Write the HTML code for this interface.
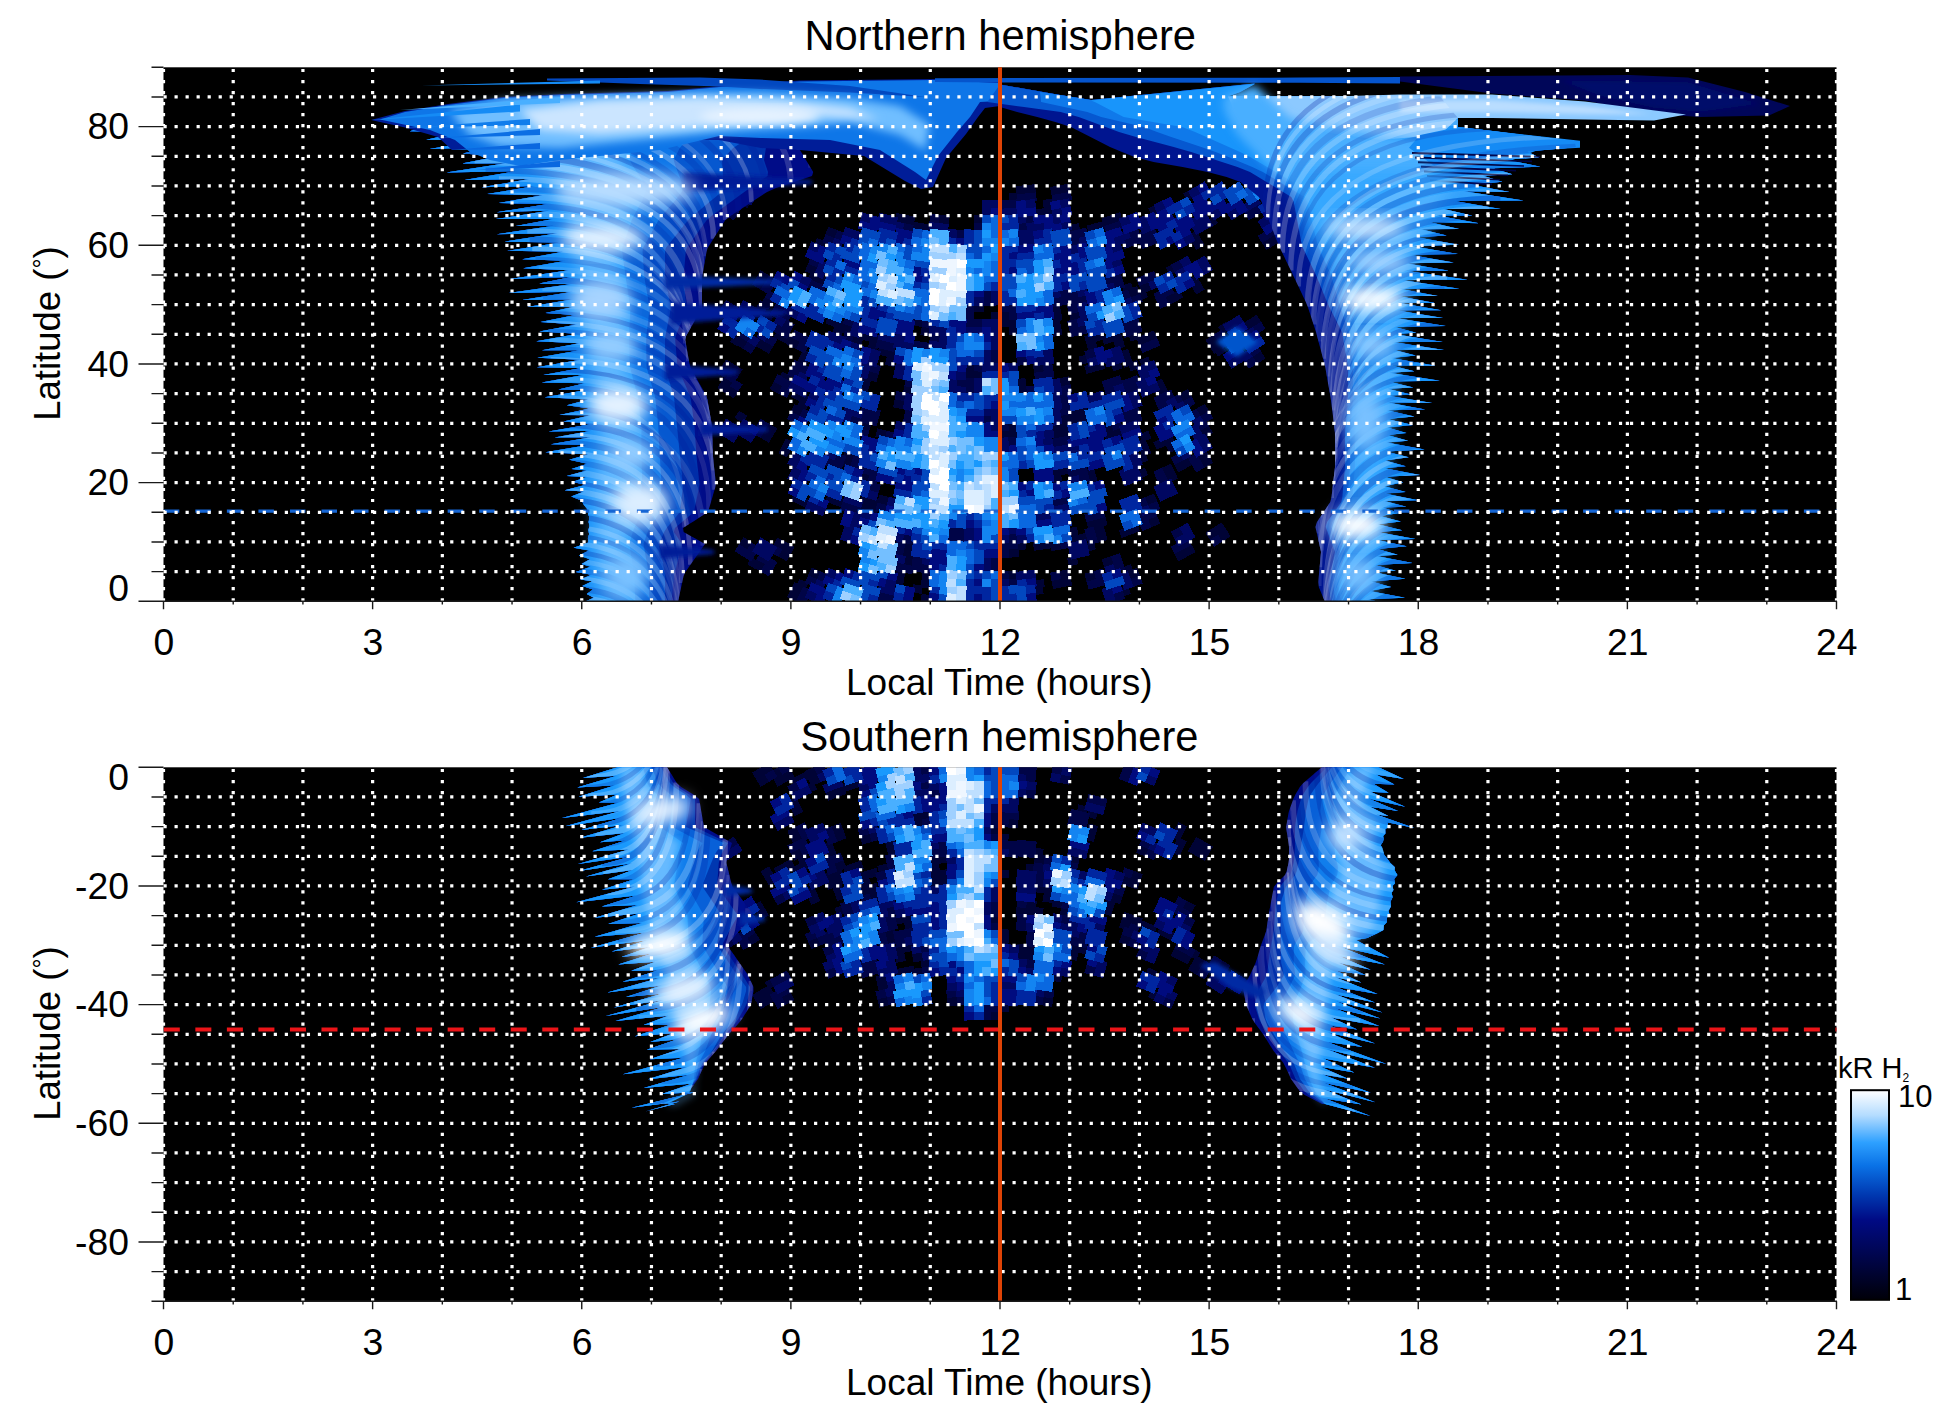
<!DOCTYPE html>
<html lang="en"><head><meta charset="utf-8"><title>Local time maps</title>
<style>
html,body{margin:0;padding:0;background:#fff;}
body{width:1950px;height:1423px;overflow:hidden;font-family:"Liberation Sans",sans-serif;}
svg{display:block;font-family:"Liberation Sans",sans-serif;}
.gr{fill:none;stroke:#fff;stroke-width:3.2;stroke-dasharray:3.2 7.826;}
.tk{fill:none;stroke:#1a1a1a;stroke-width:1.4;}
.tl{font-size:37.3px;fill:#000;}
.cn{font-size:31px;fill:#000;}
.ti{font-size:41.6px;fill:#000;}
.al{font-size:36.5px;fill:#000;}
.cb{font-size:29px;fill:#000;}
</style></head><body>
<svg width="1950" height="1423" viewBox="0 0 1950 1423">
<defs>
<linearGradient id="cbg" x1="0" y1="0" x2="0" y2="1">
<stop offset="0" stop-color="#ffffff"/>
<stop offset="0.12" stop-color="#b4dcff"/>
<stop offset="0.25" stop-color="#2da0ff"/>
<stop offset="0.36" stop-color="#0a72e6"/>
<stop offset="0.50" stop-color="#0038b0"/>
<stop offset="0.62" stop-color="#000a84"/>
<stop offset="0.80" stop-color="#00054a"/>
<stop offset="1" stop-color="#000008"/>
</linearGradient>
<clipPath id="cn"><rect x="163.5" y="67.3" width="1673.0" height="534.0"/></clipPath>
<clipPath id="cs"><rect x="163.5" y="767.3" width="1673.0" height="534.0"/></clipPath>
<filter id="b2" x="-20%" y="-20%" width="140%" height="140%"><feGaussianBlur stdDeviation="2"/></filter>
<filter id="b4" x="-30%" y="-30%" width="160%" height="160%"><feGaussianBlur stdDeviation="4"/></filter>
<filter id="b8" x="-50%" y="-50%" width="200%" height="200%"><feGaussianBlur stdDeviation="8"/></filter>
<filter id="b14" x="-50%" y="-50%" width="200%" height="200%"><feGaussianBlur stdDeviation="14"/></filter>
</defs>
<rect width="1950" height="1423" fill="#fff"/>

<rect x="163.5" y="67.3" width="1673.0" height="534.0" fill="#000"/>
<g clip-path="url(#cn)">
<g shape-rendering="crispEdges"><path d="M1008.8 193.4L1018.5 192.9L1019.0 201.1L1009.3 201.7zM1015.7 186.1L1025.4 185.2L1026.2 193.4L1016.5 194.4zM1025.4 185.2L1035.1 184.2L1035.9 192.4L1026.2 193.4zM1050.0 187.0L1059.6 185.3L1061.1 193.4L1051.5 195.2zM1059.6 185.3L1069.2 183.5L1070.7 191.6L1061.1 193.4zM1183.1 193.4L1191.7 188.9L1195.6 196.3L1186.9 200.8zM743.5 196.0L751.7 201.2L747.3 208.2L739.1 203.1zM1042.5 200.0L1052.1 198.6L1053.3 206.9L1043.7 208.2zM1034.0 209.6L1043.7 208.2L1044.8 216.5L1035.2 217.9zM1043.7 208.2L1053.3 206.9L1054.5 215.1L1044.8 216.5zM1148.2 208.2L1157.2 204.5L1160.4 212.1L1151.4 215.9zM896.3 213.0L905.8 214.9L904.2 223.1L894.6 221.2zM905.8 214.9L915.4 216.8L913.8 225.0L904.2 223.1zM912.0 221.6L921.6 223.1L920.4 231.3L910.7 229.8zM921.6 223.1L931.3 224.6L930.0 232.8L920.4 231.3zM940.0 214.8L949.7 215.9L948.8 224.2L939.1 223.1zM974.2 214.8L983.9 215.0L983.7 223.3L973.9 223.1zM1069.0 225.3L1078.5 223.1L1080.4 231.2L1070.9 233.4zM1086.5 225.7L1095.9 223.1L1098.2 231.1L1088.7 233.7zM1095.9 223.1L1105.4 220.5L1107.6 228.5L1098.2 231.1zM1101.5 218.2L1110.8 215.2L1113.4 223.1L1104.1 226.1zM1110.8 215.2L1120.1 212.2L1122.7 220.1L1113.4 223.1zM1205.3 221.2L1213.6 216.0L1218.0 223.1L1209.7 228.3zM817.1 237.9L826.0 241.8L822.7 249.4L813.8 245.5zM828.3 226.7L837.5 230.2L834.5 237.9L825.4 234.4zM1187.9 235.6L1196.4 230.7L1200.5 237.9L1192.1 242.8zM1192.1 242.8L1200.5 237.9L1204.7 245.1L1196.2 250.0zM1262.0 243.1L1270.2 237.9L1274.6 245.0L1266.4 250.1zM1270.2 237.9L1278.5 232.7L1282.9 239.8L1274.6 245.0zM808.1 263.7L817.1 267.6L813.8 275.2L804.8 271.3zM1165.7 267.6L1174.5 263.4L1178.0 271.0L1169.2 275.1zM760.6 270.3L769.0 275.3L764.8 282.4L756.4 277.4zM756.4 277.4L764.8 282.4L760.5 289.6L752.1 284.6zM811.4 270.9L820.4 274.8L817.1 282.4L808.1 278.5zM820.4 274.8L829.3 278.7L826.0 286.3L817.1 282.4zM1121.6 285.8L1130.8 282.4L1133.7 290.2L1124.5 293.6zM1139.2 286.2L1148.2 282.4L1151.4 290.1L1142.4 293.8zM1187.9 280.1L1196.4 275.2L1200.5 282.4L1192.1 287.3zM1192.1 287.3L1200.5 282.4L1204.7 289.6L1196.2 294.5zM764.8 297.2L773.2 302.2L768.9 309.4L760.5 304.4zM1127.9 289.5L1137.1 286.1L1140.0 293.9L1130.8 297.2zM1136.0 293.4L1145.0 289.6L1148.2 297.2L1139.2 301.0zM1165.7 297.2L1174.5 293.1L1178.0 300.6L1169.2 304.8zM1170.6 294.4L1179.3 289.9L1183.1 297.2L1174.4 301.8zM760.6 300.0L769.0 304.9L764.8 312.1L756.4 307.1zM756.4 307.1L764.8 312.1L760.5 319.2L752.1 314.3zM764.8 312.1L773.2 317.1L768.9 324.2L760.5 319.2zM974.2 303.8L983.9 304.0L983.7 312.3L973.9 312.1zM991.4 312.1L1001.1 311.9L1001.3 320.2L991.5 320.4zM999.1 312.6L1008.8 312.1L1009.3 320.4L999.5 320.9zM1050.0 305.7L1059.6 303.9L1061.1 312.1L1051.5 313.9zM1051.5 313.9L1061.1 312.1L1062.6 320.2L1053.0 322.0zM1069.0 314.3L1078.5 312.1L1080.4 320.2L1070.9 322.4zM828.3 315.7L837.5 319.2L834.5 326.9L825.4 323.4zM837.5 319.2L846.6 322.6L843.6 330.4L834.5 326.9zM834.5 326.9L843.6 330.4L840.6 338.2L831.5 334.7zM842.7 323.8L851.9 326.9L849.3 334.8L840.0 331.7zM913.3 317.2L922.9 318.7L921.6 326.9L912.0 325.4zM921.6 326.9L931.3 328.4L930.0 336.6L920.4 335.1zM998.6 319.2L1008.3 318.6L1008.8 326.9L999.1 327.5zM1008.3 318.6L1018.1 318.1L1018.5 326.3L1008.8 326.9zM1008.8 326.9L1018.5 326.3L1019.0 334.6L1009.3 335.2zM1050.0 320.5L1059.6 318.7L1061.1 326.9L1051.5 328.7zM1051.5 328.7L1061.1 326.9L1062.6 335.1L1053.0 336.9zM1218.0 326.9L1226.2 321.7L1230.6 328.8L1222.4 334.0zM1240.1 325.0L1248.4 319.9L1252.8 326.9L1244.5 332.1zM1248.4 319.9L1256.7 314.7L1261.1 321.7L1252.8 326.9zM734.3 334.7L742.6 339.9L738.2 346.9L729.9 341.7zM739.1 336.6L747.3 341.7L742.9 348.8L734.7 343.6zM756.4 336.8L764.8 341.7L760.5 348.9L752.1 343.9zM764.8 341.7L773.2 346.7L768.9 353.9L760.5 348.9zM777.5 329.8L786.1 334.4L782.2 341.7L773.6 337.1zM786.1 334.4L794.7 339.0L790.8 346.4L782.2 341.7zM790.8 337.5L799.6 341.7L796.0 349.2L787.2 345.0zM854.6 333.9L863.8 337.0L861.2 344.8L851.9 341.7zM862.3 331.1L871.7 333.8L869.4 341.7L860.0 339.0zM871.7 333.8L881.0 336.5L878.7 344.5L869.4 341.7zM869.4 341.7L878.7 344.5L876.4 352.4L867.1 349.7zM1084.3 336.3L1093.7 333.7L1095.9 341.7L1086.5 344.3zM1093.7 333.7L1103.1 331.1L1105.4 339.1L1095.9 341.7zM1086.5 344.3L1095.9 341.7L1098.2 349.8L1088.7 352.4zM1101.5 336.8L1110.8 333.8L1113.4 341.7L1104.1 344.7zM1110.8 333.8L1120.1 330.8L1122.7 338.8L1113.4 341.7zM1113.4 341.7L1122.7 338.8L1125.2 346.7L1115.9 349.7zM1127.9 334.0L1137.1 330.6L1140.0 338.4L1130.8 341.7zM1136.0 337.9L1145.0 334.1L1148.2 341.7L1139.2 345.5zM1145.0 334.1L1154.0 330.3L1157.2 338.0L1148.2 341.7zM1205.3 339.9L1213.6 334.7L1218.0 341.7L1209.7 346.9zM1209.7 346.9L1218.0 341.7L1222.4 348.8L1214.1 354.0zM803.2 349.1L812.0 353.3L808.4 360.8L799.6 356.6zM799.6 356.6L808.4 360.8L804.8 368.3L796.0 364.1zM879.3 346.2L888.7 348.5L886.8 356.6L877.3 354.3zM888.7 348.5L898.2 350.8L896.3 358.9L886.8 356.6zM886.8 356.6L896.3 358.9L894.3 367.0L884.8 364.7zM1078.5 356.6L1088.0 354.4L1089.9 362.5L1080.4 364.7zM1118.8 352.2L1127.9 348.8L1130.8 356.6L1121.6 360.0zM1121.6 360.0L1130.8 356.6L1133.7 364.4L1124.5 367.8zM1139.2 360.3L1148.2 356.6L1151.4 364.2L1142.4 368.0zM1213.6 349.5L1221.8 344.4L1226.2 351.4L1218.0 356.6zM1252.8 356.6L1261.1 351.4L1265.5 358.5L1257.2 363.6zM726.0 359.2L734.3 364.4L729.9 371.4L721.6 366.2zM734.3 364.4L742.6 369.5L738.2 376.6L729.9 371.4zM721.6 366.2L729.9 371.4L725.5 378.5L717.2 373.3zM782.2 371.4L790.8 376.0L786.9 383.3L778.3 378.7zM869.4 371.4L878.7 374.1L876.4 382.1L867.1 379.4zM964.4 362.8L974.2 363.1L973.9 371.4L964.2 371.2zM964.2 371.2L973.9 371.4L973.7 379.7L964.0 379.5zM973.9 371.4L983.7 371.7L983.5 380.0L973.7 379.7zM1032.8 364.6L1042.5 363.2L1043.7 371.4L1034.0 372.8zM1084.3 366.0L1093.7 363.4L1095.9 371.4L1086.5 374.0zM1093.7 363.4L1103.1 360.8L1105.4 368.8L1095.9 371.4zM1110.8 363.5L1120.1 360.5L1122.7 368.4L1113.4 371.4zM1127.9 363.6L1137.1 360.2L1140.0 368.0L1130.8 371.4zM726.0 374.0L734.3 379.2L729.9 386.2L721.6 381.1zM721.6 381.1L729.9 386.2L725.5 393.3L717.2 388.1zM729.9 386.2L738.2 391.4L733.8 398.5L725.5 393.3zM773.6 381.6L782.2 386.2L778.3 393.6L769.7 389.0zM862.3 375.6L871.7 378.3L869.4 386.2L860.0 383.5zM860.0 383.5L869.4 386.2L867.1 394.2L857.7 391.5zM904.2 386.2L913.8 388.1L912.2 396.3L902.6 394.4zM1015.7 379.0L1025.4 378.0L1026.2 386.2L1016.5 387.2zM1016.5 387.2L1026.2 386.2L1027.1 394.5L1017.3 395.5zM1059.6 378.1L1069.2 376.3L1070.7 384.5L1061.1 386.2zM1153.3 382.9L1162.1 378.7L1165.7 386.2L1156.8 390.4zM1156.8 390.4L1165.7 386.2L1169.2 393.8L1160.4 397.9zM794.5 389.4L803.2 393.6L799.6 401.1L790.8 396.8zM803.2 393.6L812.0 397.8L808.4 405.3L799.6 401.1zM799.6 401.1L808.4 405.3L804.8 412.8L796.0 408.6zM894.6 399.2L904.2 401.1L902.6 409.2L893.0 407.3zM1179.3 393.7L1187.9 389.2L1191.7 396.6L1183.1 401.1zM739.1 410.7L747.3 415.9L742.9 423.0L734.7 417.8zM794.5 404.2L803.2 408.4L799.6 415.9L790.8 411.7zM1061.1 415.9L1070.7 414.1L1072.2 422.3L1062.6 424.1zM1067.1 410.0L1076.6 407.8L1078.5 415.9L1069.0 418.1zM1076.6 407.8L1086.2 405.6L1088.0 413.7L1078.5 415.9zM1069.0 418.1L1078.5 415.9L1080.4 424.0L1070.9 426.2zM1078.5 415.9L1088.0 413.7L1089.9 421.8L1080.4 424.0zM1196.4 408.7L1204.8 403.8L1209.0 411.0L1200.5 415.9zM769.0 423.6L777.4 428.6L773.2 435.7L764.8 430.7zM764.8 430.7L773.2 435.7L768.9 442.9L760.5 437.9zM862.3 420.1L871.7 422.8L869.4 430.7L860.0 428.0zM877.3 428.4L886.8 430.7L884.8 438.8L875.3 436.5zM1008.3 422.5L1018.1 421.9L1018.5 430.2L1008.8 430.7zM999.1 431.3L1008.8 430.7L1009.3 439.0L999.5 439.6zM1008.8 430.7L1018.5 430.2L1019.0 438.5L1009.3 439.0zM1050.0 424.4L1059.6 422.6L1061.1 430.7L1051.5 432.5zM1059.6 422.6L1069.2 420.8L1070.7 429.0L1061.1 430.7zM1051.5 432.5L1061.1 430.7L1062.6 438.9L1053.0 440.7zM1061.1 430.7L1070.7 429.0L1072.2 437.1L1062.6 438.9zM1101.5 425.8L1110.8 422.8L1113.4 430.7L1104.1 433.7zM1104.1 433.7L1113.4 430.7L1115.9 438.7L1106.6 441.6zM1113.4 430.7L1122.7 427.8L1125.2 435.7L1115.9 438.7zM1139.2 434.5L1148.2 430.7L1151.4 438.4L1142.4 442.2zM1200.5 430.7L1209.0 425.9L1213.1 433.1L1204.7 437.9zM786.1 438.3L794.7 442.9L790.8 450.2L782.2 445.6zM782.2 445.6L790.8 450.2L786.9 457.5L778.3 452.9zM1136.0 441.7L1145.0 437.9L1148.2 445.6L1139.2 449.3zM1139.2 449.3L1148.2 445.6L1151.4 453.2L1142.4 457.0zM1153.3 442.2L1162.1 438.1L1165.7 445.6L1156.8 449.7zM1162.1 438.1L1171.0 433.9L1174.5 441.4L1165.7 445.6zM1165.7 445.6L1174.5 441.4L1178.0 449.0L1169.2 453.1zM845.3 449.4L854.6 452.5L851.9 460.4L842.7 457.3zM842.7 457.3L851.9 460.4L849.3 468.3L840.0 465.2zM1136.0 456.5L1145.0 452.7L1148.2 460.4L1139.2 464.2zM1174.4 464.9L1183.1 460.4L1186.9 467.8L1178.3 472.3zM1183.1 460.4L1191.7 455.9L1195.6 463.3L1186.9 467.8zM1196.4 453.2L1204.8 448.3L1209.0 455.5L1200.5 460.4zM1200.5 460.4L1209.0 455.5L1213.1 462.7L1204.7 467.6zM860.0 472.5L869.4 475.2L867.1 483.2L857.7 480.5zM1050.0 468.9L1059.6 467.1L1061.1 475.2L1051.5 477.0zM1059.6 467.1L1069.2 465.3L1070.7 473.5L1061.1 475.2zM1051.5 477.0L1061.1 475.2L1062.6 483.4L1053.0 485.2zM1084.3 469.8L1093.7 467.2L1095.9 475.2L1086.5 477.8zM1086.5 477.8L1095.9 475.2L1098.2 483.3L1088.7 485.8zM1136.0 471.3L1145.0 467.6L1148.2 475.2L1139.2 479.0zM1162.1 467.7L1171.0 463.6L1174.5 471.1L1165.7 475.2zM1165.7 475.2L1174.5 471.1L1178.0 478.6L1169.2 482.8zM794.5 493.2L803.2 497.4L799.6 504.9L790.8 500.7zM803.2 497.4L812.0 501.7L808.4 509.2L799.6 504.9zM828.3 493.7L837.5 497.2L834.5 504.9L825.4 501.4zM837.5 497.2L846.6 500.6L843.6 508.4L834.5 504.9zM862.3 494.2L871.7 496.9L869.4 504.9L860.0 502.2zM871.7 496.9L881.0 499.6L878.7 507.6L869.4 504.9zM860.0 502.2L869.4 504.9L867.1 512.9L857.7 510.2zM869.4 504.9L878.7 507.6L876.4 515.6L867.1 512.9zM879.3 494.5L888.7 496.8L886.8 504.9L877.3 502.6zM1145.0 497.2L1154.0 493.5L1157.2 501.1L1148.2 504.9zM1086.5 522.3L1095.9 519.7L1098.2 527.7L1088.7 530.3zM1095.9 519.7L1105.4 517.1L1107.6 525.2L1098.2 527.7zM1148.2 519.7L1157.2 516.0L1160.4 523.6L1151.4 527.4zM1067.1 528.7L1076.6 526.5L1078.5 534.6L1069.0 536.8zM1069.0 536.8L1078.5 534.6L1080.4 542.7L1070.9 544.9zM1078.5 534.6L1088.0 532.4L1089.9 540.5L1080.4 542.7zM1093.7 526.6L1103.1 524.0L1105.4 532.0L1095.9 534.6zM1095.9 534.6L1105.4 532.0L1107.6 540.0L1098.2 542.6zM1118.8 530.2L1127.9 526.8L1130.8 534.6L1121.6 538.0zM1127.9 526.8L1137.1 523.4L1140.0 531.2L1130.8 534.6zM1205.3 532.7L1213.6 527.5L1218.0 534.6L1209.7 539.7zM1213.6 527.5L1221.8 522.4L1226.2 529.4L1218.0 534.6zM1218.0 534.6L1226.2 529.4L1230.6 536.4L1222.4 541.6zM743.5 537.2L751.7 542.4L747.3 549.4L739.1 544.2zM777.5 537.5L786.1 542.1L782.2 549.4L773.6 544.8zM786.1 542.1L794.7 546.7L790.8 554.0L782.2 549.4zM782.2 549.4L790.8 554.0L786.9 561.3L778.3 556.7zM905.8 541.3L915.4 543.2L913.8 551.3L904.2 549.4zM904.2 549.4L913.8 551.3L912.2 559.5L902.6 557.6zM1008.8 549.4L1018.5 548.8L1019.0 557.1L1009.3 557.7zM1015.7 542.1L1025.4 541.1L1026.2 549.4L1016.5 550.4zM1032.8 542.6L1042.5 541.2L1043.7 549.4L1034.0 550.8zM1042.5 541.2L1052.1 539.8L1053.3 548.0L1043.7 549.4zM1050.0 543.0L1059.6 541.2L1061.1 549.4L1051.5 551.2zM1084.3 544.0L1093.7 541.4L1095.9 549.4L1086.5 552.0zM1174.4 553.9L1183.1 549.4L1186.9 556.8L1178.3 561.3zM1183.1 549.4L1191.7 544.9L1195.6 552.3L1186.9 556.8zM751.7 557.2L760.0 562.4L755.6 569.4L747.3 564.2zM756.4 559.3L764.8 564.2L760.5 571.4L752.1 566.4zM905.8 556.1L915.4 558.0L913.8 566.1L904.2 564.2zM1067.1 558.3L1076.6 556.1L1078.5 564.2L1069.0 566.4zM1101.5 559.3L1110.8 556.3L1113.4 564.2L1104.1 567.2zM1121.6 567.6L1130.8 564.2L1133.7 572.0L1124.5 575.4zM799.6 579.1L808.4 583.3L804.8 590.8L796.0 586.6zM811.4 567.6L820.4 571.4L817.1 579.1L808.1 575.2zM896.3 569.0L905.8 570.9L904.2 579.1L894.6 577.2zM894.6 577.2L904.2 579.1L902.6 587.2L893.0 585.3zM922.9 570.9L932.6 572.4L931.3 580.6L921.6 579.1zM921.6 579.1L931.3 580.6L930.0 588.8L920.4 587.3zM1008.3 570.8L1018.1 570.2L1018.5 578.5L1008.8 579.1zM1034.0 580.5L1043.7 579.1L1044.8 587.3L1035.2 588.7zM1059.6 570.9L1069.2 569.1L1070.7 577.3L1061.1 579.1zM1051.5 580.9L1061.1 579.1L1062.6 587.2L1053.0 589.0zM1061.1 579.1L1070.7 577.3L1072.2 585.4L1062.6 587.2zM1084.3 573.7L1093.7 571.1L1095.9 579.1L1086.5 581.7zM1127.9 571.3L1137.1 567.9L1140.0 575.7L1130.8 579.1zM794.5 582.2L803.2 586.4L799.6 593.9L790.8 589.7zM790.8 589.7L799.6 593.9L796.0 601.4L787.2 597.1zM913.3 584.2L922.9 585.7L921.6 593.9L912.0 592.4zM921.6 593.9L931.3 595.4L930.0 603.6L920.4 602.1zM1032.8 587.1L1042.5 585.7L1043.7 593.9L1034.0 595.3zM1118.8 589.5L1127.9 586.1L1130.8 593.9L1121.6 597.3z" fill="#000336"/><path d="M751.7 186.4L760.0 191.5L755.6 198.6L747.3 193.4zM1016.5 194.4L1026.2 193.4L1027.1 201.7L1017.3 202.7zM1026.2 193.4L1035.9 192.4L1036.8 200.7L1027.1 201.7zM1051.5 195.2L1061.1 193.4L1062.6 201.6L1053.0 203.4zM1061.1 193.4L1070.7 191.6L1072.2 199.8L1062.6 201.6zM721.6 203.1L729.9 208.2L725.5 215.3L717.2 210.1zM729.9 208.2L738.2 213.4L733.8 220.5L725.5 215.3zM998.6 200.5L1008.3 200.0L1008.8 208.2L999.1 208.8zM1008.3 200.0L1018.1 199.4L1018.5 207.7L1008.8 208.2zM1244.5 213.4L1252.8 208.2L1257.2 215.3L1248.9 220.5zM1252.8 208.2L1261.1 203.1L1265.5 210.1L1257.2 215.3zM904.2 223.1L913.8 225.0L912.2 233.1L902.6 231.2zM930.3 213.7L940.0 214.8L939.1 223.1L929.4 222.0zM973.9 223.1L983.7 223.3L983.5 231.6L973.7 231.4zM1025.4 214.8L1035.1 213.8L1035.9 222.1L1026.2 223.1zM1016.5 224.1L1026.2 223.1L1027.1 231.3L1017.3 232.3zM1104.1 226.1L1113.4 223.1L1115.9 231.0L1106.6 234.0zM1113.4 223.1L1122.7 220.1L1125.2 228.0L1115.9 231.0zM837.5 230.2L846.6 233.6L843.6 241.4L834.5 237.9zM825.4 234.4L834.5 237.9L831.5 245.7L822.4 242.2zM957.1 229.6L966.8 230.3L966.2 238.6L956.5 237.9zM1067.1 232.0L1076.6 229.8L1078.5 237.9L1069.0 240.1zM1076.6 229.8L1086.2 227.6L1088.0 235.7L1078.5 237.9zM1069.0 240.1L1078.5 237.9L1080.4 246.0L1070.9 248.2zM1127.9 230.1L1137.1 226.7L1140.0 234.5L1130.8 237.9zM1121.6 241.3L1130.8 237.9L1133.7 245.7L1124.5 249.1zM1130.8 237.9L1140.0 234.5L1142.8 242.3L1133.7 245.7zM1136.0 234.0L1145.0 230.3L1148.2 237.9L1139.2 241.7zM1145.0 230.3L1154.0 226.5L1157.2 234.1L1148.2 237.9zM1139.2 241.7L1148.2 237.9L1151.4 245.6L1142.4 249.3zM1148.2 237.9L1157.2 234.1L1160.4 241.8L1151.4 245.6zM1257.6 236.0L1265.8 230.9L1270.2 237.9L1262.0 243.1zM1265.8 230.9L1274.1 225.7L1278.5 232.7L1270.2 237.9zM811.4 256.1L820.4 260.0L817.1 267.6L808.1 263.7zM1170.6 264.7L1179.3 260.2L1183.1 267.6L1174.4 272.1zM769.0 275.3L777.4 280.2L773.2 287.4L764.8 282.4zM764.8 282.4L773.2 287.4L768.9 294.5L760.5 289.6zM808.1 278.5L817.1 282.4L813.8 290.0L804.8 286.2zM817.1 282.4L826.0 286.3L822.7 293.9L813.8 290.0zM1101.5 277.5L1110.8 274.5L1113.4 282.4L1104.1 285.4zM1110.8 274.5L1120.1 271.5L1122.7 279.4L1113.4 282.4zM1113.4 282.4L1122.7 279.4L1125.2 287.3L1115.9 290.3zM1136.0 278.5L1145.0 274.8L1148.2 282.4L1139.2 286.2zM1145.0 274.8L1154.0 271.0L1157.2 278.6L1148.2 282.4zM769.0 290.1L777.4 295.1L773.2 302.2L764.8 297.2zM981.5 289.1L991.2 288.9L991.4 297.2L981.6 297.4zM981.6 297.4L991.4 297.2L991.5 305.6L981.7 305.7zM1059.6 289.1L1069.2 287.3L1070.7 295.5L1061.1 297.2zM1051.5 299.0L1061.1 297.2L1062.6 305.4L1053.0 307.2zM1061.1 297.2L1070.7 295.5L1072.2 303.6L1062.6 305.4zM1067.1 291.4L1076.6 289.2L1078.5 297.2L1069.0 299.4zM1069.0 299.4L1078.5 297.2L1080.4 305.3L1070.9 307.5zM1078.5 297.2L1088.0 295.1L1089.9 303.1L1080.4 305.3zM1118.8 292.8L1127.9 289.5L1130.8 297.2L1121.6 300.6zM1130.8 297.2L1140.0 293.9L1142.8 301.7L1133.7 305.0zM1153.3 293.9L1162.1 289.7L1165.7 297.2L1156.8 301.4zM1162.1 289.7L1171.0 285.6L1174.5 293.1L1165.7 297.2zM1156.8 301.4L1165.7 297.2L1169.2 304.8L1160.4 308.9zM726.0 299.9L734.3 305.0L729.9 312.1L721.6 306.9zM751.7 305.0L760.0 310.2L755.6 317.3L747.3 312.1zM777.5 300.1L786.1 304.8L782.2 312.1L773.6 307.5zM773.6 307.5L782.2 312.1L778.3 319.4L769.7 314.8zM782.2 312.1L790.8 316.7L786.9 324.0L778.3 319.4zM964.4 303.5L974.2 303.8L973.9 312.1L964.2 311.8zM964.2 311.8L973.9 312.1L973.7 320.4L964.0 320.1zM998.6 304.4L1008.3 303.8L1008.8 312.1L999.1 312.6zM1008.3 303.8L1018.1 303.2L1018.5 311.5L1008.8 312.1zM1008.8 312.1L1018.5 311.5L1019.0 319.8L1009.3 320.4zM1067.1 306.2L1076.6 304.0L1078.5 312.1L1069.0 314.3zM786.1 319.6L794.7 324.2L790.8 331.5L782.2 326.9zM773.6 322.3L782.2 326.9L778.3 334.2L769.7 329.6zM782.2 326.9L790.8 331.5L786.9 338.8L778.3 334.2zM845.3 315.9L854.6 319.0L851.9 326.9L842.7 323.8zM922.9 318.7L932.6 320.2L931.3 328.4L921.6 326.9zM964.4 318.3L974.2 318.6L973.9 326.9L964.2 326.7zM974.2 318.6L983.9 318.9L983.7 327.2L973.9 326.9zM1067.1 321.0L1076.6 318.8L1078.5 326.9L1069.0 329.1zM1069.0 329.1L1078.5 326.9L1080.4 335.0L1070.9 337.2zM1078.5 326.9L1088.0 324.7L1089.9 332.8L1080.4 335.0zM1118.8 322.5L1127.9 319.1L1130.8 326.9L1121.6 330.3zM1127.9 319.1L1137.1 315.7L1140.0 323.5L1130.8 326.9zM1121.6 330.3L1130.8 326.9L1133.7 334.7L1124.5 338.1zM1130.8 326.9L1140.0 323.5L1142.8 331.3L1133.7 334.7zM1252.8 326.9L1261.1 321.7L1265.5 328.8L1257.2 334.0zM743.5 329.5L751.7 334.7L747.3 341.7L739.1 336.6zM747.3 341.7L755.6 346.9L751.2 354.0L742.9 348.8zM769.0 334.6L777.4 339.6L773.2 346.7L764.8 341.7zM794.5 330.0L803.2 334.3L799.6 341.7L790.8 337.5zM803.2 334.3L812.0 338.5L808.4 346.0L799.6 341.7zM799.6 341.7L808.4 346.0L804.8 353.5L796.0 349.2zM845.3 330.8L854.6 333.9L851.9 341.7L842.7 338.6zM877.3 339.4L886.8 341.7L884.8 349.8L875.3 347.5zM886.8 341.7L896.3 344.1L894.3 352.1L884.8 349.8zM912.0 340.3L921.6 341.7L920.4 350.0L910.7 348.5zM921.6 341.7L931.3 343.2L930.0 351.5L920.4 350.0zM930.3 332.4L940.0 333.5L939.1 341.7L929.4 340.7zM1139.2 345.5L1148.2 341.7L1151.4 349.4L1142.4 353.2zM1148.2 341.7L1157.2 338.0L1160.4 345.6L1151.4 349.4zM1213.6 334.7L1221.8 329.5L1226.2 336.6L1218.0 341.7zM1218.0 341.7L1226.2 336.6L1230.6 343.6L1222.4 348.8zM991.2 348.3L1001.0 348.1L1001.1 356.4L991.4 356.6zM991.4 356.6L1001.1 356.4L1001.3 364.7L991.5 364.9zM1016.5 357.6L1026.2 356.6L1027.1 364.8L1017.3 365.8zM1084.3 351.2L1093.7 348.6L1095.9 356.6L1086.5 359.2zM1248.4 349.5L1256.7 344.4L1261.1 351.4L1252.8 356.6zM1244.5 361.8L1252.8 356.6L1257.2 363.6L1248.9 368.8zM729.9 371.4L738.2 376.6L733.8 383.6L725.5 378.5zM794.5 359.7L803.2 363.9L799.6 371.4L790.8 367.2zM803.2 363.9L812.0 368.2L808.4 375.7L799.6 371.4zM790.8 367.2L799.6 371.4L796.0 378.9L787.2 374.6zM871.7 363.4L881.0 366.1L878.7 374.1L869.4 371.4zM974.2 363.1L983.9 363.4L983.7 371.7L973.9 371.4zM1042.5 363.2L1052.1 361.8L1053.3 370.0L1043.7 371.4zM1034.0 372.8L1043.7 371.4L1044.8 379.6L1035.2 381.0zM1043.7 371.4L1053.3 370.0L1054.5 378.2L1044.8 379.6zM734.3 379.2L742.6 384.4L738.2 391.4L729.9 386.2zM777.5 374.3L786.1 378.9L782.2 386.2L773.6 381.6zM786.1 378.9L794.7 383.5L790.8 390.9L782.2 386.2zM782.2 386.2L790.8 390.9L786.9 398.2L778.3 393.6zM905.8 378.1L915.4 380.0L913.8 388.1L904.2 386.2zM957.1 378.0L966.8 378.6L966.2 386.9L956.5 386.2zM964.4 377.7L974.2 377.9L973.9 386.2L964.2 386.0zM964.2 386.0L973.9 386.2L973.7 394.5L964.0 394.3zM1026.2 386.2L1035.9 385.3L1036.8 393.5L1027.1 394.5zM1061.1 386.2L1070.7 384.5L1072.2 392.6L1062.6 394.4zM1101.5 381.3L1110.8 378.3L1113.4 386.2L1104.1 389.2zM1110.8 378.3L1120.1 375.3L1122.7 383.3L1113.4 386.2zM1104.1 389.2L1113.4 386.2L1115.9 394.2L1106.6 397.1zM1118.8 381.8L1127.9 378.5L1130.8 386.2L1121.6 389.6zM1127.9 378.5L1137.1 375.1L1140.0 382.9L1130.8 386.2zM1121.6 389.6L1130.8 386.2L1133.7 394.0L1124.5 397.4zM1130.8 386.2L1140.0 382.9L1142.8 390.7L1133.7 394.0zM896.3 391.0L905.8 392.9L904.2 401.1L894.6 399.2zM1059.6 392.9L1069.2 391.1L1070.7 399.3L1061.1 401.1zM1061.1 401.1L1070.7 399.3L1072.2 407.5L1062.6 409.2zM1153.3 397.7L1162.1 393.6L1165.7 401.1L1156.8 405.2zM1162.1 393.6L1171.0 389.4L1174.5 396.9L1165.7 401.1zM1156.8 405.2L1165.7 401.1L1169.2 408.6L1160.4 412.7zM1170.6 398.2L1179.3 393.7L1183.1 401.1L1174.4 405.6zM1183.1 401.1L1191.7 396.6L1195.6 403.9L1186.9 408.4zM803.2 408.4L812.0 412.7L808.4 420.2L799.6 415.9zM790.8 411.7L799.6 415.9L796.0 423.4L787.2 419.1zM851.9 415.9L861.2 419.0L858.5 426.9L849.3 423.8zM862.3 405.2L871.7 407.9L869.4 415.9L860.0 413.2zM871.7 407.9L881.0 410.6L878.7 418.6L869.4 415.9zM860.0 413.2L869.4 415.9L867.1 423.9L857.7 421.2zM869.4 415.9L878.7 418.6L876.4 426.6L867.1 423.9zM905.8 407.8L915.4 409.7L913.8 417.8L904.2 415.9zM904.2 415.9L913.8 417.8L912.2 426.0L902.6 424.1zM981.6 416.1L991.4 415.9L991.5 424.2L981.7 424.4zM1059.6 407.7L1069.2 406.0L1070.7 414.1L1061.1 415.9zM1118.8 411.5L1127.9 408.1L1130.8 415.9L1121.6 419.3zM1127.9 408.1L1137.1 404.7L1140.0 412.5L1130.8 415.9zM1121.6 419.3L1130.8 415.9L1133.7 423.7L1124.5 427.1zM1130.8 415.9L1140.0 412.5L1142.8 420.3L1133.7 423.7zM1187.9 413.6L1196.4 408.7L1200.5 415.9L1192.1 420.8zM1200.5 415.9L1209.0 411.0L1213.1 418.2L1204.7 423.1zM760.6 418.6L769.0 423.6L764.8 430.7L756.4 425.8zM756.4 425.8L764.8 430.7L760.5 437.9L752.1 432.9zM860.0 428.0L869.4 430.7L867.1 438.7L857.7 436.0zM886.8 430.7L896.3 433.1L894.3 441.1L884.8 438.8zM998.6 423.0L1008.3 422.5L1008.8 430.7L999.1 431.3zM1110.8 422.8L1120.1 419.8L1122.7 427.8L1113.4 430.7zM1196.4 423.5L1204.8 418.7L1209.0 425.9L1200.5 430.7zM1008.3 437.3L1018.1 436.7L1018.5 445.0L1008.8 445.6zM1050.0 439.2L1059.6 437.4L1061.1 445.6L1051.5 447.4zM1059.6 437.4L1069.2 435.6L1070.7 443.8L1061.1 445.6zM837.5 452.7L846.6 456.1L843.6 463.9L834.5 460.4zM825.4 456.9L834.5 460.4L831.5 468.2L822.4 464.7zM834.5 460.4L843.6 463.9L840.6 471.7L831.5 468.2zM854.6 452.5L863.8 455.6L861.2 463.5L851.9 460.4zM851.9 460.4L861.2 463.5L858.5 471.4L849.3 468.3zM1170.6 457.6L1179.3 453.0L1183.1 460.4L1174.4 464.9zM1187.9 458.1L1196.4 453.2L1200.5 460.4L1192.1 465.3zM1192.1 465.3L1200.5 460.4L1204.7 467.6L1196.2 472.5zM862.3 464.6L871.7 467.3L869.4 475.2L860.0 472.5zM871.7 467.3L881.0 470.0L878.7 477.9L869.4 475.2zM869.4 475.2L878.7 477.9L876.4 485.9L867.1 483.2zM1067.1 469.3L1076.6 467.2L1078.5 475.2L1069.0 477.4zM1076.6 467.2L1086.2 465.0L1088.0 473.0L1078.5 475.2zM1078.5 475.2L1088.0 473.0L1089.9 481.1L1080.4 483.3zM1153.3 471.9L1162.1 467.7L1165.7 475.2L1156.8 479.4zM1156.8 479.4L1165.7 475.2L1169.2 482.8L1160.4 486.9zM871.7 482.1L881.0 484.8L878.7 492.8L869.4 490.1zM842.7 501.8L851.9 504.9L849.3 512.8L840.0 509.7zM851.9 504.9L861.2 508.0L858.5 515.9L849.3 512.8zM877.3 502.6L886.8 504.9L884.8 513.0L875.3 510.7zM1050.0 498.5L1059.6 496.7L1061.1 504.9L1051.5 506.7zM1059.6 496.7L1069.2 495.0L1070.7 503.1L1061.1 504.9zM1136.0 501.0L1145.0 497.2L1148.2 504.9L1139.2 508.7zM1148.2 504.9L1157.2 501.1L1160.4 508.8L1151.4 512.6zM1084.3 514.3L1093.7 511.7L1095.9 519.7L1086.5 522.3zM1093.7 511.7L1103.1 509.1L1105.4 517.1L1095.9 519.7zM1136.0 515.8L1145.0 512.1L1148.2 519.7L1139.2 523.5zM1145.0 512.1L1154.0 508.3L1157.2 516.0L1148.2 519.7zM1139.2 523.5L1148.2 519.7L1151.4 527.4L1142.4 531.2zM904.2 534.6L913.8 536.5L912.2 544.6L902.6 542.7zM947.3 525.6L957.1 526.3L956.5 534.6L946.8 533.9zM957.1 526.3L966.8 527.0L966.2 535.3L956.5 534.6zM946.8 533.9L956.5 534.6L955.9 542.9L946.2 542.2zM956.5 534.6L966.2 535.3L965.7 543.5L955.9 542.9zM1008.8 534.6L1018.5 534.0L1019.0 542.3L1009.3 542.9zM1084.3 529.2L1093.7 526.6L1095.9 534.6L1086.5 537.2zM1086.5 537.2L1095.9 534.6L1098.2 542.6L1088.7 545.2zM1170.6 531.7L1179.3 527.2L1183.1 534.6L1174.4 539.1zM1209.7 539.7L1218.0 534.6L1222.4 541.6L1214.1 546.8zM751.7 542.4L760.0 547.5L755.6 554.6L747.3 549.4zM739.1 544.2L747.3 549.4L742.9 556.5L734.7 551.3zM747.3 549.4L755.6 554.6L751.2 561.6L742.9 556.5zM773.6 544.8L782.2 549.4L778.3 556.7L769.7 552.1zM896.3 539.4L905.8 541.3L904.2 549.4L894.6 547.5zM894.6 547.5L904.2 549.4L902.6 557.6L893.0 555.7zM998.6 541.7L1008.3 541.1L1008.8 549.4L999.1 550.0zM1008.3 541.1L1018.1 540.6L1018.5 548.8L1008.8 549.4zM999.1 550.0L1008.8 549.4L1009.3 557.7L999.5 558.3zM1059.6 541.2L1069.2 539.5L1070.7 547.6L1061.1 549.4zM1170.6 546.6L1179.3 542.0L1183.1 549.4L1174.4 553.9zM1179.3 542.0L1187.9 537.5L1191.7 544.9L1183.1 549.4zM760.6 552.1L769.0 557.1L764.8 564.2L756.4 559.3zM769.0 557.1L777.4 562.1L773.2 569.2L764.8 564.2zM764.8 564.2L773.2 569.2L768.9 576.4L760.5 571.4zM894.6 562.3L904.2 564.2L902.6 572.4L893.0 570.5zM904.2 564.2L913.8 566.1L912.2 574.3L902.6 572.4zM913.3 554.5L922.9 556.0L921.6 564.2L912.0 562.7zM912.0 562.7L921.6 564.2L920.4 572.4L910.7 571.0zM921.6 564.2L931.3 565.7L930.0 573.9L920.4 572.4zM991.2 555.9L1001.0 555.8L1001.1 564.1L991.4 564.2zM991.4 564.2L1001.1 564.1L1001.3 572.4L991.5 572.5zM1110.8 556.3L1120.1 553.3L1122.7 561.2L1113.4 564.2zM1113.4 564.2L1122.7 561.2L1125.2 569.2L1115.9 572.1zM820.4 571.4L829.3 575.3L826.0 582.9L817.1 579.1zM808.1 575.2L817.1 579.1L813.8 586.7L804.8 582.8zM998.6 571.3L1008.3 570.8L1008.8 579.1L999.1 579.6zM1008.8 579.1L1018.5 578.5L1019.0 586.8L1009.3 587.4zM1050.0 572.7L1059.6 570.9L1061.1 579.1L1051.5 580.9zM1093.7 571.1L1103.1 568.5L1105.4 576.5L1095.9 579.1zM1086.5 581.7L1095.9 579.1L1098.2 587.1L1088.7 589.7zM1095.9 579.1L1105.4 576.5L1107.6 584.5L1098.2 587.1zM1130.8 579.1L1140.0 575.7L1142.8 583.5L1133.7 586.9zM803.2 586.4L812.0 590.7L808.4 598.2L799.6 593.9zM799.6 593.9L808.4 598.2L804.8 605.6L796.0 601.4zM877.3 591.6L886.8 593.9L884.8 602.0L875.3 599.7zM886.8 593.9L896.3 596.2L894.3 604.3L884.8 602.0zM1113.4 593.9L1122.7 590.9L1125.2 598.8L1115.9 601.8z" fill="#000447"/><path d="M739.1 188.2L747.3 193.4L742.9 200.5L734.7 195.3zM747.3 193.4L755.6 198.6L751.2 205.6L742.9 200.5zM1187.9 191.1L1196.4 186.2L1200.5 193.4L1192.1 198.3zM726.0 196.0L734.3 201.2L729.9 208.2L721.6 203.1zM734.3 201.2L742.6 206.4L738.2 213.4L729.9 208.2zM981.5 200.1L991.2 199.9L991.4 208.2L981.6 208.4zM991.2 199.9L1001.0 199.8L1001.1 208.1L991.4 208.2zM981.6 208.4L991.4 208.2L991.5 216.6L981.7 216.7zM999.1 208.8L1008.8 208.2L1009.3 216.5L999.5 217.1zM1008.8 208.2L1018.5 207.7L1019.0 216.0L1009.3 216.5zM1025.4 200.0L1035.1 199.0L1035.9 207.3L1026.2 208.2zM1059.6 200.1L1069.2 198.3L1070.7 206.5L1061.1 208.2zM1051.5 210.0L1061.1 208.2L1062.6 216.4L1053.0 218.2zM1153.3 204.9L1162.1 200.7L1165.7 208.2L1156.8 212.4zM1209.7 213.4L1218.0 208.2L1222.4 215.3L1214.1 220.5zM1227.1 213.4L1235.4 208.2L1239.8 215.3L1231.5 220.5zM1240.1 206.4L1248.4 201.2L1252.8 208.2L1244.5 213.4zM1248.4 201.2L1256.7 196.0L1261.1 203.1L1252.8 208.2zM1265.8 201.2L1274.1 196.0L1278.5 203.1L1270.2 208.2zM1270.2 208.2L1278.5 203.1L1282.9 210.1L1274.6 215.3zM862.3 212.4L871.7 215.1L869.4 223.1L860.0 220.4zM879.3 212.7L888.7 215.0L886.8 223.1L877.3 220.8zM888.7 215.0L898.2 217.3L896.3 225.4L886.8 223.1zM894.6 221.2L904.2 223.1L902.6 231.2L893.0 229.3zM929.4 222.0L939.1 223.1L938.2 231.3L928.5 230.3zM939.1 223.1L948.8 224.2L947.9 232.4L938.2 231.3zM1015.7 215.8L1025.4 214.8L1026.2 223.1L1016.5 224.1zM1026.2 223.1L1035.9 222.1L1036.8 230.4L1027.1 231.3zM1034.0 224.5L1043.7 223.1L1044.8 231.3L1035.2 232.7zM1050.0 216.7L1059.6 214.9L1061.1 223.1L1051.5 224.9zM1061.1 223.1L1070.7 221.3L1072.2 229.5L1062.6 231.2zM1118.8 218.7L1127.9 215.3L1130.8 223.1L1121.6 226.5zM1136.0 219.2L1145.0 215.4L1148.2 223.1L1139.2 226.9zM1139.2 226.9L1148.2 223.1L1151.4 230.7L1142.4 234.5zM1187.9 220.8L1196.4 215.9L1200.5 223.1L1192.1 228.0zM1196.4 215.9L1204.8 211.0L1209.0 218.2L1200.5 223.1zM1192.1 228.0L1200.5 223.1L1204.7 230.3L1196.2 235.2zM1200.5 223.1L1209.0 218.2L1213.1 225.4L1204.7 230.3zM1257.6 221.2L1265.8 216.0L1270.2 223.1L1262.0 228.3zM1265.8 216.0L1274.1 210.9L1278.5 217.9L1270.2 223.1zM1270.2 223.1L1278.5 217.9L1282.9 225.0L1274.6 230.1zM834.5 237.9L843.6 241.4L840.6 249.2L831.5 245.7zM845.3 226.9L854.6 230.0L851.9 237.9L842.7 234.8zM854.6 230.0L863.8 233.1L861.2 241.0L851.9 237.9zM947.3 229.0L957.1 229.6L956.5 237.9L946.8 237.2zM1015.7 230.6L1025.4 229.7L1026.2 237.9L1016.5 238.9zM1025.4 229.7L1035.1 228.7L1035.9 236.9L1026.2 237.9zM1016.5 238.9L1026.2 237.9L1027.1 246.2L1017.3 247.2zM1026.2 237.9L1035.9 236.9L1036.8 245.2L1027.1 246.2zM1078.5 237.9L1088.0 235.7L1089.9 243.8L1080.4 246.0zM1113.4 237.9L1122.7 234.9L1125.2 242.8L1115.9 245.8zM1118.8 233.5L1127.9 230.1L1130.8 237.9L1121.6 241.3zM1183.1 237.9L1191.7 233.4L1195.6 240.8L1186.9 245.3zM811.4 241.3L820.4 245.1L817.1 252.7L808.1 248.9zM1067.1 246.9L1076.6 244.7L1078.5 252.7L1069.0 254.9zM1110.8 244.8L1120.1 241.8L1122.7 249.8L1113.4 252.7zM820.4 260.0L829.3 263.8L826.0 271.5L817.1 267.6zM817.1 267.6L826.0 271.5L822.7 279.1L813.8 275.2zM1110.8 259.7L1120.1 256.7L1122.7 264.6L1113.4 267.6zM1179.3 260.2L1187.9 255.7L1191.7 263.1L1183.1 267.6zM1174.4 272.1L1183.1 267.6L1186.9 274.9L1178.3 279.5zM1196.4 260.4L1204.8 255.5L1209.0 262.7L1200.5 267.6zM1200.5 267.6L1209.0 262.7L1213.1 269.9L1204.7 274.8zM803.2 274.9L812.0 279.2L808.4 286.7L799.6 282.4zM1104.1 285.4L1113.4 282.4L1115.9 290.3L1106.6 293.3zM1148.2 282.4L1157.2 278.6L1160.4 286.3L1151.4 290.1zM973.9 297.2L983.7 297.5L983.5 305.8L973.7 305.6zM991.2 288.9L1001.0 288.8L1001.1 297.1L991.4 297.2zM991.4 297.2L1001.1 297.1L1001.3 305.4L991.5 305.6zM1050.0 290.9L1059.6 289.1L1061.1 297.2L1051.5 299.0zM1076.6 289.2L1086.2 287.0L1088.0 295.1L1078.5 297.2zM1121.6 300.6L1130.8 297.2L1133.7 305.0L1124.5 308.4zM734.3 305.0L742.6 310.2L738.2 317.3L729.9 312.1zM743.5 299.9L751.7 305.0L747.3 312.1L739.1 306.9zM786.1 304.8L794.7 309.4L790.8 316.7L782.2 312.1zM790.8 307.8L799.6 312.1L796.0 319.6L787.2 315.3zM1076.6 304.0L1086.2 301.8L1088.0 309.9L1078.5 312.1zM1078.5 312.1L1088.0 309.9L1089.9 318.0L1080.4 320.2zM777.5 315.0L786.1 319.6L782.2 326.9L773.6 322.3zM854.6 319.0L863.8 322.1L861.2 330.0L851.9 326.9zM851.9 326.9L861.2 330.0L858.5 337.9L849.3 334.8zM929.4 325.8L939.1 326.9L938.2 335.2L928.5 334.1zM939.1 326.9L948.8 328.0L947.9 336.3L938.2 335.2zM964.2 326.7L973.9 326.9L973.7 335.2L964.0 335.0zM973.9 326.9L983.7 327.2L983.5 335.5L973.7 335.2zM981.5 318.8L991.2 318.6L991.4 326.9L981.6 327.1zM991.2 318.6L1001.0 318.5L1001.1 326.8L991.4 326.9zM991.4 326.9L1001.1 326.8L1001.3 335.1L991.5 335.2zM1076.6 318.8L1086.2 316.6L1088.0 324.7L1078.5 326.9zM1222.7 325.0L1231.0 319.9L1235.4 326.9L1227.1 332.1zM1231.0 319.9L1239.3 314.7L1243.7 321.7L1235.4 326.9zM1244.5 332.1L1252.8 326.9L1257.2 334.0L1248.9 339.1zM751.7 334.7L760.0 339.9L755.6 346.9L747.3 341.7zM760.6 329.6L769.0 334.6L764.8 341.7L756.4 336.8zM828.3 330.5L837.5 334.0L834.5 341.7L825.4 338.3zM837.5 334.0L846.6 337.5L843.6 345.2L834.5 341.7zM851.9 341.7L861.2 344.8L858.5 352.7L849.3 349.6zM879.3 331.4L888.7 333.7L886.8 341.7L877.3 339.4zM888.7 333.7L898.2 336.0L896.3 344.1L886.8 341.7zM896.3 331.7L905.8 333.6L904.2 341.7L894.6 339.8zM894.6 339.8L904.2 341.7L902.6 349.9L893.0 348.0zM904.2 341.7L913.8 343.6L912.2 351.8L902.6 349.9zM940.0 333.5L949.7 334.6L948.8 342.8L939.1 341.7zM929.4 340.7L939.1 341.7L938.2 350.0L928.5 348.9zM939.1 341.7L948.8 342.8L947.9 351.1L938.2 350.0zM991.2 333.4L1001.0 333.3L1001.1 341.6L991.4 341.7zM991.4 341.7L1001.1 341.6L1001.3 349.9L991.5 350.1zM871.7 348.6L881.0 351.3L878.7 359.3L869.4 356.6zM869.4 356.6L878.7 359.3L876.4 367.3L867.1 364.6zM981.5 348.4L991.2 348.3L991.4 356.6L981.6 356.7zM981.6 356.7L991.4 356.6L991.5 364.9L981.7 365.0zM1042.5 348.4L1052.1 347.0L1053.3 355.2L1043.7 356.6zM1034.0 358.0L1043.7 356.6L1044.8 364.8L1035.2 366.2zM1043.7 356.6L1053.3 355.2L1054.5 363.4L1044.8 364.8zM1086.5 359.2L1095.9 356.6L1098.2 364.6L1088.7 367.2zM1110.8 348.7L1120.1 345.7L1122.7 353.6L1113.4 356.6zM1104.1 359.6L1113.4 356.6L1115.9 364.5L1106.6 367.5zM1113.4 356.6L1122.7 353.6L1125.2 361.5L1115.9 364.5zM1227.1 361.8L1235.4 356.6L1239.8 363.6L1231.5 368.8zM1235.4 356.6L1243.7 351.4L1248.1 358.5L1239.8 363.6zM1240.1 354.7L1248.4 349.5L1252.8 356.6L1244.5 361.8zM799.6 371.4L808.4 375.7L804.8 383.1L796.0 378.9zM862.3 360.7L871.7 363.4L869.4 371.4L860.0 368.7zM860.0 368.7L869.4 371.4L867.1 379.4L857.7 376.7zM896.3 361.4L905.8 363.3L904.2 371.4L894.6 369.5zM894.6 369.5L904.2 371.4L902.6 379.6L893.0 377.7zM956.5 371.4L966.2 372.1L965.7 380.4L955.9 379.7zM981.5 363.3L991.2 363.1L991.4 371.4L981.6 371.6zM991.2 363.1L1001.0 363.0L1001.1 371.3L991.4 371.4zM1008.3 363.1L1018.1 362.6L1018.5 370.8L1008.8 371.4zM1136.0 367.5L1145.0 363.8L1148.2 371.4L1139.2 375.2zM1145.0 363.8L1154.0 360.0L1157.2 367.6L1148.2 371.4zM1139.2 375.2L1148.2 371.4L1151.4 379.1L1142.4 382.8zM790.8 382.0L799.6 386.2L796.0 393.7L787.2 389.5zM799.6 386.2L808.4 390.5L804.8 398.0L796.0 393.7zM947.3 377.3L957.1 378.0L956.5 386.2L946.8 385.6zM946.8 385.6L956.5 386.2L955.9 394.5L946.2 393.9zM956.5 386.2L966.2 386.9L965.7 395.2L955.9 394.5zM974.2 377.9L983.9 378.2L983.7 386.5L973.9 386.2zM973.9 386.2L983.7 386.5L983.5 394.8L973.7 394.5zM1050.0 379.9L1059.6 378.1L1061.1 386.2L1051.5 388.0zM1051.5 388.0L1061.1 386.2L1062.6 394.4L1053.0 396.2zM1113.4 386.2L1122.7 383.3L1125.2 391.2L1115.9 394.2zM1136.0 382.4L1145.0 378.6L1148.2 386.2L1139.2 390.0zM1139.2 390.0L1148.2 386.2L1151.4 393.9L1142.4 397.7zM1148.2 386.2L1157.2 382.5L1160.4 390.1L1151.4 393.9zM811.4 389.6L820.4 393.5L817.1 401.1L808.1 397.2zM905.8 392.9L915.4 394.8L913.8 403.0L904.2 401.1zM904.2 401.1L913.8 403.0L912.2 411.1L902.6 409.2zM1050.0 394.7L1059.6 392.9L1061.1 401.1L1051.5 402.9zM1051.5 402.9L1061.1 401.1L1062.6 409.2L1053.0 411.0zM1084.3 395.7L1093.7 393.1L1095.9 401.1L1086.5 403.7zM1093.7 393.1L1103.1 390.5L1105.4 398.5L1095.9 401.1zM1127.9 393.3L1137.1 389.9L1140.0 397.7L1130.8 401.1zM1130.8 401.1L1140.0 397.7L1142.8 405.5L1133.7 408.9zM1165.7 401.1L1174.5 396.9L1178.0 404.5L1169.2 408.6zM1174.4 405.6L1183.1 401.1L1186.9 408.4L1178.3 413.0zM845.3 404.9L854.6 408.0L851.9 415.9L842.7 412.8zM854.6 408.0L863.8 411.1L861.2 419.0L851.9 415.9zM842.7 412.8L851.9 415.9L849.3 423.8L840.0 420.7zM981.5 407.8L991.2 407.6L991.4 415.9L981.6 416.1zM991.2 407.6L1001.0 407.5L1001.1 415.8L991.4 415.9zM991.4 415.9L1001.1 415.8L1001.3 424.1L991.5 424.2zM1050.0 409.5L1059.6 407.7L1061.1 415.9L1051.5 417.7zM1051.5 417.7L1061.1 415.9L1062.6 424.1L1053.0 425.9zM1192.1 420.8L1200.5 415.9L1204.7 423.1L1196.2 428.0zM726.0 418.5L734.3 423.7L729.9 430.7L721.6 425.6zM734.3 423.7L742.6 428.9L738.2 435.9L729.9 430.7zM721.6 425.6L729.9 430.7L725.5 437.8L717.2 432.6zM729.9 430.7L738.2 435.9L733.8 443.0L725.5 437.8zM743.5 418.5L751.7 423.7L747.3 430.7L739.1 425.6zM739.1 425.6L747.3 430.7L742.9 437.8L734.7 432.6zM747.3 430.7L755.6 435.9L751.2 443.0L742.9 437.8zM896.3 420.7L905.8 422.6L904.2 430.7L894.6 428.8zM991.2 422.4L1001.0 422.3L1001.1 430.6L991.4 430.7zM1043.7 430.7L1053.3 429.4L1054.5 437.6L1044.8 439.0zM1118.8 426.3L1127.9 423.0L1130.8 430.7L1121.6 434.1zM1127.9 423.0L1137.1 419.6L1140.0 427.4L1130.8 430.7zM1187.9 428.4L1196.4 423.5L1200.5 430.7L1192.1 435.6zM1192.1 435.6L1200.5 430.7L1204.7 437.9L1196.2 442.8zM998.6 437.8L1008.3 437.3L1008.8 445.6L999.1 446.1zM999.1 446.1L1008.8 445.6L1009.3 453.9L999.5 454.4zM1042.5 437.4L1052.1 436.0L1053.3 444.2L1043.7 445.6zM1051.5 447.4L1061.1 445.6L1062.6 453.7L1053.0 455.5zM1061.1 445.6L1070.7 443.8L1072.2 451.9L1062.6 453.7zM1069.0 447.8L1078.5 445.6L1080.4 453.7L1070.9 455.9zM1196.4 438.4L1204.8 433.5L1209.0 440.7L1200.5 445.6zM1200.5 445.6L1209.0 440.7L1213.1 447.9L1204.7 452.8zM794.5 448.7L803.2 452.9L799.6 460.4L790.8 456.2zM790.8 456.2L799.6 460.4L796.0 467.9L787.2 463.6zM828.3 449.2L837.5 452.7L834.5 460.4L825.4 456.9zM1127.9 452.6L1137.1 449.2L1140.0 457.0L1130.8 460.4zM1130.8 460.4L1140.0 457.0L1142.8 464.8L1133.7 468.2zM1179.3 453.0L1187.9 448.5L1191.7 455.9L1183.1 460.4zM794.5 463.5L803.2 467.8L799.6 475.2L790.8 471.0zM790.8 471.0L799.6 475.2L796.0 482.7L787.2 478.5zM1069.0 477.4L1078.5 475.2L1080.4 483.3L1070.9 485.5zM1118.8 470.8L1127.9 467.5L1130.8 475.2L1121.6 478.6zM1127.9 467.5L1137.1 464.1L1140.0 471.9L1130.8 475.2zM1121.6 478.6L1130.8 475.2L1133.7 483.0L1124.5 486.4zM1130.8 475.2L1140.0 471.9L1142.8 479.7L1133.7 483.0zM869.4 490.1L878.7 492.8L876.4 500.8L867.1 498.1zM1153.3 486.7L1162.1 482.6L1165.7 490.1L1156.8 494.2zM1162.1 482.6L1171.0 478.4L1174.5 485.9L1165.7 490.1zM1156.8 494.2L1165.7 490.1L1169.2 497.6L1160.4 501.7zM1165.7 490.1L1174.5 485.9L1178.0 493.5L1169.2 497.6zM808.1 501.0L817.1 504.9L813.8 512.5L804.8 508.7zM817.1 504.9L826.0 508.8L822.7 516.4L813.8 512.5zM845.3 493.9L854.6 497.0L851.9 504.9L842.7 501.8zM854.6 497.0L863.8 500.1L861.2 508.0L851.9 504.9zM888.7 496.8L898.2 499.1L896.3 507.2L886.8 504.9zM1051.5 506.7L1061.1 504.9L1062.6 513.1L1053.0 514.9zM1061.1 504.9L1070.7 503.1L1072.2 511.3L1062.6 513.1zM1139.2 508.7L1148.2 504.9L1151.4 512.6L1142.4 516.3zM854.6 511.9L863.8 515.0L861.2 522.8L851.9 519.7zM851.9 519.7L861.2 522.8L858.5 530.7L849.3 527.6zM862.3 509.1L871.7 511.8L869.4 519.7L860.0 517.0zM1032.8 512.9L1042.5 511.5L1043.7 519.7L1034.0 521.1zM1042.5 511.5L1052.1 510.1L1053.3 518.4L1043.7 519.7zM845.3 523.6L854.6 526.7L851.9 534.6L842.7 531.5zM842.7 531.5L851.9 534.6L849.3 542.5L840.0 539.4zM894.6 532.7L904.2 534.6L902.6 542.7L893.0 540.8zM964.4 526.0L974.2 526.3L973.9 534.6L964.2 534.3zM964.2 534.3L973.9 534.6L973.7 542.9L964.0 542.6zM1008.3 526.3L1018.1 525.7L1018.5 534.0L1008.8 534.6zM999.1 535.1L1008.8 534.6L1009.3 542.9L999.5 543.4zM1016.5 535.6L1026.2 534.6L1027.1 542.8L1017.3 543.8zM1179.3 527.2L1187.9 522.7L1191.7 530.1L1183.1 534.6zM1174.4 539.1L1183.1 534.6L1186.9 541.9L1178.3 546.5zM1183.1 534.6L1191.7 530.1L1195.6 537.4L1186.9 541.9zM760.6 537.3L769.0 542.3L764.8 549.4L756.4 544.4zM769.0 542.3L777.4 547.2L773.2 554.4L764.8 549.4zM756.4 544.4L764.8 549.4L760.5 556.6L752.1 551.6zM764.8 549.4L773.2 554.4L768.9 561.5L760.5 556.6zM1067.1 543.5L1076.6 541.3L1078.5 549.4L1069.0 551.6zM1076.6 541.3L1086.2 539.1L1088.0 547.2L1078.5 549.4zM1069.0 551.6L1078.5 549.4L1080.4 557.5L1070.9 559.7zM1078.5 549.4L1088.0 547.2L1089.9 555.3L1080.4 557.5zM896.3 554.2L905.8 556.1L904.2 564.2L894.6 562.3zM922.9 556.0L932.6 557.5L931.3 565.7L921.6 564.2zM981.5 556.1L991.2 555.9L991.4 564.2L981.6 564.4zM981.6 564.4L991.4 564.2L991.5 572.5L981.7 572.7zM1104.1 567.2L1113.4 564.2L1115.9 572.1L1106.6 575.1zM817.1 579.1L826.0 582.9L822.7 590.6L813.8 586.7zM828.3 567.8L837.5 571.3L834.5 579.1L825.4 575.6zM886.8 579.1L896.3 581.4L894.3 589.5L884.8 587.1zM999.1 579.6L1008.8 579.1L1009.3 587.4L999.5 587.9zM1015.7 571.8L1025.4 570.8L1026.2 579.1L1016.5 580.0zM1025.4 570.8L1035.1 569.8L1035.9 578.1L1026.2 579.1zM1118.8 574.7L1127.9 571.3L1130.8 579.1L1121.6 582.5zM1121.6 582.5L1130.8 579.1L1133.7 586.9L1124.5 590.2zM808.1 590.0L817.1 593.9L813.8 601.5L804.8 597.7zM879.3 583.5L888.7 585.8L886.8 593.9L877.3 591.6zM888.7 585.8L898.2 588.1L896.3 596.2L886.8 593.9zM1101.5 589.0L1110.8 586.0L1113.4 593.9L1104.1 596.9zM1104.1 596.9L1113.4 593.9L1115.9 601.8L1106.6 604.8z" fill="#000761"/><path d="M726.0 181.2L734.3 186.4L729.9 193.4L721.6 188.2zM734.3 186.4L742.6 191.5L738.2 198.6L729.9 193.4zM743.5 181.2L751.7 186.4L747.3 193.4L739.1 188.2zM1196.4 186.2L1204.8 181.3L1209.0 188.5L1200.5 193.4zM1192.1 198.3L1200.5 193.4L1204.7 200.6L1196.2 205.5zM991.4 208.2L1001.1 208.1L1001.3 216.4L991.5 216.6zM1015.7 201.0L1025.4 200.0L1026.2 208.2L1016.5 209.2zM1016.5 209.2L1026.2 208.2L1027.1 216.5L1017.3 217.5zM1026.2 208.2L1035.9 207.3L1036.8 215.5L1027.1 216.5zM1050.0 201.9L1059.6 200.1L1061.1 208.2L1051.5 210.0zM1061.1 208.2L1070.7 206.5L1072.2 214.6L1062.6 216.4zM1162.1 200.7L1171.0 196.6L1174.5 204.1L1165.7 208.2zM1156.8 212.4L1165.7 208.2L1169.2 215.8L1160.4 219.9zM1187.9 205.9L1196.4 201.1L1200.5 208.2L1192.1 213.1zM1196.4 201.1L1204.8 196.2L1209.0 203.4L1200.5 208.2zM1192.1 213.1L1200.5 208.2L1204.7 215.4L1196.2 220.3zM1200.5 208.2L1209.0 203.4L1213.1 210.6L1204.7 215.4zM1205.3 206.4L1213.6 201.2L1218.0 208.2L1209.7 213.4zM1213.6 201.2L1221.8 196.0L1226.2 203.1L1218.0 208.2zM1218.0 208.2L1226.2 203.1L1230.6 210.1L1222.4 215.3zM1222.7 206.4L1231.0 201.2L1235.4 208.2L1227.1 213.4zM1231.0 201.2L1239.3 196.0L1243.7 203.1L1235.4 208.2zM1235.4 208.2L1243.7 203.1L1248.1 210.1L1239.8 215.3zM1262.0 213.4L1270.2 208.2L1274.6 215.3L1266.4 220.5zM871.7 215.1L881.0 217.8L878.7 225.8L869.4 223.1zM860.0 220.4L869.4 223.1L867.1 231.1L857.7 228.4zM869.4 223.1L878.7 225.8L876.4 233.8L867.1 231.1zM877.3 220.8L886.8 223.1L884.8 231.2L875.3 228.8zM886.8 223.1L896.3 225.4L894.3 233.5L884.8 231.2zM1032.8 216.2L1042.5 214.9L1043.7 223.1L1034.0 224.5zM1042.5 214.9L1052.1 213.5L1053.3 221.7L1043.7 223.1zM1043.7 223.1L1053.3 221.7L1054.5 229.9L1044.8 231.3zM1059.6 214.9L1069.2 213.1L1070.7 221.3L1061.1 223.1zM1051.5 224.9L1061.1 223.1L1062.6 231.2L1053.0 233.0zM1127.9 215.3L1137.1 211.9L1140.0 219.7L1130.8 223.1zM1121.6 226.5L1130.8 223.1L1133.7 230.9L1124.5 234.3zM1130.8 223.1L1140.0 219.7L1142.8 227.5L1133.7 230.9zM1145.0 215.4L1154.0 211.7L1157.2 219.3L1148.2 223.1zM1148.2 223.1L1157.2 219.3L1160.4 227.0L1151.4 230.7zM1153.3 219.7L1162.1 215.6L1165.7 223.1L1156.8 227.2zM1162.1 215.6L1171.0 211.4L1174.5 218.9L1165.7 223.1zM1156.8 227.2L1165.7 223.1L1169.2 230.6L1160.4 234.7zM1170.6 220.2L1179.3 215.7L1183.1 223.1L1174.4 227.6zM1179.3 215.7L1187.9 211.2L1191.7 218.6L1183.1 223.1zM1174.4 227.6L1183.1 223.1L1186.9 230.4L1178.3 235.0zM1183.1 223.1L1191.7 218.6L1195.6 225.9L1186.9 230.4zM1262.0 228.3L1270.2 223.1L1274.6 230.1L1266.4 235.3zM842.7 234.8L851.9 237.9L849.3 245.8L840.0 242.7zM896.3 227.9L905.8 229.8L904.2 237.9L894.6 236.0zM905.8 229.8L915.4 231.7L913.8 239.8L904.2 237.9zM894.6 236.0L904.2 237.9L902.6 246.1L893.0 244.2zM956.5 237.9L966.2 238.6L965.7 246.9L955.9 246.2zM1032.8 231.1L1042.5 229.7L1043.7 237.9L1034.0 239.3zM1101.5 233.0L1110.8 230.0L1113.4 237.9L1104.1 240.9zM1110.8 230.0L1120.1 227.0L1122.7 234.9L1113.4 237.9zM1104.1 240.9L1113.4 237.9L1115.9 245.8L1106.6 248.8zM1165.7 237.9L1174.5 233.8L1178.0 241.3L1169.2 245.4zM1179.3 230.6L1187.9 226.0L1191.7 233.4L1183.1 237.9zM1174.4 242.4L1183.1 237.9L1186.9 245.3L1178.3 249.8zM820.4 245.1L829.3 249.0L826.0 256.6L817.1 252.7zM808.1 248.9L817.1 252.7L813.8 260.4L804.8 256.5zM817.1 252.7L826.0 256.6L822.7 264.2L813.8 260.4zM1008.8 252.7L1018.5 252.2L1019.0 260.5L1009.3 261.0zM1015.7 245.5L1025.4 244.5L1026.2 252.7L1016.5 253.7zM1025.4 244.5L1035.1 243.5L1035.9 251.8L1026.2 252.7zM1059.6 244.6L1069.2 242.8L1070.7 251.0L1061.1 252.7zM1051.5 254.5L1061.1 252.7L1062.6 260.9L1053.0 262.7zM1061.1 252.7L1070.7 251.0L1072.2 259.1L1062.6 260.9zM1076.6 244.7L1086.2 242.5L1088.0 250.6L1078.5 252.7zM1078.5 252.7L1088.0 250.6L1089.9 258.6L1080.4 260.8zM1101.5 247.8L1110.8 244.8L1113.4 252.7L1104.1 255.7zM1104.1 255.7L1113.4 252.7L1115.9 260.7L1106.6 263.6zM1113.4 252.7L1122.7 249.8L1125.2 257.7L1115.9 260.7zM845.3 256.6L854.6 259.7L851.9 267.6L842.7 264.5zM854.6 259.7L863.8 262.8L861.2 270.7L851.9 267.6zM912.0 266.1L921.6 267.6L920.4 275.8L910.7 274.3zM1008.8 267.6L1018.5 267.0L1019.0 275.3L1009.3 275.9zM1059.6 259.4L1069.2 257.6L1070.7 265.8L1061.1 267.6zM1051.5 269.4L1061.1 267.6L1062.6 275.7L1053.0 277.5zM1061.1 267.6L1070.7 265.8L1072.2 274.0L1062.6 275.7zM1067.1 261.7L1076.6 259.5L1078.5 267.6L1069.0 269.8zM1069.0 269.8L1078.5 267.6L1080.4 275.7L1070.9 277.9zM1101.5 262.7L1110.8 259.7L1113.4 267.6L1104.1 270.6zM1113.4 267.6L1122.7 264.6L1125.2 272.5L1115.9 275.5zM1183.1 267.6L1191.7 263.1L1195.6 270.4L1186.9 274.9zM1187.9 265.3L1196.4 260.4L1200.5 267.6L1192.1 272.5zM1192.1 272.5L1200.5 267.6L1204.7 274.8L1196.2 279.7zM777.5 270.5L786.1 275.1L782.2 282.4L773.6 277.8zM786.1 275.1L794.7 279.7L790.8 287.0L782.2 282.4zM794.5 270.7L803.2 274.9L799.6 282.4L790.8 278.2zM799.6 282.4L808.4 286.7L804.8 294.1L796.0 289.9zM913.3 272.7L922.9 274.2L921.6 282.4L912.0 280.9zM1061.1 282.4L1070.7 280.6L1072.2 288.8L1062.6 290.6zM1183.1 282.4L1191.7 277.9L1195.6 285.3L1186.9 289.8zM974.2 288.9L983.9 289.2L983.7 297.5L973.9 297.2zM1084.3 291.8L1093.7 289.2L1095.9 297.2L1086.5 299.8zM1086.5 299.8L1095.9 297.2L1098.2 305.3L1088.7 307.9zM721.6 306.9L729.9 312.1L725.5 319.1L717.2 314.0zM729.9 312.1L738.2 317.3L733.8 324.3L725.5 319.1zM739.1 306.9L747.3 312.1L742.9 319.1L734.7 314.0zM799.6 312.1L808.4 316.3L804.8 323.8L796.0 319.6zM871.7 304.1L881.0 306.8L878.7 314.8L869.4 312.1zM869.4 312.1L878.7 314.8L876.4 322.8L867.1 320.1zM877.3 309.8L886.8 312.1L884.8 320.2L875.3 317.8zM1016.5 313.1L1026.2 312.1L1027.1 320.3L1017.3 321.3zM1026.2 312.1L1035.9 311.1L1036.8 319.4L1027.1 320.3zM1032.8 305.2L1042.5 303.9L1043.7 312.1L1034.0 313.5zM1042.5 303.9L1052.1 302.5L1053.3 310.7L1043.7 312.1zM1043.7 312.1L1053.3 310.7L1054.5 318.9L1044.8 320.3zM721.6 321.7L729.9 326.9L725.5 334.0L717.2 328.8zM860.0 324.2L869.4 326.9L867.1 334.9L857.7 332.2zM869.4 326.9L878.7 329.6L876.4 337.6L867.1 334.9zM896.3 316.9L905.8 318.8L904.2 326.9L894.6 325.0zM905.8 318.8L915.4 320.7L913.8 328.8L904.2 326.9zM894.6 325.0L904.2 326.9L902.6 335.1L893.0 333.2zM904.2 326.9L913.8 328.8L912.2 337.0L902.6 335.1zM947.3 318.0L957.1 318.6L956.5 326.9L946.8 326.2zM957.1 318.6L966.8 319.3L966.2 327.6L956.5 326.9zM956.5 326.9L966.2 327.6L965.7 335.9L955.9 335.2zM981.6 327.1L991.4 326.9L991.5 335.2L981.7 335.4zM1235.4 326.9L1243.7 321.7L1248.1 328.8L1239.8 334.0zM834.5 341.7L843.6 345.2L840.6 353.0L831.5 349.5zM842.7 338.6L851.9 341.7L849.3 349.6L840.0 346.5zM905.8 333.6L915.4 335.5L913.8 343.6L904.2 341.7zM981.5 333.6L991.2 333.4L991.4 341.7L981.6 341.9zM1248.4 334.7L1256.7 329.5L1261.1 336.6L1252.8 341.7zM862.3 345.9L871.7 348.6L869.4 356.6L860.0 353.9zM860.0 353.9L869.4 356.6L867.1 364.6L857.7 361.9zM894.6 354.7L904.2 356.6L902.6 364.7L893.0 362.8zM1015.7 349.3L1025.4 348.3L1026.2 356.6L1016.5 357.6zM1026.2 356.6L1035.9 355.6L1036.8 363.9L1027.1 364.8zM1093.7 348.6L1103.1 346.0L1105.4 354.0L1095.9 356.6zM1095.9 356.6L1105.4 354.0L1107.6 362.0L1098.2 364.6zM1101.5 351.7L1110.8 348.7L1113.4 356.6L1104.1 359.6zM1222.7 354.7L1231.0 349.5L1235.4 356.6L1227.1 361.8zM1231.0 349.5L1239.3 344.4L1243.7 351.4L1235.4 356.6zM811.4 359.9L820.4 363.8L817.1 371.4L808.1 367.5zM808.1 367.5L817.1 371.4L813.8 379.0L804.8 375.2zM817.1 371.4L826.0 375.3L822.7 382.9L813.8 379.0zM957.1 363.1L966.8 363.8L966.2 372.1L956.5 371.4zM946.8 370.7L956.5 371.4L955.9 379.7L946.2 379.0zM998.6 363.7L1008.3 363.1L1008.8 371.4L999.1 372.0zM1148.2 371.4L1157.2 367.6L1160.4 375.3L1151.4 379.1zM794.5 374.5L803.2 378.8L799.6 386.2L790.8 382.0zM803.2 378.8L812.0 383.0L808.4 390.5L799.6 386.2zM820.4 378.6L829.3 382.5L826.0 390.1L817.1 386.2zM808.1 382.4L817.1 386.2L813.8 393.9L804.8 390.0zM828.3 375.0L837.5 378.5L834.5 386.2L825.4 382.8zM837.5 378.5L846.6 382.0L843.6 389.7L834.5 386.2zM825.4 382.8L834.5 386.2L831.5 394.0L822.4 390.5zM1145.0 378.6L1154.0 374.8L1157.2 382.5L1148.2 386.2zM808.1 397.2L817.1 401.1L813.8 408.7L804.8 404.8zM991.4 401.1L1001.1 400.9L1001.3 409.2L991.5 409.4zM1067.1 395.2L1076.6 393.0L1078.5 401.1L1069.0 403.3zM1118.8 396.7L1127.9 393.3L1130.8 401.1L1121.6 404.5zM1121.6 404.5L1130.8 401.1L1133.7 408.9L1124.5 412.3zM799.6 415.9L808.4 420.2L804.8 427.6L796.0 423.4zM964.2 415.6L973.9 415.9L973.7 424.2L964.0 424.0zM973.9 415.9L983.7 416.2L983.5 424.5L973.7 424.2zM1113.4 415.9L1122.7 412.9L1125.2 420.8L1115.9 423.8zM1156.8 420.1L1165.7 415.9L1169.2 423.4L1160.4 427.6zM751.7 423.7L760.0 428.9L755.6 435.9L747.3 430.7zM894.6 428.8L904.2 430.7L902.6 438.9L893.0 437.0zM981.5 422.6L991.2 422.4L991.4 430.7L981.6 430.9zM981.6 430.9L991.4 430.7L991.5 439.0L981.7 439.2zM991.4 430.7L1001.1 430.6L1001.3 438.9L991.5 439.0zM1034.0 432.1L1043.7 430.7L1044.8 439.0L1035.2 440.4zM1093.7 422.7L1103.1 420.1L1105.4 428.1L1095.9 430.7zM1086.5 433.3L1095.9 430.7L1098.2 438.8L1088.7 441.3zM1095.9 430.7L1105.4 428.1L1107.6 436.2L1098.2 438.8zM1121.6 434.1L1130.8 430.7L1133.7 438.5L1124.5 441.9zM1130.8 430.7L1140.0 427.4L1142.8 435.2L1133.7 438.5zM1153.3 427.4L1162.1 423.2L1165.7 430.7L1156.8 434.9zM1156.8 434.9L1165.7 430.7L1169.2 438.3L1160.4 442.4zM1165.7 430.7L1174.5 426.6L1178.0 434.1L1169.2 438.3zM862.3 434.9L871.7 437.6L869.4 445.6L860.0 442.9zM871.7 437.6L881.0 440.3L878.7 448.3L869.4 445.6zM869.4 445.6L878.7 448.3L876.4 456.3L867.1 453.6zM1008.8 445.6L1018.5 445.0L1019.0 453.3L1009.3 453.9zM1032.8 438.7L1042.5 437.4L1043.7 445.6L1034.0 447.0zM1043.7 445.6L1053.3 444.2L1054.5 452.4L1044.8 453.8zM1067.1 439.7L1076.6 437.5L1078.5 445.6L1069.0 447.8zM1076.6 437.5L1086.2 435.3L1088.0 443.4L1078.5 445.6zM1084.3 440.2L1093.7 437.6L1095.9 445.6L1086.5 448.2zM1093.7 437.6L1103.1 435.0L1105.4 443.0L1095.9 445.6zM1086.5 448.2L1095.9 445.6L1098.2 453.6L1088.7 456.2zM1095.9 445.6L1105.4 443.0L1107.6 451.0L1098.2 453.6zM1110.8 437.7L1120.1 434.7L1122.7 442.6L1113.4 445.6zM1187.9 443.3L1196.4 438.4L1200.5 445.6L1192.1 450.5zM1192.1 450.5L1200.5 445.6L1204.7 452.8L1196.2 457.7zM799.6 460.4L808.4 464.7L804.8 472.1L796.0 467.9zM1086.5 463.0L1095.9 460.4L1098.2 468.4L1088.7 471.0zM1095.9 460.4L1105.4 457.8L1107.6 465.8L1098.2 468.4zM803.2 467.8L812.0 472.0L808.4 479.5L799.6 475.2zM799.6 475.2L808.4 479.5L804.8 487.0L796.0 482.7zM854.6 467.4L863.8 470.5L861.2 478.3L851.9 475.2zM877.3 472.9L886.8 475.2L884.8 483.3L875.3 481.0zM886.8 475.2L896.3 477.5L894.3 485.6L884.8 483.3zM896.3 465.2L905.8 467.1L904.2 475.2L894.6 473.3zM904.2 475.2L913.8 477.1L912.2 485.3L902.6 483.4zM913.3 465.5L922.9 467.0L921.6 475.2L912.0 473.7zM1032.8 468.4L1042.5 467.0L1043.7 475.2L1034.0 476.6zM1042.5 467.0L1052.1 465.6L1053.3 473.9L1043.7 475.2zM1034.0 476.6L1043.7 475.2L1044.8 483.5L1035.2 484.9zM1043.7 475.2L1053.3 473.9L1054.5 482.1L1044.8 483.5zM790.8 485.8L799.6 490.1L796.0 497.6L787.2 493.3zM896.3 480.0L905.8 481.9L904.2 490.1L894.6 488.2zM905.8 481.9L915.4 483.8L913.8 492.0L904.2 490.1zM1015.7 482.8L1025.4 481.8L1026.2 490.1L1016.5 491.1zM1026.2 490.1L1035.9 489.1L1036.8 497.4L1027.1 498.3zM1050.0 483.7L1059.6 481.9L1061.1 490.1L1051.5 491.9zM1061.1 490.1L1070.7 488.3L1072.2 496.4L1062.6 498.2zM1093.7 482.1L1103.1 479.5L1105.4 487.5L1095.9 490.1zM820.4 497.3L829.3 501.2L826.0 508.8L817.1 504.9zM886.8 504.9L896.3 507.2L894.3 515.3L884.8 513.0zM1095.9 504.9L1105.4 502.3L1107.6 510.3L1098.2 512.9zM845.3 508.8L854.6 511.9L851.9 519.7L842.7 516.6zM842.7 516.6L851.9 519.7L849.3 527.6L840.0 524.5zM871.7 511.8L881.0 514.5L878.7 522.4L869.4 519.7zM860.0 517.0L869.4 519.7L867.1 527.7L857.7 525.0zM964.2 519.5L973.9 519.7L973.7 528.0L964.0 527.8zM1034.0 521.1L1043.7 519.7L1044.8 528.0L1035.2 529.4zM1043.7 519.7L1053.3 518.4L1054.5 526.6L1044.8 528.0zM851.9 534.6L861.2 537.7L858.5 545.6L849.3 542.5zM905.8 526.4L915.4 528.3L913.8 536.5L904.2 534.6zM974.2 526.3L983.9 526.5L983.7 534.8L973.9 534.6zM973.9 534.6L983.7 534.8L983.5 543.1L973.7 542.9zM998.6 526.8L1008.3 526.3L1008.8 534.6L999.1 535.1zM1015.7 527.3L1025.4 526.3L1026.2 534.6L1016.5 535.6zM929.4 548.3L939.1 549.4L938.2 557.7L928.5 556.6zM939.1 549.4L948.8 550.5L947.9 558.7L938.2 557.7zM981.6 549.6L991.4 549.4L991.5 557.7L981.7 557.9zM991.4 549.4L1001.1 549.3L1001.3 557.6L991.5 557.7zM930.3 554.9L940.0 556.0L939.1 564.2L929.4 563.2zM940.0 556.0L949.7 557.1L948.8 565.3L939.1 564.2zM929.4 563.2L939.1 564.2L938.2 572.5L928.5 571.4zM973.9 564.2L983.7 564.5L983.5 572.8L973.7 572.5zM837.5 571.3L846.6 574.8L843.6 582.6L834.5 579.1zM825.4 575.6L834.5 579.1L831.5 586.8L822.4 583.3zM845.3 568.1L854.6 571.2L851.9 579.1L842.7 576.0zM888.7 571.0L898.2 573.3L896.3 581.4L886.8 579.1zM877.3 576.8L886.8 579.1L884.8 587.1L875.3 584.8zM973.9 579.1L983.7 579.3L983.5 587.6L973.7 587.4zM1026.2 579.1L1035.9 578.1L1036.8 586.4L1027.1 587.3zM1110.8 571.2L1120.1 568.2L1122.7 576.1L1113.4 579.1zM811.4 582.4L820.4 586.3L817.1 593.9L808.1 590.0zM820.4 586.3L829.3 590.2L826.0 597.8L817.1 593.9zM817.1 593.9L826.0 597.8L822.7 605.4L813.8 601.5zM905.8 585.8L915.4 587.7L913.8 595.8L904.2 593.9zM904.2 593.9L913.8 595.8L912.2 604.0L902.6 602.1zM929.4 592.8L939.1 593.9L938.2 602.2L928.5 601.1zM973.9 593.9L983.7 594.2L983.5 602.5L973.7 602.2zM1026.2 593.9L1035.9 592.9L1036.8 601.2L1027.1 602.2zM1110.8 586.0L1120.1 583.0L1122.7 590.9L1113.4 593.9z" fill="#000b7f"/><path d="M721.6 188.2L729.9 193.4L725.5 200.5L717.2 195.3zM729.9 193.4L738.2 198.6L733.8 205.6L725.5 200.5zM1200.5 193.4L1209.0 188.5L1213.1 195.7L1204.7 200.6zM1205.3 191.5L1213.6 186.4L1218.0 193.4L1209.7 198.6zM1213.6 186.4L1221.8 181.2L1226.2 188.2L1218.0 193.4zM1218.0 193.4L1226.2 188.2L1230.6 195.3L1222.4 200.5zM1165.7 208.2L1174.5 204.1L1178.0 211.6L1169.2 215.8zM1170.6 205.4L1179.3 200.9L1183.1 208.2L1174.4 212.8zM1183.1 208.2L1191.7 203.7L1195.6 211.1L1186.9 215.6zM1257.6 206.4L1265.8 201.2L1270.2 208.2L1262.0 213.4zM1008.3 214.8L1018.1 214.2L1018.5 222.5L1008.8 223.1zM999.1 223.6L1008.8 223.1L1009.3 231.4L999.5 231.9zM1008.8 223.1L1018.5 222.5L1019.0 230.8L1009.3 231.4zM1165.7 223.1L1174.5 218.9L1178.0 226.5L1169.2 230.6zM851.9 237.9L861.2 241.0L858.5 248.9L849.3 245.8zM879.3 227.5L888.7 229.8L886.8 237.9L877.3 235.6zM888.7 229.8L898.2 232.2L896.3 240.2L886.8 237.9zM877.3 235.6L886.8 237.9L884.8 246.0L875.3 243.7zM904.2 237.9L913.8 239.8L912.2 248.0L902.6 246.1zM946.8 237.2L956.5 237.9L955.9 246.2L946.2 245.5zM964.4 229.3L974.2 229.6L973.9 237.9L964.2 237.7zM964.2 237.7L973.9 237.9L973.7 246.2L964.0 246.0zM1042.5 229.7L1052.1 228.3L1053.3 236.5L1043.7 237.9zM1034.0 239.3L1043.7 237.9L1044.8 246.1L1035.2 247.5zM1043.7 237.9L1053.3 236.5L1054.5 244.8L1044.8 246.1zM1153.3 234.5L1162.1 230.4L1165.7 237.9L1156.8 242.1zM1162.1 230.4L1171.0 226.2L1174.5 233.8L1165.7 237.9zM1156.8 242.1L1165.7 237.9L1169.2 245.4L1160.4 249.6zM1170.6 235.1L1179.3 230.6L1183.1 237.9L1174.4 242.4zM828.3 241.5L837.5 245.0L834.5 252.7L825.4 249.3zM834.5 252.7L843.6 256.2L840.6 264.0L831.5 260.5zM845.3 241.8L854.6 244.9L851.9 252.7L842.7 249.6zM998.6 245.0L1008.3 244.5L1008.8 252.7L999.1 253.3zM1008.3 244.5L1018.1 243.9L1018.5 252.2L1008.8 252.7zM999.1 253.3L1008.8 252.7L1009.3 261.0L999.5 261.6zM1016.5 253.7L1026.2 252.7L1027.1 261.0L1017.3 262.0zM1026.2 252.7L1035.9 251.8L1036.8 260.0L1027.1 261.0zM1050.0 246.4L1059.6 244.6L1061.1 252.7L1051.5 254.5zM1069.0 254.9L1078.5 252.7L1080.4 260.8L1070.9 263.0zM828.3 256.3L837.5 259.8L834.5 267.6L825.4 264.1zM834.5 267.6L843.6 271.1L840.6 278.8L831.5 275.3zM842.7 264.5L851.9 267.6L849.3 275.5L840.0 272.4zM851.9 267.6L861.2 270.7L858.5 278.6L849.3 275.5zM921.6 267.6L931.3 269.1L930.0 277.3L920.4 275.8zM998.6 259.9L1008.3 259.3L1008.8 267.6L999.1 268.1zM1008.3 259.3L1018.1 258.7L1018.5 267.0L1008.8 267.6zM999.1 268.1L1008.8 267.6L1009.3 275.9L999.5 276.4zM1050.0 261.2L1059.6 259.4L1061.1 267.6L1051.5 269.4zM1076.6 259.5L1086.2 257.3L1088.0 265.4L1078.5 267.6zM1078.5 267.6L1088.0 265.4L1089.9 273.5L1080.4 275.7zM1104.1 270.6L1113.4 267.6L1115.9 275.5L1106.6 278.5zM773.6 277.8L782.2 282.4L778.3 289.7L769.7 285.1zM828.3 271.2L837.5 274.7L834.5 282.4L825.4 278.9zM922.9 274.2L932.6 275.7L931.3 283.9L921.6 282.4zM912.0 280.9L921.6 282.4L920.4 290.6L910.7 289.1zM991.4 282.4L1001.1 282.3L1001.3 290.6L991.5 290.7zM1050.0 276.0L1059.6 274.2L1061.1 282.4L1051.5 284.2zM1059.6 274.2L1069.2 272.5L1070.7 280.6L1061.1 282.4zM1051.5 284.2L1061.1 282.4L1062.6 290.6L1053.0 292.4zM1078.5 282.4L1088.0 280.2L1089.9 288.3L1080.4 290.5zM1162.1 274.9L1171.0 270.7L1174.5 278.3L1165.7 282.4zM1156.8 286.6L1165.7 282.4L1169.2 289.9L1160.4 294.1zM1170.6 279.6L1179.3 275.1L1183.1 282.4L1174.4 286.9zM1179.3 275.1L1187.9 270.5L1191.7 277.9L1183.1 282.4zM1174.4 286.9L1183.1 282.4L1186.9 289.8L1178.3 294.3zM773.6 292.6L782.2 297.2L778.3 304.6L769.7 300.0zM860.0 294.5L869.4 297.2L867.1 305.2L857.7 302.5zM964.4 288.7L974.2 288.9L973.9 297.2L964.2 297.0zM964.2 297.0L973.9 297.2L973.7 305.6L964.0 305.3zM998.6 289.5L1008.3 289.0L1008.8 297.2L999.1 297.8zM999.1 297.8L1008.8 297.2L1009.3 305.5L999.5 306.1zM1008.8 297.2L1018.5 296.7L1019.0 305.0L1009.3 305.5zM1093.7 289.2L1103.1 286.6L1105.4 294.6L1095.9 297.2zM1095.9 297.2L1105.4 294.6L1107.6 302.7L1098.2 305.3zM747.3 312.1L755.6 317.3L751.2 324.3L742.9 319.1zM794.5 300.4L803.2 304.6L799.6 312.1L790.8 307.8zM803.2 304.6L812.0 308.8L808.4 316.3L799.6 312.1zM811.4 300.6L820.4 304.5L817.1 312.1L808.1 308.2zM808.1 308.2L817.1 312.1L813.8 319.7L804.8 315.8zM817.1 312.1L826.0 316.0L822.7 323.6L813.8 319.7zM862.3 301.4L871.7 304.1L869.4 312.1L860.0 309.4zM860.0 309.4L869.4 312.1L867.1 320.1L857.7 317.4zM879.3 301.7L888.7 304.0L886.8 312.1L877.3 309.8zM886.8 312.1L896.3 314.4L894.3 322.5L884.8 320.2zM1015.7 304.8L1025.4 303.8L1026.2 312.1L1016.5 313.1zM1025.4 303.8L1035.1 302.8L1035.9 311.1L1026.2 312.1zM1034.0 313.5L1043.7 312.1L1044.8 320.3L1035.2 321.7zM1127.9 304.3L1137.1 300.9L1140.0 308.7L1130.8 312.1zM1130.8 312.1L1140.0 308.7L1142.8 316.5L1133.7 319.9zM726.0 314.7L734.3 319.9L729.9 326.9L721.6 321.7zM734.3 319.9L742.6 325.0L738.2 332.1L729.9 326.9zM729.9 326.9L738.2 332.1L733.8 339.1L725.5 334.0zM769.0 319.8L777.4 324.7L773.2 331.9L764.8 326.9zM756.4 321.9L764.8 326.9L760.5 334.1L752.1 329.1zM862.3 316.2L871.7 318.9L869.4 326.9L860.0 324.2zM871.7 318.9L881.0 321.6L878.7 329.6L869.4 326.9zM930.3 317.6L940.0 318.7L939.1 326.9L929.4 325.8zM946.8 326.2L956.5 326.9L955.9 335.2L946.2 334.5zM1093.7 318.9L1103.1 316.3L1105.4 324.3L1095.9 326.9zM1086.5 329.5L1095.9 326.9L1098.2 334.9L1088.7 337.5zM1095.9 326.9L1105.4 324.3L1107.6 332.3L1098.2 334.9zM1227.1 332.1L1235.4 326.9L1239.8 334.0L1231.5 339.1zM811.4 330.3L820.4 334.1L817.1 341.7L808.1 337.9zM820.4 334.1L829.3 338.0L826.0 345.6L817.1 341.7zM808.1 337.9L817.1 341.7L813.8 349.4L804.8 345.5zM817.1 341.7L826.0 345.6L822.7 353.2L813.8 349.4zM825.4 338.3L834.5 341.7L831.5 349.5L822.4 346.0zM947.3 332.8L957.1 333.5L956.5 341.7L946.8 341.1zM946.8 341.1L956.5 341.7L955.9 350.0L946.2 349.4zM981.6 341.9L991.4 341.7L991.5 350.1L981.7 350.2zM1240.1 339.9L1248.4 334.7L1252.8 341.7L1244.5 346.9zM1244.5 346.9L1252.8 341.7L1257.2 348.8L1248.9 354.0zM1252.8 341.7L1261.1 336.6L1265.5 343.6L1257.2 348.8zM808.1 352.7L817.1 356.6L813.8 364.2L804.8 360.3zM956.5 356.6L966.2 357.3L965.7 365.5L955.9 364.9zM964.2 356.3L973.9 356.6L973.7 364.9L964.0 364.6zM973.9 356.6L983.7 356.8L983.5 365.1L973.7 364.9zM1025.4 348.3L1035.1 347.3L1035.9 355.6L1026.2 356.6zM1032.8 349.7L1042.5 348.4L1043.7 356.6L1034.0 358.0zM820.4 363.8L829.3 367.7L826.0 375.3L817.1 371.4zM905.8 363.3L915.4 365.2L913.8 373.3L904.2 371.4zM904.2 371.4L913.8 373.3L912.2 381.5L902.6 379.6zM981.6 371.6L991.4 371.4L991.5 379.7L981.7 379.9zM991.4 371.4L1001.1 371.3L1001.3 379.6L991.5 379.7zM999.1 372.0L1008.8 371.4L1009.3 379.7L999.5 380.3zM811.4 374.7L820.4 378.6L817.1 386.2L808.1 382.4zM817.1 386.2L826.0 390.1L822.7 397.7L813.8 393.9zM834.5 386.2L843.6 389.7L840.6 397.5L831.5 394.0zM845.3 375.3L854.6 378.4L851.9 386.2L842.7 383.1zM851.9 386.2L861.2 389.3L858.5 397.2L849.3 394.1zM1032.8 379.4L1042.5 378.0L1043.7 386.2L1034.0 387.6zM1042.5 378.0L1052.1 376.6L1053.3 384.9L1043.7 386.2zM1043.7 386.2L1053.3 384.9L1054.5 393.1L1044.8 394.5zM820.4 393.5L829.3 397.3L826.0 404.9L817.1 401.1zM817.1 401.1L826.0 404.9L822.7 412.6L813.8 408.7zM828.3 389.8L837.5 393.3L834.5 401.1L825.4 397.6zM871.7 393.1L881.0 395.8L878.7 403.8L869.4 401.1zM860.0 398.4L869.4 401.1L867.1 409.1L857.7 406.4zM869.4 401.1L878.7 403.8L876.4 411.8L867.1 409.1zM957.1 392.8L966.8 393.5L966.2 401.8L956.5 401.1zM964.4 392.5L974.2 392.8L973.9 401.1L964.2 400.8zM981.5 392.9L991.2 392.8L991.4 401.1L981.6 401.2zM991.2 392.8L1001.0 392.6L1001.1 400.9L991.4 401.1zM981.6 401.2L991.4 401.1L991.5 409.4L981.7 409.5zM1076.6 393.0L1086.2 390.8L1088.0 398.9L1078.5 401.1zM1069.0 403.3L1078.5 401.1L1080.4 409.2L1070.9 411.4zM1078.5 401.1L1088.0 398.9L1089.9 407.0L1080.4 409.2zM1086.5 403.7L1095.9 401.1L1098.2 409.1L1088.7 411.7zM1095.9 401.1L1105.4 398.5L1107.6 406.5L1098.2 409.1zM1101.5 396.2L1110.8 393.2L1113.4 401.1L1104.1 404.1zM1110.8 393.2L1120.1 390.2L1122.7 398.1L1113.4 401.1zM811.4 404.4L820.4 408.3L817.1 415.9L808.1 412.0zM825.4 412.4L834.5 415.9L831.5 423.7L822.4 420.2zM834.5 415.9L843.6 419.4L840.6 427.2L831.5 423.7zM964.4 407.3L974.2 407.6L973.9 415.9L964.2 415.6zM974.2 407.6L983.9 407.9L983.7 416.2L973.9 415.9zM1110.8 408.0L1120.1 405.0L1122.7 412.9L1113.4 415.9zM1153.3 412.5L1162.1 408.4L1165.7 415.9L1156.8 420.1zM1162.1 408.4L1171.0 404.2L1174.5 411.8L1165.7 415.9zM1165.7 415.9L1174.5 411.8L1178.0 419.3L1169.2 423.4zM905.8 422.6L915.4 424.5L913.8 432.6L904.2 430.7zM904.2 430.7L913.8 432.6L912.2 440.8L902.6 438.9zM1026.2 430.7L1035.9 429.8L1036.8 438.0L1027.1 439.0zM1032.8 423.9L1042.5 422.5L1043.7 430.7L1034.0 432.1zM1042.5 422.5L1052.1 421.1L1053.3 429.4L1043.7 430.7zM1067.1 424.8L1076.6 422.7L1078.5 430.7L1069.0 432.9zM1069.0 432.9L1078.5 430.7L1080.4 438.8L1070.9 441.0zM1084.3 425.3L1093.7 422.7L1095.9 430.7L1086.5 433.3zM1162.1 423.2L1171.0 419.1L1174.5 426.6L1165.7 430.7zM860.0 442.9L869.4 445.6L867.1 453.6L857.7 450.9zM1078.5 445.6L1088.0 443.4L1089.9 451.5L1080.4 453.7zM1101.5 440.7L1110.8 437.7L1113.4 445.6L1104.1 448.6zM1118.8 441.2L1127.9 437.8L1130.8 445.6L1121.6 449.0zM1127.9 437.8L1137.1 434.4L1140.0 442.2L1130.8 445.6zM1121.6 449.0L1130.8 445.6L1133.7 453.4L1124.5 456.8zM1130.8 445.6L1140.0 442.2L1142.8 450.0L1133.7 453.4zM803.2 452.9L812.0 457.2L808.4 464.7L799.6 460.4zM811.4 448.9L820.4 452.8L817.1 460.4L808.1 456.5zM820.4 452.8L829.3 456.7L826.0 464.3L817.1 460.4zM808.1 456.5L817.1 460.4L813.8 468.0L804.8 464.2zM817.1 460.4L826.0 464.3L822.7 471.9L813.8 468.0zM862.3 449.7L871.7 452.4L869.4 460.4L860.0 457.7zM860.0 457.7L869.4 460.4L867.1 468.4L857.7 465.7zM869.4 460.4L878.7 463.1L876.4 471.1L867.1 468.4zM1016.5 461.4L1026.2 460.4L1027.1 468.7L1017.3 469.7zM1051.5 462.2L1061.1 460.4L1062.6 468.6L1053.0 470.4zM1061.1 460.4L1070.7 458.6L1072.2 466.8L1062.6 468.6zM1076.6 452.3L1086.2 450.1L1088.0 458.2L1078.5 460.4zM1084.3 455.0L1093.7 452.4L1095.9 460.4L1086.5 463.0zM1093.7 452.4L1103.1 449.8L1105.4 457.8L1095.9 460.4zM1118.8 456.0L1127.9 452.6L1130.8 460.4L1121.6 463.8zM1121.6 463.8L1130.8 460.4L1133.7 468.2L1124.5 471.6zM808.1 471.4L817.1 475.2L813.8 482.9L804.8 479.0zM825.4 471.8L834.5 475.2L831.5 483.0L822.4 479.5zM845.3 464.3L854.6 467.4L851.9 475.2L842.7 472.1zM851.9 475.2L861.2 478.3L858.5 486.2L849.3 483.1zM905.8 467.1L915.4 469.0L913.8 477.1L904.2 475.2zM894.6 473.3L904.2 475.2L902.6 483.4L893.0 481.5zM912.0 473.7L921.6 475.2L920.4 483.5L910.7 482.0zM794.5 478.4L803.2 482.6L799.6 490.1L790.8 485.8zM825.4 486.6L834.5 490.1L831.5 497.8L822.4 494.3zM834.5 490.1L843.6 493.6L840.6 501.3L831.5 497.8zM862.3 479.4L871.7 482.1L869.4 490.1L860.0 487.4zM860.0 487.4L869.4 490.1L867.1 498.1L857.7 495.4zM894.6 488.2L904.2 490.1L902.6 498.2L893.0 496.3zM904.2 490.1L913.8 492.0L912.2 500.1L902.6 498.2zM1025.4 481.8L1035.1 480.8L1035.9 489.1L1026.2 490.1zM1016.5 491.1L1026.2 490.1L1027.1 498.3L1017.3 499.3zM1059.6 481.9L1069.2 480.1L1070.7 488.3L1061.1 490.1zM1051.5 491.9L1061.1 490.1L1062.6 498.2L1053.0 500.0zM1084.3 484.7L1093.7 482.1L1095.9 490.1L1086.5 492.7zM811.4 493.4L820.4 497.3L817.1 504.9L808.1 501.0zM1043.7 504.9L1053.3 503.5L1054.5 511.7L1044.8 513.1zM1118.8 500.5L1127.9 497.1L1130.8 504.9L1121.6 508.3zM1127.9 497.1L1137.1 493.7L1140.0 501.5L1130.8 504.9zM1121.6 508.3L1130.8 504.9L1133.7 512.7L1124.5 516.1zM1130.8 504.9L1140.0 501.5L1142.8 509.3L1133.7 512.7zM946.8 519.1L956.5 519.7L955.9 528.0L946.2 527.4zM964.4 511.2L974.2 511.4L973.9 519.7L964.2 519.5zM973.9 519.7L983.7 520.0L983.5 528.3L973.7 528.0zM1050.0 513.4L1059.6 511.6L1061.1 519.7L1051.5 521.5zM1059.6 511.6L1069.2 509.8L1070.7 517.9L1061.1 519.7zM1051.5 521.5L1061.1 519.7L1062.6 527.9L1053.0 529.7zM1061.1 519.7L1070.7 517.9L1072.2 526.1L1062.6 527.9zM854.6 526.7L863.8 529.8L861.2 537.7L851.9 534.6zM896.3 524.5L905.8 526.4L904.2 534.6L894.6 532.7zM912.0 533.1L921.6 534.6L920.4 542.8L910.7 541.3zM1026.2 534.6L1035.9 533.6L1036.8 541.9L1027.1 542.8zM913.3 539.7L922.9 541.2L921.6 549.4L912.0 547.9zM912.0 547.9L921.6 549.4L920.4 557.6L910.7 556.1zM921.6 549.4L931.3 550.9L930.0 559.1L920.4 557.6zM930.3 540.1L940.0 541.2L939.1 549.4L929.4 548.3zM940.0 541.2L949.7 542.2L948.8 550.5L939.1 549.4zM974.2 541.1L983.9 541.4L983.7 549.7L973.9 549.4zM981.5 541.3L991.2 541.1L991.4 549.4L981.6 549.6zM991.2 541.1L1001.0 541.0L1001.1 549.3L991.4 549.4zM939.1 564.2L948.8 565.3L947.9 573.6L938.2 572.5zM834.5 579.1L843.6 582.6L840.6 590.3L831.5 586.8zM854.6 571.2L863.8 574.3L861.2 582.2L851.9 579.1zM869.4 579.1L878.7 581.8L876.4 589.8L867.1 587.1zM974.2 570.8L983.9 571.0L983.7 579.3L973.9 579.1zM964.2 578.8L973.9 579.1L973.7 587.4L964.0 587.1zM1016.5 580.0L1026.2 579.1L1027.1 587.3L1017.3 588.3zM1101.5 574.2L1110.8 571.2L1113.4 579.1L1104.1 582.1zM825.4 590.4L834.5 593.9L831.5 601.7L822.4 598.2zM869.4 593.9L878.7 596.6L876.4 604.6L867.1 601.9zM894.6 592.0L904.2 593.9L902.6 602.1L893.0 600.2zM930.3 584.6L940.0 585.7L939.1 593.9L929.4 592.8zM964.4 585.3L974.2 585.6L973.9 593.9L964.2 593.6zM974.2 585.6L983.9 585.9L983.7 594.2L973.9 593.9zM964.2 593.6L973.9 593.9L973.7 602.2L964.0 601.9zM981.5 585.8L991.2 585.6L991.4 593.9L981.6 594.1zM981.6 594.1L991.4 593.9L991.5 602.2L981.7 602.4zM998.6 586.2L1008.3 585.6L1008.8 593.9L999.1 594.5zM999.1 594.5L1008.8 593.9L1009.3 602.2L999.5 602.8zM1008.8 593.9L1018.5 593.3L1019.0 601.6L1009.3 602.2zM1025.4 585.6L1035.1 584.7L1035.9 592.9L1026.2 593.9z" fill="#0026a0"/><path d="M1209.7 198.6L1218.0 193.4L1222.4 200.5L1214.1 205.6zM1222.7 191.5L1231.0 186.4L1235.4 193.4L1227.1 198.6zM1231.0 186.4L1239.3 181.2L1243.7 188.2L1235.4 193.4zM1227.1 198.6L1235.4 193.4L1239.8 200.5L1231.5 205.6zM1240.1 191.5L1248.4 186.4L1252.8 193.4L1244.5 198.6zM1244.5 198.6L1252.8 193.4L1257.2 200.5L1248.9 205.6zM1265.8 186.4L1274.1 181.2L1278.5 188.2L1270.2 193.4zM1179.3 200.9L1187.9 196.4L1191.7 203.7L1183.1 208.2zM1174.4 212.8L1183.1 208.2L1186.9 215.6L1178.3 220.1zM981.5 214.9L991.2 214.8L991.4 223.1L981.6 223.2zM998.6 215.4L1008.3 214.8L1008.8 223.1L999.1 223.6zM862.3 227.2L871.7 229.9L869.4 237.9L860.0 235.2zM871.7 229.9L881.0 232.6L878.7 240.6L869.4 237.9zM860.0 235.2L869.4 237.9L867.1 245.9L857.7 243.2zM886.8 237.9L896.3 240.2L894.3 248.3L884.8 246.0zM913.3 228.2L922.9 229.7L921.6 237.9L912.0 236.4zM974.2 229.6L983.9 229.9L983.7 238.2L973.9 237.9zM973.9 237.9L983.7 238.2L983.5 246.5L973.7 246.2zM1050.0 231.5L1059.6 229.8L1061.1 237.9L1051.5 239.7zM1059.6 229.8L1069.2 228.0L1070.7 236.1L1061.1 237.9zM1051.5 239.7L1061.1 237.9L1062.6 246.1L1053.0 247.9zM1061.1 237.9L1070.7 236.1L1072.2 244.3L1062.6 246.1zM1084.3 232.5L1093.7 229.9L1095.9 237.9L1086.5 240.5zM837.5 245.0L846.6 248.5L843.6 256.2L834.5 252.7zM825.4 249.3L834.5 252.7L831.5 260.5L822.4 257.0zM854.6 244.9L863.8 248.0L861.2 255.8L851.9 252.7zM842.7 249.6L851.9 252.7L849.3 260.6L840.0 257.5zM851.9 252.7L861.2 255.8L858.5 263.7L849.3 260.6zM905.8 244.6L915.4 246.5L913.8 254.7L904.2 252.7zM904.2 252.7L913.8 254.7L912.2 262.8L902.6 260.9zM964.4 244.2L974.2 244.4L973.9 252.7L964.2 252.5zM974.2 244.4L983.9 244.7L983.7 253.0L973.9 252.7zM973.9 252.7L983.7 253.0L983.5 261.3L973.7 261.1zM1084.3 247.3L1093.7 244.7L1095.9 252.7L1086.5 255.3zM1093.7 244.7L1103.1 242.1L1105.4 250.2L1095.9 252.7zM1086.5 255.3L1095.9 252.7L1098.2 260.8L1088.7 263.4zM1095.9 252.7L1105.4 250.2L1107.6 258.2L1098.2 260.8zM825.4 264.1L834.5 267.6L831.5 275.3L822.4 271.9zM913.3 257.9L922.9 259.4L921.6 267.6L912.0 266.1zM922.9 259.4L932.6 260.9L931.3 269.1L921.6 267.6zM1015.7 260.3L1025.4 259.3L1026.2 267.6L1016.5 268.6zM1025.4 259.3L1035.1 258.3L1035.9 266.6L1026.2 267.6zM1026.2 267.6L1035.9 266.6L1036.8 274.9L1027.1 275.8zM1086.5 270.2L1095.9 267.6L1098.2 275.6L1088.7 278.2zM1095.9 267.6L1105.4 265.0L1107.6 273.0L1098.2 275.6zM782.2 282.4L790.8 287.0L786.9 294.3L778.3 289.7zM790.8 278.2L799.6 282.4L796.0 289.9L787.2 285.6zM837.5 274.7L846.6 278.1L843.6 285.9L834.5 282.4zM825.4 278.9L834.5 282.4L831.5 290.2L822.4 286.7zM860.0 279.7L869.4 282.4L867.1 290.4L857.7 287.7zM921.6 282.4L931.3 283.9L930.0 292.1L920.4 290.6zM981.6 282.6L991.4 282.4L991.5 290.7L981.7 290.9zM998.6 274.7L1008.3 274.1L1008.8 282.4L999.1 283.0zM1008.3 274.1L1018.1 273.6L1018.5 281.9L1008.8 282.4zM999.1 283.0L1008.8 282.4L1009.3 290.7L999.5 291.3zM1008.8 282.4L1018.5 281.9L1019.0 290.1L1009.3 290.7zM1067.1 276.5L1076.6 274.3L1078.5 282.4L1069.0 284.6zM1076.6 274.3L1086.2 272.1L1088.0 280.2L1078.5 282.4zM1069.0 284.6L1078.5 282.4L1080.4 290.5L1070.9 292.7zM1084.3 277.0L1093.7 274.4L1095.9 282.4L1086.5 285.0zM1093.7 274.4L1103.1 271.8L1105.4 279.8L1095.9 282.4zM1086.5 285.0L1095.9 282.4L1098.2 290.4L1088.7 293.0zM1095.9 282.4L1105.4 279.8L1107.6 287.8L1098.2 290.4zM1153.3 279.0L1162.1 274.9L1165.7 282.4L1156.8 286.6zM1165.7 282.4L1174.5 278.3L1178.0 285.8L1169.2 289.9zM869.4 297.2L878.7 300.0L876.4 307.9L867.1 305.2zM851.9 312.1L861.2 315.2L858.5 323.1L849.3 320.0zM888.7 304.0L898.2 306.3L896.3 314.4L886.8 312.1zM894.6 310.2L904.2 312.1L902.6 320.2L893.0 318.3zM904.2 312.1L913.8 314.0L912.2 322.1L902.6 320.2zM913.3 302.4L922.9 303.9L921.6 312.1L912.0 310.6zM912.0 310.6L921.6 312.1L920.4 320.3L910.7 318.8zM1086.5 314.7L1095.9 312.1L1098.2 320.1L1088.7 322.7zM1118.8 307.7L1127.9 304.3L1130.8 312.1L1121.6 315.5zM1121.6 315.5L1130.8 312.1L1133.7 319.9L1124.5 323.3zM760.6 314.8L769.0 319.8L764.8 326.9L756.4 321.9zM764.8 326.9L773.2 331.9L768.9 339.0L760.5 334.1zM879.3 316.5L888.7 318.8L886.8 326.9L877.3 324.6zM888.7 318.8L898.2 321.1L896.3 329.2L886.8 326.9zM877.3 324.6L886.8 326.9L884.8 335.0L875.3 332.7zM886.8 326.9L896.3 329.2L894.3 337.3L884.8 335.0zM940.0 318.7L949.7 319.7L948.8 328.0L939.1 326.9zM1015.7 319.6L1025.4 318.6L1026.2 326.9L1016.5 327.9zM1084.3 321.5L1093.7 318.9L1095.9 326.9L1086.5 329.5zM1101.5 322.0L1110.8 319.0L1113.4 326.9L1104.1 329.9zM1110.8 319.0L1120.1 316.0L1122.7 323.9L1113.4 326.9zM1104.1 329.9L1113.4 326.9L1115.9 334.8L1106.6 337.8zM1113.4 326.9L1122.7 323.9L1125.2 331.8L1115.9 334.8zM957.1 333.5L966.8 334.1L966.2 342.4L956.5 341.7zM1222.7 339.9L1231.0 334.7L1235.4 341.7L1227.1 346.9zM811.4 345.1L820.4 349.0L817.1 356.6L808.1 352.7zM820.4 349.0L829.3 352.8L826.0 360.5L817.1 356.6zM817.1 356.6L826.0 360.5L822.7 368.1L813.8 364.2zM825.4 353.1L834.5 356.6L831.5 364.3L822.4 360.8zM854.6 348.7L863.8 351.8L861.2 359.7L851.9 356.6zM896.3 346.5L905.8 348.4L904.2 356.6L894.6 354.7zM947.3 347.6L957.1 348.3L956.5 356.6L946.8 355.9zM946.8 355.9L956.5 356.6L955.9 364.9L946.2 364.2zM974.2 348.3L983.9 348.5L983.7 356.8L973.9 356.6zM828.3 360.2L837.5 363.7L834.5 371.4L825.4 367.9zM837.5 363.7L846.6 367.1L843.6 374.9L834.5 371.4zM825.4 367.9L834.5 371.4L831.5 379.2L822.4 375.7zM834.5 371.4L843.6 374.9L840.6 382.7L831.5 379.2zM854.6 363.5L863.8 366.6L861.2 374.5L851.9 371.4zM851.9 371.4L861.2 374.5L858.5 382.4L849.3 379.3zM947.3 362.5L957.1 363.1L956.5 371.4L946.8 370.7zM1008.8 371.4L1018.5 370.8L1019.0 379.1L1009.3 379.7zM854.6 378.4L863.8 381.5L861.2 389.3L851.9 386.2zM1008.3 378.0L1018.1 377.4L1018.5 385.7L1008.8 386.2zM1034.0 387.6L1043.7 386.2L1044.8 394.5L1035.2 395.9zM837.5 393.3L846.6 396.8L843.6 404.6L834.5 401.1zM825.4 397.6L834.5 401.1L831.5 408.8L822.4 405.3zM834.5 401.1L843.6 404.6L840.6 412.3L831.5 408.8zM842.7 398.0L851.9 401.1L849.3 409.0L840.0 405.9zM851.9 401.1L861.2 404.2L858.5 412.1L849.3 409.0zM862.3 390.4L871.7 393.1L869.4 401.1L860.0 398.4zM956.5 401.1L966.2 401.8L965.7 410.0L955.9 409.4zM974.2 392.8L983.9 393.0L983.7 401.3L973.9 401.1zM973.9 401.1L983.7 401.3L983.5 409.6L973.7 409.4zM1104.1 404.1L1113.4 401.1L1115.9 409.0L1106.6 412.0zM1113.4 401.1L1122.7 398.1L1125.2 406.0L1115.9 409.0zM820.4 408.3L829.3 412.2L826.0 419.8L817.1 415.9zM808.1 412.0L817.1 415.9L813.8 423.5L804.8 419.7zM817.1 415.9L826.0 419.8L822.7 427.4L813.8 423.5zM837.5 408.2L846.6 411.6L843.6 419.4L834.5 415.9zM999.1 416.5L1008.8 415.9L1009.3 424.2L999.5 424.8zM1008.8 415.9L1018.5 415.3L1019.0 423.6L1009.3 424.2zM1101.5 411.0L1110.8 408.0L1113.4 415.9L1104.1 418.9zM1104.1 418.9L1113.4 415.9L1115.9 423.8L1106.6 426.8zM1179.3 408.5L1187.9 404.0L1191.7 411.4L1183.1 415.9zM1015.7 423.5L1025.4 422.5L1026.2 430.7L1016.5 431.7zM1016.5 431.7L1026.2 430.7L1027.1 439.0L1017.3 440.0zM1076.6 422.7L1086.2 420.5L1088.0 428.5L1078.5 430.7zM1078.5 430.7L1088.0 428.5L1089.9 436.6L1080.4 438.8zM842.7 442.5L851.9 445.6L849.3 453.5L840.0 450.4zM851.9 445.6L861.2 448.7L858.5 456.6L849.3 453.5zM879.3 435.2L888.7 437.5L886.8 445.6L877.3 443.3zM1016.5 446.6L1026.2 445.6L1027.1 453.8L1017.3 454.8zM1034.0 447.0L1043.7 445.6L1044.8 453.8L1035.2 455.2zM1104.1 448.6L1113.4 445.6L1115.9 453.5L1106.6 456.5zM1113.4 445.6L1122.7 442.6L1125.2 450.5L1115.9 453.5zM1174.4 450.1L1183.1 445.6L1186.9 452.9L1178.3 457.5zM871.7 452.4L881.0 455.1L878.7 463.1L869.4 460.4zM1015.7 453.1L1025.4 452.1L1026.2 460.4L1016.5 461.4zM1026.2 460.4L1035.9 459.4L1036.8 467.7L1027.1 468.7zM1050.0 454.0L1059.6 452.2L1061.1 460.4L1051.5 462.2zM1059.6 452.2L1069.2 450.5L1070.7 458.6L1061.1 460.4zM1069.0 462.6L1078.5 460.4L1080.4 468.5L1070.9 470.7zM1078.5 460.4L1088.0 458.2L1089.9 466.3L1080.4 468.5zM1101.5 455.5L1110.8 452.5L1113.4 460.4L1104.1 463.4zM1104.1 463.4L1113.4 460.4L1115.9 468.3L1106.6 471.3zM1113.4 460.4L1122.7 457.4L1125.2 465.3L1115.9 468.3zM811.4 463.7L820.4 467.6L817.1 475.2L808.1 471.4zM820.4 467.6L829.3 471.5L826.0 479.1L817.1 475.2zM828.3 464.0L837.5 467.5L834.5 475.2L825.4 471.8zM837.5 467.5L846.6 471.0L843.6 478.7L834.5 475.2zM834.5 475.2L843.6 478.7L840.6 486.5L831.5 483.0zM879.3 464.9L888.7 467.2L886.8 475.2L877.3 472.9zM888.7 467.2L898.2 469.5L896.3 477.5L886.8 475.2zM922.9 467.0L932.6 468.5L931.3 476.7L921.6 475.2zM921.6 475.2L931.3 476.7L930.0 484.9L920.4 483.5zM1008.3 467.0L1018.1 466.4L1018.5 474.7L1008.8 475.2zM1008.8 475.2L1018.5 474.7L1019.0 483.0L1009.3 483.5zM803.2 482.6L812.0 486.8L808.4 494.3L799.6 490.1zM799.6 490.1L808.4 494.3L804.8 501.8L796.0 497.6zM808.1 486.2L817.1 490.1L813.8 497.7L804.8 493.8zM828.3 478.8L837.5 482.3L834.5 490.1L825.4 486.6zM837.5 482.3L846.6 485.8L843.6 493.6L834.5 490.1zM913.3 480.4L922.9 481.9L921.6 490.1L912.0 488.6zM922.9 481.9L932.6 483.4L931.3 491.6L921.6 490.1zM912.0 488.6L921.6 490.1L920.4 498.3L910.7 496.8zM1086.5 492.7L1095.9 490.1L1098.2 498.1L1088.7 500.7zM1095.9 490.1L1105.4 487.5L1107.6 495.5L1098.2 498.1zM1015.7 497.6L1025.4 496.6L1026.2 504.9L1016.5 505.9zM1025.4 496.6L1035.1 495.7L1035.9 503.9L1026.2 504.9zM1032.8 498.1L1042.5 496.7L1043.7 504.9L1034.0 506.3zM1042.5 496.7L1052.1 495.3L1053.3 503.5L1043.7 504.9zM1034.0 506.3L1043.7 504.9L1044.8 513.1L1035.2 514.5zM1069.0 507.1L1078.5 504.9L1080.4 513.0L1070.9 515.2zM1078.5 504.9L1088.0 502.7L1089.9 510.8L1080.4 513.0zM1084.3 499.5L1093.7 496.9L1095.9 504.9L1086.5 507.5zM1093.7 496.9L1103.1 494.3L1105.4 502.3L1095.9 504.9zM1086.5 507.5L1095.9 504.9L1098.2 512.9L1088.7 515.5zM869.4 519.7L878.7 522.4L876.4 530.4L867.1 527.7zM957.1 511.5L966.8 512.1L966.2 520.4L956.5 519.7zM956.5 519.7L966.2 520.4L965.7 528.7L955.9 528.0zM974.2 511.4L983.9 511.7L983.7 520.0L973.9 519.7zM1121.6 523.1L1130.8 519.7L1133.7 527.5L1124.5 530.9zM913.3 524.9L922.9 526.4L921.6 534.6L912.0 533.1zM921.6 534.6L931.3 536.1L930.0 544.3L920.4 542.8zM991.4 534.6L1001.1 534.4L1001.3 542.7L991.5 542.9zM1025.4 526.3L1035.1 525.3L1035.9 533.6L1026.2 534.6zM1061.1 534.6L1070.7 532.8L1072.2 540.9L1062.6 542.7zM922.9 541.2L932.6 542.7L931.3 550.9L921.6 549.4zM964.4 540.8L974.2 541.1L973.9 549.4L964.2 549.1zM973.9 549.4L983.7 549.7L983.5 558.0L973.7 557.7zM974.2 555.9L983.9 556.2L983.7 564.5L973.9 564.2zM964.2 564.0L973.9 564.2L973.7 572.5L964.0 572.3zM842.7 576.0L851.9 579.1L849.3 587.0L840.0 583.9zM851.9 579.1L861.2 582.2L858.5 590.1L849.3 587.0zM862.3 568.4L871.7 571.1L869.4 579.1L860.0 576.4zM871.7 571.1L881.0 573.8L878.7 581.8L869.4 579.1zM860.0 576.4L869.4 579.1L867.1 587.1L857.7 584.4zM879.3 568.7L888.7 571.0L886.8 579.1L877.3 576.8zM964.4 570.5L974.2 570.8L973.9 579.1L964.2 578.8zM981.5 570.9L991.2 570.8L991.4 579.1L981.6 579.2zM991.4 579.1L1001.1 578.9L1001.3 587.2L991.5 587.4zM1104.1 582.1L1113.4 579.1L1115.9 587.0L1106.6 590.0zM1113.4 579.1L1122.7 576.1L1125.2 584.0L1115.9 587.0zM828.3 582.7L837.5 586.1L834.5 593.9L825.4 590.4zM862.3 583.2L871.7 585.9L869.4 593.9L860.0 591.2zM871.7 585.9L881.0 588.6L878.7 596.6L869.4 593.9zM860.0 591.2L869.4 593.9L867.1 601.9L857.7 599.2zM896.3 583.9L905.8 585.8L904.2 593.9L894.6 592.0zM939.1 593.9L948.8 595.0L947.9 603.2L938.2 602.2zM991.2 585.6L1001.0 585.5L1001.1 593.8L991.4 593.9zM991.4 593.9L1001.1 593.8L1001.3 602.1L991.5 602.2zM1008.3 585.6L1018.1 585.1L1018.5 593.3L1008.8 593.9zM1015.7 586.6L1025.4 585.6L1026.2 593.9L1016.5 594.9zM1016.5 594.9L1026.2 593.9L1027.1 602.2L1017.3 603.1z" fill="#0248c0"/><path d="M1235.4 193.4L1243.7 188.2L1248.1 195.3L1239.8 200.5zM1248.4 186.4L1256.7 181.2L1261.1 188.2L1252.8 193.4zM1257.6 191.5L1265.8 186.4L1270.2 193.4L1262.0 198.6zM1270.2 193.4L1278.5 188.2L1282.9 195.3L1274.6 200.5zM991.2 214.8L1001.0 214.6L1001.1 222.9L991.4 223.1zM991.4 223.1L1001.1 222.9L1001.3 231.2L991.5 231.4zM869.4 237.9L878.7 240.6L876.4 248.6L867.1 245.9zM922.9 229.7L932.6 231.2L931.3 239.4L921.6 237.9zM912.0 236.4L921.6 237.9L920.4 246.1L910.7 244.6zM991.2 229.6L1001.0 229.5L1001.1 237.8L991.4 237.9zM998.6 230.2L1008.3 229.6L1008.8 237.9L999.1 238.5zM1008.8 237.9L1018.5 237.4L1019.0 245.6L1009.3 246.2zM1093.7 229.9L1103.1 227.3L1105.4 235.3L1095.9 237.9zM1086.5 240.5L1095.9 237.9L1098.2 245.9L1088.7 248.5zM862.3 242.1L871.7 244.8L869.4 252.7L860.0 250.0zM860.0 250.0L869.4 252.7L867.1 260.7L857.7 258.0zM896.3 242.7L905.8 244.6L904.2 252.7L894.6 250.8zM913.3 243.0L922.9 244.5L921.6 252.7L912.0 251.3zM964.2 252.5L973.9 252.7L973.7 261.1L964.0 260.8zM981.5 244.6L991.2 244.4L991.4 252.7L981.6 252.9zM1042.5 244.5L1052.1 243.1L1053.3 251.4L1043.7 252.7zM1034.0 254.1L1043.7 252.7L1044.8 261.0L1035.2 262.4zM1043.7 252.7L1053.3 251.4L1054.5 259.6L1044.8 261.0zM837.5 259.8L846.6 263.3L843.6 271.1L834.5 267.6zM862.3 256.9L871.7 259.6L869.4 267.6L860.0 264.9zM871.7 259.6L881.0 262.3L878.7 270.3L869.4 267.6zM860.0 264.9L869.4 267.6L867.1 275.6L857.7 272.9zM905.8 259.4L915.4 261.3L913.8 269.5L904.2 267.6zM973.9 267.6L983.7 267.8L983.5 276.1L973.7 275.9zM991.2 259.3L1001.0 259.1L1001.1 267.4L991.4 267.6zM991.4 267.6L1001.1 267.4L1001.3 275.7L991.5 275.9zM1016.5 268.6L1026.2 267.6L1027.1 275.8L1017.3 276.8zM1084.3 262.2L1093.7 259.6L1095.9 267.6L1086.5 270.2zM834.5 282.4L843.6 285.9L840.6 293.7L831.5 290.2zM854.6 274.5L863.8 277.6L861.2 285.5L851.9 282.4zM862.3 271.7L871.7 274.4L869.4 282.4L860.0 279.7zM869.4 282.4L878.7 285.1L876.4 293.1L867.1 290.4zM981.5 274.3L991.2 274.1L991.4 282.4L981.6 282.6zM991.2 274.1L1001.0 274.0L1001.1 282.3L991.4 282.4zM777.5 285.3L786.1 289.9L782.2 297.2L773.6 292.6zM786.1 289.9L794.7 294.5L790.8 301.9L782.2 297.2zM811.4 285.8L820.4 289.6L817.1 297.2L808.1 293.4zM820.4 289.6L829.3 293.5L826.0 301.1L817.1 297.2zM808.1 293.4L817.1 297.2L813.8 304.9L804.8 301.0zM862.3 286.6L871.7 289.3L869.4 297.2L860.0 294.5zM913.3 287.5L922.9 289.0L921.6 297.2L912.0 295.8zM922.9 289.0L932.6 290.5L931.3 298.7L921.6 297.2zM921.6 297.2L931.3 298.7L930.0 307.0L920.4 305.5zM1008.3 289.0L1018.1 288.4L1018.5 296.7L1008.8 297.2zM1042.5 289.0L1052.1 287.6L1053.3 295.9L1043.7 297.2zM1043.7 297.2L1053.3 295.9L1054.5 304.1L1044.8 305.5zM1110.8 289.3L1120.1 286.3L1122.7 294.3L1113.4 297.2zM820.4 304.5L829.3 308.3L826.0 316.0L817.1 312.1zM834.5 312.1L843.6 315.6L840.6 323.3L831.5 319.8zM842.7 309.0L851.9 312.1L849.3 320.0L840.0 316.9zM905.8 303.9L915.4 305.8L913.8 314.0L904.2 312.1zM922.9 303.9L932.6 305.4L931.3 313.6L921.6 312.1zM921.6 312.1L931.3 313.6L930.0 321.8L920.4 320.3zM1084.3 306.7L1093.7 304.1L1095.9 312.1L1086.5 314.7zM1093.7 304.1L1103.1 301.5L1105.4 309.5L1095.9 312.1zM747.3 326.9L755.6 332.1L751.2 339.1L742.9 334.0zM1016.5 327.9L1026.2 326.9L1027.1 335.2L1017.3 336.2zM956.5 341.7L966.2 342.4L965.7 350.7L955.9 350.0zM974.2 333.4L983.9 333.7L983.7 342.0L973.9 341.7zM1042.5 333.5L1052.1 332.1L1053.3 340.4L1043.7 341.7zM1043.7 341.7L1053.3 340.4L1054.5 348.6L1044.8 350.0zM1231.0 334.7L1239.3 329.5L1243.7 336.6L1235.4 341.7zM1227.1 346.9L1235.4 341.7L1239.8 348.8L1231.5 354.0zM828.3 345.3L837.5 348.8L834.5 356.6L825.4 353.1zM837.5 348.8L846.6 352.3L843.6 360.1L834.5 356.6zM845.3 345.6L854.6 348.7L851.9 356.6L842.7 353.5zM851.9 356.6L861.2 359.7L858.5 367.6L849.3 364.5zM905.8 348.4L915.4 350.3L913.8 358.5L904.2 356.6zM904.2 356.6L913.8 358.5L912.2 366.6L902.6 364.7zM957.1 348.3L966.8 349.0L966.2 357.3L956.5 356.6zM964.4 348.0L974.2 348.3L973.9 356.6L964.2 356.3zM842.7 368.3L851.9 371.4L849.3 379.3L840.0 376.2zM842.7 383.1L851.9 386.2L849.3 394.1L840.0 391.0zM1008.8 386.2L1018.5 385.7L1019.0 394.0L1009.3 394.5zM854.6 393.2L863.8 396.3L861.2 404.2L851.9 401.1zM947.3 392.1L957.1 392.8L956.5 401.1L946.8 400.4zM946.8 400.4L956.5 401.1L955.9 409.4L946.2 408.7zM964.2 400.8L973.9 401.1L973.7 409.4L964.0 409.1zM1008.8 401.1L1018.5 400.5L1019.0 408.8L1009.3 409.4zM1025.4 392.8L1035.1 391.8L1035.9 400.1L1026.2 401.1zM1016.5 402.1L1026.2 401.1L1027.1 409.3L1017.3 410.3zM1026.2 401.1L1035.9 400.1L1036.8 408.4L1027.1 409.3zM1042.5 392.9L1052.1 391.5L1053.3 399.7L1043.7 401.1zM1034.0 402.5L1043.7 401.1L1044.8 409.3L1035.2 410.7zM1043.7 401.1L1053.3 399.7L1054.5 407.9L1044.8 409.3zM828.3 404.7L837.5 408.2L834.5 415.9L825.4 412.4zM1043.7 415.9L1053.3 414.5L1054.5 422.7L1044.8 424.1zM1084.3 410.5L1093.7 407.9L1095.9 415.9L1086.5 418.5zM1086.5 418.5L1095.9 415.9L1098.2 423.9L1088.7 426.5zM1095.9 415.9L1105.4 413.3L1107.6 421.3L1098.2 423.9zM1170.6 413.1L1179.3 408.5L1183.1 415.9L1174.4 420.4zM1174.4 420.4L1183.1 415.9L1186.9 423.3L1178.3 427.8zM1183.1 415.9L1191.7 411.4L1195.6 418.8L1186.9 423.3zM794.5 419.0L803.2 423.3L799.6 430.7L790.8 426.5zM854.6 422.9L863.8 426.0L861.2 433.8L851.9 430.7zM851.9 430.7L861.2 433.8L858.5 441.7L849.3 438.6zM1025.4 422.5L1035.1 421.5L1035.9 429.8L1026.2 430.7zM1174.4 435.3L1183.1 430.7L1186.9 438.1L1178.3 442.6zM1183.1 430.7L1191.7 426.2L1195.6 433.6L1186.9 438.1zM794.5 433.9L803.2 438.1L799.6 445.6L790.8 441.3zM790.8 441.3L799.6 445.6L796.0 453.1L787.2 448.8zM828.3 434.3L837.5 437.8L834.5 445.6L825.4 442.1zM837.5 437.8L846.6 441.3L843.6 449.1L834.5 445.6zM888.7 437.5L898.2 439.8L896.3 447.9L886.8 445.6zM877.3 443.3L886.8 445.6L884.8 453.6L875.3 451.3zM905.8 437.4L915.4 439.3L913.8 447.5L904.2 445.6zM1015.7 438.3L1025.4 437.3L1026.2 445.6L1016.5 446.6zM1026.2 445.6L1035.9 444.6L1036.8 452.9L1027.1 453.8zM1170.6 442.7L1179.3 438.2L1183.1 445.6L1174.4 450.1zM1008.3 452.1L1018.1 451.6L1018.5 459.8L1008.8 460.4zM999.1 461.0L1008.8 460.4L1009.3 468.7L999.5 469.3zM1008.8 460.4L1018.5 459.8L1019.0 468.1L1009.3 468.7zM1025.4 452.1L1035.1 451.2L1035.9 459.4L1026.2 460.4zM1067.1 454.5L1076.6 452.3L1078.5 460.4L1069.0 462.6zM817.1 475.2L826.0 479.1L822.7 486.7L813.8 482.9zM842.7 472.1L851.9 475.2L849.3 483.1L840.0 480.0zM811.4 478.6L820.4 482.5L817.1 490.1L808.1 486.2zM817.1 490.1L826.0 493.9L822.7 501.6L813.8 497.7zM921.6 490.1L931.3 491.6L930.0 499.8L920.4 498.3zM1016.5 505.9L1026.2 504.9L1027.1 513.2L1017.3 514.1zM1026.2 504.9L1035.9 503.9L1036.8 512.2L1027.1 513.2zM1076.6 496.8L1086.2 494.6L1088.0 502.7L1078.5 504.9zM981.6 519.9L991.4 519.7L991.5 528.0L981.7 528.2zM1015.7 512.5L1025.4 511.5L1026.2 519.7L1016.5 520.7zM1025.4 511.5L1035.1 510.5L1035.9 518.8L1026.2 519.7zM1016.5 520.7L1026.2 519.7L1027.1 528.0L1017.3 529.0zM1026.2 519.7L1035.9 518.8L1036.8 527.0L1027.1 528.0zM1118.8 515.3L1127.9 512.0L1130.8 519.7L1121.6 523.1zM1127.9 512.0L1137.1 508.6L1140.0 516.4L1130.8 519.7zM1130.8 519.7L1140.0 516.4L1142.8 524.1L1133.7 527.5zM939.1 534.6L948.8 535.7L947.9 543.9L938.2 542.8zM1050.0 528.2L1059.6 526.4L1061.1 534.6L1051.5 536.4zM1059.6 526.4L1069.2 524.6L1070.7 532.8L1061.1 534.6zM947.3 540.4L957.1 541.1L956.5 549.4L946.8 548.7zM957.1 541.1L966.8 541.8L966.2 550.1L956.5 549.4zM946.8 548.7L956.5 549.4L955.9 557.7L946.2 557.0zM964.2 549.1L973.9 549.4L973.7 557.7L964.0 557.4zM964.4 555.7L974.2 555.9L973.9 564.2L964.2 564.0zM930.3 569.7L940.0 570.8L939.1 579.1L929.4 578.0zM929.4 578.0L939.1 579.1L938.2 587.3L928.5 586.2zM991.2 570.8L1001.0 570.6L1001.1 578.9L991.4 579.1z" fill="#0a68e0"/><path d="M1252.8 193.4L1261.1 188.2L1265.5 195.3L1257.2 200.5zM1262.0 198.6L1270.2 193.4L1274.6 200.5L1266.4 205.6zM981.6 223.2L991.4 223.1L991.5 231.4L981.7 231.5zM921.6 237.9L931.3 239.4L930.0 247.6L920.4 246.1zM981.6 238.1L991.4 237.9L991.5 246.2L981.7 246.4zM991.4 237.9L1001.1 237.8L1001.3 246.1L991.5 246.2zM1008.3 229.6L1018.1 229.1L1018.5 237.4L1008.8 237.9zM999.1 238.5L1008.8 237.9L1009.3 246.2L999.5 246.8zM1095.9 237.9L1105.4 235.3L1107.6 243.3L1098.2 245.9zM871.7 244.8L881.0 247.5L878.7 255.5L869.4 252.7zM879.3 242.4L888.7 244.7L886.8 252.7L877.3 250.4zM894.6 250.8L904.2 252.7L902.6 260.9L893.0 259.0zM922.9 244.5L932.6 246.0L931.3 254.2L921.6 252.7zM912.0 251.3L921.6 252.7L920.4 261.0L910.7 259.5zM921.6 252.7L931.3 254.2L930.0 262.5L920.4 261.0zM991.4 252.7L1001.1 252.6L1001.3 260.9L991.5 261.1zM1032.8 245.9L1042.5 244.5L1043.7 252.7L1034.0 254.1zM869.4 267.6L878.7 270.3L876.4 278.3L867.1 275.6zM896.3 257.5L905.8 259.4L904.2 267.6L894.6 265.7zM904.2 267.6L913.8 269.5L912.2 277.6L902.6 275.7zM964.2 267.3L973.9 267.6L973.7 275.9L964.0 275.6zM981.5 259.4L991.2 259.3L991.4 267.6L981.6 267.7zM981.6 267.7L991.4 267.6L991.5 275.9L981.7 276.0zM1093.7 259.6L1103.1 257.0L1105.4 265.0L1095.9 267.6zM845.3 271.4L854.6 274.5L851.9 282.4L842.7 279.3zM871.7 274.4L881.0 277.1L878.7 285.1L869.4 282.4zM904.2 282.4L913.8 284.3L912.2 292.5L902.6 290.6zM782.2 297.2L790.8 301.9L786.9 309.2L778.3 304.6zM817.1 297.2L826.0 301.1L822.7 308.7L813.8 304.9zM825.4 293.8L834.5 297.2L831.5 305.0L822.4 301.5zM871.7 289.3L881.0 292.0L878.7 300.0L869.4 297.2zM912.0 295.8L921.6 297.2L920.4 305.5L910.7 304.0zM1034.0 298.6L1043.7 297.2L1044.8 305.5L1035.2 306.9zM1101.5 292.3L1110.8 289.3L1113.4 297.2L1104.1 300.2zM1104.1 300.2L1113.4 297.2L1115.9 305.2L1106.6 308.1zM837.5 304.3L846.6 307.8L843.6 315.6L834.5 312.1zM825.4 308.6L834.5 312.1L831.5 319.8L822.4 316.4zM845.3 301.1L854.6 304.2L851.9 312.1L842.7 309.0zM854.6 304.2L863.8 307.3L861.2 315.2L851.9 312.1zM896.3 302.0L905.8 303.9L904.2 312.1L894.6 310.2zM743.5 314.7L751.7 319.9L747.3 326.9L739.1 321.7zM751.7 319.9L760.0 325.0L755.6 332.1L747.3 326.9zM739.1 321.7L747.3 326.9L742.9 334.0L734.7 328.8zM1025.4 318.6L1035.1 317.7L1035.9 325.9L1026.2 326.9zM1026.2 326.9L1035.9 325.9L1036.8 334.2L1027.1 335.2zM1042.5 318.7L1052.1 317.3L1053.3 325.5L1043.7 326.9zM964.4 333.2L974.2 333.4L973.9 341.7L964.2 341.5zM964.2 341.5L973.9 341.7L973.7 350.0L964.0 349.8zM973.9 341.7L983.7 342.0L983.5 350.3L973.7 350.0zM1032.8 334.9L1042.5 333.5L1043.7 341.7L1034.0 343.1zM1235.4 341.7L1243.7 336.6L1248.1 343.6L1239.8 348.8zM834.5 356.6L843.6 360.1L840.6 367.8L831.5 364.3zM842.7 353.5L851.9 356.6L849.3 364.5L840.0 361.4zM922.9 348.4L932.6 349.9L931.3 358.1L921.6 356.6zM940.0 348.3L949.7 349.4L948.8 357.7L939.1 356.6zM845.3 360.4L854.6 363.5L851.9 371.4L842.7 368.3zM845.3 390.1L854.6 393.2L851.9 401.1L842.7 398.0zM998.6 393.3L1008.3 392.8L1008.8 401.1L999.1 401.6zM1008.3 392.8L1018.1 392.2L1018.5 400.5L1008.8 401.1zM1015.7 393.8L1025.4 392.8L1026.2 401.1L1016.5 402.1zM957.1 407.6L966.8 408.3L966.2 416.6L956.5 415.9zM998.6 408.2L1008.3 407.6L1008.8 415.9L999.1 416.5zM1008.3 407.6L1018.1 407.1L1018.5 415.3L1008.8 415.9zM1016.5 416.9L1026.2 415.9L1027.1 424.2L1017.3 425.2zM1026.2 415.9L1035.9 414.9L1036.8 423.2L1027.1 424.2zM1042.5 407.7L1052.1 406.3L1053.3 414.5L1043.7 415.9zM1093.7 407.9L1103.1 405.3L1105.4 413.3L1095.9 415.9zM803.2 423.3L812.0 427.5L808.4 435.0L799.6 430.7zM828.3 419.5L837.5 423.0L834.5 430.7L825.4 427.3zM834.5 430.7L843.6 434.2L840.6 442.0L831.5 438.5zM845.3 419.8L854.6 422.9L851.9 430.7L842.7 427.6zM964.4 422.2L974.2 422.4L973.9 430.7L964.2 430.5zM974.2 422.4L983.9 422.7L983.7 431.0L973.9 430.7zM964.2 430.5L973.9 430.7L973.7 439.0L964.0 438.8zM973.9 430.7L983.7 431.0L983.5 439.3L973.7 439.0zM1170.6 427.9L1179.3 423.4L1183.1 430.7L1174.4 435.3zM1179.3 423.4L1187.9 418.9L1191.7 426.2L1183.1 430.7zM799.6 445.6L808.4 449.8L804.8 457.3L796.0 453.1zM817.1 445.6L826.0 449.4L822.7 457.1L813.8 453.2zM825.4 442.1L834.5 445.6L831.5 453.3L822.4 449.8zM834.5 445.6L843.6 449.1L840.6 456.8L831.5 453.3zM845.3 434.6L854.6 437.7L851.9 445.6L842.7 442.5zM854.6 437.7L863.8 440.8L861.2 448.7L851.9 445.6zM896.3 435.5L905.8 437.4L904.2 445.6L894.6 443.7zM894.6 443.7L904.2 445.6L902.6 453.7L893.0 451.8zM904.2 445.6L913.8 447.5L912.2 455.6L902.6 453.7zM981.5 437.4L991.2 437.3L991.4 445.6L981.6 445.7zM991.2 437.3L1001.0 437.1L1001.1 445.4L991.4 445.6zM981.6 445.7L991.4 445.6L991.5 453.9L981.7 454.0zM991.4 445.6L1001.1 445.4L1001.3 453.7L991.5 453.9zM1025.4 437.3L1035.1 436.3L1035.9 444.6L1026.2 445.6zM1183.1 445.6L1191.7 441.1L1195.6 448.4L1186.9 452.9zM877.3 458.1L886.8 460.4L884.8 468.5L875.3 466.2zM894.6 458.5L904.2 460.4L902.6 468.6L893.0 466.7zM904.2 460.4L913.8 462.3L912.2 470.5L902.6 468.6zM1042.5 452.2L1052.1 450.8L1053.3 459.0L1043.7 460.4zM1110.8 452.5L1120.1 449.5L1122.7 457.4L1113.4 460.4zM957.1 467.0L966.8 467.6L966.2 475.9L956.5 475.2zM956.5 475.2L966.2 475.9L965.7 484.2L955.9 483.5zM998.6 467.5L1008.3 467.0L1008.8 475.2L999.1 475.8zM999.1 475.8L1008.8 475.2L1009.3 483.5L999.5 484.1zM820.4 482.5L829.3 486.3L826.0 493.9L817.1 490.1zM1042.5 481.9L1052.1 480.5L1053.3 488.7L1043.7 490.1zM1067.1 484.2L1076.6 482.0L1078.5 490.1L1069.0 492.3zM1076.6 482.0L1086.2 479.8L1088.0 487.9L1078.5 490.1zM1067.1 499.0L1076.6 496.8L1078.5 504.9L1069.0 507.1zM879.3 509.4L888.7 511.7L886.8 519.7L877.3 517.4zM888.7 511.7L898.2 514.0L896.3 522.0L886.8 519.7zM947.3 510.8L957.1 511.5L956.5 519.7L946.8 519.1zM981.5 511.6L991.2 511.4L991.4 519.7L981.6 519.9zM991.4 519.7L1001.1 519.6L1001.3 527.9L991.5 528.0zM922.9 526.4L932.6 527.9L931.3 536.1L921.6 534.6zM940.0 526.3L949.7 527.4L948.8 535.7L939.1 534.6zM981.5 526.4L991.2 526.3L991.4 534.6L981.6 534.7zM991.2 526.3L1001.0 526.1L1001.1 534.4L991.4 534.6zM981.6 534.7L991.4 534.6L991.5 542.9L981.7 543.0zM1034.0 536.0L1043.7 534.6L1044.8 542.8L1035.2 544.2zM1051.5 536.4L1061.1 534.6L1062.6 542.7L1053.0 544.5zM860.0 546.7L869.4 549.4L867.1 557.4L857.7 554.7zM956.5 549.4L966.2 550.1L965.7 558.4L955.9 557.7zM862.3 553.6L871.7 556.3L869.4 564.2L860.0 561.5zM940.0 570.8L949.7 571.9L948.8 580.2L939.1 579.1zM939.1 579.1L948.8 580.2L947.9 588.4L938.2 587.3zM981.6 579.2L991.4 579.1L991.5 587.4L981.7 587.5zM837.5 586.1L846.6 589.6L843.6 597.4L834.5 593.9zM834.5 593.9L843.6 597.4L840.6 605.2L831.5 601.7zM940.0 585.7L949.7 586.7L948.8 595.0L939.1 593.9z" fill="#1384f1"/><path d="M981.5 229.8L991.2 229.6L991.4 237.9L981.6 238.1zM869.4 252.7L878.7 255.5L876.4 263.4L867.1 260.7zM886.8 252.7L896.3 255.1L894.3 263.1L884.8 260.8zM991.2 244.4L1001.0 244.3L1001.1 252.6L991.4 252.7zM981.6 252.9L991.4 252.7L991.5 261.1L981.7 261.2zM964.4 259.0L974.2 259.3L973.9 267.6L964.2 267.3zM974.2 259.3L983.9 259.5L983.7 267.8L973.9 267.6zM1032.8 260.7L1042.5 259.4L1043.7 267.6L1034.0 269.0zM1034.0 269.0L1043.7 267.6L1044.8 275.8L1035.2 277.2zM842.7 279.3L851.9 282.4L849.3 290.3L840.0 287.2zM851.9 282.4L861.2 285.5L858.5 293.4L849.3 290.3zM896.3 272.4L905.8 274.3L904.2 282.4L894.6 280.5zM974.2 274.1L983.9 274.4L983.7 282.7L973.9 282.4zM973.9 282.4L983.7 282.7L983.5 291.0L973.7 290.7zM1025.4 274.1L1035.1 273.2L1035.9 281.4L1026.2 282.4zM1016.5 283.4L1026.2 282.4L1027.1 290.7L1017.3 291.7zM1026.2 282.4L1035.9 281.4L1036.8 289.7L1027.1 290.7zM794.5 285.5L803.2 289.8L799.6 297.2L790.8 293.0zM790.8 293.0L799.6 297.2L796.0 304.7L787.2 300.5zM845.3 286.3L854.6 289.4L851.9 297.2L842.7 294.1zM854.6 289.4L863.8 292.5L861.2 300.3L851.9 297.2zM842.7 294.1L851.9 297.2L849.3 305.1L840.0 302.0zM851.9 297.2L861.2 300.3L858.5 308.2L849.3 305.1zM1025.4 289.0L1035.1 288.0L1035.9 296.3L1026.2 297.2zM1016.5 298.2L1026.2 297.2L1027.1 305.5L1017.3 306.5zM1026.2 297.2L1035.9 296.3L1036.8 304.5L1027.1 305.5zM1032.8 290.4L1042.5 289.0L1043.7 297.2L1034.0 298.6zM1113.4 297.2L1122.7 294.3L1125.2 302.2L1115.9 305.2zM828.3 300.8L837.5 304.3L834.5 312.1L825.4 308.6zM1095.9 312.1L1105.4 309.5L1107.6 317.5L1098.2 320.1zM1043.7 326.9L1053.3 325.5L1054.5 333.8L1044.8 335.1zM1034.0 343.1L1043.7 341.7L1044.8 350.0L1035.2 351.4zM913.3 346.9L922.9 348.4L921.6 356.6L912.0 355.1zM912.0 355.1L921.6 356.6L920.4 364.8L910.7 363.3zM930.3 347.2L940.0 348.3L939.1 356.6L929.4 355.5zM929.4 355.5L939.1 356.6L938.2 364.8L928.5 363.7zM939.1 356.6L948.8 357.7L947.9 365.9L938.2 364.8zM998.6 378.5L1008.3 378.0L1008.8 386.2L999.1 386.8zM999.1 386.8L1008.8 386.2L1009.3 394.5L999.5 395.1zM999.1 401.6L1008.8 401.1L1009.3 409.4L999.5 409.9zM1032.8 394.2L1042.5 392.9L1043.7 401.1L1034.0 402.5zM947.3 407.0L957.1 407.6L956.5 415.9L946.8 415.2zM956.5 415.9L966.2 416.6L965.7 424.9L955.9 424.2zM1015.7 408.6L1025.4 407.6L1026.2 415.9L1016.5 416.9zM1032.8 409.1L1042.5 407.7L1043.7 415.9L1034.0 417.3zM1034.0 417.3L1043.7 415.9L1044.8 424.1L1035.2 425.5zM790.8 426.5L799.6 430.7L796.0 438.2L787.2 434.0zM811.4 419.2L820.4 423.1L817.1 430.7L808.1 426.9zM820.4 423.1L829.3 427.0L826.0 434.6L817.1 430.7zM837.5 423.0L846.6 426.5L843.6 434.2L834.5 430.7zM825.4 427.3L834.5 430.7L831.5 438.5L822.4 435.0zM842.7 427.6L851.9 430.7L849.3 438.6L840.0 435.5zM956.5 430.7L966.2 431.4L965.7 439.7L955.9 439.0zM811.4 434.1L820.4 438.0L817.1 445.6L808.1 441.7zM820.4 438.0L829.3 441.8L826.0 449.4L817.1 445.6zM886.8 445.6L896.3 447.9L894.3 456.0L884.8 453.6zM913.3 435.9L922.9 437.4L921.6 445.6L912.0 444.1zM974.2 437.3L983.9 437.5L983.7 445.8L973.9 445.6zM1179.3 438.2L1187.9 433.7L1191.7 441.1L1183.1 445.6zM888.7 452.3L898.2 454.6L896.3 462.7L886.8 460.4zM913.3 450.7L922.9 452.2L921.6 460.4L912.0 458.9zM912.0 458.9L921.6 460.4L920.4 468.6L910.7 467.1zM956.5 460.4L966.2 461.1L965.7 469.4L955.9 468.7zM973.9 460.4L983.7 460.7L983.5 469.0L973.7 468.7zM998.6 452.7L1008.3 452.1L1008.8 460.4L999.1 461.0zM1032.8 453.6L1042.5 452.2L1043.7 460.4L1034.0 461.8zM1034.0 461.8L1043.7 460.4L1044.8 468.6L1035.2 470.0zM1043.7 460.4L1053.3 459.0L1054.5 467.2L1044.8 468.6zM947.3 466.3L957.1 467.0L956.5 475.2L946.8 474.6zM964.4 466.7L974.2 466.9L973.9 475.2L964.2 475.0zM1008.8 490.1L1018.5 489.5L1019.0 497.8L1009.3 498.4zM1032.8 483.2L1042.5 481.9L1043.7 490.1L1034.0 491.5zM1034.0 491.5L1043.7 490.1L1044.8 498.3L1035.2 499.7zM913.3 495.2L922.9 496.7L921.6 504.9L912.0 503.4zM922.9 496.7L932.6 498.2L931.3 506.4L921.6 504.9zM921.6 504.9L931.3 506.4L930.0 514.6L920.4 513.1zM946.8 504.2L956.5 504.9L955.9 513.2L946.2 512.5zM956.5 504.9L966.2 505.6L965.7 513.9L955.9 513.2zM896.3 509.7L905.8 511.6L904.2 519.7L894.6 517.8zM905.8 511.6L915.4 513.5L913.8 521.6L904.2 519.7zM913.3 510.0L922.9 511.5L921.6 519.7L912.0 518.2zM922.9 511.5L932.6 513.0L931.3 521.2L921.6 519.7zM921.6 519.7L931.3 521.2L930.0 529.4L920.4 528.0zM939.1 519.7L948.8 520.8L947.9 529.1L938.2 528.0zM991.2 511.4L1001.0 511.3L1001.1 519.6L991.4 519.7zM1008.8 519.7L1018.5 519.2L1019.0 527.5L1009.3 528.0zM930.3 525.2L940.0 526.3L939.1 534.6L929.4 533.5zM1032.8 527.7L1042.5 526.4L1043.7 534.6L1034.0 536.0zM1042.5 526.4L1052.1 525.0L1053.3 533.2L1043.7 534.6zM862.3 538.7L871.7 541.4L869.4 549.4L860.0 546.7zM871.7 556.3L881.0 559.0L878.7 566.9L869.4 564.2zM860.0 561.5L869.4 564.2L867.1 572.2L857.7 569.5zM957.1 556.0L966.8 556.6L966.2 564.9L956.5 564.2zM956.5 564.2L966.2 564.9L965.7 573.2L955.9 572.5z" fill="#1999fd"/><path d="M930.3 228.6L940.0 229.7L939.1 237.9L929.4 236.8zM940.0 229.7L949.7 230.7L948.8 239.0L939.1 237.9zM939.1 237.9L948.8 239.0L947.9 247.3L938.2 246.2zM888.7 244.7L898.2 247.0L896.3 255.1L886.8 252.7zM947.3 243.8L957.1 244.5L956.5 252.7L946.8 252.1zM888.7 259.5L898.2 261.8L896.3 269.9L886.8 267.6zM886.8 267.6L896.3 269.9L894.3 278.0L884.8 275.7zM894.6 265.7L904.2 267.6L902.6 275.7L893.0 273.8zM1042.5 259.4L1052.1 258.0L1053.3 266.2L1043.7 267.6zM905.8 274.3L915.4 276.2L913.8 284.3L904.2 282.4zM894.6 280.5L904.2 282.4L902.6 290.6L893.0 288.7zM964.4 273.8L974.2 274.1L973.9 282.4L964.2 282.2zM964.2 282.2L973.9 282.4L973.7 290.7L964.0 290.5zM1015.7 275.1L1025.4 274.1L1026.2 282.4L1016.5 283.4zM1032.8 275.6L1042.5 274.2L1043.7 282.4L1034.0 283.8zM1043.7 282.4L1053.3 281.0L1054.5 289.3L1044.8 290.6zM803.2 289.8L812.0 294.0L808.4 301.5L799.6 297.2zM799.6 297.2L808.4 301.5L804.8 309.0L796.0 304.7zM828.3 286.0L837.5 289.5L834.5 297.2L825.4 293.8zM834.5 297.2L843.6 300.7L840.6 308.5L831.5 305.0zM877.3 294.9L886.8 297.2L884.8 305.3L875.3 303.0zM886.8 297.2L896.3 299.6L894.3 307.6L884.8 305.3zM904.2 297.2L913.8 299.2L912.2 307.3L902.6 305.4zM1015.7 290.0L1025.4 289.0L1026.2 297.2L1016.5 298.2zM946.8 311.4L956.5 312.1L955.9 320.4L946.2 319.7zM1101.5 307.2L1110.8 304.2L1113.4 312.1L1104.1 315.1zM1113.4 312.1L1122.7 309.1L1125.2 317.0L1115.9 320.0zM1032.8 320.1L1042.5 318.7L1043.7 326.9L1034.0 328.3zM1034.0 328.3L1043.7 326.9L1044.8 335.1L1035.2 336.5zM1016.5 342.7L1026.2 341.7L1027.1 350.0L1017.3 351.0zM939.1 386.2L948.8 387.3L947.9 395.6L938.2 394.5zM981.6 386.4L991.4 386.2L991.5 394.6L981.7 394.7zM946.8 415.2L956.5 415.9L955.9 424.2L946.2 423.5zM1025.4 407.6L1035.1 406.7L1035.9 414.9L1026.2 415.9zM799.6 430.7L808.4 435.0L804.8 442.5L796.0 438.2zM808.1 426.9L817.1 430.7L813.8 438.4L804.8 434.5zM817.1 430.7L826.0 434.6L822.7 442.2L813.8 438.4zM913.3 421.0L922.9 422.5L921.6 430.7L912.0 429.2zM912.0 429.2L921.6 430.7L920.4 439.0L910.7 437.5zM921.6 430.7L931.3 432.2L930.0 440.4L920.4 439.0zM947.3 421.8L957.1 422.5L956.5 430.7L946.8 430.1zM957.1 422.5L966.8 423.1L966.2 431.4L956.5 430.7zM946.8 430.1L956.5 430.7L955.9 439.0L946.2 438.4zM803.2 438.1L812.0 442.3L808.4 449.8L799.6 445.6zM808.1 441.7L817.1 445.6L813.8 453.2L804.8 449.3zM912.0 444.1L921.6 445.6L920.4 453.8L910.7 452.3zM946.8 444.9L956.5 445.6L955.9 453.9L946.2 453.2zM964.2 445.3L973.9 445.6L973.7 453.9L964.0 453.6zM879.3 450.0L888.7 452.3L886.8 460.4L877.3 458.1zM896.3 450.4L905.8 452.3L904.2 460.4L894.6 458.5zM905.8 452.3L915.4 454.2L913.8 462.3L904.2 460.4zM922.9 452.2L932.6 453.7L931.3 461.9L921.6 460.4zM921.6 460.4L931.3 461.9L930.0 470.1L920.4 468.6zM957.1 452.1L966.8 452.8L966.2 461.1L956.5 460.4zM964.4 451.8L974.2 452.1L973.9 460.4L964.2 460.1zM964.2 460.1L973.9 460.4L973.7 468.7L964.0 468.5zM991.4 460.4L1001.1 460.3L1001.3 468.6L991.5 468.7zM946.8 474.6L956.5 475.2L955.9 483.5L946.2 482.9zM964.2 475.0L973.9 475.2L973.7 483.5L964.0 483.3zM957.1 481.8L966.8 482.5L966.2 490.8L956.5 490.1zM1008.3 481.8L1018.1 481.2L1018.5 489.5L1008.8 490.1zM999.1 490.6L1008.8 490.1L1009.3 498.4L999.5 498.9zM1043.7 490.1L1053.3 488.7L1054.5 496.9L1044.8 498.3zM1069.0 492.3L1078.5 490.1L1080.4 498.2L1070.9 500.4zM1078.5 490.1L1088.0 487.9L1089.9 496.0L1080.4 498.2zM896.3 494.9L905.8 496.8L904.2 504.9L894.6 503.0zM912.0 503.4L921.6 504.9L920.4 513.1L910.7 511.6zM957.1 496.6L966.8 497.3L966.2 505.6L956.5 504.9zM991.2 496.6L1001.0 496.5L1001.1 504.8L991.4 504.9zM991.4 504.9L1001.1 504.8L1001.3 513.1L991.5 513.2zM886.8 519.7L896.3 522.0L894.3 530.1L884.8 527.8zM894.6 517.8L904.2 519.7L902.6 527.9L893.0 526.0zM904.2 519.7L913.8 521.6L912.2 529.8L902.6 527.9zM912.0 518.2L921.6 519.7L920.4 528.0L910.7 526.5zM940.0 511.5L949.7 512.6L948.8 520.8L939.1 519.7zM929.4 518.7L939.1 519.7L938.2 528.0L928.5 526.9zM998.6 512.0L1008.3 511.4L1008.8 519.7L999.1 520.3zM999.1 520.3L1008.8 519.7L1009.3 528.0L999.5 528.6zM871.7 526.6L881.0 529.3L878.7 537.3L869.4 534.6zM929.4 533.5L939.1 534.6L938.2 542.8L928.5 541.7zM1043.7 534.6L1053.3 533.2L1054.5 541.4L1044.8 542.8zM871.7 541.4L881.0 544.1L878.7 552.1L869.4 549.4zM877.3 561.9L886.8 564.2L884.8 572.3L875.3 570.0zM947.3 555.3L957.1 556.0L956.5 564.2L946.8 563.6zM946.8 563.6L956.5 564.2L955.9 572.5L946.2 571.9zM956.5 579.1L966.2 579.7L965.7 588.0L955.9 587.4zM845.3 582.9L854.6 586.0L851.9 593.9L842.7 590.8zM854.6 586.0L863.8 589.1L861.2 597.0L851.9 593.9z" fill="#49afff"/><path d="M929.4 236.8L939.1 237.9L938.2 246.2L928.5 245.1zM877.3 250.4L886.8 252.7L884.8 260.8L875.3 258.5zM879.3 257.2L888.7 259.5L886.8 267.6L877.3 265.3zM1043.7 267.6L1053.3 266.2L1054.5 274.4L1044.8 275.8zM837.5 289.5L846.6 293.0L843.6 300.7L834.5 297.2zM894.6 295.3L904.2 297.2L902.6 305.4L893.0 303.5zM939.1 312.1L948.8 313.2L947.9 321.4L938.2 320.3zM947.3 303.1L957.1 303.8L956.5 312.1L946.8 311.4zM957.1 303.8L966.8 304.5L966.2 312.8L956.5 312.1zM956.5 312.1L966.2 312.8L965.7 321.0L955.9 320.4zM1110.8 304.2L1120.1 301.2L1122.7 309.1L1113.4 312.1zM1015.7 334.5L1025.4 333.5L1026.2 341.7L1016.5 342.7zM1025.4 333.5L1035.1 332.5L1035.9 340.8L1026.2 341.7zM1026.2 341.7L1035.9 340.8L1036.8 349.0L1027.1 350.0zM912.0 369.9L921.6 371.4L920.4 379.6L910.7 378.1zM913.3 376.5L922.9 378.0L921.6 386.2L912.0 384.7zM940.0 378.0L949.7 379.1L948.8 387.3L939.1 386.2zM929.4 385.2L939.1 386.2L938.2 394.5L928.5 393.4zM991.2 377.9L1001.0 377.8L1001.1 386.1L991.4 386.2zM991.4 386.2L1001.1 386.1L1001.3 394.4L991.5 394.6zM912.0 414.4L921.6 415.9L920.4 424.1L910.7 422.6zM957.1 437.3L966.8 438.0L966.2 446.3L956.5 445.6zM956.5 445.6L966.2 446.3L965.7 454.5L955.9 453.9zM964.4 437.0L974.2 437.3L973.9 445.6L964.2 445.3zM973.9 445.6L983.7 445.8L983.5 454.1L973.7 453.9zM886.8 460.4L896.3 462.7L894.3 470.8L884.8 468.5zM946.8 459.7L956.5 460.4L955.9 468.7L946.2 468.0zM974.2 452.1L983.9 452.4L983.7 460.7L973.9 460.4zM981.6 460.6L991.4 460.4L991.5 468.7L981.7 468.9zM974.2 466.9L983.9 467.2L983.7 475.5L973.9 475.2zM991.2 466.9L1001.0 466.8L1001.1 475.1L991.4 475.2zM845.3 479.1L854.6 482.2L851.9 490.1L842.7 487.0zM842.7 487.0L851.9 490.1L849.3 498.0L840.0 494.9zM947.3 481.1L957.1 481.8L956.5 490.1L946.8 489.4zM956.5 490.1L966.2 490.8L965.7 499.0L955.9 498.4zM998.6 482.3L1008.3 481.8L1008.8 490.1L999.1 490.6zM894.6 503.0L904.2 504.9L902.6 513.1L893.0 511.2zM904.2 504.9L913.8 506.8L912.2 515.0L902.6 513.1zM947.3 495.9L957.1 496.6L956.5 504.9L946.8 504.2zM877.3 517.4L886.8 519.7L884.8 527.8L875.3 525.5zM1008.3 511.4L1018.1 510.9L1018.5 519.2L1008.8 519.7zM862.3 523.9L871.7 526.6L869.4 534.6L860.0 531.9zM869.4 549.4L878.7 552.1L876.4 560.1L867.1 557.4zM888.7 541.3L898.2 543.6L896.3 551.7L886.8 549.4zM877.3 547.1L886.8 549.4L884.8 557.5L875.3 555.2zM886.8 549.4L896.3 551.7L894.3 559.8L884.8 557.5zM869.4 564.2L878.7 566.9L876.4 574.9L867.1 572.2zM879.3 553.9L888.7 556.2L886.8 564.2L877.3 561.9zM888.7 556.2L898.2 558.5L896.3 566.5L886.8 564.2zM957.1 570.8L966.8 571.5L966.2 579.7L956.5 579.1zM851.9 593.9L861.2 597.0L858.5 604.9L849.3 601.8z" fill="#74bfff"/><path d="M929.4 251.7L939.1 252.7L938.2 261.0L928.5 259.9zM939.1 252.7L948.8 253.8L947.9 262.1L938.2 261.0zM957.1 244.5L966.8 245.1L966.2 253.4L956.5 252.7zM946.8 252.1L956.5 252.7L955.9 261.0L946.2 260.4zM877.3 265.3L886.8 267.6L884.8 275.7L875.3 273.3zM929.4 266.5L939.1 267.6L938.2 275.8L928.5 274.8zM939.1 267.6L948.8 268.7L947.9 276.9L938.2 275.8zM879.3 272.0L888.7 274.3L886.8 282.4L877.3 280.1zM886.8 282.4L896.3 284.7L894.3 292.8L884.8 290.5zM929.4 281.3L939.1 282.4L938.2 290.7L928.5 289.6zM1042.5 274.2L1052.1 272.8L1053.3 281.0L1043.7 282.4zM1034.0 283.8L1043.7 282.4L1044.8 290.6L1035.2 292.0zM956.5 297.2L966.2 297.9L965.7 306.2L955.9 305.5zM930.3 302.7L940.0 303.8L939.1 312.1L929.4 311.0zM1104.1 315.1L1113.4 312.1L1115.9 320.0L1106.6 323.0zM921.6 356.6L931.3 358.1L930.0 366.3L920.4 364.8zM930.3 362.1L940.0 363.2L939.1 371.4L929.4 370.3zM940.0 363.2L949.7 364.2L948.8 372.5L939.1 371.4zM912.0 384.7L921.6 386.2L920.4 394.5L910.7 393.0zM921.6 386.2L931.3 387.7L930.0 395.9L920.4 394.5zM930.3 376.9L940.0 378.0L939.1 386.2L929.4 385.2zM913.3 391.4L922.9 392.9L921.6 401.1L912.0 399.6zM912.0 399.6L921.6 401.1L920.4 409.3L910.7 407.8zM913.3 406.2L922.9 407.7L921.6 415.9L912.0 414.4zM922.9 422.5L932.6 424.0L931.3 432.2L921.6 430.7zM922.9 437.4L932.6 438.9L931.3 447.1L921.6 445.6zM921.6 445.6L931.3 447.1L930.0 455.3L920.4 453.8zM939.1 445.6L948.8 446.7L947.9 454.9L938.2 453.8zM947.3 436.6L957.1 437.3L956.5 445.6L946.8 444.9zM947.3 451.4L957.1 452.1L956.5 460.4L946.8 459.7zM981.5 452.3L991.2 452.1L991.4 460.4L981.6 460.6zM991.2 452.1L1001.0 452.0L1001.1 460.3L991.4 460.4zM973.9 475.2L983.7 475.5L983.5 483.8L973.7 483.5zM981.5 467.1L991.2 466.9L991.4 475.2L981.6 475.4zM854.6 482.2L863.8 485.3L861.2 493.2L851.9 490.1zM851.9 490.1L861.2 493.2L858.5 501.1L849.3 498.0zM946.8 489.4L956.5 490.1L955.9 498.4L946.2 497.7zM974.2 481.8L983.9 482.0L983.7 490.3L973.9 490.1zM930.3 495.6L940.0 496.7L939.1 504.9L929.4 503.8zM981.6 505.1L991.4 504.9L991.5 513.2L981.7 513.4zM998.6 497.2L1008.3 496.6L1008.8 504.9L999.1 505.5zM1008.3 496.6L1018.1 496.1L1018.5 504.3L1008.8 504.9zM930.3 510.4L940.0 511.5L939.1 519.7L929.4 518.7zM860.0 531.9L869.4 534.6L867.1 542.6L857.7 539.9zM886.8 564.2L896.3 566.5L894.3 574.6L884.8 572.3zM947.3 570.1L957.1 570.8L956.5 579.1L946.8 578.4zM842.7 590.8L851.9 593.9L849.3 601.8L840.0 598.7zM947.3 584.9L957.1 585.6L956.5 593.9L946.8 593.2z" fill="#9fd0ff"/><path d="M930.3 243.4L940.0 244.5L939.1 252.7L929.4 251.7zM940.0 244.5L949.7 245.6L948.8 253.8L939.1 252.7zM956.5 252.7L966.2 253.4L965.7 261.7L955.9 261.0zM888.7 274.3L898.2 276.6L896.3 284.7L886.8 282.4zM939.1 282.4L948.8 283.5L947.9 291.8L938.2 290.7zM879.3 286.9L888.7 289.2L886.8 297.2L877.3 294.9zM896.3 287.2L905.8 289.1L904.2 297.2L894.6 295.3zM905.8 289.1L915.4 291.0L913.8 299.2L904.2 297.2zM940.0 303.8L949.7 304.9L948.8 313.2L939.1 312.1zM939.1 371.4L948.8 372.5L947.9 380.8L938.2 379.7zM981.5 378.1L991.2 377.9L991.4 386.2L981.6 386.4zM930.3 391.7L940.0 392.8L939.1 401.1L929.4 400.0zM922.9 407.7L932.6 409.2L931.3 417.4L921.6 415.9zM929.4 444.5L939.1 445.6L938.2 453.8L928.5 452.7zM930.3 451.1L940.0 452.2L939.1 460.4L929.4 459.3zM930.3 480.7L940.0 481.8L939.1 490.1L929.4 489.0zM964.4 481.5L974.2 481.8L973.9 490.1L964.2 489.8zM981.5 481.9L991.2 481.8L991.4 490.1L981.6 490.2zM981.6 490.2L991.4 490.1L991.5 498.4L981.7 498.5zM905.8 496.8L915.4 498.7L913.8 506.8L904.2 504.9zM929.4 503.8L939.1 504.9L938.2 513.2L928.5 512.1zM939.1 504.9L948.8 506.0L947.9 514.3L938.2 513.2zM981.5 496.8L991.2 496.6L991.4 504.9L981.6 505.1zM999.1 505.5L1008.8 504.9L1009.3 513.2L999.5 513.8zM869.4 534.6L878.7 537.3L876.4 545.3L867.1 542.6zM879.3 524.2L888.7 526.5L886.8 534.6L877.3 532.3zM888.7 526.5L898.2 528.8L896.3 536.9L886.8 534.6zM879.3 539.0L888.7 541.3L886.8 549.4L877.3 547.1zM946.8 578.4L956.5 579.1L955.9 587.4L946.2 586.7zM957.1 585.6L966.8 586.3L966.2 594.6L956.5 593.9zM956.5 593.9L966.2 594.6L965.7 602.9L955.9 602.2z" fill="#bedfff"/><path d="M956.5 267.6L966.2 268.3L965.7 276.5L955.9 275.9zM877.3 280.1L886.8 282.4L884.8 290.5L875.3 288.2zM930.3 273.1L940.0 274.2L939.1 282.4L929.4 281.3zM947.3 273.5L957.1 274.1L956.5 282.4L946.8 281.7zM888.7 289.2L898.2 291.5L896.3 299.6L886.8 297.2zM940.0 289.0L949.7 290.1L948.8 298.3L939.1 297.2zM939.1 297.2L948.8 298.3L947.9 306.6L938.2 305.5zM947.3 288.3L957.1 289.0L956.5 297.2L946.8 296.6zM957.1 289.0L966.8 289.6L966.2 297.9L956.5 297.2zM929.4 311.0L939.1 312.1L938.2 320.3L928.5 319.2zM913.3 361.7L922.9 363.2L921.6 371.4L912.0 369.9zM921.6 371.4L931.3 372.9L930.0 381.1L920.4 379.6zM922.9 378.0L932.6 379.5L931.3 387.7L921.6 386.2zM939.1 401.1L948.8 402.2L947.9 410.4L938.2 409.3zM921.6 415.9L931.3 417.4L930.0 425.6L920.4 424.1zM940.0 407.7L949.7 408.7L948.8 417.0L939.1 415.9zM929.4 414.8L939.1 415.9L938.2 424.2L928.5 423.1zM939.1 415.9L948.8 417.0L947.9 425.3L938.2 424.2zM939.1 430.7L948.8 431.8L947.9 440.1L938.2 439.0zM930.3 436.2L940.0 437.3L939.1 445.6L929.4 444.5zM940.0 437.3L949.7 438.4L948.8 446.7L939.1 445.6zM940.0 452.2L949.7 453.2L948.8 461.5L939.1 460.4zM939.1 460.4L948.8 461.5L947.9 469.8L938.2 468.7zM930.3 465.9L940.0 467.0L939.1 475.2L929.4 474.2zM981.6 475.4L991.4 475.2L991.5 483.5L981.7 483.7zM991.4 475.2L1001.1 475.1L1001.3 483.4L991.5 483.5zM929.4 489.0L939.1 490.1L938.2 498.3L928.5 497.2zM939.1 490.1L948.8 491.2L947.9 499.4L938.2 498.3zM964.2 489.8L973.9 490.1L973.7 498.4L964.0 498.1zM973.9 490.1L983.7 490.3L983.5 498.6L973.7 498.4zM991.2 481.8L1001.0 481.6L1001.1 489.9L991.4 490.1zM991.4 490.1L1001.1 489.9L1001.3 498.2L991.5 498.4zM964.4 496.3L974.2 496.6L973.9 504.9L964.2 504.6zM974.2 496.6L983.9 496.9L983.7 505.2L973.9 504.9zM877.3 532.3L886.8 534.6L884.8 542.6L875.3 540.3zM946.8 593.2L956.5 593.9L955.9 602.2L946.2 601.5z" fill="#dceeff"/><path d="M930.3 258.2L940.0 259.3L939.1 267.6L929.4 266.5zM940.0 259.3L949.7 260.4L948.8 268.7L939.1 267.6zM947.3 258.6L957.1 259.3L956.5 267.6L946.8 266.9zM946.8 266.9L956.5 267.6L955.9 275.9L946.2 275.2zM957.1 274.1L966.8 274.8L966.2 283.1L956.5 282.4zM956.5 282.4L966.2 283.1L965.7 291.4L955.9 290.7zM946.8 296.6L956.5 297.2L955.9 305.5L946.2 304.9zM922.9 363.2L932.6 364.7L931.3 372.9L921.6 371.4zM929.4 370.3L939.1 371.4L938.2 379.7L928.5 378.6zM930.3 421.4L940.0 422.5L939.1 430.7L929.4 429.7zM940.0 422.5L949.7 423.6L948.8 431.8L939.1 430.7zM940.0 496.7L949.7 497.7L948.8 506.0L939.1 504.9zM973.9 504.9L983.7 505.2L983.5 513.5L973.7 513.2zM1008.8 504.9L1018.5 504.3L1019.0 512.6L1009.3 513.2zM886.8 534.6L896.3 536.9L894.3 545.0L884.8 542.6z" fill="#eef6ff"/><path d="M957.1 259.3L966.8 260.0L966.2 268.3L956.5 267.6zM940.0 274.2L949.7 275.2L948.8 283.5L939.1 282.4zM946.8 281.7L956.5 282.4L955.9 290.7L946.2 290.0zM930.3 287.9L940.0 289.0L939.1 297.2L929.4 296.2zM929.4 296.2L939.1 297.2L938.2 305.5L928.5 304.4zM922.9 392.9L932.6 394.4L931.3 402.6L921.6 401.1zM921.6 401.1L931.3 402.6L930.0 410.8L920.4 409.3zM929.4 400.0L939.1 401.1L938.2 409.3L928.5 408.2zM929.4 429.7L939.1 430.7L938.2 439.0L928.5 437.9zM929.4 459.3L939.1 460.4L938.2 468.7L928.5 467.6zM940.0 467.0L949.7 468.1L948.8 476.3L939.1 475.2zM929.4 474.2L939.1 475.2L938.2 483.5L928.5 482.4zM939.1 475.2L948.8 476.3L947.9 484.6L938.2 483.5zM940.0 481.8L949.7 482.9L948.8 491.2L939.1 490.1zM964.2 504.6L973.9 504.9L973.7 513.2L964.0 513.0z" fill="#ffffff"/><path d="M940.0 392.8L949.7 393.9L948.8 402.2L939.1 401.1zM930.3 406.6L940.0 407.7L939.1 415.9L929.4 414.8z" fill="#ffffff"/></g>
<polygon points="434.8,124.0 409.7,131.2 460.9,132.1 426.2,139.8 480.0,140.5 429.3,149.0 488.9,147.1 463.0,153.5 498.8,156.2 461.8,163.4 505.8,163.3 446.2,172.5 517.0,171.2 464.3,179.9 529.2,179.1 481.5,187.3 535.3,186.0 487.2,194.1 542.7,195.2 498.7,203.0 547.9,204.0 496.7,212.2 550.3,210.6 495.8,219.1 553.3,218.9 515.9,226.0 555.6,225.4 496.8,234.2 557.8,233.3 504.5,241.6 560.4,242.5 507.2,250.8 563.1,251.8 522.1,259.2 566.0,260.8 523.1,268.3 569.0,270.2 509.8,279.0 571.2,276.9 539.2,283.5 572.0,284.0 508.7,293.1 572.7,291.8 522.1,299.9 573.4,299.2 527.2,306.9 574.1,306.8 545.4,313.1 575.4,315.1 540.5,321.9 576.9,324.4 539.4,331.4 578.5,333.7 536.2,341.2 579.6,343.3 541.9,350.3 580.0,350.2 537.3,357.7 580.7,359.7 536.7,367.3 581.4,367.9 543.3,375.1 583.1,375.0 541.7,382.4 585.0,383.2 558.4,389.4 586.5,389.9 544.6,397.3 588.5,399.4 566.9,405.2 589.8,408.4 559.4,414.9 590.7,415.3 563.5,421.5 591.9,424.1 548.5,431.6 591.5,430.7 554.6,437.6 590.6,437.2 550.9,444.3 589.6,444.7 545.4,452.2 588.3,454.2 569.3,459.7 587.5,463.8 571.5,469.1 587.0,470.4 566.7,476.0 586.6,476.9 572.3,482.1 586.0,484.7 564.7,490.3 584.0,491.6 571.2,496.5 581.9,500.7 583.8,504.8 588.2,510.2 588.2,514.3 589.5,517.8 588.6,521.9 589.5,525.9 588.4,530.0 589.1,534.2 587.9,538.3 588.5,542.6 573.6,547.8 589.1,550.6 579.0,555.4 589.9,559.3 581.6,564.0 590.7,566.7 575.7,571.9 591.5,574.7 580.4,579.6 592.2,581.2 582.3,586.0 593.1,589.4 586.7,594.0 593.9,597.8 582.1,602.8 594.4,602.0 678.0,602.0 678.4,600.0 679.3,596.0 680.1,592.0 681.0,588.0 681.9,584.0 682.7,580.0 683.6,576.0 685.4,572.0 688.2,568.0 691.0,564.0 693.8,560.0 696.6,556.0 699.4,552.0 702.2,548.0 705.0,544.0 697.9,540.0 690.7,536.0 683.6,532.0 683.1,528.0 689.3,524.0 695.6,520.0 701.8,516.0 708.0,512.0 709.2,508.0 710.4,504.0 711.6,500.0 712.7,496.0 713.9,492.0 715.1,488.0 715.9,484.0 715.5,480.0 715.1,476.0 714.7,472.0 714.2,468.0 713.8,464.0 713.4,460.0 713.0,456.0 712.9,452.0 712.7,448.0 712.6,444.0 712.5,440.0 712.3,436.0 712.2,432.0 712.1,428.0 711.7,424.0 711.0,420.0 710.3,416.0 709.6,412.0 708.9,408.0 708.2,404.0 707.5,400.0 706.4,396.0 704.2,392.0 701.9,388.0 699.6,384.0 697.4,380.0 695.1,376.0 692.8,372.0 690.6,368.0 689.5,364.0 688.8,360.0 688.1,356.0 687.4,352.0 686.7,348.0 686.0,344.0 685.3,340.0 686.1,336.0 688.4,332.0 690.7,328.0 692.9,324.0 695.2,320.0 697.5,316.0 699.7,312.0 702.0,308.0 702.0,304.0 702.0,300.0 702.0,296.0 702.0,292.0 702.0,288.0 702.0,284.0 702.0,280.0 702.3,276.0 703.0,272.0 703.7,268.0 704.4,264.0 705.1,260.0 705.8,256.0 706.5,252.0 707.6,248.0 710.2,244.0 712.7,240.0 715.2,236.0 717.8,232.0 720.3,228.0 722.8,224.0 725.4,220.0 730.6,216.0 736.6,212.0 742.7,208.0 748.8,204.0 754.8,200.0 760.9,196.0 767.0,192.0 776.0,188.0 788.0,184.0 800.0,180.0 812.0,176.0 813.2,172.0 810.8,168.0 808.4,164.0 806.0,160.0 803.6,156.0 801.2,152.0 798.8,148.0 796.2,144.0 793.8,140.0 791.2,136.0 790.0,132.0 790.0,128.0 790.0,124.0" fill="#000c88"/><polygon points="434.8,124.0 409.7,131.2 460.9,132.1 426.2,139.8 480.0,140.5 429.3,149.0 488.9,147.1 463.0,153.5 498.8,156.2 461.8,163.4 505.8,163.3 446.2,172.5 517.0,171.2 464.3,179.9 529.2,179.1 481.5,187.3 535.3,186.0 487.2,194.1 542.7,195.2 498.7,203.0 547.9,204.0 496.7,212.2 550.3,210.6 495.8,219.1 553.3,218.9 515.9,226.0 555.6,225.4 496.8,234.2 557.8,233.3 504.5,241.6 560.4,242.5 507.2,250.8 563.1,251.8 522.1,259.2 566.0,260.8 523.1,268.3 569.0,270.2 509.8,279.0 571.2,276.9 539.2,283.5 572.0,284.0 508.7,293.1 572.7,291.8 522.1,299.9 573.4,299.2 527.2,306.9 574.1,306.8 545.4,313.1 575.4,315.1 540.5,321.9 576.9,324.4 539.4,331.4 578.5,333.7 536.2,341.2 579.6,343.3 541.9,350.3 580.0,350.2 537.3,357.7 580.7,359.7 536.7,367.3 581.4,367.9 543.3,375.1 583.1,375.0 541.7,382.4 585.0,383.2 558.4,389.4 586.5,389.9 544.6,397.3 588.5,399.4 566.9,405.2 589.8,408.4 559.4,414.9 590.7,415.3 563.5,421.5 591.9,424.1 548.5,431.6 591.5,430.7 554.6,437.6 590.6,437.2 550.9,444.3 589.6,444.7 545.4,452.2 588.3,454.2 569.3,459.7 587.5,463.8 571.5,469.1 587.0,470.4 566.7,476.0 586.6,476.9 572.3,482.1 586.0,484.7 564.7,490.3 584.0,491.6 571.2,496.5 581.9,500.7 583.8,504.8 588.2,510.2 588.2,514.3 589.5,517.8 588.6,521.9 589.5,525.9 588.4,530.0 589.1,534.2 587.9,538.3 588.5,542.6 573.6,547.8 589.1,550.6 579.0,555.4 589.9,559.3 581.6,564.0 590.7,566.7 575.7,571.9 591.5,574.7 580.4,579.6 592.2,581.2 582.3,586.0 593.1,589.4 586.7,594.0 593.9,597.8 582.1,602.8 594.4,602.0 671.5,602.0 671.7,600.0 672.1,596.0 672.6,592.0 673.0,588.0 673.4,584.0 673.9,580.0 674.3,576.0 675.0,572.0 676.0,568.0 677.0,564.0 678.0,560.0 679.0,556.0 680.0,552.0 681.0,548.0 682.0,544.0 679.3,540.0 676.6,536.0 673.9,532.0 674.9,528.0 679.7,524.0 684.4,520.0 689.2,516.0 694.0,512.0 694.8,508.0 695.6,504.0 696.4,500.0 697.3,496.0 698.1,492.0 698.9,488.0 699.4,484.0 699.0,480.0 698.6,476.0 698.2,472.0 697.7,468.0 697.3,464.0 696.9,460.0 696.5,456.0 696.2,452.0 696.0,448.0 695.7,444.0 695.4,440.0 695.2,436.0 694.9,432.0 694.6,428.0 694.2,424.0 693.7,420.0 693.1,416.0 692.6,412.0 692.0,408.0 691.5,404.0 690.9,400.0 690.1,396.0 688.3,392.0 686.6,388.0 684.9,384.0 683.1,380.0 681.4,376.0 679.7,372.0 677.9,368.0 677.2,364.0 676.9,360.0 676.6,356.0 676.2,352.0 675.9,348.0 675.5,344.0 675.2,340.0 675.8,336.0 677.3,332.0 678.8,328.0 680.4,324.0 681.9,320.0 683.4,316.0 685.0,312.0 686.5,308.0 686.1,304.0 685.7,300.0 685.3,296.0 684.9,292.0 684.5,288.0 684.1,284.0 683.7,280.0 683.7,276.0 684.0,272.0 684.4,268.0 684.7,264.0 685.1,260.0 685.4,256.0 685.7,252.0 686.7,248.0 689.6,244.0 692.5,240.0 695.3,236.0 698.2,232.0 701.0,228.0 703.9,224.0 706.8,220.0 711.6,216.0 717.0,212.0 722.5,208.0 727.9,204.0 733.4,200.0 738.8,196.0 744.3,192.0 749.9,188.0 755.8,184.0 761.7,180.0 767.5,176.0 768.0,172.0 766.7,168.0 765.3,164.0 764.0,160.0 764.7,156.0 765.3,152.0 765.9,148.0 767.7,144.0 770.6,140.0 773.5,136.0 775.0,132.0 775.0,128.0 775.0,124.0" fill="#0033ac"/><polygon points="434.8,124.0 409.7,131.2 460.9,132.1 426.2,139.8 480.0,140.5 429.3,149.0 488.9,147.1 463.0,153.5 498.8,156.2 461.8,163.4 505.8,163.3 446.2,172.5 517.0,171.2 464.3,179.9 529.2,179.1 481.5,187.3 535.3,186.0 487.2,194.1 542.7,195.2 498.7,203.0 547.9,204.0 496.7,212.2 550.3,210.6 495.8,219.1 553.3,218.9 515.9,226.0 555.6,225.4 496.8,234.2 557.8,233.3 504.5,241.6 560.4,242.5 507.2,250.8 563.1,251.8 522.1,259.2 566.0,260.8 523.1,268.3 569.0,270.2 509.8,279.0 571.2,276.9 539.2,283.5 572.0,284.0 508.7,293.1 572.7,291.8 522.1,299.9 573.4,299.2 527.2,306.9 574.1,306.8 545.4,313.1 575.4,315.1 540.5,321.9 576.9,324.4 539.4,331.4 578.5,333.7 536.2,341.2 579.6,343.3 541.9,350.3 580.0,350.2 537.3,357.7 580.7,359.7 536.7,367.3 581.4,367.9 543.3,375.1 583.1,375.0 541.7,382.4 585.0,383.2 558.4,389.4 586.5,389.9 544.6,397.3 588.5,399.4 566.9,405.2 589.8,408.4 559.4,414.9 590.7,415.3 563.5,421.5 591.9,424.1 548.5,431.6 591.5,430.7 554.6,437.6 590.6,437.2 550.9,444.3 589.6,444.7 545.4,452.2 588.3,454.2 569.3,459.7 587.5,463.8 571.5,469.1 587.0,470.4 566.7,476.0 586.6,476.9 572.3,482.1 586.0,484.7 564.7,490.3 584.0,491.6 571.2,496.5 581.9,500.7 583.8,504.8 588.2,510.2 588.2,514.3 589.5,517.8 588.6,521.9 589.5,525.9 588.4,530.0 589.1,534.2 587.9,538.3 588.5,542.6 573.6,547.8 589.1,550.6 579.0,555.4 589.9,559.3 581.6,564.0 590.7,566.7 575.7,571.9 591.5,574.7 580.4,579.6 592.2,581.2 582.3,586.0 593.1,589.4 586.7,594.0 593.9,597.8 582.1,602.8 594.4,602.0 665.0,602.0 665.0,600.0 665.0,596.0 665.0,592.0 665.0,588.0 665.0,584.0 665.0,580.0 665.0,576.0 664.6,572.0 663.8,568.0 663.0,564.0 662.2,560.0 661.4,556.0 660.6,552.0 659.8,548.0 659.0,544.0 660.7,540.0 662.4,536.0 664.1,532.0 666.7,528.0 670.0,524.0 673.3,520.0 676.7,516.0 680.0,512.0 680.4,508.0 680.9,504.0 681.3,500.0 681.8,496.0 682.2,492.0 682.7,488.0 682.9,484.0 682.5,480.0 682.1,476.0 681.7,472.0 681.2,468.0 680.8,464.0 680.4,460.0 680.0,456.0 679.6,452.0 679.2,448.0 678.8,444.0 678.4,440.0 678.0,436.0 677.6,432.0 677.2,428.0 676.8,424.0 676.4,420.0 676.0,416.0 675.6,412.0 675.1,408.0 674.7,404.0 674.3,400.0 673.7,396.0 672.5,392.0 671.3,388.0 670.1,384.0 668.9,380.0 667.7,376.0 666.5,372.0 665.3,368.0 665.0,364.0 665.0,360.0 665.0,356.0 665.0,352.0 665.0,348.0 665.0,344.0 665.0,340.0 665.4,336.0 666.2,332.0 667.0,328.0 667.8,324.0 668.6,320.0 669.4,316.0 670.2,312.0 671.0,308.0 670.2,304.0 669.4,300.0 668.6,296.0 667.8,292.0 667.0,288.0 666.2,284.0 665.4,280.0 665.0,276.0 665.0,272.0 665.0,268.0 665.0,264.0 665.0,260.0 665.0,256.0 665.0,252.0 665.8,248.0 669.0,244.0 672.2,240.0 675.4,236.0 678.6,232.0 681.8,228.0 685.0,224.0 688.2,220.0 692.6,216.0 697.4,212.0 702.3,208.0 707.1,204.0 711.9,200.0 716.8,196.0 721.6,192.0 723.9,188.0 723.6,184.0 723.3,180.0 723.1,176.0 722.8,172.0 722.5,168.0 722.3,164.0 722.0,160.0 725.7,156.0 729.4,152.0 733.1,148.0 739.2,144.0 747.5,140.0 755.8,136.0 760.0,132.0 760.0,128.0 760.0,124.0" fill="#0658d0"/><polygon points="434.8,124.0 409.7,131.2 460.9,132.1 426.2,139.8 480.0,140.5 429.3,149.0 488.9,147.1 463.0,153.5 498.8,156.2 461.8,163.4 505.8,163.3 446.2,172.5 517.0,171.2 464.3,179.9 529.2,179.1 481.5,187.3 535.3,186.0 487.2,194.1 542.7,195.2 498.7,203.0 547.9,204.0 496.7,212.2 550.3,210.6 495.8,219.1 553.3,218.9 515.9,226.0 555.6,225.4 496.8,234.2 557.8,233.3 504.5,241.6 560.4,242.5 507.2,250.8 563.1,251.8 522.1,259.2 566.0,260.8 523.1,268.3 569.0,270.2 509.8,279.0 571.2,276.9 539.2,283.5 572.0,284.0 508.7,293.1 572.7,291.8 522.1,299.9 573.4,299.2 527.2,306.9 574.1,306.8 545.4,313.1 575.4,315.1 540.5,321.9 576.9,324.4 539.4,331.4 578.5,333.7 536.2,341.2 579.6,343.3 541.9,350.3 580.0,350.2 537.3,357.7 580.7,359.7 536.7,367.3 581.4,367.9 543.3,375.1 583.1,375.0 541.7,382.4 585.0,383.2 558.4,389.4 586.5,389.9 544.6,397.3 588.5,399.4 566.9,405.2 589.8,408.4 559.4,414.9 590.7,415.3 563.5,421.5 591.9,424.1 548.5,431.6 591.5,430.7 554.6,437.6 590.6,437.2 550.9,444.3 589.6,444.7 545.4,452.2 588.3,454.2 569.3,459.7 587.5,463.8 571.5,469.1 587.0,470.4 566.7,476.0 586.6,476.9 572.3,482.1 586.0,484.7 564.7,490.3 584.0,491.6 571.2,496.5 581.9,500.7 583.8,504.8 588.2,510.2 588.2,514.3 589.5,517.8 588.6,521.9 589.5,525.9 588.4,530.0 589.1,534.2 587.9,538.3 588.5,542.6 573.6,547.8 589.1,550.6 579.0,555.4 589.9,559.3 581.6,564.0 590.7,566.7 575.7,571.9 591.5,574.7 580.4,579.6 592.2,581.2 582.3,586.0 593.1,589.4 586.7,594.0 593.9,597.8 582.1,602.8 594.4,602.0 649.5,602.0 649.4,600.0 649.3,596.0 649.2,592.0 649.1,588.0 649.0,584.0 648.9,580.0 648.9,576.0 648.5,572.0 647.7,568.0 647.0,564.0 646.3,560.0 645.6,556.0 644.9,552.0 644.2,548.0 643.5,544.0 644.9,540.0 646.3,536.0 647.7,532.0 649.7,528.0 652.3,524.0 654.9,520.0 657.5,516.0 660.1,512.0 659.8,508.0 659.6,504.0 659.4,500.0 660.0,496.0 660.6,492.0 661.2,488.0 661.6,484.0 661.3,480.0 661.1,476.0 660.8,472.0 660.5,468.0 660.3,464.0 660.0,460.0 659.8,456.0 659.6,452.0 659.4,448.0 659.2,444.0 659.0,440.0 658.8,436.0 658.6,432.0 658.4,428.0 658.1,424.0 657.7,420.0 657.2,416.0 656.8,412.0 656.3,408.0 655.9,404.0 655.5,400.0 654.8,396.0 653.7,392.0 652.6,388.0 651.4,384.0 650.3,380.0 649.1,376.0 648.0,372.0 646.8,368.0 646.5,364.0 646.5,360.0 646.4,356.0 646.3,352.0 646.3,348.0 646.2,344.0 646.2,340.0 646.4,336.0 646.8,332.0 647.3,328.0 647.8,324.0 648.3,320.0 648.7,316.0 649.2,312.0 649.7,308.0 649.0,304.0 648.3,300.0 647.6,296.0 646.9,292.0 646.2,288.0 645.5,284.0 644.8,280.0 644.3,276.0 644.0,272.0 643.7,268.0 643.4,264.0 643.2,260.0 642.9,256.0 642.6,252.0 643.0,248.0 645.2,244.0 647.5,240.0 649.7,236.0 651.9,232.0 654.2,228.0 656.4,224.0 658.6,220.0 661.7,216.0 665.2,212.0 668.6,208.0 672.1,204.0 675.5,200.0 678.6,196.0 681.7,192.0 682.7,188.0 681.8,184.0 680.9,180.0 679.4,176.0 677.8,172.0 676.2,168.0 674.8,164.0 673.7,160.0 675.8,156.0 677.8,152.0 679.7,148.0 683.2,144.0 688.5,140.0 693.2,136.0 694.1,132.0 691.7,128.0 688.4,124.0" fill="#0e76e8"/><polygon points="434.8,124.0 409.7,131.2 460.9,132.1 426.2,139.8 480.0,140.5 429.3,149.0 488.9,147.1 463.0,153.5 498.8,156.2 461.8,163.4 505.8,163.3 446.2,172.5 517.0,171.2 464.3,179.9 529.2,179.1 481.5,187.3 535.3,186.0 487.2,194.1 542.7,195.2 498.7,203.0 547.9,204.0 496.7,212.2 550.3,210.6 495.8,219.1 553.3,218.9 515.9,226.0 555.6,225.4 496.8,234.2 557.8,233.3 504.5,241.6 560.4,242.5 507.2,250.8 563.1,251.8 522.1,259.2 566.0,260.8 523.1,268.3 569.0,270.2 509.8,279.0 571.2,276.9 539.2,283.5 572.0,284.0 508.7,293.1 572.7,291.8 522.1,299.9 573.4,299.2 527.2,306.9 574.1,306.8 545.4,313.1 575.4,315.1 540.5,321.9 576.9,324.4 539.4,331.4 578.5,333.7 536.2,341.2 579.6,343.3 541.9,350.3 580.0,350.2 537.3,357.7 580.7,359.7 536.7,367.3 581.4,367.9 543.3,375.1 583.1,375.0 541.7,382.4 585.0,383.2 558.4,389.4 586.5,389.9 544.6,397.3 588.5,399.4 566.9,405.2 589.8,408.4 559.4,414.9 590.7,415.3 563.5,421.5 591.9,424.1 548.5,431.6 591.5,430.7 554.6,437.6 590.6,437.2 550.9,444.3 589.6,444.7 545.4,452.2 588.3,454.2 569.3,459.7 587.5,463.8 571.5,469.1 587.0,470.4 566.7,476.0 586.6,476.9 572.3,482.1 586.0,484.7 564.7,490.3 584.0,491.6 571.2,496.5 581.9,500.7 583.8,504.8 588.2,510.2 588.2,514.3 589.5,517.8 588.6,521.9 589.5,525.9 588.4,530.0 589.1,534.2 587.9,538.3 588.5,542.6 573.6,547.8 589.1,550.6 579.0,555.4 589.9,559.3 581.6,564.0 590.7,566.7 575.7,571.9 591.5,574.7 580.4,579.6 592.2,581.2 582.3,586.0 593.1,589.4 586.7,594.0 593.9,597.8 582.1,602.8 594.4,602.0 635.3,602.0 635.3,600.0 635.1,596.0 634.9,592.0 634.7,588.0 634.5,584.0 634.4,580.0 634.2,576.0 633.8,572.0 633.1,568.0 632.5,564.0 631.9,560.0 631.2,556.0 630.6,552.0 630.0,548.0 629.3,544.0 630.5,540.0 631.6,536.0 632.7,532.0 634.2,528.0 636.2,524.0 638.1,520.0 640.0,516.0 642.0,512.0 641.1,508.0 640.2,504.0 639.4,500.0 640.1,496.0 640.9,492.0 641.7,488.0 642.2,484.0 642.1,480.0 642.0,476.0 641.9,472.0 641.7,468.0 641.6,464.0 641.5,460.0 641.4,456.0 641.4,452.0 641.4,448.0 641.4,444.0 641.4,440.0 641.4,436.0 641.4,432.0 641.4,428.0 641.1,424.0 640.7,420.0 640.2,416.0 639.7,412.0 639.3,408.0 638.8,404.0 638.3,400.0 637.7,396.0 636.6,392.0 635.5,388.0 634.4,384.0 633.3,380.0 632.3,376.0 631.2,372.0 630.1,368.0 629.7,364.0 629.6,360.0 629.5,356.0 629.4,352.0 629.3,348.0 629.1,344.0 629.0,340.0 629.1,336.0 629.2,332.0 629.4,328.0 629.6,324.0 629.8,320.0 630.0,316.0 630.2,312.0 630.3,308.0 629.7,304.0 629.1,300.0 628.5,296.0 627.9,292.0 627.3,288.0 626.7,284.0 626.0,280.0 625.5,276.0 624.9,272.0 624.4,268.0 623.8,264.0 623.3,260.0 622.8,256.0 622.2,252.0 622.2,248.0 623.6,244.0 625.0,240.0 626.3,236.0 627.7,232.0 629.1,228.0 630.5,224.0 631.7,220.0 633.7,216.0 635.9,212.0 638.1,208.0 640.3,204.0 642.5,200.0 643.9,196.0 645.4,192.0 645.3,188.0 643.8,184.0 642.3,180.0 639.6,176.0 636.9,172.0 634.2,168.0 631.7,164.0 629.8,160.0 630.3,156.0 630.8,152.0 631.1,148.0 632.3,144.0 634.9,140.0 636.4,136.0 634.2,132.0 629.7,128.0 623.4,124.0" fill="#1792f9"/><polygon points="467.3,124.0 480.8,128.0 490.5,132.0 499.8,136.0 506.2,140.0 510.2,144.0 514.4,148.0 518.2,152.0 521.4,156.0 524.5,160.0 528.1,164.0 533.1,168.0 538.7,172.0 544.2,176.0 549.8,180.0 552.7,184.0 555.6,188.0 558.2,192.0 560.6,196.0 563.0,200.0 563.9,204.0 564.7,208.0 565.5,212.0 566.3,216.0 567.2,220.0 568.1,224.0 568.9,228.0 569.6,232.0 570.3,236.0 571.0,240.0 571.6,244.0 572.3,248.0 573.3,252.0 574.5,256.0 575.6,260.0 576.8,264.0 578.0,268.0 579.1,272.0 580.3,276.0 581.1,280.0 581.5,284.0 581.9,288.0 582.3,292.0 582.7,296.0 583.1,300.0 583.5,304.0 583.9,308.0 584.4,312.0 584.9,316.0 585.4,320.0 586.0,324.0 586.5,328.0 587.0,332.0 587.5,336.0 587.9,340.0 588.2,344.0 588.4,348.0 588.6,352.0 588.9,356.0 589.1,360.0 589.4,364.0 589.8,368.0 590.8,372.0 591.7,376.0 592.7,380.0 593.7,384.0 594.6,388.0 595.6,392.0 596.5,396.0 597.2,400.0 597.7,404.0 598.3,408.0 598.8,412.0 599.3,416.0 599.9,420.0 600.4,424.0 600.4,428.0 600.0,432.0 599.5,436.0 599.1,440.0 598.6,444.0 598.1,448.0 597.7,452.0 597.2,456.0 597.0,460.0 596.8,464.0 596.6,468.0 596.4,472.0 596.2,476.0 596.0,480.0 595.8,484.0 594.8,488.0 593.7,492.0 592.6,496.0 591.4,500.0 593.8,504.0 596.1,508.0 598.5,512.0 598.2,516.0 597.8,520.0 597.5,524.0 597.2,528.0 596.8,532.0 596.3,536.0 595.9,540.0 595.5,544.0 595.9,548.0 596.3,552.0 596.8,556.0 597.2,560.0 597.7,564.0 598.1,568.0 598.5,572.0 599.0,576.0 599.3,580.0 599.7,584.0 600.1,588.0 600.5,592.0 600.9,596.0 601.3,600.0 601.5,602.0 633.2,602.0 633.1,600.0 632.9,596.0 632.7,592.0 632.6,588.0 632.4,584.0 632.2,580.0 632.0,576.0 631.6,572.0 630.9,568.0 630.3,564.0 629.7,560.0 629.1,556.0 628.5,552.0 627.8,548.0 627.2,544.0 628.3,540.0 629.4,536.0 630.5,532.0 631.9,528.0 633.8,524.0 635.6,520.0 637.4,516.0 639.3,512.0 638.3,508.0 637.3,504.0 636.4,500.0 637.2,496.0 638.0,492.0 638.8,488.0 639.3,484.0 639.2,480.0 639.1,476.0 639.0,472.0 638.9,468.0 638.8,464.0 638.7,460.0 638.6,456.0 638.6,452.0 638.7,448.0 638.7,444.0 638.7,440.0 638.8,436.0 638.8,432.0 638.8,428.0 638.6,424.0 638.1,420.0 637.7,416.0 637.2,412.0 636.7,408.0 636.2,404.0 635.7,400.0 635.1,396.0 634.0,392.0 633.0,388.0 631.9,384.0 630.8,380.0 629.7,376.0 628.6,372.0 627.6,368.0 627.2,364.0 627.1,360.0 626.9,356.0 626.8,352.0 626.7,348.0 626.6,344.0 626.5,340.0 626.5,336.0 626.6,332.0 626.7,328.0 626.9,324.0 627.0,320.0 627.2,316.0 627.3,312.0 627.4,308.0 626.8,304.0 626.2,300.0 625.6,296.0 625.0,292.0 624.4,288.0 623.8,284.0 623.2,280.0 622.6,276.0 622.1,272.0 621.5,268.0 620.9,264.0 620.3,260.0 619.7,256.0 619.2,252.0 619.1,248.0 620.3,244.0 621.6,240.0 622.8,236.0 624.1,232.0 625.3,228.0 626.6,224.0 627.7,220.0 629.5,216.0 631.5,212.0 633.5,208.0 635.5,204.0 637.5,200.0 638.7,196.0 639.9,192.0 639.7,188.0 638.1,184.0 636.6,180.0 633.7,176.0 630.7,172.0 627.8,168.0 625.2,164.0 623.3,160.0 623.5,156.0 623.8,152.0 623.8,148.0 624.7,144.0 626.9,140.0 627.8,136.0 625.2,132.0 620.4,128.0 613.6,124.0" fill="#5cb6ff" filter="url(#b8)"/><clipPath id="bc1"><polygon points="434.8,124.0 409.7,131.2 460.9,132.1 426.2,139.8 480.0,140.5 429.3,149.0 488.9,147.1 463.0,153.5 498.8,156.2 461.8,163.4 505.8,163.3 446.2,172.5 517.0,171.2 464.3,179.9 529.2,179.1 481.5,187.3 535.3,186.0 487.2,194.1 542.7,195.2 498.7,203.0 547.9,204.0 496.7,212.2 550.3,210.6 495.8,219.1 553.3,218.9 515.9,226.0 555.6,225.4 496.8,234.2 557.8,233.3 504.5,241.6 560.4,242.5 507.2,250.8 563.1,251.8 522.1,259.2 566.0,260.8 523.1,268.3 569.0,270.2 509.8,279.0 571.2,276.9 539.2,283.5 572.0,284.0 508.7,293.1 572.7,291.8 522.1,299.9 573.4,299.2 527.2,306.9 574.1,306.8 545.4,313.1 575.4,315.1 540.5,321.9 576.9,324.4 539.4,331.4 578.5,333.7 536.2,341.2 579.6,343.3 541.9,350.3 580.0,350.2 537.3,357.7 580.7,359.7 536.7,367.3 581.4,367.9 543.3,375.1 583.1,375.0 541.7,382.4 585.0,383.2 558.4,389.4 586.5,389.9 544.6,397.3 588.5,399.4 566.9,405.2 589.8,408.4 559.4,414.9 590.7,415.3 563.5,421.5 591.9,424.1 548.5,431.6 591.5,430.7 554.6,437.6 590.6,437.2 550.9,444.3 589.6,444.7 545.4,452.2 588.3,454.2 569.3,459.7 587.5,463.8 571.5,469.1 587.0,470.4 566.7,476.0 586.6,476.9 572.3,482.1 586.0,484.7 564.7,490.3 584.0,491.6 571.2,496.5 581.9,500.7 583.8,504.8 588.2,510.2 588.2,514.3 589.5,517.8 588.6,521.9 589.5,525.9 588.4,530.0 589.1,534.2 587.9,538.3 588.5,542.6 573.6,547.8 589.1,550.6 579.0,555.4 589.9,559.3 581.6,564.0 590.7,566.7 575.7,571.9 591.5,574.7 580.4,579.6 592.2,581.2 582.3,586.0 593.1,589.4 586.7,594.0 593.9,597.8 582.1,602.8 594.4,602.0 678.0,602.0 678.4,600.0 679.3,596.0 680.1,592.0 681.0,588.0 681.9,584.0 682.7,580.0 683.6,576.0 685.4,572.0 688.2,568.0 691.0,564.0 693.8,560.0 696.6,556.0 699.4,552.0 702.2,548.0 705.0,544.0 697.9,540.0 690.7,536.0 683.6,532.0 683.1,528.0 689.3,524.0 695.6,520.0 701.8,516.0 708.0,512.0 709.2,508.0 710.4,504.0 711.6,500.0 712.7,496.0 713.9,492.0 715.1,488.0 715.9,484.0 715.5,480.0 715.1,476.0 714.7,472.0 714.2,468.0 713.8,464.0 713.4,460.0 713.0,456.0 712.9,452.0 712.7,448.0 712.6,444.0 712.5,440.0 712.3,436.0 712.2,432.0 712.1,428.0 711.7,424.0 711.0,420.0 710.3,416.0 709.6,412.0 708.9,408.0 708.2,404.0 707.5,400.0 706.4,396.0 704.2,392.0 701.9,388.0 699.6,384.0 697.4,380.0 695.1,376.0 692.8,372.0 690.6,368.0 689.5,364.0 688.8,360.0 688.1,356.0 687.4,352.0 686.7,348.0 686.0,344.0 685.3,340.0 686.1,336.0 688.4,332.0 690.7,328.0 692.9,324.0 695.2,320.0 697.5,316.0 699.7,312.0 702.0,308.0 702.0,304.0 702.0,300.0 702.0,296.0 702.0,292.0 702.0,288.0 702.0,284.0 702.0,280.0 702.3,276.0 703.0,272.0 703.7,268.0 704.4,264.0 705.1,260.0 705.8,256.0 706.5,252.0 707.6,248.0 710.2,244.0 712.7,240.0 715.2,236.0 717.8,232.0 720.3,228.0 722.8,224.0 725.4,220.0 730.6,216.0 736.6,212.0 742.7,208.0 748.8,204.0 754.8,200.0 760.9,196.0 767.0,192.0 776.0,188.0 788.0,184.0 800.0,180.0 812.0,176.0 813.2,172.0 810.8,168.0 808.4,164.0 806.0,160.0 803.6,156.0 801.2,152.0 798.8,148.0 796.2,144.0 793.8,140.0 791.2,136.0 790.0,132.0 790.0,128.0 790.0,124.0"/></clipPath><g clip-path="url(#bc1)"><path d="M404.8 -6.0Q790.0 -6.0 790.0 124.0" stroke="#001a9a" stroke-opacity="0.30" stroke-width="5.3" fill="none"/><path d="M404.8 3.8Q790.0 3.8 790.0 133.8" stroke="#ffffff" stroke-opacity="0.20" stroke-width="4.6" fill="none"/><path d="M404.8 11.3Q794.5 11.3 794.5 141.3" stroke="#001a9a" stroke-opacity="0.24" stroke-width="4.4" fill="none"/><path d="M404.8 19.8Q799.9 19.8 799.9 149.8" stroke="#ffffff" stroke-opacity="0.22" stroke-width="6.4" fill="none"/><path d="M404.8 27.5Q804.5 27.5 804.5 157.5" stroke="#001a9a" stroke-opacity="0.17" stroke-width="4.7" fill="none"/><path d="M404.8 37.7Q810.6 37.7 810.6 167.7" stroke="#ffffff" stroke-opacity="0.10" stroke-width="4.7" fill="none"/><path d="M404.8 45.2Q814.3 45.2 814.3 175.2" stroke="#001a9a" stroke-opacity="0.18" stroke-width="5.5" fill="none"/><path d="M404.8 53.1Q790.7 53.1 790.7 183.1" stroke="#ffffff" stroke-opacity="0.16" stroke-width="6.0" fill="none"/><path d="M404.8 62.9Q765.6 62.9 765.6 192.9" stroke="#001a9a" stroke-opacity="0.22" stroke-width="6.2" fill="none"/><path d="M404.8 72.2Q751.5 72.2 751.5 202.2" stroke="#ffffff" stroke-opacity="0.22" stroke-width="4.7" fill="none"/><path d="M404.8 80.7Q738.6 80.7 738.6 210.7" stroke="#001a9a" stroke-opacity="0.24" stroke-width="6.6" fill="none"/><path d="M404.8 90.1Q725.3 90.1 725.3 220.1" stroke="#ffffff" stroke-opacity="0.17" stroke-width="4.7" fill="none"/><path d="M404.8 98.3Q720.1 98.3 720.1 228.3" stroke="#001a9a" stroke-opacity="0.19" stroke-width="6.7" fill="none"/><path d="M404.8 108.7Q713.5 108.7 713.5 238.7" stroke="#ffffff" stroke-opacity="0.23" stroke-width="5.5" fill="none"/><path d="M404.8 118.5Q707.3 118.5 707.3 248.5" stroke="#001a9a" stroke-opacity="0.20" stroke-width="5.4" fill="none"/><path d="M413.0 126.2Q705.8 126.2 705.8 256.2" stroke="#ffffff" stroke-opacity="0.16" stroke-width="4.7" fill="none"/><path d="M435.3 133.8Q704.5 133.8 704.5 263.8" stroke="#001a9a" stroke-opacity="0.29" stroke-width="4.3" fill="none"/><path d="M454.6 143.9Q702.7 143.9 702.7 273.9" stroke="#ffffff" stroke-opacity="0.20" stroke-width="4.3" fill="none"/><path d="M465.5 152.8Q702.0 152.8 702.0 282.8" stroke="#001a9a" stroke-opacity="0.30" stroke-width="6.7" fill="none"/><path d="M474.6 162.1Q702.0 162.1 702.0 292.1" stroke="#ffffff" stroke-opacity="0.21" stroke-width="6.0" fill="none"/><path d="M485.6 170.3Q702.0 170.3 702.0 300.3" stroke="#001a9a" stroke-opacity="0.24" stroke-width="5.7" fill="none"/><path d="M498.9 178.9Q701.5 178.9 701.5 308.9" stroke="#ffffff" stroke-opacity="0.21" stroke-width="5.2" fill="none"/><path d="M507.6 188.8Q695.9 188.8 695.9 318.8" stroke="#001a9a" stroke-opacity="0.17" stroke-width="5.3" fill="none"/><path d="M513.4 196.2Q691.7 196.2 691.7 326.2" stroke="#ffffff" stroke-opacity="0.19" stroke-width="6.4" fill="none"/><path d="M518.4 205.3Q686.5 205.3 686.5 335.3" stroke="#001a9a" stroke-opacity="0.24" stroke-width="5.7" fill="none"/><path d="M521.3 213.4Q685.9 213.4 685.9 343.4" stroke="#ffffff" stroke-opacity="0.15" stroke-width="5.6" fill="none"/><path d="M524.7 222.9Q687.6 222.9 687.6 352.9" stroke="#001a9a" stroke-opacity="0.21" stroke-width="5.3" fill="none"/><path d="M527.3 231.3Q689.0 231.3 689.0 361.3" stroke="#ffffff" stroke-opacity="0.18" stroke-width="5.9" fill="none"/><path d="M529.6 239.7Q691.5 239.7 691.5 369.7" stroke="#001a9a" stroke-opacity="0.26" stroke-width="6.3" fill="none"/><path d="M532.2 248.8Q696.7 248.8 696.7 378.8" stroke="#ffffff" stroke-opacity="0.24" stroke-width="4.9" fill="none"/><path d="M535.5 259.3Q702.6 259.3 702.6 389.3" stroke="#001a9a" stroke-opacity="0.19" stroke-width="5.0" fill="none"/><path d="M538.8 269.4Q707.4 269.4 707.4 399.4" stroke="#ffffff" stroke-opacity="0.10" stroke-width="5.7" fill="none"/><path d="M541.7 279.8Q709.2 279.8 709.2 409.8" stroke="#001a9a" stroke-opacity="0.29" stroke-width="5.9" fill="none"/><path d="M542.4 288.2Q710.7 288.2 710.7 418.2" stroke="#ffffff" stroke-opacity="0.15" stroke-width="5.8" fill="none"/><path d="M543.1 295.7Q711.9 295.7 711.9 425.7" stroke="#001a9a" stroke-opacity="0.16" stroke-width="6.4" fill="none"/><path d="M543.9 305.1Q712.3 305.1 712.3 435.1" stroke="#ffffff" stroke-opacity="0.12" stroke-width="5.2" fill="none"/><path d="M545.1 313.4Q712.6 313.4 712.6 443.4" stroke="#001a9a" stroke-opacity="0.28" stroke-width="4.8" fill="none"/><path d="M546.7 323.2Q712.9 323.2 712.9 453.2" stroke="#ffffff" stroke-opacity="0.20" stroke-width="4.9" fill="none"/><path d="M548.1 331.3Q713.5 331.3 713.5 461.3" stroke="#001a9a" stroke-opacity="0.23" stroke-width="5.1" fill="none"/><path d="M549.4 340.6Q714.5 340.6 714.5 470.6" stroke="#ffffff" stroke-opacity="0.15" stroke-width="6.2" fill="none"/><path d="M550.0 349.3Q715.4 349.3 715.4 479.3" stroke="#001a9a" stroke-opacity="0.18" stroke-width="6.1" fill="none"/><path d="M550.7 359.8Q714.6 359.8 714.6 489.8" stroke="#ffffff" stroke-opacity="0.20" stroke-width="5.5" fill="none"/><path d="M551.9 370.1Q711.5 370.1 711.5 500.1" stroke="#001a9a" stroke-opacity="0.29" stroke-width="4.1" fill="none"/><path d="M554.0 379.0Q708.9 379.0 708.9 509.0" stroke="#ffffff" stroke-opacity="0.10" stroke-width="5.0" fill="none"/><path d="M555.9 387.1Q700.0 387.1 700.0 517.1" stroke="#001a9a" stroke-opacity="0.22" stroke-width="5.9" fill="none"/><path d="M558.3 397.4Q684.0 397.4 684.0 527.4" stroke="#ffffff" stroke-opacity="0.14" stroke-width="4.1" fill="none"/><path d="M559.7 408.2Q694.7 408.2 694.7 538.2" stroke="#001a9a" stroke-opacity="0.27" stroke-width="5.5" fill="none"/><path d="M560.8 415.8Q703.7 415.8 703.7 545.8" stroke="#ffffff" stroke-opacity="0.11" stroke-width="6.6" fill="none"/><path d="M562.1 424.9Q697.4 424.9 697.4 554.9" stroke="#001a9a" stroke-opacity="0.28" stroke-width="6.2" fill="none"/><path d="M561.0 434.8Q690.4 434.8 690.4 564.8" stroke="#ffffff" stroke-opacity="0.21" stroke-width="4.7" fill="none"/><path d="M559.8 442.9Q684.8 442.9 684.8 572.9" stroke="#001a9a" stroke-opacity="0.22" stroke-width="6.1" fill="none"/><path d="M558.4 453.0Q682.1 453.0 682.1 583.0" stroke="#ffffff" stroke-opacity="0.21" stroke-width="5.6" fill="none"/><path d="M557.6 461.9Q680.2 461.9 680.2 591.9" stroke="#001a9a" stroke-opacity="0.19" stroke-width="5.8" fill="none"/><path d="M556.9 471.4Q678.1 471.4 678.1 601.4" stroke="#ffffff" stroke-opacity="0.17" stroke-width="6.0" fill="none"/><path d="M556.2 482.2Q678.0 482.2 678.0 612.2" stroke="#001a9a" stroke-opacity="0.29" stroke-width="4.3" fill="none"/><path d="M554.4 490.4Q678.0 490.4 678.0 620.4" stroke="#ffffff" stroke-opacity="0.19" stroke-width="5.9" fill="none"/><path d="M551.9 498.6Q678.0 498.6 678.0 628.6" stroke="#001a9a" stroke-opacity="0.29" stroke-width="5.3" fill="none"/><path d="M557.2 508.6Q678.0 508.6 678.0 638.6" stroke="#ffffff" stroke-opacity="0.11" stroke-width="4.8" fill="none"/><path d="M559.5 515.9Q678.0 515.9 678.0 645.9" stroke="#001a9a" stroke-opacity="0.27" stroke-width="5.5" fill="none"/><path d="M559.5 526.5Q678.0 526.5 678.0 656.5" stroke="#ffffff" stroke-opacity="0.18" stroke-width="4.9" fill="none"/><path d="M559.1 535.0Q678.0 535.0 678.0 665.0" stroke="#001a9a" stroke-opacity="0.21" stroke-width="4.6" fill="none"/><path d="M558.5 542.6Q678.0 542.6 678.0 672.6" stroke="#ffffff" stroke-opacity="0.19" stroke-width="4.9" fill="none"/><path d="M559.1 551.4Q678.0 551.4 678.0 681.4" stroke="#001a9a" stroke-opacity="0.26" stroke-width="4.8" fill="none"/><path d="M560.0 560.2Q678.0 560.2 678.0 690.2" stroke="#ffffff" stroke-opacity="0.15" stroke-width="4.9" fill="none"/><path d="M561.0 569.8Q678.0 569.8 678.0 699.8" stroke="#001a9a" stroke-opacity="0.17" stroke-width="5.1" fill="none"/><path d="M561.8 577.4Q678.0 577.4 678.0 707.4" stroke="#ffffff" stroke-opacity="0.19" stroke-width="4.9" fill="none"/><path d="M562.9 588.0Q678.0 588.0 678.0 718.0" stroke="#001a9a" stroke-opacity="0.23" stroke-width="5.8" fill="none"/><path d="M563.9 597.1Q678.0 597.1 678.0 727.1" stroke="#ffffff" stroke-opacity="0.21" stroke-width="5.9" fill="none"/></g>
<polygon points="665.0,275.0 782.0,280.0 782.0,284.0 665.0,289.0" fill="#002aa4" filter="url(#b2)"/>
<polygon points="671.0,302.0 785.0,311.0 785.0,315.0 671.0,324.0" fill="#001d98" filter="url(#b2)"/>
<polygon points="665.0,364.0 738.0,370.0 738.0,374.0 665.0,380.0" fill="#001d98" filter="url(#b2)"/>
<polygon points="700.0,423.0 768.0,427.5 768.0,431.5 700.0,436.0" fill="#001d98" filter="url(#b2)"/>
<polygon points="660.0,545.0 714.0,550.0 714.0,554.0 660.0,559.0" fill="#001d98" filter="url(#b2)"/>
<polygon points="683.0,172.0 812.0,180.0 812.0,184.0 683.0,192.0" fill="#001d98" filter="url(#b2)"/>
<polygon points="371.0,120.0 405.0,111.0 448.0,104.0 504.0,97.0 565.0,94.0 668.0,91.0 720.0,86.0 800.0,80.5 935.0,79.0 1000.0,82.0 1000.0,84.5 1060.0,95.0 1091.0,100.0 1091.0,101.0 1060.0,112.0 1030.0,111.0 1000.0,106.0 985.0,108.0 978.0,117.0 966.0,134.0 946.0,158.0 933.0,187.0 921.0,189.0 905.0,181.0 864.0,156.0 800.0,150.0 761.0,148.0 719.0,140.0 600.0,140.0 452.0,150.0 438.0,137.0 405.0,127.5" fill="#001d98"/>
<polygon points="380.0,119.5 405.0,112.0 448.0,105.0 504.0,98.0 565.0,95.0 668.0,92.0 720.0,87.0 800.0,81.5 935.0,80.0 1000.0,83.0 1000.0,84.5 1060.0,95.0 1091.0,100.0 1075.0,108.0 1040.0,106.0 1000.0,101.0 980.0,102.0 970.0,117.0 957.0,132.0 938.0,156.0 926.0,180.0 915.0,172.0 880.0,150.0 830.0,140.0 761.0,138.0 719.0,136.0 660.0,150.0 560.0,160.0 520.0,166.0 490.0,160.0 470.0,152.0 455.0,140.0 430.0,130.0" fill="#0e76e8"/>
<polygon points="547.0,78.5 700.0,77.5 760.0,79.5 850.0,86.0 925.0,97.0 850.0,92.5 760.0,89.0 720.0,86.5 640.0,84.0 547.0,80.5" fill="#0248c0"/>
<polygon points="450.0,112.0 504.0,100.0 565.0,97.0 668.0,94.0 760.0,93.0 850.0,98.0 900.0,106.0 930.0,125.0 925.0,150.0 900.0,135.0 850.0,122.0 790.0,128.0 720.0,132.0 640.0,140.0 560.0,148.0 500.0,146.0 470.0,135.0" fill="#6fbeff" filter="url(#b4)"/>
<polygon points="520.0,110.0 600.0,100.0 700.0,97.0 780.0,100.0 850.0,108.0 880.0,120.0 820.0,116.0 760.0,122.0 690.0,128.0 600.0,134.0 540.0,130.0" fill="#cbe5ff" filter="url(#b4)"/>
<ellipse cx="760" cy="116" rx="60" ry="8" fill="#e5f2ff" filter="url(#b4)"/>
<ellipse cx="625" cy="190" rx="70" ry="16" fill="#b9ddff" filter="url(#b8)"/>
<ellipse cx="603" cy="238" rx="42" ry="13" fill="#e5f2ff" filter="url(#b8)"/>
<ellipse cx="600" cy="300" rx="30" ry="18" fill="#a8d4ff" filter="url(#b8)"/>
<ellipse cx="618" cy="405" rx="30" ry="17" fill="#e5f2ff" filter="url(#b8)"/>
<ellipse cx="612" cy="345" rx="25" ry="14" fill="#95cdff" filter="url(#b8)"/>
<ellipse cx="640" cy="503" rx="28" ry="22" fill="#dceeff" filter="url(#b8)"/>
<ellipse cx="632" cy="455" rx="22" ry="14" fill="#95cdff" filter="url(#b8)"/>
<ellipse cx="628" cy="575" rx="20" ry="22" fill="#79c1ff" filter="url(#b8)"/>
<polygon points="371.0,120.0 520.0,104.5 520.0,111.5" fill="#158bf5"/>
<polygon points="400.0,110.0 560.0,97.0 560.0,103.0" fill="#49afff"/>
<polygon points="405.0,128.0 530.0,119.0 530.0,125.0" fill="#107dec"/>
<polygon points="438.0,138.0 540.0,129.0 540.0,135.0" fill="#0c6fe4"/>
<polygon points="421.5,85.5 600.0,80.4 600.0,83.6" fill="#158bf5"/>
<polygon points="450.0,150.0 540.0,143.0 540.0,149.0" fill="#0a68e0"/>
<polygon points="476.0,170.0 560.0,161.0 560.0,167.0" fill="#0a68e0"/>
<polygon points="935.0,78.2 1300.0,77.6 1400.0,77.0 1400.0,83.5 1300.0,82.8 1000.0,82.4 935.0,82.0" fill="#0554cc"/>
<polygon points="1400.0,76.5 1630.0,75.0 1688.0,77.5 1745.0,92.0 1790.0,106.0 1769.0,115.5 1700.0,117.0 1654.0,114.0 1585.0,100.5 1492.0,93.5 1400.0,81.5" fill="#000659"/>
<polygon points="1560.0,80.0 1688.0,82.0 1760.0,104.0 1700.0,112.0 1654.0,108.0 1600.0,96.0" fill="#00086a" filter="url(#b2)"/>
<polygon points="1000.0,84.5 1060.0,95.0 1091.0,100.0 1255.0,83.5 1240.0,92.0 1228.0,96.0 1350.0,96.0 1440.0,96.5 1458.0,118.0 1458.0,127.0 1458.0,127.0 1492.3,131.1 1526.5,135.2 1561.1,139.3 1575.0,143.1 1575.9,147.2 1527.3,151.4 1539.0,157.6 1505.0,159.4 1540.5,166.7 1492.9,168.3 1512.4,174.3 1483.0,175.7 1502.4,181.7 1471.3,184.7 1509.6,192.1 1463.9,191.2 1523.7,200.4 1453.2,200.7 1500.7,208.9 1443.8,209.1 1472.7,215.8 1436.5,215.5 1479.3,223.3 1429.0,222.1 1459.1,228.9 1420.9,229.3 1446.7,235.6 1416.5,237.2 1458.8,244.7 1412.7,246.3 1458.0,254.0 1409.2,254.7 1453.8,262.4 1405.7,263.3 1449.1,270.8 1403.7,270.5 1467.7,279.7 1401.4,280.1 1459.5,288.8 1399.4,288.8 1437.8,295.9 1397.7,295.9 1435.3,303.0 1396.7,302.6 1441.3,310.2 1396.0,310.2 1443.1,318.0 1395.4,317.9 1445.8,325.9 1394.6,327.0 1416.3,332.7 1394.0,334.1 1442.8,342.0 1393.0,342.0 1444.0,350.1 1392.1,349.6 1415.8,355.6 1391.1,358.0 1436.0,365.7 1390.3,365.3 1414.4,371.3 1389.4,372.8 1439.9,380.8 1388.4,381.6 1413.4,387.6 1387.5,388.8 1412.1,394.8 1386.7,395.4 1432.2,403.0 1386.3,402.3 1425.2,409.4 1386.6,410.2 1414.4,416.4 1386.9,418.9 1413.0,425.0 1387.2,427.4 1406.5,432.9 1387.2,435.1 1408.1,440.8 1386.6,442.4 1424.6,449.5 1385.8,451.4 1408.8,457.2 1385.0,460.6 1405.9,466.3 1384.4,468.3 1420.1,475.1 1384.4,476.7 1403.2,482.2 1384.4,486.3 1405.7,492.0 1384.4,493.5 1418.3,500.2 1384.4,501.0 1406.4,506.8 1382.5,507.6 1399.8,513.1 1380.1,515.9 1400.9,521.6 1377.6,524.2 1402.3,530.2 1377.4,532.0 1415.5,539.1 1377.4,540.0 1406.8,546.3 1377.4,549.1 1397.8,554.8 1376.5,556.0 1412.6,563.0 1374.6,565.1 1395.9,570.8 1373.1,572.1 1405.4,578.7 1371.1,581.5 1391.2,587.1 1369.4,590.9 1405.0,597.8 1367.9,599.2 1393.4,605.3 1367.4,602.0 1325.0,602.0 1322.9,597.0 1320.9,592.0 1318.8,587.0 1318.3,582.0 1318.7,577.0 1319.2,572.0 1319.6,567.0 1320.1,562.0 1320.5,557.0 1321.0,552.0 1319.9,547.0 1318.8,542.0 1317.7,537.0 1316.6,532.0 1315.4,527.0 1317.0,522.0 1320.3,517.0 1323.7,512.0 1327.0,507.0 1330.3,502.0 1331.5,497.0 1332.1,492.0 1332.6,487.0 1333.2,482.0 1333.8,477.0 1334.4,472.0 1335.0,467.0 1335.0,462.0 1335.0,457.0 1335.0,452.0 1335.0,447.0 1335.0,442.0 1335.0,437.0 1334.9,432.0 1334.3,427.0 1333.7,422.0 1333.1,417.0 1332.5,412.0 1331.8,407.0 1331.2,402.0 1330.5,397.0 1329.6,392.0 1328.7,387.0 1327.8,382.0 1326.9,377.0 1326.1,372.0 1325.2,367.0 1323.9,362.0 1322.6,357.0 1321.3,352.0 1320.0,347.0 1318.6,342.0 1317.3,337.0 1316.0,332.0 1314.4,327.0 1312.7,322.0 1311.1,317.0 1309.5,312.0 1307.8,307.0 1305.8,302.0 1303.4,297.0 1301.1,292.0 1298.7,287.0 1296.3,282.0 1293.9,277.0 1291.6,272.0 1289.1,267.0 1286.7,262.0 1284.3,257.0 1281.9,252.0 1279.5,247.0 1277.4,242.0 1275.4,237.0 1273.5,232.0 1271.5,227.0 1269.5,222.0 1267.5,217.0 1265.5,212.0 1263.6,207.0 1261.6,202.0 1258.8,197.0 1252.7,192.0 1246.6,187.0 1240.4,182.0 1226.6,177.0 1207.6,172.0 1182.6,167.0 1153.6,162.0 1134.5,157.0 1122.0,152.0 1110.0,147.0 1100.3,142.0 1090.5,137.0 1080.7,132.0 1070.9,127.0 1055.3,122.0 1037.2,117.0 1017.1,112.0 1000.0,107.0 1000.0,102.0" fill="#001590"/>
<polygon points="1000.0,84.5 1060.0,95.0 1091.0,100.0 1255.0,83.5 1240.0,92.0 1228.0,96.0 1350.0,96.0 1440.0,96.5 1458.0,118.0 1458.0,127.0 1458.0,127.0 1492.3,131.1 1526.5,135.2 1561.1,139.3 1575.0,143.1 1575.9,147.2 1527.3,151.4 1539.0,157.6 1505.0,159.4 1540.5,166.7 1492.9,168.3 1512.4,174.3 1483.0,175.7 1502.4,181.7 1471.3,184.7 1509.6,192.1 1463.9,191.2 1523.7,200.4 1453.2,200.7 1500.7,208.9 1443.8,209.1 1472.7,215.8 1436.5,215.5 1479.3,223.3 1429.0,222.1 1459.1,228.9 1420.9,229.3 1446.7,235.6 1416.5,237.2 1458.8,244.7 1412.7,246.3 1458.0,254.0 1409.2,254.7 1453.8,262.4 1405.7,263.3 1449.1,270.8 1403.7,270.5 1467.7,279.7 1401.4,280.1 1459.5,288.8 1399.4,288.8 1437.8,295.9 1397.7,295.9 1435.3,303.0 1396.7,302.6 1441.3,310.2 1396.0,310.2 1443.1,318.0 1395.4,317.9 1445.8,325.9 1394.6,327.0 1416.3,332.7 1394.0,334.1 1442.8,342.0 1393.0,342.0 1444.0,350.1 1392.1,349.6 1415.8,355.6 1391.1,358.0 1436.0,365.7 1390.3,365.3 1414.4,371.3 1389.4,372.8 1439.9,380.8 1388.4,381.6 1413.4,387.6 1387.5,388.8 1412.1,394.8 1386.7,395.4 1432.2,403.0 1386.3,402.3 1425.2,409.4 1386.6,410.2 1414.4,416.4 1386.9,418.9 1413.0,425.0 1387.2,427.4 1406.5,432.9 1387.2,435.1 1408.1,440.8 1386.6,442.4 1424.6,449.5 1385.8,451.4 1408.8,457.2 1385.0,460.6 1405.9,466.3 1384.4,468.3 1420.1,475.1 1384.4,476.7 1403.2,482.2 1384.4,486.3 1405.7,492.0 1384.4,493.5 1418.3,500.2 1384.4,501.0 1406.4,506.8 1382.5,507.6 1399.8,513.1 1380.1,515.9 1400.9,521.6 1377.6,524.2 1402.3,530.2 1377.4,532.0 1415.5,539.1 1377.4,540.0 1406.8,546.3 1377.4,549.1 1397.8,554.8 1376.5,556.0 1412.6,563.0 1374.6,565.1 1395.9,570.8 1373.1,572.1 1405.4,578.7 1371.1,581.5 1391.2,587.1 1369.4,590.9 1405.0,597.8 1367.9,599.2 1393.4,605.3 1367.4,602.0 1331.0,602.0 1330.1,597.0 1329.2,592.0 1328.4,587.0 1328.6,582.0 1329.7,577.0 1330.8,572.0 1331.8,567.0 1332.9,562.0 1333.9,557.0 1335.0,552.0 1333.1,547.0 1331.3,542.0 1329.4,537.0 1327.6,532.0 1325.7,527.0 1327.1,522.0 1330.7,517.0 1334.2,512.0 1337.8,507.0 1341.3,502.0 1342.4,497.0 1342.8,492.0 1343.2,487.0 1343.7,482.0 1344.1,477.0 1344.6,472.0 1345.0,467.0 1345.0,462.0 1345.0,457.0 1345.0,452.0 1345.0,447.0 1345.0,442.0 1345.0,437.0 1345.1,432.0 1345.5,427.0 1346.0,422.0 1346.5,417.0 1346.9,412.0 1347.4,407.0 1347.8,402.0 1348.0,397.0 1348.0,392.0 1348.0,387.0 1348.0,382.0 1348.0,377.0 1348.0,372.0 1348.0,367.0 1347.3,362.0 1346.4,357.0 1345.5,352.0 1344.6,347.0 1343.8,342.0 1342.9,337.0 1342.0,332.0 1339.5,327.0 1336.9,322.0 1334.4,317.0 1331.8,312.0 1329.3,307.0 1327.0,302.0 1324.9,297.0 1322.9,292.0 1320.9,287.0 1318.8,282.0 1316.8,277.0 1314.6,272.0 1312.1,267.0 1309.7,262.0 1307.3,257.0 1304.9,252.0 1302.5,247.0 1301.2,242.0 1300.3,237.0 1299.4,232.0 1298.4,227.0 1297.5,222.0 1296.6,217.0 1295.6,212.0 1294.7,207.0 1293.8,202.0 1291.3,197.0 1283.1,192.0 1274.8,187.0 1266.5,182.0 1258.3,177.0 1250.0,172.0 1237.4,167.0 1222.0,162.0 1206.6,157.0 1191.2,152.0 1173.7,147.0 1154.9,142.0 1136.0,137.0 1119.0,132.0 1105.6,127.0 1092.2,122.0 1078.7,117.0 1060.7,112.0 1024.0,107.0 987.3,102.0" fill="#0658d0"/>
<polygon points="1040.0,92.0 1060.0,95.0 1091.0,100.0 1255.0,83.5 1240.0,92.0 1228.0,96.0 1350.0,96.0 1440.0,96.5 1458.0,118.0 1458.0,127.0 1458.0,127.0 1492.3,131.1 1526.5,135.2 1561.1,139.3 1575.0,143.1 1575.9,147.2 1527.3,151.4 1539.0,157.6 1505.0,159.4 1540.5,166.7 1492.9,168.3 1512.4,174.3 1483.0,175.7 1502.4,181.7 1471.3,184.7 1509.6,192.1 1463.9,191.2 1523.7,200.4 1453.2,200.7 1500.7,208.9 1443.8,209.1 1472.7,215.8 1436.5,215.5 1479.3,223.3 1429.0,222.1 1459.1,228.9 1420.9,229.3 1446.7,235.6 1416.5,237.2 1458.8,244.7 1412.7,246.3 1458.0,254.0 1409.2,254.7 1453.8,262.4 1405.7,263.3 1449.1,270.8 1403.7,270.5 1467.7,279.7 1401.4,280.1 1459.5,288.8 1399.4,288.8 1437.8,295.9 1397.7,295.9 1435.3,303.0 1396.7,302.6 1441.3,310.2 1396.0,310.2 1443.1,318.0 1395.4,317.9 1445.8,325.9 1394.6,327.0 1416.3,332.7 1394.0,334.1 1442.8,342.0 1393.0,342.0 1444.0,350.1 1392.1,349.6 1415.8,355.6 1391.1,358.0 1436.0,365.7 1390.3,365.3 1414.4,371.3 1389.4,372.8 1439.9,380.8 1388.4,381.6 1413.4,387.6 1387.5,388.8 1412.1,394.8 1386.7,395.4 1432.2,403.0 1386.3,402.3 1425.2,409.4 1386.6,410.2 1414.4,416.4 1386.9,418.9 1413.0,425.0 1387.2,427.4 1406.5,432.9 1387.2,435.1 1408.1,440.8 1386.6,442.4 1424.6,449.5 1385.8,451.4 1408.8,457.2 1385.0,460.6 1405.9,466.3 1384.4,468.3 1420.1,475.1 1384.4,476.7 1403.2,482.2 1384.4,486.3 1405.7,492.0 1384.4,493.5 1418.3,500.2 1384.4,501.0 1406.4,506.8 1382.5,507.6 1399.8,513.1 1380.1,515.9 1400.9,521.6 1377.6,524.2 1402.3,530.2 1377.4,532.0 1415.5,539.1 1377.4,540.0 1406.8,546.3 1377.4,549.1 1397.8,554.8 1376.5,556.0 1412.6,563.0 1374.6,565.1 1395.9,570.8 1373.1,572.1 1405.4,578.7 1371.1,581.5 1391.2,587.1 1369.4,590.9 1405.0,597.8 1367.9,599.2 1393.4,605.3 1367.4,602.0 1336.0,602.0 1335.1,597.0 1334.2,592.0 1333.4,587.0 1333.6,582.0 1334.7,577.0 1335.8,572.0 1336.8,567.0 1337.9,562.0 1338.9,557.0 1340.0,552.0 1338.2,547.0 1336.5,542.0 1334.7,537.0 1333.0,532.0 1331.2,527.0 1332.6,522.0 1336.0,517.0 1339.4,512.0 1342.9,507.0 1346.3,502.0 1347.4,497.0 1347.8,492.0 1348.2,487.0 1348.7,482.0 1349.1,477.0 1349.6,472.0 1350.0,467.0 1350.0,462.0 1350.0,457.0 1350.0,452.0 1350.0,447.0 1350.0,442.0 1350.0,437.0 1350.1,432.0 1350.5,427.0 1351.0,422.0 1351.5,417.0 1351.9,412.0 1352.4,407.0 1352.8,402.0 1353.0,397.0 1353.0,392.0 1353.0,387.0 1353.0,382.0 1353.0,377.0 1353.0,372.0 1353.0,367.0 1352.5,362.0 1351.9,357.0 1351.4,352.0 1350.8,347.0 1350.2,342.0 1349.6,337.0 1349.0,332.0 1347.3,327.0 1345.5,322.0 1343.8,317.0 1342.1,312.0 1340.4,307.0 1338.8,302.0 1337.3,297.0 1335.9,292.0 1334.5,287.0 1333.0,282.0 1331.6,277.0 1329.7,272.0 1327.4,267.0 1325.2,262.0 1322.9,257.0 1320.7,252.0 1318.4,247.0 1317.0,242.0 1315.8,237.0 1314.6,232.0 1313.4,227.0 1312.2,222.0 1311.1,217.0 1309.9,212.0 1308.7,207.0 1307.5,202.0 1304.8,197.0 1296.4,192.0 1288.0,187.0 1279.6,182.0 1271.2,177.0 1262.8,172.0 1252.3,167.0 1240.3,162.0 1228.4,157.0 1215.6,152.0 1201.2,147.0 1186.2,142.0 1171.2,137.0 1157.1,132.0 1143.8,127.0 1122.5,122.0 1101.2,117.0 1087.3,112.0 1064.2,107.0 1041.1,102.0" fill="#0f79ea"/>
<polygon points="1091.0,100.5 1255.0,84.0 1240.0,92.0 1228.0,96.5 1350.0,96.5 1440.0,97.0 1458.0,118.0 1458.0,127.0 1458.0,127.0 1492.3,131.1 1526.5,135.2 1561.1,139.3 1575.0,143.1 1575.9,147.2 1527.3,151.4 1539.0,157.6 1505.0,159.4 1540.5,166.7 1492.9,168.3 1512.4,174.3 1483.0,175.7 1502.4,181.7 1471.3,184.7 1509.6,192.1 1463.9,191.2 1523.7,200.4 1453.2,200.7 1500.7,208.9 1443.8,209.1 1472.7,215.8 1436.5,215.5 1479.3,223.3 1429.0,222.1 1459.1,228.9 1420.9,229.3 1446.7,235.6 1416.5,237.2 1458.8,244.7 1412.7,246.3 1458.0,254.0 1409.2,254.7 1453.8,262.4 1405.7,263.3 1449.1,270.8 1403.7,270.5 1467.7,279.7 1401.4,280.1 1459.5,288.8 1399.4,288.8 1437.8,295.9 1397.7,295.9 1435.3,303.0 1396.7,302.6 1441.3,310.2 1396.0,310.2 1443.1,318.0 1395.4,317.9 1445.8,325.9 1394.6,327.0 1416.3,332.7 1394.0,334.1 1442.8,342.0 1393.0,342.0 1444.0,350.1 1392.1,349.6 1415.8,355.6 1391.1,358.0 1436.0,365.7 1390.3,365.3 1414.4,371.3 1389.4,372.8 1439.9,380.8 1388.4,381.6 1413.4,387.6 1387.5,388.8 1412.1,394.8 1386.7,395.4 1432.2,403.0 1386.3,402.3 1425.2,409.4 1386.6,410.2 1414.4,416.4 1386.9,418.9 1413.0,425.0 1387.2,427.4 1406.5,432.9 1387.2,435.1 1408.1,440.8 1386.6,442.4 1424.6,449.5 1385.8,451.4 1408.8,457.2 1385.0,460.6 1405.9,466.3 1384.4,468.3 1420.1,475.1 1384.4,476.7 1403.2,482.2 1384.4,486.3 1405.7,492.0 1384.4,493.5 1418.3,500.2 1384.4,501.0 1406.4,506.8 1382.5,507.6 1399.8,513.1 1380.1,515.9 1400.9,521.6 1377.6,524.2 1402.3,530.2 1377.4,532.0 1415.5,539.1 1377.4,540.0 1406.8,546.3 1377.4,549.1 1397.8,554.8 1376.5,556.0 1412.6,563.0 1374.6,565.1 1395.9,570.8 1373.1,572.1 1405.4,578.7 1371.1,581.5 1391.2,587.1 1369.4,590.9 1405.0,597.8 1367.9,599.2 1393.4,605.3 1367.4,602.0 1341.0,602.0 1340.1,597.0 1339.2,592.0 1338.4,587.0 1338.6,582.0 1339.7,577.0 1340.8,572.0 1341.8,567.0 1342.9,562.0 1343.9,557.0 1345.0,552.0 1343.3,547.0 1341.7,542.0 1340.0,537.0 1338.3,532.0 1336.7,527.0 1338.0,522.0 1341.3,517.0 1344.7,512.0 1348.0,507.0 1351.3,502.0 1352.4,497.0 1352.8,492.0 1353.2,487.0 1353.7,482.0 1354.1,477.0 1354.6,472.0 1355.0,467.0 1355.0,462.0 1355.0,457.0 1355.0,452.0 1355.0,447.0 1355.0,442.0 1355.0,437.0 1355.1,432.0 1355.5,427.0 1356.0,422.0 1356.5,417.0 1356.9,412.0 1357.4,407.0 1357.8,402.0 1358.0,397.0 1358.0,392.0 1358.0,387.0 1358.0,382.0 1358.0,377.0 1358.0,372.0 1358.0,367.0 1357.8,362.0 1357.5,357.0 1357.2,352.0 1356.9,347.0 1356.6,342.0 1356.3,337.0 1356.0,332.0 1355.1,327.0 1354.2,322.0 1353.3,317.0 1352.4,312.0 1351.5,307.0 1350.6,302.0 1349.7,297.0 1348.9,292.0 1348.0,287.0 1347.2,282.0 1346.3,277.0 1344.8,272.0 1342.7,267.0 1340.6,262.0 1338.6,257.0 1336.5,252.0 1334.4,247.0 1332.8,242.0 1331.4,237.0 1329.9,232.0 1328.5,227.0 1327.0,222.0 1325.5,217.0 1324.1,212.0 1322.6,207.0 1321.2,202.0 1318.3,197.0 1309.8,192.0 1301.2,187.0 1292.7,182.0 1284.2,177.0 1275.7,172.0 1267.2,167.0 1258.6,162.0 1250.1,157.0 1240.0,152.0 1228.8,147.0 1217.5,142.0 1206.3,137.0 1195.1,132.0 1182.1,127.0 1152.8,122.0 1123.6,117.0 1114.0,112.0 1104.4,107.0 1094.8,102.0" fill="#1895fb"/>
<polygon points="1228.0,96.5 1350.0,96.0 1400.0,94.6 1492.0,94.6 1585.0,101.5 1686.0,114.5 1654.0,120.5 1585.0,119.5 1492.0,118.0 1458.0,118.0 1440.0,135.0 1380.0,140.0 1320.0,132.0 1270.0,125.0 1235.0,112.0" fill="#8cc9ff"/>
<polygon points="1400.0,100.0 1492.0,100.0 1585.0,106.0 1650.0,114.0 1585.0,114.0 1492.0,112.0 1400.0,112.0" fill="#b9ddff" filter="url(#b2)"/>
<polygon points="1255.0,85.0 1227.0,95.0 1223.0,101.0 1225.0,113.0 1237.0,134.0 1266.0,164.0 1307.0,197.0 1340.0,215.0 1380.0,215.0 1420.0,190.0 1440.0,160.0 1420.0,140.0 1350.0,130.0 1290.0,118.0" fill="#49afff" filter="url(#b4)"/>
<polygon points="1409.0,147.7 1420.0,135.0 1458.0,127.0 1580.0,140.8 1580.0,147.7 1538.0,150.0 1500.0,165.0 1440.0,170.0" fill="#158bf5"/>
<polygon points="1412.0,152.0 1540.0,156.0 1540.0,157.6 1412.0,154.0" fill="#000442"/>
<polygon points="1415.0,156.6 1532.0,160.6 1532.0,162.2 1415.0,158.6" fill="#000442"/>
<polygon points="1418.0,161.2 1524.0,165.2 1524.0,166.8 1418.0,163.2" fill="#000442"/>
<polygon points="1421.0,165.8 1516.0,169.8 1516.0,171.4 1421.0,167.8" fill="#000442"/>
<polygon points="1424.0,170.4 1508.0,174.4 1508.0,176.0 1424.0,172.4" fill="#000442"/>
<polygon points="1427.0,175.0 1500.0,179.0 1500.0,180.6 1427.0,177.0" fill="#000442"/>
<polygon points="1430.0,179.6 1492.0,183.6 1492.0,185.2 1430.0,181.6" fill="#000442"/>
<polygon points="1290.0,170.0 1292.0,176.0 1293.9,182.0 1295.9,188.0 1297.9,194.0 1299.8,200.0 1301.8,206.0 1303.8,212.0 1305.7,218.0 1307.7,224.0 1309.7,230.0 1312.9,236.0 1316.5,242.0 1320.0,248.0 1323.5,254.0 1327.1,260.0 1330.4,266.0 1333.1,272.0 1335.7,278.0 1338.4,284.0 1341.0,290.0 1343.7,296.0 1345.6,302.0 1346.9,308.0 1348.2,314.0 1349.5,320.0 1350.7,326.0 1352.0,332.0 1352.4,338.0 1352.7,344.0 1353.1,350.0 1353.4,356.0 1353.8,362.0 1354.1,368.0 1354.5,374.0 1354.8,380.0 1355.2,386.0 1355.5,392.0 1355.9,398.0 1355.8,404.0 1355.4,410.0 1355.0,416.0 1354.7,422.0 1354.3,428.0 1354.0,434.0 1353.6,440.0 1353.3,446.0 1352.9,452.0 1352.5,458.0 1352.2,464.0 1351.8,470.0 1351.5,476.0 1351.1,482.0 1350.8,488.0 1350.4,494.0 1350.1,500.0 1346.9,506.0 1343.1,512.0 1339.4,518.0 1335.6,524.0 1336.3,530.0 1337.9,536.0 1339.4,542.0 1341.0,548.0 1341.8,554.0 1341.4,560.0 1340.9,566.0 1340.4,572.0 1339.9,578.0 1339.4,584.0 1339.0,590.0 1338.5,596.0 1338.0,602.0 1370.0,602.0 1371.0,596.0 1371.9,590.0 1372.9,584.0 1373.8,578.0 1374.8,572.0 1375.8,566.0 1376.7,560.0 1377.7,554.0 1378.3,548.0 1378.7,542.0 1379.2,536.0 1379.6,530.0 1380.2,524.0 1381.8,518.0 1383.2,512.0 1384.8,506.0 1386.0,500.0 1386.0,494.0 1386.0,488.0 1386.0,482.0 1386.0,476.0 1386.0,470.0 1386.3,464.0 1386.8,458.0 1387.3,452.0 1387.9,446.0 1388.4,440.0 1389.0,434.0 1389.5,428.0 1390.0,422.0 1390.6,416.0 1391.1,410.0 1391.6,404.0 1392.2,398.0 1392.7,392.0 1393.2,386.0 1393.8,380.0 1394.3,374.0 1394.8,368.0 1395.4,362.0 1395.9,356.0 1396.4,350.0 1396.9,344.0 1397.5,338.0 1398.0,332.0 1399.3,326.0 1400.5,320.0 1401.8,314.0 1403.1,308.0 1404.4,302.0 1405.4,296.0 1406.3,290.0 1407.2,284.0 1408.1,278.0 1409.0,272.0 1409.9,266.0 1412.2,260.0 1414.9,254.0 1417.5,248.0 1420.1,242.0 1422.8,236.0 1425.6,230.0 1429.0,224.0 1432.5,218.0 1435.9,212.0 1439.3,206.0 1442.8,200.0 1446.2,194.0 1449.7,188.0 1453.1,182.0 1456.6,176.0 1460.0,170.0" fill="#36a7ff" filter="url(#b8)"/>
<clipPath id="nrc"><polygon points="1000.0,84.5 1060.0,95.0 1091.0,100.0 1255.0,83.5 1240.0,92.0 1228.0,96.0 1350.0,96.0 1440.0,96.5 1458.0,118.0 1458.0,127.0 1458.0,127.0 1492.3,131.1 1526.5,135.2 1561.1,139.3 1575.0,143.1 1575.9,147.2 1527.3,151.4 1539.0,157.6 1505.0,159.4 1540.5,166.7 1492.9,168.3 1512.4,174.3 1483.0,175.7 1502.4,181.7 1471.3,184.7 1509.6,192.1 1463.9,191.2 1523.7,200.4 1453.2,200.7 1500.7,208.9 1443.8,209.1 1472.7,215.8 1436.5,215.5 1479.3,223.3 1429.0,222.1 1459.1,228.9 1420.9,229.3 1446.7,235.6 1416.5,237.2 1458.8,244.7 1412.7,246.3 1458.0,254.0 1409.2,254.7 1453.8,262.4 1405.7,263.3 1449.1,270.8 1403.7,270.5 1467.7,279.7 1401.4,280.1 1459.5,288.8 1399.4,288.8 1437.8,295.9 1397.7,295.9 1435.3,303.0 1396.7,302.6 1441.3,310.2 1396.0,310.2 1443.1,318.0 1395.4,317.9 1445.8,325.9 1394.6,327.0 1416.3,332.7 1394.0,334.1 1442.8,342.0 1393.0,342.0 1444.0,350.1 1392.1,349.6 1415.8,355.6 1391.1,358.0 1436.0,365.7 1390.3,365.3 1414.4,371.3 1389.4,372.8 1439.9,380.8 1388.4,381.6 1413.4,387.6 1387.5,388.8 1412.1,394.8 1386.7,395.4 1432.2,403.0 1386.3,402.3 1425.2,409.4 1386.6,410.2 1414.4,416.4 1386.9,418.9 1413.0,425.0 1387.2,427.4 1406.5,432.9 1387.2,435.1 1408.1,440.8 1386.6,442.4 1424.6,449.5 1385.8,451.4 1408.8,457.2 1385.0,460.6 1405.9,466.3 1384.4,468.3 1420.1,475.1 1384.4,476.7 1403.2,482.2 1384.4,486.3 1405.7,492.0 1384.4,493.5 1418.3,500.2 1384.4,501.0 1406.4,506.8 1382.5,507.6 1399.8,513.1 1380.1,515.9 1400.9,521.6 1377.6,524.2 1402.3,530.2 1377.4,532.0 1415.5,539.1 1377.4,540.0 1406.8,546.3 1377.4,549.1 1397.8,554.8 1376.5,556.0 1412.6,563.0 1374.6,565.1 1395.9,570.8 1373.1,572.1 1405.4,578.7 1371.1,581.5 1391.2,587.1 1369.4,590.9 1405.0,597.8 1367.9,599.2 1393.4,605.3 1367.4,602.0 1325.0,602.0 1322.9,597.0 1320.9,592.0 1318.8,587.0 1318.3,582.0 1318.7,577.0 1319.2,572.0 1319.6,567.0 1320.1,562.0 1320.5,557.0 1321.0,552.0 1319.9,547.0 1318.8,542.0 1317.7,537.0 1316.6,532.0 1315.4,527.0 1317.0,522.0 1320.3,517.0 1323.7,512.0 1327.0,507.0 1330.3,502.0 1331.5,497.0 1332.1,492.0 1332.6,487.0 1333.2,482.0 1333.8,477.0 1334.4,472.0 1335.0,467.0 1335.0,462.0 1335.0,457.0 1335.0,452.0 1335.0,447.0 1335.0,442.0 1335.0,437.0 1334.9,432.0 1334.3,427.0 1333.7,422.0 1333.1,417.0 1332.5,412.0 1331.8,407.0 1331.2,402.0 1330.5,397.0 1329.6,392.0 1328.7,387.0 1327.8,382.0 1326.9,377.0 1326.1,372.0 1325.2,367.0 1323.9,362.0 1322.6,357.0 1321.3,352.0 1320.0,347.0 1318.6,342.0 1317.3,337.0 1316.0,332.0 1314.4,327.0 1312.7,322.0 1311.1,317.0 1309.5,312.0 1307.8,307.0 1305.8,302.0 1303.4,297.0 1301.1,292.0 1298.7,287.0 1296.3,282.0 1293.9,277.0 1291.6,272.0 1289.1,267.0 1286.7,262.0 1284.3,257.0 1281.9,252.0 1279.5,247.0 1277.4,242.0 1275.4,237.0 1273.5,232.0 1271.5,227.0 1269.5,222.0 1267.5,217.0 1265.5,212.0 1263.6,207.0 1261.6,202.0 1258.8,197.0 1252.7,192.0 1246.6,187.0 1240.4,182.0 1226.6,177.0 1207.6,172.0 1182.6,167.0 1153.6,162.0 1134.5,157.0 1122.0,152.0 1110.0,147.0 1100.3,142.0 1090.5,137.0 1080.7,132.0 1070.9,127.0 1055.3,122.0 1037.2,117.0 1017.1,112.0 1000.0,107.0 1000.0,102.0"/></clipPath>
<g clip-path="url(#nrc)"><path d="M1503.0 60.0Q1264.8 60.0 1264.8 210.0" stroke="#001a9a" stroke-opacity="0.27" stroke-width="4.9" fill="none"/><path d="M1503.0 68.1Q1267.9 68.1 1267.9 218.1" stroke="#ffffff" stroke-opacity="0.22" stroke-width="4.4" fill="none"/><path d="M1503.0 77.0Q1271.5 77.0 1271.5 227.0" stroke="#001a9a" stroke-opacity="0.24" stroke-width="5.7" fill="none"/><path d="M1503.0 84.7Q1274.5 84.7 1274.5 234.7" stroke="#ffffff" stroke-opacity="0.19" stroke-width="5.4" fill="none"/><path d="M1503.0 95.0Q1278.6 95.0 1278.6 245.0" stroke="#001a9a" stroke-opacity="0.16" stroke-width="6.6" fill="none"/><path d="M1503.0 102.8Q1282.3 102.8 1282.3 252.8" stroke="#ffffff" stroke-opacity="0.21" stroke-width="5.4" fill="none"/><path d="M1503.0 113.0Q1287.2 113.0 1287.2 263.0" stroke="#001a9a" stroke-opacity="0.19" stroke-width="4.9" fill="none"/><path d="M1503.0 120.5Q1290.8 120.5 1290.8 270.5" stroke="#ffffff" stroke-opacity="0.21" stroke-width="5.5" fill="none"/><path d="M1515.1 128.4Q1294.6 128.4 1294.6 278.4" stroke="#001a9a" stroke-opacity="0.19" stroke-width="4.3" fill="none"/><path d="M1581.3 136.4Q1298.4 136.4 1298.4 286.4" stroke="#ffffff" stroke-opacity="0.18" stroke-width="5.2" fill="none"/><path d="M1620.0 146.1Q1303.0 146.1 1303.0 296.1" stroke="#001a9a" stroke-opacity="0.17" stroke-width="6.3" fill="none"/><path d="M1553.5 156.8Q1307.8 156.8 1307.8 306.8" stroke="#ffffff" stroke-opacity="0.20" stroke-width="6.1" fill="none"/><path d="M1539.6 167.1Q1311.1 167.1 1311.1 317.1" stroke="#001a9a" stroke-opacity="0.17" stroke-width="5.3" fill="none"/><path d="M1529.5 174.6Q1313.6 174.6 1313.6 324.6" stroke="#ffffff" stroke-opacity="0.21" stroke-width="5.5" fill="none"/><path d="M1519.3 182.2Q1316.0 182.2 1316.0 332.2" stroke="#001a9a" stroke-opacity="0.22" stroke-width="6.1" fill="none"/><path d="M1508.8 191.4Q1318.5 191.4 1318.5 341.4" stroke="#ffffff" stroke-opacity="0.12" stroke-width="6.6" fill="none"/><path d="M1500.4 198.8Q1320.4 198.8 1320.4 348.8" stroke="#001a9a" stroke-opacity="0.28" stroke-width="6.7" fill="none"/><path d="M1489.3 208.7Q1323.1 208.7 1323.1 358.7" stroke="#ffffff" stroke-opacity="0.23" stroke-width="5.5" fill="none"/><path d="M1480.2 216.7Q1325.1 216.7 1325.1 366.7" stroke="#001a9a" stroke-opacity="0.23" stroke-width="6.0" fill="none"/><path d="M1469.0 226.6Q1326.9 226.6 1326.9 376.6" stroke="#ffffff" stroke-opacity="0.15" stroke-width="6.6" fill="none"/><path d="M1462.8 233.9Q1328.2 233.9 1328.2 383.9" stroke="#001a9a" stroke-opacity="0.23" stroke-width="4.2" fill="none"/><path d="M1459.3 242.4Q1329.7 242.4 1329.7 392.4" stroke="#ffffff" stroke-opacity="0.24" stroke-width="4.4" fill="none"/><path d="M1454.9 253.2Q1331.4 253.2 1331.4 403.2" stroke="#001a9a" stroke-opacity="0.29" stroke-width="5.9" fill="none"/><path d="M1451.8 260.6Q1332.3 260.6 1332.3 410.6" stroke="#ffffff" stroke-opacity="0.17" stroke-width="5.9" fill="none"/><path d="M1449.3 268.1Q1333.2 268.1 1333.2 418.1" stroke="#001a9a" stroke-opacity="0.20" stroke-width="4.3" fill="none"/><path d="M1446.9 278.4Q1334.4 278.4 1334.4 428.4" stroke="#ffffff" stroke-opacity="0.23" stroke-width="6.5" fill="none"/><path d="M1444.5 288.3Q1335.0 288.3 1335.0 438.3" stroke="#001a9a" stroke-opacity="0.24" stroke-width="4.2" fill="none"/><path d="M1442.4 297.2Q1335.0 297.2 1335.0 447.2" stroke="#ffffff" stroke-opacity="0.21" stroke-width="6.1" fill="none"/><path d="M1441.5 304.5Q1335.0 304.5 1335.0 454.5" stroke="#001a9a" stroke-opacity="0.16" stroke-width="4.3" fill="none"/><path d="M1440.6 315.0Q1335.0 315.0 1335.0 465.0" stroke="#ffffff" stroke-opacity="0.12" stroke-width="5.1" fill="none"/><path d="M1439.9 323.9Q1334.2 323.9 1334.2 473.9" stroke="#001a9a" stroke-opacity="0.28" stroke-width="4.4" fill="none"/><path d="M1439.2 332.1Q1333.2 332.1 1333.2 482.1" stroke="#ffffff" stroke-opacity="0.21" stroke-width="4.3" fill="none"/><path d="M1438.3 339.9Q1332.3 339.9 1332.3 489.9" stroke="#001a9a" stroke-opacity="0.16" stroke-width="6.6" fill="none"/><path d="M1437.3 347.9Q1331.4 347.9 1331.4 497.9" stroke="#ffffff" stroke-opacity="0.17" stroke-width="5.1" fill="none"/><path d="M1436.1 358.6Q1325.9 358.6 1325.9 508.6" stroke="#001a9a" stroke-opacity="0.26" stroke-width="5.7" fill="none"/><path d="M1435.0 367.6Q1319.9 367.6 1319.9 517.6" stroke="#ffffff" stroke-opacity="0.14" stroke-width="6.3" fill="none"/><path d="M1434.1 375.2Q1315.0 375.2 1315.0 525.2" stroke="#001a9a" stroke-opacity="0.25" stroke-width="4.8" fill="none"/><path d="M1433.2 383.4Q1316.9 383.4 1316.9 533.4" stroke="#ffffff" stroke-opacity="0.16" stroke-width="4.6" fill="none"/><path d="M1432.1 392.7Q1318.9 392.7 1318.9 542.7" stroke="#001a9a" stroke-opacity="0.17" stroke-width="4.1" fill="none"/><path d="M1431.2 400.4Q1320.6 400.4 1320.6 550.4" stroke="#ffffff" stroke-opacity="0.11" stroke-width="6.4" fill="none"/><path d="M1431.5 409.4Q1320.3 409.4 1320.3 559.4" stroke="#001a9a" stroke-opacity="0.26" stroke-width="6.2" fill="none"/><path d="M1431.8 417.2Q1319.6 417.2 1319.6 567.2" stroke="#ffffff" stroke-opacity="0.23" stroke-width="5.1" fill="none"/><path d="M1432.1 426.1Q1318.8 426.1 1318.8 576.1" stroke="#001a9a" stroke-opacity="0.23" stroke-width="5.9" fill="none"/><path d="M1432.1 436.1Q1318.4 436.1 1318.4 586.1" stroke="#ffffff" stroke-opacity="0.13" stroke-width="6.3" fill="none"/><path d="M1431.4 444.8Q1322.0 444.8 1322.0 594.8" stroke="#001a9a" stroke-opacity="0.20" stroke-width="6.4" fill="none"/><path d="M1430.4 455.1Q1325.0 455.1 1325.0 605.1" stroke="#ffffff" stroke-opacity="0.22" stroke-width="4.9" fill="none"/><path d="M1429.5 465.6Q1325.0 465.6 1325.0 615.6" stroke="#001a9a" stroke-opacity="0.27" stroke-width="6.7" fill="none"/><path d="M1429.4 475.6Q1325.0 475.6 1325.0 625.6" stroke="#ffffff" stroke-opacity="0.24" stroke-width="5.3" fill="none"/><path d="M1429.4 485.5Q1325.0 485.5 1325.0 635.5" stroke="#001a9a" stroke-opacity="0.27" stroke-width="5.5" fill="none"/><path d="M1429.4 494.5Q1325.0 494.5 1325.0 644.5" stroke="#ffffff" stroke-opacity="0.16" stroke-width="6.4" fill="none"/><path d="M1428.8 503.0Q1325.0 503.0 1325.0 653.0" stroke="#001a9a" stroke-opacity="0.26" stroke-width="5.6" fill="none"/><path d="M1426.0 512.8Q1325.0 512.8 1325.0 662.8" stroke="#ffffff" stroke-opacity="0.14" stroke-width="4.3" fill="none"/><path d="M1423.2 522.4Q1325.0 522.4 1325.0 672.4" stroke="#001a9a" stroke-opacity="0.18" stroke-width="5.0" fill="none"/><path d="M1422.4 532.4Q1325.0 532.4 1325.0 682.4" stroke="#ffffff" stroke-opacity="0.11" stroke-width="6.5" fill="none"/><path d="M1422.4 541.7Q1325.0 541.7 1325.0 691.7" stroke="#001a9a" stroke-opacity="0.24" stroke-width="5.9" fill="none"/><path d="M1422.4 549.1Q1325.0 549.1 1325.0 699.1" stroke="#ffffff" stroke-opacity="0.10" stroke-width="6.0" fill="none"/><path d="M1421.0 558.5Q1325.0 558.5 1325.0 708.5" stroke="#001a9a" stroke-opacity="0.25" stroke-width="6.3" fill="none"/><path d="M1419.3 566.6Q1325.0 566.6 1325.0 716.6" stroke="#ffffff" stroke-opacity="0.12" stroke-width="6.7" fill="none"/><path d="M1417.7 574.0Q1325.0 574.0 1325.0 724.0" stroke="#001a9a" stroke-opacity="0.23" stroke-width="5.7" fill="none"/><path d="M1415.5 584.7Q1325.0 584.7 1325.0 734.7" stroke="#ffffff" stroke-opacity="0.11" stroke-width="5.9" fill="none"/><path d="M1414.1 592.2Q1325.0 592.2 1325.0 742.2" stroke="#001a9a" stroke-opacity="0.22" stroke-width="5.7" fill="none"/></g>
<ellipse cx="1366" cy="228" rx="40" ry="10" fill="#d3e9ff" filter="url(#b8)"/>
<ellipse cx="1372" cy="299" rx="32" ry="12" fill="#ffffff" filter="url(#b8)"/>
<ellipse cx="1380" cy="262" rx="30" ry="10" fill="#a8d4ff" filter="url(#b8)"/>
<ellipse cx="1372" cy="345" rx="22" ry="10" fill="#95cdff" filter="url(#b8)"/>
<ellipse cx="1357" cy="525" rx="26" ry="14" fill="#ffffff" filter="url(#b8)"/>
<ellipse cx="1365" cy="420" rx="18" ry="30" fill="#79c1ff" filter="url(#b8)"/>
<ellipse cx="1358" cy="575" rx="18" ry="16" fill="#79c1ff" filter="url(#b8)"/>
<polygon points="1237.0,327.0 1258.0,342.0 1237.0,357.0 1216.0,342.0" fill="#0554cc" filter="url(#b2)"/>
</g>
<path d="M163.8 511.1H1836.5" stroke="#1565d4" stroke-width="3.3" stroke-dasharray="15.5 16.04" fill="none"/>
<path d="M163.5 96.97H1836.5 M163.5 126.63H1836.5 M163.5 156.30H1836.5 M163.5 185.97H1836.5 M163.5 215.63H1836.5 M163.5 245.30H1836.5 M163.5 274.97H1836.5 M163.5 304.63H1836.5 M163.5 334.30H1836.5 M163.5 363.97H1836.5 M163.5 393.63H1836.5 M163.5 423.30H1836.5 M163.5 452.97H1836.5 M163.5 482.63H1836.5 M163.5 512.30H1836.5 M163.5 541.97H1836.5 M163.5 571.63H1836.5" class="gr"/>
<path d="M163.50 68.9V601.3 M233.21 68.9V601.3 M302.92 68.9V601.3 M372.62 68.9V601.3 M442.33 68.9V601.3 M512.04 68.9V601.3 M581.75 68.9V601.3 M651.46 68.9V601.3 M721.17 68.9V601.3 M790.88 68.9V601.3 M860.58 68.9V601.3 M930.29 68.9V601.3 M1000.00 68.9V601.3 M1069.71 68.9V601.3 M1139.42 68.9V601.3 M1209.12 68.9V601.3 M1278.83 68.9V601.3 M1348.54 68.9V601.3 M1418.25 68.9V601.3 M1487.96 68.9V601.3 M1557.67 68.9V601.3 M1627.38 68.9V601.3 M1697.08 68.9V601.3 M1766.79 68.9V601.3 M1836.50 68.9V601.3" class="gr"/>
<path d="M1000 67.3V601.8" stroke="#df4306" stroke-width="4" fill="none"/>
<path d="M151.5 67.30H163.5 M151.5 96.97H163.5 M138.5 126.63H163.5 M151.5 156.30H163.5 M151.5 185.97H163.5 M151.5 215.63H163.5 M138.5 245.30H163.5 M151.5 274.97H163.5 M151.5 304.63H163.5 M151.5 334.30H163.5 M138.5 363.97H163.5 M151.5 393.63H163.5 M151.5 423.30H163.5 M151.5 452.97H163.5 M138.5 482.63H163.5 M151.5 512.30H163.5 M151.5 541.97H163.5 M151.5 571.63H163.5 M138.5 601.30H163.5 M163.50 601.3v8 M233.21 601.3v3.2 M302.92 601.3v3.2 M372.62 601.3v8 M442.33 601.3v3.2 M512.04 601.3v3.2 M581.75 601.3v8 M651.46 601.3v3.2 M721.17 601.3v3.2 M790.88 601.3v8 M860.58 601.3v3.2 M930.29 601.3v3.2 M1000.00 601.3v8 M1069.71 601.3v3.2 M1139.42 601.3v3.2 M1209.12 601.3v8 M1278.83 601.3v3.2 M1348.54 601.3v3.2 M1418.25 601.3v8 M1487.96 601.3v3.2 M1557.67 601.3v3.2 M1627.38 601.3v8 M1697.08 601.3v3.2 M1766.79 601.3v3.2 M1836.50 601.3v8 M163.0 601.3H1837.0" class="tk"/>
<rect x="163.5" y="767.3" width="1673.0" height="534.0" fill="#000"/>
<g clip-path="url(#cs)">
<g shape-rendering="crispEdges"><path d="M752.1 772.5L760.5 767.6L764.8 774.7L756.4 779.7zM760.5 767.6L768.9 762.6L773.2 769.7L764.8 774.7zM756.4 779.7L764.8 774.7L769.0 781.9L760.6 786.8zM769.7 772.0L778.3 767.4L782.2 774.7L773.6 779.3zM773.6 779.3L782.2 774.7L786.1 782.0L777.5 786.7zM782.2 774.7L790.8 770.1L794.7 777.4L786.1 782.0zM790.8 779.0L799.6 774.7L803.2 782.2L794.5 786.4zM799.6 774.7L808.4 770.5L812.0 777.9L803.2 782.2zM804.8 771.0L813.8 767.1L817.1 774.7L808.1 778.6zM808.1 778.6L817.1 774.7L820.4 782.3L811.4 786.2zM804.8 785.8L813.8 781.9L817.1 789.5L808.1 793.4zM825.4 793.0L834.5 789.5L837.5 797.3L828.3 800.8zM834.5 789.5L843.6 786.1L846.6 793.8L837.5 797.3zM840.0 784.8L849.3 781.7L851.9 789.5L842.7 792.6zM849.3 781.7L858.5 778.6L861.2 786.4L851.9 789.5zM787.2 801.2L796.0 796.9L799.6 804.4L790.8 808.6zM790.8 808.6L799.6 804.4L803.2 811.9L794.5 816.1zM1078.5 804.4L1088.0 806.6L1086.2 814.7L1076.6 812.5zM910.7 812.5L920.4 811.0L921.6 819.2L912.0 820.7zM920.4 811.0L930.0 809.5L931.3 817.7L921.6 819.2zM912.0 820.7L921.6 819.2L922.9 827.4L913.3 828.9zM1008.8 819.2L1018.5 819.8L1018.1 828.1L1008.3 827.5zM1088.7 808.6L1098.2 811.2L1095.9 819.2L1086.5 816.6zM787.2 830.8L796.0 826.6L799.6 834.0L790.8 838.3zM790.8 838.3L799.6 834.0L803.2 841.5L794.5 845.8zM831.5 826.3L840.6 822.8L843.6 830.6L834.5 834.0zM834.5 834.0L843.6 830.6L846.6 838.3L837.5 841.8zM860.0 836.8L869.4 834.0L871.7 842.0L862.3 844.7zM991.5 825.7L1001.3 825.9L1001.1 834.2L991.4 834.0zM999.1 833.5L1008.8 834.0L1008.3 842.3L998.6 841.8zM1088.7 823.4L1098.2 826.0L1095.9 834.0L1086.5 831.5zM1086.5 831.5L1095.9 834.0L1093.7 842.1L1084.3 839.5zM1178.3 822.2L1186.9 826.7L1183.1 834.0L1174.4 829.5zM1174.4 829.5L1183.1 834.0L1179.3 841.4L1170.6 836.9zM790.8 853.1L799.6 848.9L803.2 856.4L794.5 860.6zM822.4 844.6L831.5 841.1L834.5 848.9L825.4 852.4zM825.4 852.4L834.5 848.9L837.5 856.6L828.3 860.1zM884.8 840.8L894.3 838.5L896.3 846.6L886.8 848.9zM886.8 848.9L896.3 846.6L898.2 854.6L888.7 857.0zM1034.0 847.5L1043.7 848.9L1042.5 857.1L1032.8 855.7zM1139.2 845.1L1148.2 848.9L1145.0 856.5L1136.0 852.8zM1178.3 837.0L1186.9 841.5L1183.1 848.9L1174.4 844.4zM1174.4 844.4L1183.1 848.9L1179.3 856.2L1170.6 851.7zM1196.2 836.8L1204.7 841.7L1200.5 848.9L1192.1 844.0zM1204.7 841.7L1213.1 846.6L1209.0 853.8L1200.5 848.9zM1192.1 844.0L1200.5 848.9L1196.4 856.1L1187.9 851.2zM1200.5 848.9L1209.0 853.8L1204.8 861.0L1196.4 856.1zM773.6 868.3L782.2 863.7L786.1 871.0L777.5 875.6zM782.2 863.7L790.8 859.1L794.7 866.4L786.1 871.0zM796.0 856.2L804.8 852.0L808.4 859.5L799.6 863.7zM790.8 868.0L799.6 863.7L803.2 871.2L794.5 875.4zM799.6 863.7L808.4 859.5L812.0 866.9L803.2 871.2zM834.5 863.7L843.6 860.2L846.6 868.0L837.5 871.5zM842.7 866.8L851.9 863.7L854.6 871.6L845.3 874.7zM851.9 863.7L861.2 860.6L863.8 868.5L854.6 871.6zM877.3 866.0L886.8 863.7L888.7 871.8L879.3 874.1zM928.5 856.5L938.2 855.5L939.1 863.7L929.4 864.8zM938.2 855.5L947.9 854.4L948.8 862.6L939.1 863.7zM929.4 864.8L939.1 863.7L940.0 872.0L930.3 873.1zM1026.2 863.7L1035.9 864.7L1035.1 873.0L1025.4 872.0zM1035.2 854.1L1044.8 855.5L1043.7 863.7L1034.0 862.3zM1070.9 853.4L1080.4 855.6L1078.5 863.7L1069.0 861.5zM760.5 871.4L768.9 866.4L773.2 873.6L764.8 878.5zM764.8 878.5L773.2 873.6L777.4 880.7L769.0 885.7zM822.4 874.3L831.5 870.8L834.5 878.5L825.4 882.0zM831.5 870.8L840.6 867.3L843.6 875.1L834.5 878.5zM825.4 882.0L834.5 878.5L837.5 886.3L828.3 889.8zM834.5 878.5L843.6 875.1L846.6 882.8L837.5 886.3zM857.7 873.3L867.1 870.6L869.4 878.5L860.0 881.3zM867.1 870.6L876.4 867.9L878.7 875.8L869.4 878.5zM860.0 881.3L869.4 878.5L871.7 886.5L862.3 889.2zM928.5 871.4L938.2 870.3L939.1 878.5L929.4 879.6zM938.2 870.3L947.9 869.2L948.8 877.5L939.1 878.5zM929.4 879.6L939.1 878.5L940.0 886.8L930.3 887.9zM939.1 878.5L948.8 877.5L949.7 885.7L940.0 886.8zM999.5 869.7L1009.3 870.3L1008.8 878.5L999.1 878.0zM1133.7 870.8L1142.8 874.1L1140.0 881.9L1130.8 878.5zM1121.6 875.2L1130.8 878.5L1127.9 886.3L1118.8 883.0zM1130.8 878.5L1140.0 881.9L1137.1 889.7L1127.9 886.3zM804.8 889.6L813.8 885.8L817.1 893.4L808.1 897.3zM808.1 897.3L817.1 893.4L820.4 901.0L811.4 904.9zM831.5 885.6L840.6 882.1L843.6 889.9L834.5 893.4zM834.5 893.4L843.6 889.9L846.6 897.7L837.5 901.1zM857.7 888.1L867.1 885.4L869.4 893.4L860.0 896.1zM867.1 885.4L876.4 882.7L878.7 890.7L869.4 893.4zM869.4 893.4L878.7 890.7L881.0 898.7L871.7 901.4zM1035.2 883.8L1044.8 885.2L1043.7 893.4L1034.0 892.0zM1044.8 885.2L1054.5 886.5L1053.3 894.8L1043.7 893.4zM1043.7 893.4L1053.3 894.8L1052.1 903.0L1042.5 901.6zM1113.4 893.4L1122.7 896.4L1120.1 904.3L1110.8 901.3zM752.1 906.0L760.5 901.1L764.8 908.2L756.4 913.2zM756.4 913.2L764.8 908.2L769.0 915.4L760.6 920.3zM834.5 908.2L843.6 904.7L846.6 912.5L837.5 916.0zM1027.1 899.9L1036.8 900.9L1035.9 909.2L1026.2 908.2zM1016.5 907.2L1026.2 908.2L1025.4 916.5L1015.7 915.5zM1026.2 908.2L1035.9 909.2L1035.1 917.5L1025.4 916.5zM1034.0 906.8L1043.7 908.2L1042.5 916.4L1032.8 915.1zM1053.0 898.3L1062.6 900.0L1061.1 908.2L1051.5 906.4zM1061.1 908.2L1070.7 910.0L1069.2 918.2L1059.6 916.4zM1106.6 897.3L1115.9 900.3L1113.4 908.2L1104.1 905.2zM1104.1 905.2L1113.4 908.2L1110.8 916.1L1101.5 913.1zM1186.9 900.8L1195.6 905.4L1191.7 912.7L1183.1 908.2zM893.0 916.8L902.6 914.9L904.2 923.0L894.6 924.9zM902.6 914.9L912.2 913.0L913.8 921.1L904.2 923.0zM904.2 923.0L913.8 921.1L915.4 929.3L905.8 931.2zM991.5 914.7L1001.3 914.9L1001.1 923.2L991.4 923.0zM1124.5 911.9L1133.7 915.3L1130.8 923.0L1121.6 919.7zM1133.7 915.3L1142.8 918.6L1140.0 926.4L1130.8 923.0zM1121.6 919.7L1130.8 923.0L1127.9 930.8L1118.8 927.5zM1139.2 919.3L1148.2 923.0L1145.0 930.7L1136.0 926.9zM1148.2 923.0L1157.2 926.8L1154.0 934.5L1145.0 930.7zM747.3 937.9L755.6 932.7L760.0 939.8L751.7 944.9zM808.1 941.8L817.1 937.9L820.4 945.5L811.4 949.4zM884.8 929.8L894.3 927.5L896.3 935.6L886.8 937.9zM886.8 937.9L896.3 935.6L898.2 943.6L888.7 946.0zM999.5 929.0L1009.3 929.6L1008.8 937.9L999.1 937.3zM999.1 937.3L1008.8 937.9L1008.3 946.2L998.6 945.6zM1121.6 934.5L1130.8 937.9L1127.9 945.7L1118.8 942.3zM1160.4 926.2L1169.2 930.4L1165.7 937.9L1156.8 933.7zM1169.2 930.4L1178.0 934.5L1174.5 942.0L1165.7 937.9zM893.0 946.5L902.6 944.6L904.2 952.7L894.6 954.6zM902.6 944.6L912.2 942.7L913.8 950.8L904.2 952.7zM894.6 954.6L904.2 952.7L905.8 960.9L896.3 962.8zM912.0 954.2L921.6 952.7L922.9 960.9L913.3 962.4zM1017.3 943.5L1027.1 944.4L1026.2 952.7L1016.5 951.7zM1027.1 944.4L1036.8 945.4L1035.9 953.7L1026.2 952.7zM1016.5 951.7L1026.2 952.7L1025.4 961.0L1015.7 960.0zM1026.2 952.7L1035.9 953.7L1035.1 962.0L1025.4 961.0zM1070.9 942.4L1080.4 944.6L1078.5 952.7L1069.0 950.5zM1080.4 944.6L1089.9 946.8L1088.0 954.9L1078.5 952.7zM1069.0 950.5L1078.5 952.7L1076.6 960.8L1067.1 958.6zM1174.4 948.2L1183.1 952.7L1179.3 960.1L1170.6 955.6zM1183.1 952.7L1191.7 957.2L1187.9 964.6L1179.3 960.1zM1192.1 947.8L1200.5 952.7L1196.4 959.9L1187.9 955.0zM894.6 969.4L904.2 967.5L905.8 975.7L896.3 977.6zM904.2 967.5L913.8 965.6L915.4 973.8L905.8 975.7zM920.4 959.3L930.0 957.8L931.3 966.0L921.6 967.5zM912.0 969.0L921.6 967.5L922.9 975.8L913.3 977.2zM1148.2 967.5L1157.2 971.3L1154.0 979.0L1145.0 975.2zM1196.2 955.5L1204.7 960.4L1200.5 967.5L1192.1 962.7zM1192.1 962.7L1200.5 967.5L1196.4 974.7L1187.9 969.9zM1222.4 960.5L1230.6 965.7L1226.2 972.7L1218.0 967.5zM764.8 982.4L773.2 977.4L777.4 984.6L769.0 989.5zM875.3 976.6L884.8 974.3L886.8 982.4L877.3 984.7zM877.3 984.7L886.8 982.4L888.7 990.4L879.3 992.8zM1053.0 972.4L1062.6 974.2L1061.1 982.4L1051.5 980.6zM752.1 995.0L760.5 990.1L764.8 997.2L756.4 1002.2zM760.5 990.1L768.9 985.1L773.2 992.2L764.8 997.2zM756.4 1002.2L764.8 997.2L769.0 1004.4L760.6 1009.3zM764.8 997.2L773.2 992.2L777.4 999.4L769.0 1004.4zM782.2 997.2L790.8 992.6L794.7 999.9L786.1 1004.5zM877.3 999.5L886.8 997.2L888.7 1005.3L879.3 1007.6zM946.8 997.9L956.5 997.2L957.1 1005.5L947.3 1006.2zM1043.7 997.2L1053.3 998.6L1052.1 1006.8L1042.5 1005.4zM1151.4 989.5L1160.4 993.3L1157.2 1001.0L1148.2 997.2zM991.4 1012.0L1001.1 1012.2L1001.0 1020.5L991.2 1020.3zM999.5 1003.2L1009.3 1003.8L1008.8 1012.0L999.1 1011.5z" fill="#000336"/><path d="M764.8 774.7L773.2 769.7L777.4 776.9L769.0 781.9zM778.3 767.4L786.9 762.8L790.8 770.1L782.2 774.7zM813.8 767.1L822.7 763.2L826.0 770.8L817.1 774.7zM920.4 766.5L930.0 765.0L931.3 773.2L921.6 774.7zM1017.3 765.5L1027.1 766.5L1026.2 774.7L1016.5 773.7zM1027.1 766.5L1036.8 767.4L1035.9 775.7L1026.2 774.7zM1026.2 774.7L1035.9 775.7L1035.1 784.0L1025.4 783.0zM1053.0 764.8L1062.6 766.6L1061.1 774.7L1051.5 772.9zM1061.1 774.7L1070.7 776.5L1069.2 784.7L1059.6 782.9zM1124.5 763.5L1133.7 766.9L1130.8 774.7L1121.6 771.3zM1121.6 771.3L1130.8 774.7L1127.9 782.5L1118.8 779.1zM787.2 786.3L796.0 782.1L799.6 789.5L790.8 793.8zM920.4 781.3L930.0 779.8L931.3 788.1L921.6 789.5zM929.4 790.6L939.1 789.5L940.0 797.8L930.3 798.9zM1026.2 789.5L1035.9 790.5L1035.1 798.8L1025.4 797.8zM1088.7 793.8L1098.2 796.4L1095.9 804.4L1086.5 801.8zM1098.2 796.4L1107.6 799.0L1105.4 807.0L1095.9 804.4zM921.6 819.2L931.3 817.7L932.6 825.9L922.9 827.4zM991.5 810.9L1001.3 811.1L1001.1 819.4L991.4 819.2zM991.4 819.2L1001.1 819.4L1001.0 827.7L991.2 827.5zM999.5 810.4L1009.3 810.9L1008.8 819.2L999.1 818.7zM1009.3 810.9L1019.0 811.5L1018.5 819.8L1008.8 819.2zM999.1 818.7L1008.8 819.2L1008.3 827.5L998.6 826.9zM1070.9 808.9L1080.4 811.1L1078.5 819.2L1069.0 817.0zM1080.4 811.1L1089.9 813.3L1088.0 821.4L1078.5 819.2zM1069.0 817.0L1078.5 819.2L1076.6 827.3L1067.1 825.1zM1078.5 819.2L1088.0 821.4L1086.2 829.5L1076.6 827.3zM796.0 826.6L804.8 822.3L808.4 829.8L799.6 834.0zM799.6 834.0L808.4 829.8L812.0 837.3L803.2 841.5zM822.4 829.8L831.5 826.3L834.5 834.0L825.4 837.5zM825.4 837.5L834.5 834.0L837.5 841.8L828.3 845.3zM857.7 828.8L867.1 826.1L869.4 834.0L860.0 836.8zM869.4 834.0L878.7 831.3L881.0 839.3L871.7 842.0zM991.4 834.0L1001.1 834.2L1001.0 842.5L991.2 842.4zM725.5 841.8L733.8 836.7L738.2 843.7L729.9 848.9zM787.2 845.6L796.0 841.4L799.6 848.9L790.8 853.1zM796.0 841.4L804.8 837.2L808.4 844.6L799.6 848.9zM799.6 848.9L808.4 844.6L812.0 852.1L803.2 856.4zM938.2 840.6L947.9 839.5L948.8 847.8L939.1 848.9zM929.4 850.0L939.1 848.9L940.0 857.1L930.3 858.2zM939.1 848.9L948.8 847.8L949.7 856.1L940.0 857.1zM999.5 840.0L1009.3 840.6L1008.8 848.9L999.1 848.3zM1009.3 840.6L1019.0 841.2L1018.5 849.4L1008.8 848.9zM1008.8 848.9L1018.5 849.4L1018.1 857.7L1008.3 857.2zM1017.3 839.6L1027.1 840.6L1026.2 848.9L1016.5 847.9zM1027.1 840.6L1036.8 841.6L1035.9 849.9L1026.2 848.9zM1016.5 847.9L1026.2 848.9L1025.4 857.1L1015.7 856.2zM1026.2 848.9L1035.9 849.9L1035.1 858.1L1025.4 857.1zM1142.4 837.5L1151.4 841.2L1148.2 848.9L1139.2 845.1zM1148.2 848.9L1157.2 852.6L1154.0 860.3L1145.0 856.5zM822.4 859.4L831.5 856.0L834.5 863.7L825.4 867.2zM831.5 856.0L840.6 852.5L843.6 860.2L834.5 863.7zM825.4 867.2L834.5 863.7L837.5 871.5L828.3 875.0zM884.8 855.6L894.3 853.3L896.3 861.4L886.8 863.7zM886.8 863.7L896.3 861.4L898.2 869.5L888.7 871.8zM1044.8 855.5L1054.5 856.9L1053.3 865.1L1043.7 863.7zM1034.0 862.3L1043.7 863.7L1042.5 871.9L1032.8 870.6zM1069.0 861.5L1078.5 863.7L1076.6 871.8L1067.1 869.6zM875.3 872.8L884.8 870.5L886.8 878.5L877.3 880.9zM1035.2 868.9L1044.8 870.3L1043.7 878.5L1034.0 877.2zM1034.0 877.2L1043.7 878.5L1042.5 886.8L1032.8 885.4zM1124.5 867.4L1133.7 870.8L1130.8 878.5L1121.6 875.2zM773.6 898.0L782.2 893.4L786.1 900.7L777.5 905.3zM860.0 896.1L869.4 893.4L871.7 901.4L862.3 904.1zM1115.9 885.5L1125.2 888.5L1122.7 896.4L1113.4 893.4zM840.0 903.4L849.3 900.3L851.9 908.2L842.7 911.3zM842.7 911.3L851.9 908.2L854.6 916.1L845.3 919.2zM886.8 908.2L896.3 905.9L898.2 914.0L888.7 916.3zM991.5 899.9L1001.3 900.1L1001.1 908.4L991.4 908.2zM991.4 908.2L1001.1 908.4L1001.0 916.7L991.2 916.5zM1017.3 899.0L1027.1 899.9L1026.2 908.2L1016.5 907.2zM1062.6 900.0L1072.2 901.8L1070.7 910.0L1061.1 908.2zM1178.3 896.3L1186.9 900.8L1183.1 908.2L1174.4 903.7zM1174.4 903.7L1183.1 908.2L1179.3 915.6L1170.6 911.1zM1183.1 908.2L1191.7 912.7L1187.9 920.1L1179.3 915.6zM804.8 919.3L813.8 915.4L817.1 923.0L808.1 926.9zM884.8 915.0L894.3 912.7L896.3 920.7L886.8 923.0zM886.8 923.0L896.3 920.7L898.2 928.8L888.7 931.1zM991.4 923.0L1001.1 923.2L1001.0 931.5L991.2 931.4zM1017.3 913.8L1027.1 914.8L1026.2 923.0L1016.5 922.1zM1016.5 922.1L1026.2 923.0L1025.4 931.3L1015.7 930.3zM1062.6 914.9L1072.2 916.7L1070.7 924.8L1061.1 923.0zM1130.8 923.0L1140.0 926.4L1137.1 934.2L1127.9 930.8zM1186.9 915.7L1195.6 920.2L1191.7 927.6L1183.1 923.0zM721.6 943.1L729.9 937.9L734.3 944.9L726.0 950.1zM734.7 936.0L742.9 930.8L747.3 937.9L739.1 943.1zM742.9 930.8L751.2 925.7L755.6 932.7L747.3 937.9zM739.1 943.1L747.3 937.9L751.7 944.9L743.5 950.1zM804.8 934.1L813.8 930.3L817.1 937.9L808.1 941.8zM817.1 937.9L826.0 934.0L829.3 941.6L820.4 945.5zM822.4 933.6L831.5 930.1L834.5 937.9L825.4 941.4zM825.4 941.4L834.5 937.9L837.5 945.6L828.3 949.1zM834.5 937.9L843.6 934.4L846.6 942.1L837.5 945.6zM875.3 932.1L884.8 929.8L886.8 937.9L877.3 940.2zM877.3 940.2L886.8 937.9L888.7 946.0L879.3 948.3zM893.0 931.6L902.6 929.7L904.2 937.9L894.6 939.8zM902.6 929.7L912.2 927.8L913.8 936.0L904.2 937.9zM894.6 939.8L904.2 937.9L905.8 946.0L896.3 947.9zM1027.1 929.6L1036.8 930.6L1035.9 938.9L1026.2 937.9zM1026.2 937.9L1035.9 938.9L1035.1 947.1L1025.4 946.1zM1080.4 929.8L1089.9 932.0L1088.0 940.1L1078.5 937.9zM1069.0 935.7L1078.5 937.9L1076.6 946.0L1067.1 943.8zM1078.5 937.9L1088.0 940.1L1086.2 948.2L1076.6 946.0zM1124.5 926.7L1133.7 930.1L1130.8 937.9L1121.6 934.5zM1130.8 937.9L1140.0 941.3L1137.1 949.1L1127.9 945.7zM822.4 948.4L831.5 945.0L834.5 952.7L825.4 956.2zM920.4 944.5L930.0 943.0L931.3 951.2L921.6 952.7zM1139.2 948.9L1148.2 952.7L1145.0 960.4L1136.0 956.6zM1178.3 940.8L1186.9 945.3L1183.1 952.7L1174.4 948.2zM1186.9 945.3L1195.6 949.9L1191.7 957.2L1183.1 952.7zM825.4 971.0L834.5 967.5L837.5 975.3L828.3 978.8zM857.7 962.3L867.1 959.6L869.4 967.5L860.0 970.3zM867.1 959.6L876.4 956.9L878.7 964.8L869.4 967.5zM860.0 970.3L869.4 967.5L871.7 975.5L862.3 978.2zM869.4 967.5L878.7 964.8L881.0 972.8L871.7 975.5zM921.6 967.5L931.3 966.0L932.6 974.3L922.9 975.8zM1027.1 959.3L1036.8 960.3L1035.9 968.5L1026.2 967.5zM1086.5 964.9L1095.9 967.5L1093.7 975.6L1084.3 973.0zM1204.7 960.4L1213.1 965.2L1209.0 972.4L1200.5 967.5zM1200.5 967.5L1209.0 972.4L1204.8 979.6L1196.4 974.7zM1214.1 955.3L1222.4 960.5L1218.0 967.5L1209.7 962.4zM1209.7 962.4L1218.0 967.5L1213.6 974.6L1205.3 969.4zM1218.0 967.5L1226.2 972.7L1221.8 979.8L1213.6 974.6zM769.7 979.7L778.3 975.1L782.2 982.4L773.6 987.0zM778.3 975.1L786.9 970.4L790.8 977.8L782.2 982.4zM769.7 994.5L778.3 989.9L782.2 997.2L773.6 1001.8zM778.3 989.9L786.9 985.3L790.8 992.6L782.2 997.2zM773.6 1001.8L782.2 997.2L786.1 1004.5L777.5 1009.1zM875.3 991.4L884.8 989.1L886.8 997.2L877.3 999.5zM886.8 997.2L896.3 994.9L898.2 1003.0L888.7 1005.3zM946.2 989.6L955.9 988.9L956.5 997.2L946.8 997.9zM956.5 997.2L966.2 996.5L966.8 1004.8L957.1 1005.5zM1044.8 989.0L1054.5 990.4L1053.3 998.6L1043.7 997.2zM1034.0 995.8L1043.7 997.2L1042.5 1005.4L1032.8 1004.0zM1165.7 997.2L1174.5 1001.4L1171.0 1008.9L1162.1 1004.7zM981.7 1003.6L991.5 1003.7L991.4 1012.0L981.6 1011.9zM991.5 1003.7L1001.3 1003.9L1001.1 1012.2L991.4 1012.0zM981.6 1011.9L991.4 1012.0L991.2 1020.3L981.5 1020.2z" fill="#000447"/><path d="M817.1 774.7L826.0 770.8L829.3 778.5L820.4 782.3zM910.7 768.0L920.4 766.5L921.6 774.7L912.0 776.2zM912.0 776.2L921.6 774.7L922.9 782.9L913.3 784.4zM921.6 774.7L931.3 773.2L932.6 781.4L922.9 782.9zM1016.5 773.7L1026.2 774.7L1025.4 783.0L1015.7 782.0zM1062.6 766.6L1072.2 768.3L1070.7 776.5L1061.1 774.7zM1051.5 772.9L1061.1 774.7L1059.6 782.9L1050.0 781.1zM1148.2 774.7L1157.2 778.5L1154.0 786.1L1145.0 782.4zM790.8 793.8L799.6 789.5L803.2 797.0L794.5 801.3zM799.6 789.5L808.4 785.3L812.0 792.8L803.2 797.0zM822.4 785.3L831.5 781.8L834.5 789.5L825.4 793.0zM831.5 781.8L840.6 778.3L843.6 786.1L834.5 789.5zM857.7 784.3L867.1 781.6L869.4 789.5L860.0 792.3zM912.0 791.0L921.6 789.5L922.9 797.8L913.3 799.3zM921.6 789.5L931.3 788.1L932.6 796.3L922.9 797.8zM928.5 782.4L938.2 781.3L939.1 789.5L929.4 790.6zM1027.1 781.3L1036.8 782.3L1035.9 790.5L1026.2 789.5zM1016.5 788.6L1026.2 789.5L1025.4 797.8L1015.7 796.8zM991.4 804.4L1001.1 804.5L1001.0 812.8L991.2 812.7zM1009.3 796.1L1019.0 796.7L1018.5 804.9L1008.8 804.4zM999.1 803.8L1008.8 804.4L1008.3 812.7L998.6 812.1zM1008.8 804.4L1018.5 804.9L1018.1 813.2L1008.3 812.7zM1086.5 801.8L1095.9 804.4L1093.7 812.4L1084.3 809.8zM1095.9 804.4L1105.4 807.0L1103.1 815.0L1093.7 812.4zM773.6 823.8L782.2 819.2L786.1 826.5L777.5 831.1zM782.2 819.2L790.8 814.6L794.7 821.9L786.1 826.5zM804.8 830.3L813.8 826.4L817.1 834.0L808.1 837.9zM813.8 826.4L822.7 822.6L826.0 830.2L817.1 834.0zM808.1 837.9L817.1 834.0L820.4 841.7L811.4 845.5zM867.1 826.1L876.4 823.4L878.7 831.3L869.4 834.0zM981.7 825.6L991.5 825.7L991.4 834.0L981.6 833.9zM1142.4 822.6L1151.4 826.4L1148.2 834.0L1139.2 830.3zM1151.4 826.4L1160.4 830.2L1157.2 837.8L1148.2 834.0zM717.2 847.0L725.5 841.8L729.9 848.9L721.6 854.1zM721.6 854.1L729.9 848.9L734.3 855.9L726.0 861.1zM729.9 848.9L738.2 843.7L742.6 850.8L734.3 855.9zM928.5 841.7L938.2 840.6L939.1 848.9L929.4 850.0zM999.1 848.3L1008.8 848.9L1008.3 857.2L998.6 856.6zM1069.0 846.7L1078.5 848.9L1076.6 857.0L1067.1 854.8zM1078.5 848.9L1088.0 851.1L1086.2 859.2L1076.6 857.0zM1151.4 841.2L1160.4 845.0L1157.2 852.6L1148.2 848.9zM946.2 856.1L955.9 855.4L956.5 863.7L946.8 864.4zM1043.7 863.7L1053.3 865.1L1052.1 873.3L1042.5 871.9zM813.8 870.9L822.7 867.1L826.0 874.7L817.1 878.5zM808.1 882.4L817.1 878.5L820.4 886.2L811.4 890.0zM817.1 878.5L826.0 874.7L829.3 882.3L820.4 886.2zM1017.3 869.3L1027.1 870.3L1026.2 878.5L1016.5 877.6zM1027.1 870.3L1036.8 871.3L1035.9 879.5L1026.2 878.5zM1016.5 877.6L1026.2 878.5L1025.4 886.8L1015.7 885.8zM1026.2 878.5L1035.9 879.5L1035.1 887.8L1025.4 886.8zM1043.7 878.5L1053.3 879.9L1052.1 888.2L1042.5 886.8zM1080.4 870.5L1089.9 872.7L1088.0 880.7L1078.5 878.5zM1115.9 870.6L1125.2 873.6L1122.7 881.5L1113.4 878.5zM782.2 893.4L790.8 888.8L794.7 896.1L786.1 900.7zM928.5 886.2L938.2 885.1L939.1 893.4L929.4 894.5zM991.5 885.1L1001.3 885.2L1001.1 893.5L991.4 893.4zM991.4 893.4L1001.1 893.5L1001.0 901.8L991.2 901.7zM1017.3 884.1L1027.1 885.1L1026.2 893.4L1016.5 892.4zM1027.1 885.1L1036.8 886.1L1035.9 894.4L1026.2 893.4zM1104.1 890.4L1113.4 893.4L1110.8 901.3L1101.5 898.3zM849.3 900.3L858.5 897.2L861.2 905.1L851.9 908.2zM851.9 908.2L861.2 905.1L863.8 913.0L854.6 916.1zM875.3 902.4L884.8 900.1L886.8 908.2L877.3 910.5zM884.8 900.1L894.3 897.8L896.3 905.9L886.8 908.2zM877.3 910.5L886.8 908.2L888.7 916.3L879.3 918.6zM894.6 910.1L904.2 908.2L905.8 916.4L896.3 918.3zM981.7 899.8L991.5 899.9L991.4 908.2L981.6 908.1zM981.6 908.1L991.4 908.2L991.2 916.5L981.5 916.4zM813.8 915.4L822.7 911.6L826.0 919.2L817.1 923.0zM808.1 926.9L817.1 923.0L820.4 930.7L811.4 934.5zM831.5 915.3L840.6 911.8L843.6 919.6L834.5 923.0zM825.4 926.5L834.5 923.0L837.5 930.8L828.3 934.3zM834.5 923.0L843.6 919.6L846.6 927.3L837.5 930.8zM875.3 917.3L884.8 915.0L886.8 923.0L877.3 925.4zM877.3 925.4L886.8 923.0L888.7 931.1L879.3 933.4zM1026.2 923.0L1035.9 924.0L1035.1 932.3L1025.4 931.3zM1053.0 913.1L1062.6 914.9L1061.1 923.0L1051.5 921.3zM1061.1 923.0L1070.7 924.8L1069.2 933.0L1059.6 931.2zM1069.0 920.8L1078.5 923.0L1076.6 931.1L1067.1 928.9zM1095.9 923.0L1105.4 925.6L1103.1 933.7L1093.7 931.1zM1156.8 918.9L1165.7 923.0L1162.1 930.6L1153.3 926.4zM1183.1 923.0L1191.7 927.6L1187.9 934.9L1179.3 930.4zM729.9 937.9L738.2 932.7L742.6 939.8L734.3 944.9zM813.8 930.3L822.7 926.4L826.0 934.0L817.1 937.9zM831.5 930.1L840.6 926.6L843.6 934.4L834.5 937.9zM904.2 937.9L913.8 936.0L915.4 944.1L905.8 946.0zM1070.9 927.6L1080.4 929.8L1078.5 937.9L1069.0 935.7zM1133.7 930.1L1142.8 933.5L1140.0 941.3L1130.8 937.9zM825.4 956.2L834.5 952.7L837.5 960.5L828.3 964.0zM884.8 944.6L894.3 942.3L896.3 950.4L886.8 952.7zM886.8 952.7L896.3 950.4L898.2 958.5L888.7 960.8zM910.7 946.0L920.4 944.5L921.6 952.7L912.0 954.2zM921.6 952.7L931.3 951.2L932.6 959.4L922.9 960.9zM1009.3 944.4L1019.0 945.0L1018.5 953.3L1008.8 952.7zM1142.4 941.3L1151.4 945.1L1148.2 952.7L1139.2 948.9zM1151.4 945.1L1160.4 948.8L1157.2 956.5L1148.2 952.7zM1148.2 952.7L1157.2 956.5L1154.0 964.1L1145.0 960.4zM822.4 963.3L831.5 959.8L834.5 967.5L825.4 971.0zM884.8 959.5L894.3 957.2L896.3 965.2L886.8 967.5zM877.3 969.9L886.8 967.5L888.7 975.6L879.3 977.9zM886.8 967.5L896.3 965.2L898.2 973.3L888.7 975.6zM1017.3 958.3L1027.1 959.3L1026.2 967.5L1016.5 966.6zM1026.2 967.5L1035.9 968.5L1035.1 976.8L1025.4 975.8zM1061.1 967.5L1070.7 969.3L1069.2 977.5L1059.6 975.7zM1098.2 959.5L1107.6 962.1L1105.4 970.1L1095.9 967.5zM1095.9 967.5L1105.4 970.1L1103.1 978.2L1093.7 975.6zM773.6 987.0L782.2 982.4L786.1 989.7L777.5 994.3zM782.2 982.4L790.8 977.8L794.7 985.1L786.1 989.7zM886.8 982.4L896.3 980.1L898.2 988.1L888.7 990.4zM946.8 983.1L956.5 982.4L957.1 990.7L947.3 991.3zM999.1 981.8L1008.8 982.4L1008.3 990.7L998.6 990.1zM1008.8 982.4L1018.5 982.9L1018.1 991.2L1008.3 990.7zM1169.2 974.9L1178.0 979.0L1174.5 986.5L1165.7 982.4zM1214.1 970.2L1222.4 975.3L1218.0 982.4L1209.7 977.2zM1209.7 977.2L1218.0 982.4L1213.6 989.4L1205.3 984.3zM1218.0 982.4L1226.2 987.6L1221.8 994.6L1213.6 989.4zM1239.8 975.3L1248.1 980.5L1243.7 987.6L1235.4 982.4zM884.8 989.1L894.3 986.8L896.3 994.9L886.8 997.2zM955.9 988.9L965.7 988.3L966.2 996.5L956.5 997.2zM1035.2 987.6L1044.8 989.0L1043.7 997.2L1034.0 995.8zM1169.2 989.7L1178.0 993.8L1174.5 1001.4L1165.7 997.2zM1156.8 993.1L1165.7 997.2L1162.1 1004.7L1153.3 1000.6z" fill="#000761"/><path d="M857.7 769.4L867.1 766.7L869.4 774.7L860.0 777.4zM867.1 766.7L876.4 764.0L878.7 772.0L869.4 774.7zM860.0 777.4L869.4 774.7L871.7 782.7L862.3 785.4zM869.4 774.7L878.7 772.0L881.0 780.0L871.7 782.7zM928.5 767.5L938.2 766.5L939.1 774.7L929.4 775.8zM1133.7 766.9L1142.8 770.3L1140.0 778.1L1130.8 774.7zM1130.8 774.7L1140.0 778.1L1137.1 785.9L1127.9 782.5zM1151.4 767.1L1160.4 770.8L1157.2 778.5L1148.2 774.7zM796.0 782.1L804.8 777.8L808.4 785.3L799.6 789.5zM867.1 781.6L876.4 778.9L878.7 786.8L869.4 789.5zM860.0 792.3L869.4 789.5L871.7 797.5L862.3 800.2zM910.7 782.8L920.4 781.3L921.6 789.5L912.0 791.0zM938.2 781.3L947.9 780.2L948.8 788.5L939.1 789.5zM939.1 789.5L948.8 788.5L949.7 796.7L940.0 797.8zM1017.3 780.3L1027.1 781.3L1026.2 789.5L1016.5 788.6zM769.7 801.7L778.3 797.1L782.2 804.4L773.6 809.0zM920.4 796.2L930.0 794.7L931.3 802.9L921.6 804.4zM921.6 804.4L931.3 802.9L932.6 811.1L922.9 812.6zM928.5 797.2L938.2 796.1L939.1 804.4L929.4 805.5zM938.2 796.1L947.9 795.0L948.8 803.3L939.1 804.4zM929.4 805.5L939.1 804.4L940.0 812.6L930.3 813.7zM769.7 816.5L778.3 811.9L782.2 819.2L773.6 823.8zM778.3 811.9L786.9 807.3L790.8 814.6L782.2 819.2zM860.0 821.9L869.4 819.2L871.7 827.2L862.3 829.9zM902.6 811.1L912.2 809.2L913.8 817.3L904.2 819.2zM981.7 810.8L991.5 810.9L991.4 819.2L981.6 819.1zM981.6 819.1L991.4 819.2L991.2 827.5L981.5 827.4zM817.1 834.0L826.0 830.2L829.3 837.8L820.4 841.7zM929.4 835.1L939.1 834.0L940.0 842.3L930.3 843.4zM939.1 834.0L948.8 833.0L949.7 841.2L940.0 842.3zM981.6 833.9L991.4 834.0L991.2 842.4L981.5 842.2zM1139.2 830.3L1148.2 834.0L1145.0 841.7L1136.0 837.9zM804.8 845.1L813.8 841.3L817.1 848.9L808.1 852.8zM813.8 841.3L822.7 837.4L826.0 845.0L817.1 848.9zM808.1 852.8L817.1 848.9L820.4 856.5L811.4 860.4zM817.1 848.9L826.0 845.0L829.3 852.6L820.4 856.5zM1070.9 838.6L1080.4 840.8L1078.5 848.9L1069.0 846.7zM1080.4 840.8L1089.9 843.0L1088.0 851.1L1078.5 848.9zM1156.8 844.7L1165.7 848.9L1162.1 856.4L1153.3 852.3zM804.8 860.0L813.8 856.1L817.1 863.7L808.1 867.6zM946.8 864.4L956.5 863.7L957.1 872.0L947.3 872.7zM769.7 875.8L778.3 871.2L782.2 878.5L773.6 883.2zM796.0 871.1L804.8 866.8L808.4 874.3L799.6 878.5zM804.8 874.8L813.8 870.9L817.1 878.5L808.1 882.4zM849.3 870.7L858.5 867.6L861.2 875.4L851.9 878.5zM877.3 880.9L886.8 878.5L888.7 886.6L879.3 888.9zM946.2 870.9L955.9 870.3L956.5 878.5L946.8 879.2zM1044.8 870.3L1054.5 871.7L1053.3 879.9L1043.7 878.5zM1106.6 867.6L1115.9 870.6L1113.4 878.5L1104.1 875.6zM1104.1 875.6L1113.4 878.5L1110.8 886.5L1101.5 883.5zM1113.4 878.5L1122.7 881.5L1120.1 889.4L1110.8 886.5zM769.7 890.7L778.3 886.1L782.2 893.4L773.6 898.0zM778.3 886.1L786.9 881.4L790.8 888.8L782.2 893.4zM790.8 897.6L799.6 893.4L803.2 900.9L794.5 905.1zM799.6 893.4L808.4 889.1L812.0 896.6L803.2 900.9zM1016.5 892.4L1026.2 893.4L1025.4 901.6L1015.7 900.7zM1026.2 893.4L1035.9 894.4L1035.1 902.6L1025.4 901.6zM1106.6 882.5L1115.9 885.5L1113.4 893.4L1104.1 890.4zM717.2 906.3L725.5 901.2L729.9 908.2L721.6 913.4zM734.7 906.3L742.9 901.2L747.3 908.2L739.1 913.4zM742.9 901.2L751.2 896.0L755.6 903.0L747.3 908.2zM893.0 902.0L902.6 900.1L904.2 908.2L894.6 910.1zM904.2 908.2L913.8 906.3L915.4 914.5L905.8 916.4zM912.0 909.7L921.6 908.2L922.9 916.4L913.3 917.9zM921.6 908.2L931.3 906.7L932.6 914.9L922.9 916.4zM928.5 901.0L938.2 900.0L939.1 908.2L929.4 909.3zM929.4 909.3L939.1 908.2L940.0 916.5L930.3 917.6zM1160.4 896.5L1169.2 900.7L1165.7 908.2L1156.8 904.1zM1169.2 900.7L1178.0 904.8L1174.5 912.4L1165.7 908.2zM1156.8 904.1L1165.7 908.2L1162.1 915.7L1153.3 911.6zM747.3 923.0L755.6 917.9L760.0 924.9L751.7 930.1zM817.1 923.0L826.0 919.2L829.3 926.8L820.4 930.7zM822.4 918.8L831.5 915.3L834.5 923.0L825.4 926.5zM928.5 915.9L938.2 914.8L939.1 923.0L929.4 924.1zM929.4 924.1L939.1 923.0L940.0 931.3L930.3 932.4zM981.7 914.6L991.5 914.7L991.4 923.0L981.6 922.9zM981.6 922.9L991.4 923.0L991.2 931.4L981.5 931.2zM1027.1 914.8L1036.8 915.8L1035.9 924.0L1026.2 923.0zM1051.5 921.3L1061.1 923.0L1059.6 931.2L1050.0 929.4zM1078.5 923.0L1088.0 925.2L1086.2 933.3L1076.6 931.1zM1088.7 912.4L1098.2 915.0L1095.9 923.0L1086.5 920.4zM1098.2 915.0L1107.6 917.6L1105.4 925.6L1095.9 923.0zM1160.4 911.4L1169.2 915.5L1165.7 923.0L1156.8 918.9zM1169.2 915.5L1178.0 919.7L1174.5 927.2L1165.7 923.0zM1165.7 923.0L1174.5 927.2L1171.0 934.7L1162.1 930.6zM1178.3 911.2L1186.9 915.7L1183.1 923.0L1174.4 918.5zM1174.4 918.5L1183.1 923.0L1179.3 930.4L1170.6 925.9zM717.2 936.0L725.5 930.8L729.9 937.9L721.6 943.1zM1139.2 934.1L1148.2 937.9L1145.0 945.5L1136.0 941.8zM1186.9 930.5L1195.6 935.0L1191.7 942.4L1183.1 937.9zM1183.1 937.9L1191.7 942.4L1187.9 949.8L1179.3 945.2zM831.5 945.0L840.6 941.5L843.6 949.2L834.5 952.7zM834.5 952.7L843.6 949.2L846.6 957.0L837.5 960.5zM867.1 944.7L876.4 942.0L878.7 950.0L869.4 952.7zM869.4 952.7L878.7 950.0L881.0 958.0L871.7 960.7zM875.3 946.9L884.8 944.6L886.8 952.7L877.3 955.0zM877.3 955.0L886.8 952.7L888.7 960.8L879.3 963.1zM999.5 943.9L1009.3 944.4L1008.8 952.7L999.1 952.1zM1008.8 952.7L1018.5 953.3L1018.1 961.6L1008.3 961.0zM1088.7 942.1L1098.2 944.7L1095.9 952.7L1086.5 950.1zM831.5 959.8L840.6 956.3L843.6 964.1L834.5 967.5zM834.5 967.5L843.6 964.1L846.6 971.8L837.5 975.3zM875.3 961.8L884.8 959.5L886.8 967.5L877.3 969.9zM929.4 968.6L939.1 967.5L940.0 975.8L930.3 976.9zM946.2 959.9L955.9 959.3L956.5 967.5L946.8 968.2zM956.5 967.5L966.2 966.9L966.8 975.2L957.1 975.8zM1016.5 966.6L1026.2 967.5L1025.4 975.8L1015.7 974.8zM1062.6 959.4L1072.2 961.2L1070.7 969.3L1061.1 967.5zM1051.5 965.8L1061.1 967.5L1059.6 975.7L1050.0 973.9zM1088.7 956.9L1098.2 959.5L1095.9 967.5L1086.5 964.9zM884.8 974.3L894.3 972.0L896.3 980.1L886.8 982.4zM946.2 974.8L955.9 974.1L956.5 982.4L946.8 983.1zM956.5 982.4L966.2 981.7L966.8 990.0L957.1 990.7zM999.5 973.5L1009.3 974.1L1008.8 982.4L999.1 981.8zM1009.3 974.1L1019.0 974.6L1018.5 982.9L1008.8 982.4zM1139.2 978.6L1148.2 982.4L1145.0 990.0L1136.0 986.3zM1160.4 970.7L1169.2 974.9L1165.7 982.4L1156.8 978.2zM1156.8 978.2L1165.7 982.4L1162.1 989.9L1153.3 985.8zM1165.7 982.4L1174.5 986.5L1171.0 994.0L1162.1 989.9zM1222.4 975.3L1230.6 980.5L1226.2 987.6L1218.0 982.4zM1227.1 977.2L1235.4 982.4L1231.0 989.4L1222.7 984.3zM1235.4 982.4L1243.7 987.6L1239.3 994.6L1231.0 989.4zM999.5 988.4L1009.3 988.9L1008.8 997.2L999.1 996.6zM1009.3 988.9L1019.0 989.5L1018.5 997.8L1008.8 997.2zM999.1 996.6L1008.8 997.2L1008.3 1005.5L998.6 1004.9zM1008.8 997.2L1018.5 997.8L1018.1 1006.1L1008.3 1005.5zM1160.4 985.5L1169.2 989.7L1165.7 997.2L1156.8 993.1zM964.2 1012.3L973.9 1012.0L974.2 1020.3L964.4 1020.6z" fill="#000b7f"/><path d="M822.4 770.4L831.5 767.0L834.5 774.7L825.4 778.2zM840.0 769.9L849.3 766.8L851.9 774.7L842.7 777.8zM849.3 766.8L858.5 763.7L861.2 771.6L851.9 774.7zM851.9 774.7L861.2 771.6L863.8 779.5L854.6 782.6zM929.4 775.8L939.1 774.7L940.0 783.0L930.3 784.1zM981.7 766.3L991.5 766.4L991.4 774.7L981.6 774.6zM1142.4 763.3L1151.4 767.1L1148.2 774.7L1139.2 770.9zM778.3 797.1L786.9 792.4L790.8 799.8L782.2 804.4zM773.6 809.0L782.2 804.4L786.1 811.7L777.5 816.3zM782.2 804.4L790.8 799.8L794.7 807.1L786.1 811.7zM857.7 799.1L867.1 796.4L869.4 804.4L860.0 807.1zM860.0 807.1L869.4 804.4L871.7 812.4L862.3 815.1zM910.7 797.7L920.4 796.2L921.6 804.4L912.0 805.9zM912.0 805.9L921.6 804.4L922.9 812.6L913.3 814.1zM939.1 804.4L948.8 803.3L949.7 811.6L940.0 812.6zM981.7 795.9L991.5 796.1L991.4 804.4L981.6 804.2zM991.5 796.1L1001.3 796.2L1001.1 804.5L991.4 804.4zM981.6 804.2L991.4 804.4L991.2 812.7L981.5 812.5zM999.5 795.5L1009.3 796.1L1008.8 804.4L999.1 803.8zM869.4 819.2L878.7 816.5L881.0 824.5L871.7 827.2zM886.8 819.2L896.3 816.9L898.2 825.0L888.7 827.3zM893.0 813.0L902.6 811.1L904.2 819.2L894.6 821.1zM894.6 821.1L904.2 819.2L905.8 827.4L896.3 829.3zM904.2 819.2L913.8 817.3L915.4 825.5L905.8 827.4zM928.5 812.0L938.2 811.0L939.1 819.2L929.4 820.3zM929.4 820.3L939.1 819.2L940.0 827.5L930.3 828.6zM875.3 828.3L884.8 826.0L886.8 834.0L877.3 836.4zM877.3 836.4L886.8 834.0L888.7 842.1L879.3 844.4zM928.5 826.9L938.2 825.8L939.1 834.0L929.4 835.1zM938.2 825.8L947.9 824.7L948.8 833.0L939.1 834.0zM1148.2 834.0L1157.2 837.8L1154.0 845.5L1145.0 841.7zM1160.4 822.4L1169.2 826.5L1165.7 834.0L1156.8 829.9zM1169.2 826.5L1178.0 830.7L1174.5 838.2L1165.7 834.0zM1165.7 834.0L1174.5 838.2L1171.0 845.7L1162.1 841.6zM893.0 842.6L902.6 840.7L904.2 848.9L894.6 850.8zM902.6 840.7L912.2 838.8L913.8 847.0L904.2 848.9zM894.6 850.8L904.2 848.9L905.8 857.0L896.3 858.9zM904.2 848.9L913.8 847.0L915.4 855.1L905.8 857.0zM946.8 849.6L956.5 848.9L957.1 857.2L947.3 857.8zM1160.4 837.2L1169.2 841.4L1165.7 848.9L1156.8 844.7zM1169.2 841.4L1178.0 845.5L1174.5 853.0L1165.7 848.9zM1165.7 848.9L1174.5 853.0L1171.0 860.5L1162.1 856.4zM808.1 867.6L817.1 863.7L820.4 871.3L811.4 875.2zM817.1 863.7L826.0 859.8L829.3 867.5L820.4 871.3zM955.9 855.4L965.7 854.8L966.2 863.0L956.5 863.7zM956.5 863.7L966.2 863.0L966.8 871.3L957.1 872.0zM1062.6 855.5L1072.2 857.3L1070.7 865.5L1061.1 863.7zM778.3 871.2L786.9 866.6L790.8 873.9L782.2 878.5zM773.6 883.2L782.2 878.5L786.1 885.9L777.5 890.5zM782.2 878.5L790.8 873.9L794.7 881.3L786.1 885.9zM799.6 878.5L808.4 874.3L812.0 881.8L803.2 886.0zM840.0 873.8L849.3 870.7L851.9 878.5L842.7 881.6zM842.7 881.6L851.9 878.5L854.6 886.4L845.3 889.5zM884.8 870.5L894.3 868.2L896.3 876.2L886.8 878.5zM886.8 878.5L896.3 876.2L898.2 884.3L888.7 886.6zM920.4 870.3L930.0 868.8L931.3 877.1L921.6 878.5zM1070.9 868.3L1080.4 870.5L1078.5 878.5L1069.0 876.4zM1078.5 878.5L1088.0 880.7L1086.2 888.8L1076.6 886.6zM1088.7 867.9L1098.2 870.5L1095.9 878.5L1086.5 875.9zM1098.2 870.5L1107.6 873.1L1105.4 881.1L1095.9 878.5zM796.0 885.9L804.8 881.7L808.4 889.1L799.6 893.4zM840.0 888.6L849.3 885.5L851.9 893.4L842.7 896.5zM875.3 887.6L884.8 885.3L886.8 893.4L877.3 895.7zM877.3 895.7L886.8 893.4L888.7 901.5L879.3 903.8zM920.4 885.2L930.0 883.7L931.3 891.9L921.6 893.4zM912.0 894.9L921.6 893.4L922.9 901.6L913.3 903.1zM921.6 893.4L931.3 891.9L932.6 900.1L922.9 901.6zM938.2 885.1L947.9 884.0L948.8 892.3L939.1 893.4zM929.4 894.5L939.1 893.4L940.0 901.6L930.3 902.7zM939.1 893.4L948.8 892.3L949.7 900.5L940.0 901.6zM981.7 884.9L991.5 885.1L991.4 893.4L981.6 893.2zM981.6 893.2L991.4 893.4L991.2 901.7L981.5 901.5zM725.5 901.2L733.8 896.0L738.2 903.0L729.9 908.2zM739.1 913.4L747.3 908.2L751.7 915.3L743.5 920.4zM747.3 908.2L755.6 903.0L760.0 910.1L751.7 915.3zM857.7 902.9L867.1 900.2L869.4 908.2L860.0 910.9zM867.1 900.2L876.4 897.5L878.7 905.5L869.4 908.2zM902.6 900.1L912.2 898.2L913.8 906.3L904.2 908.2zM910.7 901.5L920.4 900.0L921.6 908.2L912.0 909.7zM920.4 900.0L930.0 898.5L931.3 906.7L921.6 908.2zM938.2 900.0L947.9 898.9L948.8 907.1L939.1 908.2zM939.1 908.2L948.8 907.1L949.7 915.4L940.0 916.5zM1165.7 908.2L1174.5 912.4L1171.0 919.9L1162.1 915.7zM742.9 916.0L751.2 910.8L755.6 917.9L747.3 923.0zM840.0 918.3L849.3 915.2L851.9 923.0L842.7 926.1zM912.0 924.5L921.6 923.0L922.9 931.3L913.3 932.8zM921.6 923.0L931.3 921.6L932.6 929.8L922.9 931.3zM938.2 914.8L947.9 913.7L948.8 922.0L939.1 923.0zM939.1 923.0L948.8 922.0L949.7 930.2L940.0 931.3zM1070.9 912.8L1080.4 915.0L1078.5 923.0L1069.0 920.8zM1080.4 915.0L1089.9 917.2L1088.0 925.2L1078.5 923.0zM1086.5 920.4L1095.9 923.0L1093.7 931.1L1084.3 928.5zM725.5 930.8L733.8 925.7L738.2 932.7L729.9 937.9zM910.7 931.2L920.4 929.7L921.6 937.9L912.0 939.4zM920.4 929.7L930.0 928.2L931.3 936.4L921.6 937.9zM912.0 939.4L921.6 937.9L922.9 946.1L913.3 947.6zM1088.7 927.3L1098.2 929.9L1095.9 937.9L1086.5 935.3zM1098.2 929.9L1107.6 932.5L1105.4 940.5L1095.9 937.9zM1086.5 935.3L1095.9 937.9L1093.7 945.9L1084.3 943.3zM1095.9 937.9L1105.4 940.5L1103.1 948.5L1093.7 945.9zM1151.4 930.2L1160.4 934.0L1157.2 941.6L1148.2 937.9zM1148.2 937.9L1157.2 941.6L1154.0 949.3L1145.0 945.5zM1178.3 926.0L1186.9 930.5L1183.1 937.9L1174.4 933.4zM1174.4 933.4L1183.1 937.9L1179.3 945.2L1170.6 940.7zM857.7 947.4L867.1 944.7L869.4 952.7L860.0 955.4zM860.0 955.4L869.4 952.7L871.7 960.7L862.3 963.4zM928.5 945.5L938.2 944.5L939.1 952.7L929.4 953.8zM999.1 952.1L1008.8 952.7L1008.3 961.0L998.6 960.4zM1095.9 952.7L1105.4 955.3L1103.1 963.3L1093.7 960.7zM849.3 959.7L858.5 956.6L861.2 964.4L851.9 967.5zM842.7 970.6L851.9 967.5L854.6 975.4L845.3 978.5zM851.9 967.5L861.2 964.4L863.8 972.3L854.6 975.4zM928.5 960.4L938.2 959.3L939.1 967.5L929.4 968.6zM939.1 967.5L948.8 966.5L949.7 974.7L940.0 975.8zM946.8 968.2L956.5 967.5L957.1 975.8L947.3 976.5zM999.1 967.0L1008.8 967.5L1008.3 975.8L998.6 975.3zM1053.0 957.6L1062.6 959.4L1061.1 967.5L1051.5 965.8zM955.9 974.1L965.7 973.4L966.2 981.7L956.5 982.4zM991.4 982.4L1001.1 982.5L1001.0 990.8L991.2 990.7zM1142.4 970.9L1151.4 974.7L1148.2 982.4L1139.2 978.6zM1151.4 974.7L1160.4 978.5L1157.2 986.1L1148.2 982.4zM1148.2 982.4L1157.2 986.1L1154.0 993.8L1145.0 990.0zM1231.5 970.2L1239.8 975.3L1235.4 982.4L1227.1 977.2zM921.6 997.2L931.3 995.7L932.6 1003.9L922.9 1005.4zM991.5 988.9L1001.3 989.1L1001.1 997.4L991.4 997.2zM991.4 997.2L1001.1 997.4L1001.0 1005.7L991.2 1005.5zM1017.3 988.0L1027.1 988.9L1026.2 997.2L1016.5 996.2zM1027.1 988.9L1036.8 989.9L1035.9 998.2L1026.2 997.2zM1016.5 996.2L1026.2 997.2L1025.4 1005.5L1015.7 1004.5zM1026.2 997.2L1035.9 998.2L1035.1 1006.5L1025.4 1005.5zM964.0 1004.0L973.7 1003.7L973.9 1012.0L964.2 1012.3zM973.9 1012.0L983.7 1011.8L983.9 1020.1L974.2 1020.3z" fill="#0026a0"/><path d="M825.4 778.2L834.5 774.7L837.5 782.5L828.3 786.0zM842.7 777.8L851.9 774.7L854.6 782.6L845.3 785.7zM991.5 766.4L1001.3 766.6L1001.1 774.9L991.4 774.7zM981.6 774.6L991.4 774.7L991.2 783.0L981.5 782.9zM991.4 774.7L1001.1 774.9L1001.0 783.2L991.2 783.0zM999.5 765.9L1009.3 766.4L1008.8 774.7L999.1 774.2zM1009.3 766.4L1019.0 767.0L1018.5 775.3L1008.8 774.7zM1139.2 770.9L1148.2 774.7L1145.0 782.4L1136.0 778.6zM869.4 789.5L878.7 786.8L881.0 794.8L871.7 797.5zM991.5 781.2L1001.3 781.4L1001.1 789.7L991.4 789.5zM991.4 789.5L1001.1 789.7L1001.0 798.0L991.2 797.9zM857.7 813.9L867.1 811.2L869.4 819.2L860.0 821.9zM867.1 811.2L876.4 808.5L878.7 816.5L869.4 819.2zM877.3 821.5L886.8 819.2L888.7 827.3L879.3 829.6zM938.2 811.0L947.9 809.9L948.8 818.1L939.1 819.2zM886.8 834.0L896.3 831.7L898.2 839.8L888.7 842.1zM920.4 825.8L930.0 824.3L931.3 832.6L921.6 834.0zM1156.8 829.9L1165.7 834.0L1162.1 841.6L1153.3 837.4zM813.8 856.1L822.7 852.2L826.0 859.8L817.1 863.7zM1053.0 853.8L1062.6 855.5L1061.1 863.7L1051.5 861.9zM787.2 875.3L796.0 871.1L799.6 878.5L790.8 882.8zM790.8 882.8L799.6 878.5L803.2 886.0L794.5 890.3zM851.9 878.5L861.2 875.4L863.8 883.3L854.6 886.4zM910.7 871.8L920.4 870.3L921.6 878.5L912.0 880.0zM921.6 878.5L931.3 877.1L932.6 885.3L922.9 886.8zM955.9 870.3L965.7 869.6L966.2 877.9L956.5 878.5zM946.8 879.2L956.5 878.5L957.1 886.8L947.3 887.5zM991.4 878.5L1001.1 878.7L1001.0 887.0L991.2 886.9zM1069.0 876.4L1078.5 878.5L1076.6 886.6L1067.1 884.4zM787.2 890.1L796.0 885.9L799.6 893.4L790.8 897.6zM849.3 885.5L858.5 882.4L861.2 890.3L851.9 893.4zM842.7 896.5L851.9 893.4L854.6 901.3L845.3 904.4zM851.9 893.4L861.2 890.3L863.8 898.2L854.6 901.3zM886.8 893.4L896.3 891.1L898.2 899.1L888.7 901.5zM910.7 886.7L920.4 885.2L921.6 893.4L912.0 894.9zM1051.5 891.6L1061.1 893.4L1059.6 901.5L1050.0 899.8zM721.6 913.4L729.9 908.2L734.3 915.3L726.0 920.4zM729.9 908.2L738.2 903.0L742.6 910.1L734.3 915.3zM860.0 910.9L869.4 908.2L871.7 916.2L862.3 918.9zM1069.0 906.0L1078.5 908.2L1076.6 916.3L1067.1 914.1zM1095.9 908.2L1105.4 910.8L1103.1 918.8L1093.7 916.2zM721.6 928.2L729.9 923.0L734.3 930.1L726.0 935.3zM729.9 923.0L738.2 917.9L742.6 924.9L734.3 930.1zM734.7 921.2L742.9 916.0L747.3 923.0L739.1 928.2zM739.1 928.2L747.3 923.0L751.7 930.1L743.5 935.3zM849.3 915.2L858.5 912.1L861.2 919.9L851.9 923.0zM842.7 926.1L851.9 923.0L854.6 930.9L845.3 934.0zM910.7 916.3L920.4 914.8L921.6 923.0L912.0 924.5zM920.4 914.8L930.0 913.3L931.3 921.6L921.6 923.0zM921.6 937.9L931.3 936.4L932.6 944.6L922.9 946.1zM928.5 930.7L938.2 929.6L939.1 937.9L929.4 939.0zM938.2 929.6L947.9 928.5L948.8 936.8L939.1 937.9zM991.5 929.6L1001.3 929.7L1001.1 938.0L991.4 937.9zM1053.0 927.9L1062.6 929.7L1061.1 937.9L1051.5 936.1zM1062.6 929.7L1072.2 931.5L1070.7 939.7L1061.1 937.9zM1051.5 936.1L1061.1 937.9L1059.6 946.0L1050.0 944.3zM1061.1 937.9L1070.7 939.7L1069.2 947.8L1059.6 946.0zM1142.4 926.4L1151.4 930.2L1148.2 937.9L1139.2 934.1zM929.4 953.8L939.1 952.7L940.0 961.0L930.3 962.1zM939.1 952.7L948.8 951.6L949.7 959.9L940.0 961.0zM1062.6 944.5L1072.2 946.3L1070.7 954.5L1061.1 952.7zM1098.2 944.7L1107.6 947.3L1105.4 955.3L1095.9 952.7zM1086.5 950.1L1095.9 952.7L1093.7 960.7L1084.3 958.1zM840.0 962.8L849.3 959.7L851.9 967.5L842.7 970.6zM938.2 959.3L947.9 958.2L948.8 966.5L939.1 967.5zM955.9 959.3L965.7 958.6L966.2 966.9L956.5 967.5zM1009.3 959.3L1019.0 959.8L1018.5 968.1L1008.8 967.5zM1008.8 967.5L1018.5 968.1L1018.1 976.4L1008.3 975.8zM910.7 975.7L920.4 974.2L921.6 982.4L912.0 983.9zM981.7 973.9L991.5 974.1L991.4 982.4L981.6 982.2zM991.5 974.1L1001.3 974.2L1001.1 982.5L991.4 982.4zM981.6 982.2L991.4 982.4L991.2 990.7L981.5 990.5zM1017.3 973.1L1027.1 974.1L1026.2 982.4L1016.5 981.4zM920.4 989.0L930.0 987.5L931.3 995.7L921.6 997.2zM981.7 988.8L991.5 988.9L991.4 997.2L981.6 997.1z" fill="#0248c0"/><path d="M831.5 767.0L840.6 763.5L843.6 771.2L834.5 774.7zM834.5 774.7L843.6 771.2L846.6 779.0L837.5 782.5zM938.2 766.5L947.9 765.4L948.8 773.6L939.1 774.7zM973.7 766.4L983.5 766.2L983.7 774.5L973.9 774.7zM999.1 774.2L1008.8 774.7L1008.3 783.0L998.6 782.4zM1008.8 774.7L1018.5 775.3L1018.1 783.6L1008.3 783.0zM981.7 781.1L991.5 781.2L991.4 789.5L981.6 789.4zM981.6 789.4L991.4 789.5L991.2 797.9L981.5 797.7zM999.5 780.7L1009.3 781.3L1008.8 789.5L999.1 789.0zM999.1 789.0L1008.8 789.5L1008.3 797.8L998.6 797.3zM1008.8 789.5L1018.5 790.1L1018.1 798.4L1008.3 797.8zM867.1 796.4L876.4 793.7L878.7 801.7L869.4 804.4zM869.4 804.4L878.7 801.7L881.0 809.7L871.7 812.4zM875.3 813.5L884.8 811.1L886.8 819.2L877.3 821.5zM884.8 811.1L894.3 808.8L896.3 816.9L886.8 819.2zM939.1 819.2L948.8 818.1L949.7 826.4L940.0 827.5zM884.8 826.0L894.3 823.7L896.3 831.7L886.8 834.0zM921.6 834.0L931.3 832.6L932.6 840.8L922.9 842.3zM946.2 841.3L955.9 840.6L956.5 848.9L946.8 849.6zM956.5 848.9L966.2 848.2L966.8 856.5L957.1 857.2zM921.6 863.7L931.3 862.2L932.6 870.4L922.9 871.9zM1051.5 861.9L1061.1 863.7L1059.6 871.9L1050.0 870.1zM912.0 880.0L921.6 878.5L922.9 886.8L913.3 888.3zM1086.5 875.9L1095.9 878.5L1093.7 886.6L1084.3 884.0zM1095.9 878.5L1105.4 881.1L1103.1 889.2L1093.7 886.6zM884.8 885.3L894.3 883.0L896.3 891.1L886.8 893.4zM894.6 895.3L904.2 893.4L905.8 901.5L896.3 903.4zM1061.1 893.4L1070.7 895.2L1069.2 903.3L1059.6 901.5zM1069.0 891.2L1078.5 893.4L1076.6 901.5L1067.1 899.3zM869.4 908.2L878.7 905.5L881.0 913.5L871.7 916.2zM1070.9 897.9L1080.4 900.1L1078.5 908.2L1069.0 906.0zM1078.5 908.2L1088.0 910.4L1086.2 918.5L1076.6 916.3zM717.2 921.2L725.5 916.0L729.9 923.0L721.6 928.2zM725.5 916.0L733.8 910.8L738.2 917.9L729.9 923.0zM851.9 923.0L861.2 919.9L863.8 927.8L854.6 930.9zM840.0 933.1L849.3 930.0L851.9 937.9L842.7 941.0zM842.7 941.0L851.9 937.9L854.6 945.8L845.3 948.9zM929.4 939.0L939.1 937.9L940.0 946.1L930.3 947.2zM939.1 937.9L948.8 936.8L949.7 945.0L940.0 946.1zM991.4 937.9L1001.1 938.0L1001.0 946.3L991.2 946.2zM842.7 955.8L851.9 952.7L854.6 960.6L845.3 963.7zM851.9 952.7L861.2 949.6L863.8 957.5L854.6 960.6zM938.2 944.5L947.9 943.4L948.8 951.6L939.1 952.7zM946.8 953.4L956.5 952.7L957.1 961.0L947.3 961.7zM1051.5 950.9L1061.1 952.7L1059.6 960.9L1050.0 959.1zM1061.1 952.7L1070.7 954.5L1069.2 962.7L1059.6 960.9zM964.0 959.5L973.7 959.2L973.9 967.5L964.2 967.8zM964.2 967.8L973.9 967.5L974.2 975.8L964.4 976.1zM999.5 958.7L1009.3 959.3L1008.8 967.5L999.1 967.0zM1035.2 957.9L1044.8 959.3L1043.7 967.5L1034.0 966.2zM1044.8 959.3L1054.5 960.7L1053.3 968.9L1043.7 967.5zM1034.0 966.2L1043.7 967.5L1042.5 975.8L1032.8 974.4zM1043.7 967.5L1053.3 968.9L1052.1 977.2L1042.5 975.8zM893.0 976.1L902.6 974.2L904.2 982.4L894.6 984.3zM920.4 974.2L930.0 972.7L931.3 980.9L921.6 982.4zM973.7 974.1L983.5 973.8L983.7 982.1L973.9 982.4zM964.2 982.6L973.9 982.4L974.2 990.7L964.4 990.9zM1016.5 981.4L1026.2 982.4L1025.4 990.6L1015.7 989.7zM1044.8 974.2L1054.5 975.5L1053.3 983.8L1043.7 982.4zM1034.0 981.0L1043.7 982.4L1042.5 990.6L1032.8 989.2zM1043.7 982.4L1053.3 983.8L1052.1 992.0L1042.5 990.6zM894.6 999.1L904.2 997.2L905.8 1005.4L896.3 1007.3zM981.6 997.1L991.4 997.2L991.2 1005.5L981.5 1005.4zM973.7 1003.7L983.5 1003.5L983.7 1011.8L973.9 1012.0z" fill="#0a68e0"/><path d="M877.3 777.0L886.8 774.7L888.7 782.8L879.3 785.1zM939.1 774.7L948.8 773.6L949.7 781.9L940.0 783.0zM964.0 766.7L973.7 766.4L973.9 774.7L964.2 775.0zM964.2 775.0L973.9 774.7L974.2 783.0L964.4 783.3zM1009.3 781.3L1019.0 781.8L1018.5 790.1L1008.8 789.5zM904.2 804.4L913.8 802.5L915.4 810.6L905.8 812.5zM893.0 827.8L902.6 825.9L904.2 834.0L894.6 836.0zM910.7 827.3L920.4 825.8L921.6 834.0L912.0 835.5zM1070.9 823.8L1080.4 826.0L1078.5 834.0L1069.0 831.9zM1080.4 826.0L1089.9 828.2L1088.0 836.2L1078.5 834.0zM1069.0 831.9L1078.5 834.0L1076.6 842.1L1067.1 839.9zM955.9 840.6L965.7 839.9L966.2 848.2L956.5 848.9zM981.7 840.4L991.5 840.6L991.4 848.9L981.6 848.7zM910.7 857.0L920.4 855.5L921.6 863.7L912.0 865.2zM920.4 855.5L930.0 854.0L931.3 862.2L921.6 863.7zM956.5 878.5L966.2 877.9L966.8 886.2L957.1 886.8zM991.5 870.2L1001.3 870.4L1001.1 878.7L991.4 878.5zM981.6 878.4L991.4 878.5L991.2 886.9L981.5 886.7zM893.0 887.1L902.6 885.2L904.2 893.4L894.6 895.3zM904.2 893.4L913.8 891.5L915.4 899.6L905.8 901.5zM946.2 885.8L955.9 885.1L956.5 893.4L946.8 894.1zM1062.6 885.2L1072.2 887.0L1070.7 895.2L1061.1 893.4zM1070.9 883.1L1080.4 885.3L1078.5 893.4L1069.0 891.2zM857.7 917.8L867.1 915.1L869.4 923.0L860.0 925.8zM851.9 937.9L861.2 934.8L863.8 942.7L854.6 945.8zM867.1 929.9L876.4 927.2L878.7 935.2L869.4 937.9zM869.4 937.9L878.7 935.2L881.0 943.2L871.7 945.9zM981.7 929.4L991.5 929.6L991.4 937.9L981.6 937.7zM849.3 944.8L858.5 941.7L861.2 949.6L851.9 952.7zM955.9 944.4L965.7 943.8L966.2 952.0L956.5 952.7zM956.5 952.7L966.2 952.0L966.8 960.3L957.1 961.0zM1034.0 951.3L1043.7 952.7L1042.5 960.9L1032.8 959.5zM1053.0 942.8L1062.6 944.5L1061.1 952.7L1051.5 950.9zM902.6 974.2L912.2 972.3L913.8 980.5L904.2 982.4zM894.6 984.3L904.2 982.4L905.8 990.5L896.3 992.4zM921.6 982.4L931.3 980.9L932.6 989.1L922.9 990.6zM964.0 974.3L973.7 974.1L973.9 982.4L964.2 982.6zM1027.1 974.1L1036.8 975.1L1035.9 983.4L1026.2 982.4zM1026.2 982.4L1035.9 983.4L1035.1 991.6L1025.4 990.6zM1035.2 972.8L1044.8 974.2L1043.7 982.4L1034.0 981.0zM904.2 997.2L913.8 995.3L915.4 1003.5L905.8 1005.4zM912.0 998.7L921.6 997.2L922.9 1005.4L913.3 1006.9zM964.0 989.2L973.7 988.9L973.9 997.2L964.2 997.5zM964.2 997.5L973.9 997.2L974.2 1005.5L964.4 1005.8z" fill="#1384f1"/><path d="M875.3 769.0L884.8 766.6L886.8 774.7L877.3 777.0zM884.8 766.6L894.3 764.3L896.3 772.4L886.8 774.7zM973.9 774.7L983.7 774.5L983.9 782.8L974.2 783.0zM875.3 783.8L884.8 781.5L886.8 789.5L877.3 791.9zM875.3 798.6L884.8 796.3L886.8 804.4L877.3 806.7zM894.6 806.3L904.2 804.4L905.8 812.5L896.3 814.4zM894.6 836.0L904.2 834.0L905.8 842.2L896.3 844.1zM912.0 835.5L921.6 834.0L922.9 842.3L913.3 843.8zM973.7 825.7L983.5 825.5L983.7 833.8L973.9 834.0zM973.9 834.0L983.7 833.8L983.9 842.1L974.2 842.4zM1078.5 834.0L1088.0 836.2L1086.2 844.3L1076.6 842.1zM910.7 842.2L920.4 840.7L921.6 848.9L912.0 850.4zM991.5 840.6L1001.3 840.7L1001.1 849.0L991.4 848.9zM912.0 865.2L921.6 863.7L922.9 871.9L913.3 873.4zM1061.1 863.7L1070.7 865.5L1069.2 873.7L1059.6 871.9zM981.7 870.1L991.5 870.2L991.4 878.5L981.6 878.4zM902.6 885.2L912.2 883.3L913.8 891.5L904.2 893.4zM946.8 894.1L956.5 893.4L957.1 901.7L947.3 902.3zM1053.0 883.4L1062.6 885.2L1061.1 893.4L1051.5 891.6zM1080.4 885.3L1089.9 887.5L1088.0 895.6L1078.5 893.4zM1080.4 900.1L1089.9 902.3L1088.0 910.4L1078.5 908.2zM1098.2 900.2L1107.6 902.8L1105.4 910.8L1095.9 908.2zM1086.5 905.6L1095.9 908.2L1093.7 916.2L1084.3 913.6zM867.1 915.1L876.4 912.4L878.7 920.3L869.4 923.0zM860.0 925.8L869.4 923.0L871.7 931.0L862.3 933.7zM849.3 930.0L858.5 926.9L861.2 934.8L851.9 937.9zM857.7 932.6L867.1 929.9L869.4 937.9L860.0 940.6zM840.0 947.9L849.3 944.8L851.9 952.7L842.7 955.8zM946.2 945.1L955.9 944.4L956.5 952.7L946.8 953.4zM1035.2 943.1L1044.8 944.5L1043.7 952.7L1034.0 951.3zM973.7 959.2L983.5 959.0L983.7 967.3L973.9 967.5zM973.9 967.5L983.7 967.3L983.9 975.6L974.2 975.8zM981.7 959.1L991.5 959.2L991.4 967.5L981.6 967.4zM991.4 967.5L1001.1 967.7L1001.0 976.0L991.2 975.9zM912.0 983.9L921.6 982.4L922.9 990.6L913.3 992.1zM973.9 982.4L983.7 982.1L983.9 990.4L974.2 990.7zM893.0 991.0L902.6 989.1L904.2 997.2L894.6 999.1zM902.6 989.1L912.2 987.2L913.8 995.3L904.2 997.2zM910.7 990.5L920.4 989.0L921.6 997.2L912.0 998.7zM973.7 988.9L983.5 988.6L983.7 996.9L973.9 997.2zM973.9 997.2L983.7 996.9L983.9 1005.3L974.2 1005.5z" fill="#1999fd"/><path d="M904.2 774.7L913.8 772.8L915.4 781.0L905.8 782.9zM877.3 791.9L886.8 789.5L888.7 797.6L879.3 799.9zM886.8 789.5L896.3 787.2L898.2 795.3L888.7 797.6zM904.2 789.5L913.8 787.6L915.4 795.8L905.8 797.7zM884.8 796.3L894.3 794.0L896.3 802.1L886.8 804.4zM877.3 806.7L886.8 804.4L888.7 812.5L879.3 814.8zM886.8 804.4L896.3 802.1L898.2 810.1L888.7 812.5zM893.0 798.1L902.6 796.2L904.2 804.4L894.6 806.3zM902.6 796.2L912.2 794.3L913.8 802.5L904.2 804.4zM973.9 819.2L983.7 819.0L983.9 827.3L974.2 827.5zM902.6 825.9L912.2 824.0L913.8 832.1L904.2 834.0zM904.2 834.0L913.8 832.1L915.4 840.3L905.8 842.2zM946.2 826.4L955.9 825.8L956.5 834.0L946.8 834.7zM946.8 834.7L956.5 834.0L957.1 842.3L947.3 843.0zM956.5 834.0L966.2 833.4L966.8 841.7L957.1 842.3zM964.0 826.0L973.7 825.7L973.9 834.0L964.2 834.3zM920.4 840.7L930.0 839.2L931.3 847.4L921.6 848.9zM912.0 850.4L921.6 848.9L922.9 857.1L913.3 858.6zM921.6 848.9L931.3 847.4L932.6 855.6L922.9 857.1zM964.0 840.8L973.7 840.6L973.9 848.9L964.2 849.1zM973.7 840.6L983.5 840.3L983.7 848.6L973.9 848.9zM991.4 848.9L1001.1 849.0L1001.0 857.3L991.2 857.2zM893.0 857.5L902.6 855.6L904.2 863.7L894.6 865.6zM902.6 855.6L912.2 853.7L913.8 861.8L904.2 863.7zM894.6 865.6L904.2 863.7L905.8 871.9L896.3 873.8zM955.9 885.1L965.7 884.4L966.2 892.7L956.5 893.4zM964.0 885.3L973.7 885.1L973.9 893.4L964.2 893.6zM973.9 893.4L983.7 893.1L983.9 901.4L974.2 901.7zM1078.5 893.4L1088.0 895.6L1086.2 903.7L1076.6 901.5zM1088.7 897.6L1098.2 900.2L1095.9 908.2L1086.5 905.6zM869.4 923.0L878.7 920.3L881.0 928.3L871.7 931.0zM860.0 940.6L869.4 937.9L871.7 945.9L862.3 948.6zM981.6 937.7L991.4 937.9L991.2 946.2L981.5 946.0zM964.0 944.7L973.7 944.4L973.9 952.7L964.2 953.0zM973.9 952.7L983.7 952.5L983.9 960.8L974.2 961.0zM981.6 952.6L991.4 952.7L991.2 961.0L981.5 960.9zM991.4 952.7L1001.1 952.9L1001.0 961.2L991.2 961.0zM1044.8 944.5L1054.5 945.9L1053.3 954.1L1043.7 952.7zM981.6 967.4L991.4 967.5L991.2 975.9L981.5 975.7zM904.2 982.4L913.8 980.5L915.4 988.6L905.8 990.5z" fill="#49afff"/><path d="M893.0 768.5L902.6 766.6L904.2 774.7L894.6 776.6zM956.5 804.4L966.2 803.7L966.8 812.0L957.1 812.7zM973.7 796.1L983.5 795.8L983.7 804.1L973.9 804.4zM964.0 811.2L973.7 810.9L973.9 819.2L964.2 819.5zM955.9 825.8L965.7 825.1L966.2 833.4L956.5 834.0zM964.2 834.3L973.9 834.0L974.2 842.4L964.4 842.6zM981.6 848.7L991.4 848.9L991.2 857.2L981.5 857.0zM991.5 855.4L1001.3 855.6L1001.1 863.9L991.4 863.7zM981.6 863.6L991.4 863.7L991.2 872.0L981.5 871.9zM991.4 863.7L1001.1 863.9L1001.0 872.2L991.2 872.0zM956.5 893.4L966.2 892.7L966.8 901.0L957.1 901.7zM1095.9 893.4L1105.4 896.0L1103.1 904.0L1093.7 901.4zM1044.8 914.8L1054.5 916.2L1053.3 924.4L1043.7 923.0zM946.2 930.3L955.9 929.6L956.5 937.9L946.8 938.6zM955.9 929.6L965.7 928.9L966.2 937.2L956.5 937.9zM964.2 953.0L973.9 952.7L974.2 961.0L964.4 961.3zM991.5 944.4L1001.3 944.6L1001.1 952.9L991.4 952.7zM1043.7 952.7L1053.3 954.1L1052.1 962.3L1042.5 960.9zM991.5 959.2L1001.3 959.4L1001.1 967.7L991.4 967.5z" fill="#74bfff"/><path d="M886.8 774.7L896.3 772.4L898.2 780.5L888.7 782.8zM902.6 766.6L912.2 764.7L913.8 772.8L904.2 774.7zM884.8 781.5L894.3 779.2L896.3 787.2L886.8 789.5zM893.0 783.3L902.6 781.4L904.2 789.5L894.6 791.5zM902.6 781.4L912.2 779.5L913.8 787.6L904.2 789.5zM894.6 791.5L904.2 789.5L905.8 797.7L896.3 799.6zM946.2 796.8L955.9 796.1L956.5 804.4L946.8 805.1zM946.8 805.1L956.5 804.4L957.1 812.7L947.3 813.3zM946.2 811.6L955.9 810.9L956.5 819.2L946.8 819.9zM973.7 810.9L983.5 810.6L983.7 819.0L973.9 819.2zM973.9 848.9L983.7 848.6L983.9 856.9L974.2 857.2zM902.6 870.4L912.2 868.5L913.8 876.6L904.2 878.5zM973.7 870.2L983.5 870.0L983.7 878.3L973.9 878.5zM973.9 878.5L983.7 878.3L983.9 886.6L974.2 886.9zM1062.6 870.4L1072.2 872.2L1070.7 880.3L1061.1 878.5zM1051.5 876.8L1061.1 878.5L1059.6 886.7L1050.0 884.9zM964.2 893.6L973.9 893.4L974.2 901.7L964.4 901.9zM1098.2 885.4L1107.6 888.0L1105.4 896.0L1095.9 893.4zM946.2 900.6L955.9 899.9L956.5 908.2L946.8 908.9zM1034.0 921.7L1043.7 923.0L1042.5 931.3L1032.8 929.9zM946.8 938.6L956.5 937.9L957.1 946.2L947.3 946.8zM981.7 944.3L991.5 944.4L991.4 952.7L981.6 952.6z" fill="#9fd0ff"/><path d="M894.6 776.6L904.2 774.7L905.8 782.9L896.3 784.8zM973.7 781.2L983.5 781.0L983.7 789.3L973.9 789.5zM964.2 789.8L973.9 789.5L974.2 797.9L964.4 798.1zM973.9 789.5L983.7 789.3L983.9 797.6L974.2 797.9zM964.0 796.3L973.7 796.1L973.9 804.4L964.2 804.6zM964.2 804.6L973.9 804.4L974.2 812.7L964.4 812.9zM946.8 819.9L956.5 819.2L957.1 827.5L947.3 828.2zM956.5 819.2L966.2 818.5L966.8 826.8L957.1 827.5zM964.2 819.5L973.9 819.2L974.2 827.5L964.4 827.8zM964.2 849.1L973.9 848.9L974.2 857.2L964.4 857.4zM904.2 863.7L913.8 861.8L915.4 870.0L905.8 871.9zM973.7 855.4L983.5 855.1L983.7 863.5L973.9 863.7zM973.9 863.7L983.7 863.5L983.9 871.8L974.2 872.0zM981.7 855.3L991.5 855.4L991.4 863.7L981.6 863.6zM894.6 880.5L904.2 878.5L905.8 886.7L896.3 888.6zM904.2 878.5L913.8 876.6L915.4 884.8L905.8 886.7zM1061.1 878.5L1070.7 880.3L1069.2 888.5L1059.6 886.7zM973.7 885.1L983.5 884.8L983.7 893.1L973.9 893.4zM1088.7 882.8L1098.2 885.4L1095.9 893.4L1086.5 890.8zM1086.5 890.8L1095.9 893.4L1093.7 901.4L1084.3 898.8zM973.9 923.0L983.7 922.8L983.9 931.1L974.2 931.3zM1035.2 913.4L1044.8 914.8L1043.7 923.0L1034.0 921.7zM1044.8 929.7L1054.5 931.0L1053.3 939.3L1043.7 937.9zM973.7 944.4L983.5 944.1L983.7 952.5L973.9 952.7z" fill="#bedfff"/><path d="M946.8 775.4L956.5 774.7L957.1 783.0L947.3 783.7zM956.5 774.7L966.2 774.0L966.8 782.3L957.1 783.0zM946.2 781.9L955.9 781.3L956.5 789.5L946.8 790.2zM964.0 781.5L973.7 781.2L973.9 789.5L964.2 789.8zM955.9 796.1L965.7 795.4L966.2 803.7L956.5 804.4zM955.9 810.9L965.7 810.3L966.2 818.5L956.5 819.2zM964.0 855.7L973.7 855.4L973.9 863.7L964.2 864.0zM964.2 864.0L973.9 863.7L974.2 872.0L964.4 872.3zM893.0 872.3L902.6 870.4L904.2 878.5L894.6 880.5zM964.0 870.5L973.7 870.2L973.9 878.5L964.2 878.8zM964.2 878.8L973.9 878.5L974.2 886.9L964.4 887.1zM946.8 908.9L956.5 908.2L957.1 916.5L947.3 917.2zM956.5 908.2L966.2 907.5L966.8 915.8L957.1 916.5zM964.0 900.2L973.7 899.9L973.9 908.2L964.2 908.5zM946.2 915.4L955.9 914.8L956.5 923.0L946.8 923.7zM956.5 937.9L966.2 937.2L966.8 945.5L957.1 946.2zM1034.0 936.5L1043.7 937.9L1042.5 946.1L1032.8 944.7z" fill="#dceeff"/><path d="M955.9 766.4L965.7 765.8L966.2 774.0L956.5 774.7zM955.9 781.3L965.7 780.6L966.2 788.9L956.5 789.5zM946.8 790.2L956.5 789.5L957.1 797.8L947.3 798.5zM956.5 789.5L966.2 788.9L966.8 797.2L957.1 797.8zM973.9 804.4L983.7 804.1L983.9 812.4L974.2 812.7zM1053.0 868.6L1062.6 870.4L1061.1 878.5L1051.5 876.8zM955.9 899.9L965.7 899.3L966.2 907.5L956.5 908.2zM973.9 908.2L983.7 908.0L983.9 916.3L974.2 916.5zM946.8 923.7L956.5 923.0L957.1 931.3L947.3 932.0zM964.0 915.0L973.7 914.7L973.9 923.0L964.2 923.3zM1043.7 923.0L1053.3 924.4L1052.1 932.7L1042.5 931.3zM973.7 929.6L983.5 929.3L983.7 937.6L973.9 937.9zM964.2 938.1L973.9 937.9L974.2 946.2L964.4 946.4z" fill="#eef6ff"/><path d="M946.2 767.1L955.9 766.4L956.5 774.7L946.8 775.4zM973.7 899.9L983.5 899.6L983.7 908.0L973.9 908.2zM964.2 908.5L973.9 908.2L974.2 916.5L964.4 916.8zM956.5 923.0L966.2 922.4L966.8 930.7L957.1 931.3zM973.7 914.7L983.5 914.5L983.7 922.8L973.9 923.0zM964.2 923.3L973.9 923.0L974.2 931.3L964.4 931.6zM1035.2 928.3L1044.8 929.7L1043.7 937.9L1034.0 936.5zM1043.7 937.9L1053.3 939.3L1052.1 947.5L1042.5 946.1z" fill="#ffffff"/><path d="M955.9 914.8L965.7 914.1L966.2 922.4L956.5 923.0zM973.9 937.9L983.7 937.6L983.9 945.9L974.2 946.2z" fill="#ffffff"/><path d="M964.0 929.8L973.7 929.6L973.9 937.9L964.2 938.1z" fill="#ffffff"/></g>
<polygon points="618.2,767.0 582.9,777.9 616.7,775.8 577.1,787.6 615.2,785.2 578.6,796.7 617.4,794.5 598.9,802.4 619.1,802.4 562.0,818.0 620.7,810.9 565.1,826.2 622.0,817.7 581.3,830.0 623.4,824.9 580.1,837.7 624.9,833.1 599.9,842.2 626.3,840.2 592.2,851.2 628.6,849.5 578.0,863.9 630.5,856.4 578.8,871.0 632.1,863.3 586.0,876.6 632.9,870.1 608.0,879.2 634.0,879.3 601.9,889.8 634.9,886.4 576.3,902.2 636.4,895.6 601.8,906.6 638.0,905.0 594.8,917.8 639.5,913.6 608.1,924.1 642.3,923.0 594.6,936.8 645.5,932.5 590.8,947.7 648.1,939.9 611.7,951.4 650.4,946.8 621.4,956.9 652.6,953.4 618.2,964.5 655.4,961.7 631.3,970.8 658.2,970.3 622.6,981.7 660.2,977.7 607.3,992.4 661.4,985.6 625.9,996.9 662.8,993.6 613.9,1007.5 664.0,1000.1 605.8,1015.9 665.4,1006.6 615.5,1020.9 668.3,1015.7 643.6,1024.9 671.3,1024.6 634.9,1036.2 674.4,1032.9 650.2,1042.0 676.8,1039.4 646.7,1049.8 680.2,1048.9 649.7,1059.3 683.7,1057.7 622.9,1074.2 687.1,1067.1 648.0,1079.2 689.6,1074.7 643.7,1088.1 692.3,1083.6 661.9,1093.9 694.8,1092.3 631.5,1107.8 679.5,1101.5 646.1,1111.3 675.0,1104.0 661.0,1104.0 663.5,1103.0 673.3,1099.0 683.1,1095.0 689.4,1091.0 692.3,1087.0 695.1,1083.0 698.0,1079.0 699.8,1075.0 701.6,1071.0 703.5,1067.0 705.5,1063.0 709.0,1059.0 712.5,1055.0 716.0,1051.0 719.1,1047.0 722.1,1043.0 725.2,1039.0 728.2,1035.0 731.7,1031.0 735.3,1027.0 738.9,1023.0 742.0,1019.0 744.5,1015.0 747.0,1011.0 749.5,1007.0 751.3,1003.0 752.0,999.0 752.7,995.0 753.5,991.0 753.5,987.0 751.7,983.0 749.8,979.0 748.0,975.0 745.2,971.0 742.4,967.0 739.6,963.0 736.8,959.0 734.0,955.0 731.2,951.0 728.4,947.0 728.7,943.0 732.2,939.0 735.7,935.0 739.1,931.0 742.9,927.0 746.8,923.0 750.7,919.0 753.6,915.0 750.6,911.0 747.6,907.0 744.6,903.0 741.7,899.0 738.7,895.0 735.7,891.0 732.7,887.0 731.3,883.0 730.3,879.0 729.4,875.0 728.4,871.0 727.4,867.0 726.5,863.0 726.7,859.0 728.0,855.0 729.3,851.0 730.7,847.0 732.0,843.0 725.0,839.0 718.0,835.0 711.0,831.0 704.0,827.0 703.3,823.0 702.6,819.0 701.9,815.0 701.2,811.0 700.6,807.0 699.9,803.0 699.2,799.0 694.2,795.0 687.7,791.0 681.2,787.0 676.8,783.0 674.3,779.0 671.9,775.0 669.4,771.0 667.0,767.0" fill="#000c88"/><polygon points="618.2,767.0 582.9,777.9 616.7,775.8 577.1,787.6 615.2,785.2 578.6,796.7 617.4,794.5 598.9,802.4 619.1,802.4 562.0,818.0 620.7,810.9 565.1,826.2 622.0,817.7 581.3,830.0 623.4,824.9 580.1,837.7 624.9,833.1 599.9,842.2 626.3,840.2 592.2,851.2 628.6,849.5 578.0,863.9 630.5,856.4 578.8,871.0 632.1,863.3 586.0,876.6 632.9,870.1 608.0,879.2 634.0,879.3 601.9,889.8 634.9,886.4 576.3,902.2 636.4,895.6 601.8,906.6 638.0,905.0 594.8,917.8 639.5,913.6 608.1,924.1 642.3,923.0 594.6,936.8 645.5,932.5 590.8,947.7 648.1,939.9 611.7,951.4 650.4,946.8 621.4,956.9 652.6,953.4 618.2,964.5 655.4,961.7 631.3,970.8 658.2,970.3 622.6,981.7 660.2,977.7 607.3,992.4 661.4,985.6 625.9,996.9 662.8,993.6 613.9,1007.5 664.0,1000.1 605.8,1015.9 665.4,1006.6 615.5,1020.9 668.3,1015.7 643.6,1024.9 671.3,1024.6 634.9,1036.2 674.4,1032.9 650.2,1042.0 676.8,1039.4 646.7,1049.8 680.2,1048.9 649.7,1059.3 683.7,1057.7 622.9,1074.2 687.1,1067.1 648.0,1079.2 689.6,1074.7 643.7,1088.1 692.3,1083.6 661.9,1093.9 694.8,1092.3 631.5,1107.8 679.5,1101.5 646.1,1111.3 675.0,1104.0 661.0,1104.0 663.4,1103.0 672.8,1099.0 682.3,1095.0 688.4,1091.0 691.3,1087.0 694.1,1083.0 697.0,1079.0 698.7,1075.0 700.4,1071.0 702.1,1067.0 704.0,1063.0 707.3,1059.0 710.7,1055.0 714.0,1051.0 716.7,1047.0 719.4,1043.0 722.1,1039.0 724.8,1035.0 728.2,1031.0 731.8,1027.0 735.4,1023.0 738.4,1019.0 740.6,1015.0 742.9,1011.0 745.1,1007.0 746.9,1003.0 747.8,999.0 748.8,995.0 749.8,991.0 749.9,987.0 747.4,983.0 745.0,979.0 742.5,975.0 739.8,971.0 737.0,967.0 734.3,963.0 731.6,959.0 728.8,955.0 726.1,951.0 723.4,947.0 723.0,943.0 725.1,939.0 727.2,935.0 729.3,931.0 731.5,927.0 733.8,923.0 736.1,919.0 737.6,915.0 734.7,911.0 731.9,907.0 729.1,903.0 726.2,899.0 723.4,895.0 720.5,891.0 717.7,887.0 717.2,883.0 717.6,879.0 717.9,875.0 718.2,871.0 718.5,867.0 718.8,863.0 719.8,859.0 721.3,855.0 723.1,851.0 725.6,847.0 728.0,843.0 719.8,839.0 711.5,835.0 703.2,831.0 695.0,827.0 695.0,823.0 695.0,819.0 695.0,815.0 695.0,811.0 695.0,807.0 695.0,803.0 695.0,799.0 690.3,795.0 684.0,791.0 677.7,787.0 673.3,783.0 671.0,779.0 668.7,775.0 666.3,771.0 664.0,767.0" fill="#0037b0"/><polygon points="618.2,767.0 582.9,777.9 616.7,775.8 577.1,787.6 615.2,785.2 578.6,796.7 617.4,794.5 598.9,802.4 619.1,802.4 562.0,818.0 620.7,810.9 565.1,826.2 622.0,817.7 581.3,830.0 623.4,824.9 580.1,837.7 624.9,833.1 599.9,842.2 626.3,840.2 592.2,851.2 628.6,849.5 578.0,863.9 630.5,856.4 578.8,871.0 632.1,863.3 586.0,876.6 632.9,870.1 608.0,879.2 634.0,879.3 601.9,889.8 634.9,886.4 576.3,902.2 636.4,895.6 601.8,906.6 638.0,905.0 594.8,917.8 639.5,913.6 608.1,924.1 642.3,923.0 594.6,936.8 645.5,932.5 590.8,947.7 648.1,939.9 611.7,951.4 650.4,946.8 621.4,956.9 652.6,953.4 618.2,964.5 655.4,961.7 631.3,970.8 658.2,970.3 622.6,981.7 660.2,977.7 607.3,992.4 661.4,985.6 625.9,996.9 662.8,993.6 613.9,1007.5 664.0,1000.1 605.8,1015.9 665.4,1006.6 615.5,1020.9 668.3,1015.7 643.6,1024.9 671.3,1024.6 634.9,1036.2 674.4,1032.9 650.2,1042.0 676.8,1039.4 646.7,1049.8 680.2,1048.9 649.7,1059.3 683.7,1057.7 622.9,1074.2 687.1,1067.1 648.0,1079.2 689.6,1074.7 643.7,1088.1 692.3,1083.6 661.9,1093.9 694.8,1092.3 631.5,1107.8 679.5,1101.5 646.1,1111.3 675.0,1104.0 661.0,1104.0 663.3,1103.0 672.4,1099.0 681.5,1095.0 687.4,1091.0 690.3,1087.0 693.1,1083.0 696.0,1079.0 697.6,1075.0 699.1,1071.0 700.7,1067.0 702.5,1063.0 705.7,1059.0 708.8,1055.0 712.0,1051.0 714.4,1047.0 716.7,1043.0 719.1,1039.0 721.4,1035.0 724.7,1031.0 728.3,1027.0 731.9,1023.0 734.8,1019.0 736.8,1015.0 738.8,1011.0 740.8,1007.0 742.5,1003.0 743.7,999.0 744.9,995.0 746.1,991.0 746.2,987.0 743.2,983.0 740.1,979.0 737.0,975.0 734.3,971.0 731.7,967.0 729.0,963.0 726.3,959.0 723.7,955.0 721.0,951.0 718.3,947.0 717.3,943.0 718.0,939.0 718.7,935.0 719.4,931.0 720.1,927.0 720.7,923.0 721.4,919.0 721.6,915.0 718.9,911.0 716.2,907.0 713.5,903.0 710.8,899.0 708.1,895.0 705.4,891.0 702.7,887.0 703.2,883.0 704.8,879.0 706.4,875.0 708.0,871.0 709.6,867.0 711.2,863.0 712.9,859.0 714.7,855.0 716.9,851.0 720.4,847.0 724.0,843.0 714.5,839.0 705.0,835.0 695.5,831.0 686.0,827.0 686.7,823.0 687.4,819.0 688.1,815.0 688.8,811.0 689.4,807.0 690.1,803.0 690.8,799.0 686.4,795.0 680.2,791.0 674.1,787.0 669.9,783.0 667.7,779.0 665.4,775.0 663.2,771.0 661.0,767.0" fill="#0860d8"/><polygon points="618.2,767.0 582.9,777.9 616.7,775.8 577.1,787.6 615.2,785.2 578.6,796.7 617.4,794.5 598.9,802.4 619.1,802.4 562.0,818.0 620.7,810.9 565.1,826.2 622.0,817.7 581.3,830.0 623.4,824.9 580.1,837.7 624.9,833.1 599.9,842.2 626.3,840.2 592.2,851.2 628.6,849.5 578.0,863.9 630.5,856.4 578.8,871.0 632.1,863.3 586.0,876.6 632.9,870.1 608.0,879.2 634.0,879.3 601.9,889.8 634.9,886.4 576.3,902.2 636.4,895.6 601.8,906.6 638.0,905.0 594.8,917.8 639.5,913.6 608.1,924.1 642.3,923.0 594.6,936.8 645.5,932.5 590.8,947.7 648.1,939.9 611.7,951.4 650.4,946.8 621.4,956.9 652.6,953.4 618.2,964.5 655.4,961.7 631.3,970.8 658.2,970.3 622.6,981.7 660.2,977.7 607.3,992.4 661.4,985.6 625.9,996.9 662.8,993.6 613.9,1007.5 664.0,1000.1 605.8,1015.9 665.4,1006.6 615.5,1020.9 668.3,1015.7 643.6,1024.9 671.3,1024.6 634.9,1036.2 674.4,1032.9 650.2,1042.0 676.8,1039.4 646.7,1049.8 680.2,1048.9 649.7,1059.3 683.7,1057.7 622.9,1074.2 687.1,1067.1 648.0,1079.2 689.6,1074.7 643.7,1088.1 692.3,1083.6 661.9,1093.9 694.8,1092.3 631.5,1107.8 679.5,1101.5 646.1,1111.3 675.0,1104.0 664.1,1104.0 666.3,1103.0 674.9,1099.0 683.6,1095.0 689.0,1091.0 690.9,1087.0 692.9,1083.0 694.9,1079.0 695.8,1075.0 696.8,1071.0 697.7,1067.0 698.8,1063.0 700.9,1059.0 703.1,1055.0 705.2,1051.0 706.7,1047.0 708.2,1043.0 709.7,1039.0 711.2,1035.0 713.5,1031.0 715.9,1027.0 718.4,1023.0 720.4,1019.0 721.7,1015.0 723.0,1011.0 724.2,1007.0 725.3,1003.0 726.1,999.0 726.9,995.0 727.7,991.0 727.6,987.0 725.1,983.0 722.6,979.0 720.0,975.0 717.6,971.0 715.3,967.0 712.9,963.0 710.5,959.0 708.1,955.0 705.8,951.0 703.4,947.0 702.3,943.0 702.6,939.0 702.8,935.0 703.0,931.0 703.3,927.0 703.5,923.0 703.7,919.0 703.6,915.0 701.3,911.0 699.1,907.0 696.8,903.0 694.6,899.0 692.3,895.0 690.0,891.0 687.8,887.0 688.1,883.0 689.2,879.0 690.4,875.0 691.5,871.0 692.6,867.0 693.8,863.0 694.9,859.0 696.1,855.0 697.6,851.0 700.1,847.0 702.6,843.0 695.0,839.0 687.5,835.0 679.9,831.0 672.3,827.0 672.7,823.0 673.1,819.0 673.4,815.0 673.8,811.0 674.2,807.0 674.5,803.0 674.9,799.0 671.2,795.0 666.2,791.0 661.2,787.0 657.9,783.0 656.3,779.0 654.8,775.0 653.2,771.0 651.6,767.0" fill="#107dec"/><polygon points="618.2,767.0 582.9,777.9 616.7,775.8 577.1,787.6 615.2,785.2 578.6,796.7 617.4,794.5 598.9,802.4 619.1,802.4 562.0,818.0 620.7,810.9 565.1,826.2 622.0,817.7 581.3,830.0 623.4,824.9 580.1,837.7 624.9,833.1 599.9,842.2 626.3,840.2 592.2,851.2 628.6,849.5 578.0,863.9 630.5,856.4 578.8,871.0 632.1,863.3 586.0,876.6 632.9,870.1 608.0,879.2 634.0,879.3 601.9,889.8 634.9,886.4 576.3,902.2 636.4,895.6 601.8,906.6 638.0,905.0 594.8,917.8 639.5,913.6 608.1,924.1 642.3,923.0 594.6,936.8 645.5,932.5 590.8,947.7 648.1,939.9 611.7,951.4 650.4,946.8 621.4,956.9 652.6,953.4 618.2,964.5 655.4,961.7 631.3,970.8 658.2,970.3 622.6,981.7 660.2,977.7 607.3,992.4 661.4,985.6 625.9,996.9 662.8,993.6 613.9,1007.5 664.0,1000.1 605.8,1015.9 665.4,1006.6 615.5,1020.9 668.3,1015.7 643.6,1024.9 671.3,1024.6 634.9,1036.2 674.4,1032.9 650.2,1042.0 676.8,1039.4 646.7,1049.8 680.2,1048.9 649.7,1059.3 683.7,1057.7 622.9,1074.2 687.1,1067.1 648.0,1079.2 689.6,1074.7 643.7,1088.1 692.3,1083.6 661.9,1093.9 694.8,1092.3 631.5,1107.8 679.5,1101.5 646.1,1111.3 675.0,1104.0 666.9,1104.0 669.0,1103.0 677.3,1099.0 685.6,1095.0 690.4,1091.0 691.5,1087.0 692.7,1083.0 693.9,1079.0 694.3,1075.0 694.6,1071.0 695.0,1067.0 695.5,1063.0 696.6,1059.0 697.8,1055.0 699.0,1051.0 699.7,1047.0 700.5,1043.0 701.2,1039.0 702.0,1035.0 703.3,1031.0 704.7,1027.0 706.2,1023.0 707.3,1019.0 707.9,1015.0 708.6,1011.0 709.2,1007.0 709.7,1003.0 710.1,999.0 710.5,995.0 710.9,991.0 710.7,987.0 708.7,983.0 706.6,979.0 704.6,975.0 702.5,971.0 700.4,967.0 698.3,963.0 696.1,959.0 694.0,955.0 691.9,951.0 689.8,947.0 688.7,943.0 688.5,939.0 688.3,935.0 688.2,931.0 688.0,927.0 687.8,923.0 687.6,919.0 687.2,915.0 685.3,911.0 683.5,907.0 681.6,903.0 679.8,899.0 677.9,895.0 676.1,891.0 674.2,887.0 674.3,883.0 675.0,879.0 675.8,875.0 676.5,871.0 677.2,867.0 678.0,863.0 678.6,859.0 679.2,855.0 680.0,851.0 681.6,847.0 683.2,843.0 677.4,839.0 671.5,835.0 665.7,831.0 659.9,827.0 660.0,823.0 660.0,819.0 660.1,815.0 660.2,811.0 660.3,807.0 660.3,803.0 660.4,799.0 657.5,795.0 653.5,791.0 649.5,787.0 647.1,783.0 646.1,779.0 645.0,775.0 644.0,771.0 643.0,767.0" fill="#1999fd"/><polygon points="622.5,767.0 622.1,771.0 621.7,775.0 621.3,779.0 621.0,783.0 621.5,787.0 622.9,791.0 624.4,795.0 625.6,799.0 626.3,803.0 626.9,807.0 627.5,811.0 628.1,815.0 628.8,819.0 629.4,823.0 630.0,827.0 631.6,831.0 633.3,835.0 634.9,839.0 636.5,843.0 637.2,847.0 637.8,851.0 638.6,855.0 639.4,859.0 640.0,863.0 640.2,867.0 640.5,871.0 640.8,875.0 641.0,879.0 641.3,883.0 641.7,887.0 642.6,891.0 643.5,895.0 644.4,899.0 645.3,903.0 646.1,907.0 647.0,911.0 647.9,915.0 649.0,919.0 650.2,923.0 651.3,927.0 652.5,931.0 653.6,935.0 654.8,939.0 655.9,943.0 657.3,947.0 658.7,951.0 660.2,955.0 661.7,959.0 663.1,963.0 664.6,967.0 666.1,971.0 667.5,975.0 668.4,979.0 669.2,983.0 670.1,987.0 670.7,991.0 671.2,995.0 671.8,999.0 672.3,1003.0 673.1,1007.0 674.0,1011.0 674.9,1015.0 675.8,1019.0 676.8,1023.0 677.8,1027.0 678.8,1031.0 679.8,1035.0 680.9,1039.0 681.9,1043.0 683.0,1047.0 684.1,1051.0 685.2,1055.0 686.3,1059.0 687.4,1063.0 688.5,1067.0 689.5,1071.0 690.5,1075.0 691.5,1079.0 692.2,1083.0 693.0,1087.0 693.7,1091.0 690.4,1095.0 682.9,1099.0 675.5,1103.0 673.6,1104.0 667.3,1104.0 669.4,1103.0 677.6,1099.0 685.9,1095.0 690.6,1091.0 691.6,1087.0 692.7,1083.0 693.8,1079.0 694.0,1075.0 694.3,1071.0 694.6,1067.0 695.0,1063.0 696.0,1059.0 697.0,1055.0 698.0,1051.0 698.7,1047.0 699.3,1043.0 700.0,1039.0 700.6,1035.0 701.7,1031.0 703.0,1027.0 704.3,1023.0 705.3,1019.0 705.9,1015.0 706.4,1011.0 706.9,1007.0 707.4,1003.0 707.7,999.0 708.1,995.0 708.4,991.0 708.2,987.0 706.2,983.0 704.2,979.0 702.3,975.0 700.2,971.0 698.1,967.0 696.1,963.0 694.0,959.0 691.9,955.0 689.9,951.0 687.8,947.0 686.6,943.0 686.4,939.0 686.2,935.0 685.9,931.0 685.7,927.0 685.5,923.0 685.2,919.0 684.7,915.0 683.0,911.0 681.2,907.0 679.4,903.0 677.6,899.0 675.8,895.0 674.0,891.0 672.2,887.0 672.3,883.0 672.9,879.0 673.6,875.0 674.2,871.0 674.9,867.0 675.6,863.0 676.1,859.0 676.6,855.0 677.3,851.0 678.8,847.0 680.3,843.0 674.7,839.0 669.1,835.0 663.6,831.0 658.0,827.0 658.0,823.0 658.1,819.0 658.1,815.0 658.1,811.0 658.2,807.0 658.2,803.0 658.2,799.0 655.4,795.0 651.6,791.0 647.8,787.0 645.4,783.0 644.5,779.0 643.6,775.0 642.7,771.0 641.7,767.0" fill="#66baff" filter="url(#b4)"/><clipPath id="bc2"><polygon points="618.2,767.0 582.9,777.9 616.7,775.8 577.1,787.6 615.2,785.2 578.6,796.7 617.4,794.5 598.9,802.4 619.1,802.4 562.0,818.0 620.7,810.9 565.1,826.2 622.0,817.7 581.3,830.0 623.4,824.9 580.1,837.7 624.9,833.1 599.9,842.2 626.3,840.2 592.2,851.2 628.6,849.5 578.0,863.9 630.5,856.4 578.8,871.0 632.1,863.3 586.0,876.6 632.9,870.1 608.0,879.2 634.0,879.3 601.9,889.8 634.9,886.4 576.3,902.2 636.4,895.6 601.8,906.6 638.0,905.0 594.8,917.8 639.5,913.6 608.1,924.1 642.3,923.0 594.6,936.8 645.5,932.5 590.8,947.7 648.1,939.9 611.7,951.4 650.4,946.8 621.4,956.9 652.6,953.4 618.2,964.5 655.4,961.7 631.3,970.8 658.2,970.3 622.6,981.7 660.2,977.7 607.3,992.4 661.4,985.6 625.9,996.9 662.8,993.6 613.9,1007.5 664.0,1000.1 605.8,1015.9 665.4,1006.6 615.5,1020.9 668.3,1015.7 643.6,1024.9 671.3,1024.6 634.9,1036.2 674.4,1032.9 650.2,1042.0 676.8,1039.4 646.7,1049.8 680.2,1048.9 649.7,1059.3 683.7,1057.7 622.9,1074.2 687.1,1067.1 648.0,1079.2 689.6,1074.7 643.7,1088.1 692.3,1083.6 661.9,1093.9 694.8,1092.3 631.5,1107.8 679.5,1101.5 646.1,1111.3 675.0,1104.0 661.0,1104.0 663.5,1103.0 673.3,1099.0 683.1,1095.0 689.4,1091.0 692.3,1087.0 695.1,1083.0 698.0,1079.0 699.8,1075.0 701.6,1071.0 703.5,1067.0 705.5,1063.0 709.0,1059.0 712.5,1055.0 716.0,1051.0 719.1,1047.0 722.1,1043.0 725.2,1039.0 728.2,1035.0 731.7,1031.0 735.3,1027.0 738.9,1023.0 742.0,1019.0 744.5,1015.0 747.0,1011.0 749.5,1007.0 751.3,1003.0 752.0,999.0 752.7,995.0 753.5,991.0 753.5,987.0 751.7,983.0 749.8,979.0 748.0,975.0 745.2,971.0 742.4,967.0 739.6,963.0 736.8,959.0 734.0,955.0 731.2,951.0 728.4,947.0 728.7,943.0 732.2,939.0 735.7,935.0 739.1,931.0 742.9,927.0 746.8,923.0 750.7,919.0 753.6,915.0 750.6,911.0 747.6,907.0 744.6,903.0 741.7,899.0 738.7,895.0 735.7,891.0 732.7,887.0 731.3,883.0 730.3,879.0 729.4,875.0 728.4,871.0 727.4,867.0 726.5,863.0 726.7,859.0 728.0,855.0 729.3,851.0 730.7,847.0 732.0,843.0 725.0,839.0 718.0,835.0 711.0,831.0 704.0,827.0 703.3,823.0 702.6,819.0 701.9,815.0 701.2,811.0 700.6,807.0 699.9,803.0 699.2,799.0 694.2,795.0 687.7,791.0 681.2,787.0 676.8,783.0 674.3,779.0 671.9,775.0 669.4,771.0 667.0,767.0"/></clipPath><g clip-path="url(#bc2)"><path d="M588.2 767.0Q667.0 767.0 667.0 657.0" stroke="#001a9a" stroke-opacity="0.28" stroke-width="5.0" fill="none"/><path d="M586.5 777.0Q667.0 777.0 667.0 667.0" stroke="#ffffff" stroke-opacity="0.23" stroke-width="4.9" fill="none"/><path d="M585.7 787.0Q667.0 787.0 667.0 677.0" stroke="#001a9a" stroke-opacity="0.21" stroke-width="4.5" fill="none"/><path d="M587.6 795.5Q667.0 795.5 667.0 685.5" stroke="#ffffff" stroke-opacity="0.21" stroke-width="4.4" fill="none"/><path d="M589.6 805.0Q667.0 805.0 667.0 695.0" stroke="#001a9a" stroke-opacity="0.21" stroke-width="4.5" fill="none"/><path d="M591.2 813.8Q667.0 813.8 667.0 703.8" stroke="#ffffff" stroke-opacity="0.15" stroke-width="5.3" fill="none"/><path d="M593.3 824.2Q667.0 824.2 667.0 714.2" stroke="#001a9a" stroke-opacity="0.29" stroke-width="4.7" fill="none"/><path d="M595.3 834.9Q667.0 834.9 667.0 724.9" stroke="#ffffff" stroke-opacity="0.19" stroke-width="6.6" fill="none"/><path d="M597.4 845.1Q667.0 845.1 667.0 735.1" stroke="#001a9a" stroke-opacity="0.23" stroke-width="4.7" fill="none"/><path d="M600.3 855.6Q667.0 855.6 667.0 745.6" stroke="#ffffff" stroke-opacity="0.24" stroke-width="5.7" fill="none"/><path d="M602.1 863.2Q667.0 863.2 667.0 753.2" stroke="#001a9a" stroke-opacity="0.28" stroke-width="6.1" fill="none"/><path d="M603.3 873.6Q667.0 873.6 667.0 763.6" stroke="#ffffff" stroke-opacity="0.24" stroke-width="6.7" fill="none"/><path d="M604.5 883.4Q670.9 883.4 670.9 773.4" stroke="#001a9a" stroke-opacity="0.21" stroke-width="5.5" fill="none"/><path d="M605.9 892.5Q676.4 892.5 676.4 782.5" stroke="#ffffff" stroke-opacity="0.21" stroke-width="5.7" fill="none"/><path d="M607.6 902.6Q690.3 902.6 690.3 792.6" stroke="#001a9a" stroke-opacity="0.23" stroke-width="5.6" fill="none"/><path d="M609.4 913.3Q699.9 913.3 699.9 803.3" stroke="#ffffff" stroke-opacity="0.21" stroke-width="6.6" fill="none"/><path d="M612.3 923.0Q701.6 923.0 701.6 813.0" stroke="#001a9a" stroke-opacity="0.18" stroke-width="5.2" fill="none"/><path d="M615.1 931.3Q703.0 931.3 703.0 821.3" stroke="#ffffff" stroke-opacity="0.14" stroke-width="4.4" fill="none"/><path d="M617.7 938.9Q707.3 938.9 707.3 828.9" stroke="#001a9a" stroke-opacity="0.23" stroke-width="6.2" fill="none"/><path d="M621.2 949.2Q725.3 949.2 725.3 839.2" stroke="#ffffff" stroke-opacity="0.24" stroke-width="5.6" fill="none"/><path d="M623.6 956.4Q730.9 956.4 730.9 846.4" stroke="#001a9a" stroke-opacity="0.19" stroke-width="4.2" fill="none"/><path d="M627.1 966.8Q727.4 966.8 727.4 856.8" stroke="#ffffff" stroke-opacity="0.14" stroke-width="6.0" fill="none"/><path d="M629.9 975.6Q727.1 975.6 727.1 865.6" stroke="#001a9a" stroke-opacity="0.24" stroke-width="6.3" fill="none"/><path d="M631.4 985.1Q729.4 985.1 729.4 875.1" stroke="#ffffff" stroke-opacity="0.11" stroke-width="5.8" fill="none"/><path d="M632.8 993.6Q731.4 993.6 731.4 883.6" stroke="#001a9a" stroke-opacity="0.30" stroke-width="4.8" fill="none"/><path d="M634.3 1001.7Q736.2 1001.7 736.2 891.7" stroke="#ffffff" stroke-opacity="0.23" stroke-width="5.2" fill="none"/><path d="M636.2 1009.2Q741.8 1009.2 741.8 899.2" stroke="#001a9a" stroke-opacity="0.27" stroke-width="6.5" fill="none"/><path d="M639.0 1018.2Q748.5 1018.2 748.5 908.2" stroke="#ffffff" stroke-opacity="0.12" stroke-width="6.4" fill="none"/><path d="M642.0 1026.6Q753.0 1026.6 753.0 916.6" stroke="#001a9a" stroke-opacity="0.19" stroke-width="4.2" fill="none"/><path d="M645.9 1037.0Q743.0 1037.0 743.0 927.0" stroke="#ffffff" stroke-opacity="0.13" stroke-width="4.4" fill="none"/><path d="M649.0 1045.5Q735.3 1045.5 735.3 935.5" stroke="#001a9a" stroke-opacity="0.26" stroke-width="6.7" fill="none"/><path d="M652.0 1053.4Q728.4 1053.4 728.4 943.4" stroke="#ffffff" stroke-opacity="0.19" stroke-width="4.8" fill="none"/><path d="M656.0 1063.7Q733.1 1063.7 733.1 953.7" stroke="#001a9a" stroke-opacity="0.23" stroke-width="5.9" fill="none"/><path d="M659.4 1074.0Q740.3 1074.0 740.3 964.0" stroke="#ffffff" stroke-opacity="0.17" stroke-width="5.3" fill="none"/><path d="M661.6 1081.2Q745.3 1081.2 745.3 971.2" stroke="#001a9a" stroke-opacity="0.18" stroke-width="5.9" fill="none"/><path d="M664.5 1091.1Q750.8 1091.1 750.8 981.1" stroke="#ffffff" stroke-opacity="0.18" stroke-width="4.2" fill="none"/><path d="M650.4 1101.0Q753.5 1101.0 753.5 991.0" stroke="#001a9a" stroke-opacity="0.28" stroke-width="6.4" fill="none"/><path d="M645.0 1110.9Q751.7 1110.9 751.7 1000.9" stroke="#ffffff" stroke-opacity="0.19" stroke-width="5.0" fill="none"/><path d="M645.0 1119.4Q748.0 1119.4 748.0 1009.4" stroke="#001a9a" stroke-opacity="0.19" stroke-width="5.8" fill="none"/><path d="M645.0 1127.8Q742.7 1127.8 742.7 1017.8" stroke="#ffffff" stroke-opacity="0.21" stroke-width="4.7" fill="none"/><path d="M645.0 1136.0Q736.2 1136.0 736.2 1026.0" stroke="#001a9a" stroke-opacity="0.17" stroke-width="4.8" fill="none"/><path d="M645.0 1146.0Q727.5 1146.0 727.5 1036.0" stroke="#ffffff" stroke-opacity="0.22" stroke-width="6.5" fill="none"/><path d="M645.0 1153.3Q721.9 1153.3 721.9 1043.3" stroke="#001a9a" stroke-opacity="0.26" stroke-width="5.6" fill="none"/><path d="M645.0 1161.8Q715.3 1161.8 715.3 1051.8" stroke="#ffffff" stroke-opacity="0.23" stroke-width="5.9" fill="none"/><path d="M645.0 1170.1Q708.1 1170.1 708.1 1060.1" stroke="#001a9a" stroke-opacity="0.28" stroke-width="5.2" fill="none"/><path d="M645.0 1179.0Q702.5 1179.0 702.5 1069.0" stroke="#ffffff" stroke-opacity="0.17" stroke-width="5.3" fill="none"/><path d="M645.0 1186.3Q699.2 1186.3 699.2 1076.3" stroke="#001a9a" stroke-opacity="0.27" stroke-width="4.9" fill="none"/><path d="M645.0 1195.1Q693.6 1195.1 693.6 1085.1" stroke="#ffffff" stroke-opacity="0.12" stroke-width="5.6" fill="none"/><path d="M645.0 1202.6Q688.3 1202.6 688.3 1092.6" stroke="#001a9a" stroke-opacity="0.16" stroke-width="4.6" fill="none"/><path d="M645.0 1212.9Q663.6 1212.9 663.6 1102.9" stroke="#ffffff" stroke-opacity="0.20" stroke-width="6.0" fill="none"/></g>
<polygon points="724.0,884.0 752.0,889.0 752.0,893.0 724.0,897.0" fill="#002aa4" filter="url(#b2)"/>
<polygon points="740.0,912.0 765.0,917.0 765.0,921.0 740.0,926.0" fill="#002aa4" filter="url(#b2)"/>
<ellipse cx="661" cy="811" rx="30" ry="13" fill="#e5f2ff" filter="url(#b8)" transform="rotate(-12 661 811)"/>
<ellipse cx="660" cy="945" rx="32" ry="13" fill="#ffffff" filter="url(#b8)" transform="rotate(-8 660 945)"/>
<ellipse cx="683" cy="990" rx="32" ry="14" fill="#e5f2ff" filter="url(#b8)" transform="rotate(-15 683 990)"/>
<ellipse cx="702" cy="1020" rx="30" ry="14" fill="#ffffff" filter="url(#b8)" transform="rotate(-20 702 1020)"/>
<polygon points="1378.0,767.0 1403.8,779.1 1375.9,774.6 1394.4,784.5 1373.3,783.8 1388.5,792.8 1370.2,791.8 1405.2,806.8 1368.3,798.4 1398.1,811.1 1370.1,806.8 1388.4,816.0 1376.1,814.4 1414.4,828.1 1387.3,822.3 1388.3,826.9 1385.2,829.2 1385.4,833.6 1383.1,835.9 1383.9,840.5 1380.6,845.3 1383.8,849.9 1383.8,854.2 1387.2,858.7 1390.3,862.9 1394.9,867.3 1394.5,870.3 1397.4,874.9 1394.1,879.0 1394.9,883.5 1392.5,885.7 1393.4,890.1 1391.6,892.8 1392.6,897.2 1390.4,901.7 1391.0,906.2 1388.4,911.0 1390.0,915.7 1386.7,917.6 1386.9,922.1 1383.8,925.5 1383.4,929.9 1377.3,933.3 1367.1,938.0 1355.9,940.0 1389.1,957.8 1340.0,946.8 1384.8,964.4 1338.9,956.1 1370.7,969.8 1338.1,962.5 1365.3,975.0 1336.2,970.7 1361.2,982.4 1335.2,977.3 1377.6,994.1 1335.2,986.7 1375.0,1002.6 1335.2,994.3 1382.5,1012.5 1335.2,1001.0 1380.4,1018.6 1334.1,1008.0 1379.2,1025.9 1331.2,1017.5 1357.2,1029.6 1329.4,1025.6 1375.1,1043.5 1328.4,1032.5 1362.5,1046.9 1327.2,1042.1 1386.5,1064.0 1326.4,1048.9 1374.9,1067.8 1322.7,1058.3 1354.3,1072.4 1320.6,1066.7 1347.9,1078.7 1321.6,1074.3 1370.7,1092.8 1322.7,1082.5 1375.3,1102.2 1323.7,1089.2 1361.5,1104.4 1324.7,1098.4 1370.5,1116.0 1325.2,1104.0 1322.0,1104.0 1320.1,1103.0 1312.5,1099.0 1304.8,1095.0 1299.6,1091.0 1296.7,1087.0 1293.9,1083.0 1291.0,1079.0 1289.2,1075.0 1287.4,1071.0 1285.5,1067.0 1283.5,1063.0 1280.2,1059.0 1276.9,1055.0 1273.6,1051.0 1271.1,1047.0 1268.6,1043.0 1266.1,1039.0 1263.6,1035.0 1260.8,1031.0 1257.8,1027.0 1254.8,1023.0 1252.3,1019.0 1250.5,1015.0 1248.8,1011.0 1247.0,1007.0 1245.7,1003.0 1245.0,999.0 1244.3,995.0 1243.5,991.0 1243.5,987.0 1245.7,983.0 1247.8,979.0 1250.0,975.0 1251.8,971.0 1253.7,967.0 1255.5,963.0 1256.9,959.0 1258.1,955.0 1259.2,951.0 1260.4,947.0 1261.8,943.0 1263.3,939.0 1264.8,935.0 1266.2,931.0 1266.8,927.0 1267.4,923.0 1268.0,919.0 1268.6,915.0 1269.3,911.0 1270.1,907.0 1270.8,903.0 1271.6,899.0 1272.3,895.0 1273.1,891.0 1273.8,887.0 1277.0,883.0 1281.0,879.0 1285.0,875.0 1286.7,871.0 1287.6,867.0 1288.5,863.0 1289.0,859.0 1289.0,855.0 1289.0,851.0 1289.0,847.0 1288.5,843.0 1287.9,839.0 1287.3,835.0 1286.6,831.0 1286.0,827.0 1286.8,823.0 1287.5,819.0 1288.2,815.0 1289.0,811.0 1290.4,807.0 1291.9,803.0 1293.3,799.0 1295.2,795.0 1297.5,791.0 1299.8,787.0 1303.3,783.0 1308.0,779.0 1312.7,775.0 1317.3,771.0 1322.0,767.0" fill="#000c88"/><polygon points="1378.0,767.0 1403.8,779.1 1375.9,774.6 1394.4,784.5 1373.3,783.8 1388.5,792.8 1370.2,791.8 1405.2,806.8 1368.3,798.4 1398.1,811.1 1370.1,806.8 1388.4,816.0 1376.1,814.4 1414.4,828.1 1387.3,822.3 1388.3,826.9 1385.2,829.2 1385.4,833.6 1383.1,835.9 1383.9,840.5 1380.6,845.3 1383.8,849.9 1383.8,854.2 1387.2,858.7 1390.3,862.9 1394.9,867.3 1394.5,870.3 1397.4,874.9 1394.1,879.0 1394.9,883.5 1392.5,885.7 1393.4,890.1 1391.6,892.8 1392.6,897.2 1390.4,901.7 1391.0,906.2 1388.4,911.0 1390.0,915.7 1386.7,917.6 1386.9,922.1 1383.8,925.5 1383.4,929.9 1377.3,933.3 1367.1,938.0 1355.9,940.0 1389.1,957.8 1340.0,946.8 1384.8,964.4 1338.9,956.1 1370.7,969.8 1338.1,962.5 1365.3,975.0 1336.2,970.7 1361.2,982.4 1335.2,977.3 1377.6,994.1 1335.2,986.7 1375.0,1002.6 1335.2,994.3 1382.5,1012.5 1335.2,1001.0 1380.4,1018.6 1334.1,1008.0 1379.2,1025.9 1331.2,1017.5 1357.2,1029.6 1329.4,1025.6 1375.1,1043.5 1328.4,1032.5 1362.5,1046.9 1327.2,1042.1 1386.5,1064.0 1326.4,1048.9 1374.9,1067.8 1322.7,1058.3 1354.3,1072.4 1320.6,1066.7 1347.9,1078.7 1321.6,1074.3 1370.7,1092.8 1322.7,1082.5 1375.3,1102.2 1323.7,1089.2 1361.5,1104.4 1324.7,1098.4 1370.5,1116.0 1325.2,1104.0 1323.5,1104.0 1321.9,1103.0 1315.3,1099.0 1308.8,1095.0 1304.1,1091.0 1301.2,1087.0 1298.4,1083.0 1295.5,1079.0 1293.8,1075.0 1292.1,1071.0 1290.4,1067.0 1288.5,1063.0 1285.3,1059.0 1282.0,1055.0 1278.8,1051.0 1276.3,1047.0 1273.9,1043.0 1271.4,1039.0 1268.9,1035.0 1266.3,1031.0 1263.7,1027.0 1261.1,1023.0 1259.0,1019.0 1257.8,1015.0 1256.5,1011.0 1255.2,1007.0 1255.0,1003.0 1256.2,999.0 1257.4,995.0 1258.6,991.0 1260.1,987.0 1262.4,983.0 1264.7,979.0 1267.0,975.0 1267.5,971.0 1267.9,967.0 1268.4,963.0 1268.9,959.0 1269.5,955.0 1270.1,951.0 1270.7,947.0 1271.4,943.0 1272.2,939.0 1272.9,935.0 1273.6,931.0 1273.9,927.0 1274.2,923.0 1274.5,919.0 1274.8,915.0 1275.2,911.0 1275.5,907.0 1275.9,903.0 1276.8,899.0 1277.8,895.0 1278.8,891.0 1279.8,887.0 1282.8,883.0 1286.4,879.0 1290.1,875.0 1291.7,871.0 1292.6,867.0 1293.5,863.0 1294.1,859.0 1294.4,855.0 1294.7,851.0 1294.9,847.0 1295.0,843.0 1295.0,839.0 1295.0,835.0 1295.0,831.0 1295.0,827.0 1295.6,823.0 1296.2,819.0 1296.9,815.0 1297.5,811.0 1298.6,807.0 1299.8,803.0 1300.9,799.0 1302.8,795.0 1305.2,791.0 1307.8,787.0 1311.0,783.0 1315.0,779.0 1319.0,775.0 1323.0,771.0 1327.0,767.0" fill="#0037b0"/><polygon points="1378.0,767.0 1403.8,779.1 1375.9,774.6 1394.4,784.5 1373.3,783.8 1388.5,792.8 1370.2,791.8 1405.2,806.8 1368.3,798.4 1398.1,811.1 1370.1,806.8 1388.4,816.0 1376.1,814.4 1414.4,828.1 1387.3,822.3 1388.3,826.9 1385.2,829.2 1385.4,833.6 1383.1,835.9 1383.9,840.5 1380.6,845.3 1383.8,849.9 1383.8,854.2 1387.2,858.7 1390.3,862.9 1394.9,867.3 1394.5,870.3 1397.4,874.9 1394.1,879.0 1394.9,883.5 1392.5,885.7 1393.4,890.1 1391.6,892.8 1392.6,897.2 1390.4,901.7 1391.0,906.2 1388.4,911.0 1390.0,915.7 1386.7,917.6 1386.9,922.1 1383.8,925.5 1383.4,929.9 1377.3,933.3 1367.1,938.0 1355.9,940.0 1389.1,957.8 1340.0,946.8 1384.8,964.4 1338.9,956.1 1370.7,969.8 1338.1,962.5 1365.3,975.0 1336.2,970.7 1361.2,982.4 1335.2,977.3 1377.6,994.1 1335.2,986.7 1375.0,1002.6 1335.2,994.3 1382.5,1012.5 1335.2,1001.0 1380.4,1018.6 1334.1,1008.0 1379.2,1025.9 1331.2,1017.5 1357.2,1029.6 1329.4,1025.6 1375.1,1043.5 1328.4,1032.5 1362.5,1046.9 1327.2,1042.1 1386.5,1064.0 1326.4,1048.9 1374.9,1067.8 1322.7,1058.3 1354.3,1072.4 1320.6,1066.7 1347.9,1078.7 1321.6,1074.3 1370.7,1092.8 1322.7,1082.5 1375.3,1102.2 1323.7,1089.2 1361.5,1104.4 1324.7,1098.4 1370.5,1116.0 1325.2,1104.0 1325.0,1104.0 1323.6,1103.0 1318.2,1099.0 1312.7,1095.0 1308.6,1091.0 1305.7,1087.0 1302.9,1083.0 1300.0,1079.0 1298.4,1075.0 1296.9,1071.0 1295.3,1067.0 1293.5,1063.0 1290.3,1059.0 1287.2,1055.0 1284.0,1051.0 1281.6,1047.0 1279.1,1043.0 1276.7,1039.0 1274.2,1035.0 1271.9,1031.0 1269.6,1027.0 1267.4,1023.0 1265.7,1019.0 1265.0,1015.0 1264.2,1011.0 1263.5,1007.0 1264.3,1003.0 1267.4,999.0 1270.5,995.0 1273.7,991.0 1276.6,987.0 1279.1,983.0 1281.5,979.0 1284.0,975.0 1283.1,971.0 1282.2,967.0 1281.2,963.0 1281.0,959.0 1281.0,955.0 1281.0,951.0 1281.0,947.0 1281.0,943.0 1281.0,939.0 1281.0,935.0 1281.0,931.0 1281.0,927.0 1281.0,923.0 1281.0,919.0 1281.0,915.0 1281.0,911.0 1281.0,907.0 1281.0,903.0 1281.9,899.0 1283.2,895.0 1284.4,891.0 1285.7,887.0 1288.5,883.0 1291.8,879.0 1295.2,875.0 1296.7,871.0 1297.6,867.0 1298.5,863.0 1299.3,859.0 1299.8,855.0 1300.3,851.0 1300.9,847.0 1301.5,843.0 1302.1,839.0 1302.7,835.0 1303.4,831.0 1304.0,827.0 1304.5,823.0 1305.0,819.0 1305.5,815.0 1306.0,811.0 1306.9,807.0 1307.7,803.0 1308.6,799.0 1310.3,795.0 1313.0,791.0 1315.7,787.0 1318.7,783.0 1322.0,779.0 1325.3,775.0 1328.7,771.0 1332.0,767.0" fill="#0860d8"/><polygon points="1378.0,767.0 1403.8,779.1 1375.9,774.6 1394.4,784.5 1373.3,783.8 1388.5,792.8 1370.2,791.8 1405.2,806.8 1368.3,798.4 1398.1,811.1 1370.1,806.8 1388.4,816.0 1376.1,814.4 1414.4,828.1 1387.3,822.3 1388.3,826.9 1385.2,829.2 1385.4,833.6 1383.1,835.9 1383.9,840.5 1380.6,845.3 1383.8,849.9 1383.8,854.2 1387.2,858.7 1390.3,862.9 1394.9,867.3 1394.5,870.3 1397.4,874.9 1394.1,879.0 1394.9,883.5 1392.5,885.7 1393.4,890.1 1391.6,892.8 1392.6,897.2 1390.4,901.7 1391.0,906.2 1388.4,911.0 1390.0,915.7 1386.7,917.6 1386.9,922.1 1383.8,925.5 1383.4,929.9 1377.3,933.3 1367.1,938.0 1355.9,940.0 1389.1,957.8 1340.0,946.8 1384.8,964.4 1338.9,956.1 1370.7,969.8 1338.1,962.5 1365.3,975.0 1336.2,970.7 1361.2,982.4 1335.2,977.3 1377.6,994.1 1335.2,986.7 1375.0,1002.6 1335.2,994.3 1382.5,1012.5 1335.2,1001.0 1380.4,1018.6 1334.1,1008.0 1379.2,1025.9 1331.2,1017.5 1357.2,1029.6 1329.4,1025.6 1375.1,1043.5 1328.4,1032.5 1362.5,1046.9 1327.2,1042.1 1386.5,1064.0 1326.4,1048.9 1374.9,1067.8 1322.7,1058.3 1354.3,1072.4 1320.6,1066.7 1347.9,1078.7 1321.6,1074.3 1370.7,1092.8 1322.7,1082.5 1375.3,1102.2 1323.7,1089.2 1361.5,1104.4 1324.7,1098.4 1370.5,1116.0 1325.2,1104.0 1325.0,1104.0 1324.0,1103.0 1319.6,1099.0 1315.3,1095.0 1311.9,1091.0 1309.6,1087.0 1307.2,1083.0 1304.9,1079.0 1303.6,1075.0 1302.2,1071.0 1300.9,1067.0 1299.5,1063.0 1297.4,1059.0 1295.3,1055.0 1293.3,1051.0 1291.5,1047.0 1289.7,1043.0 1287.9,1039.0 1286.1,1035.0 1284.4,1031.0 1282.7,1027.0 1281.1,1023.0 1280.0,1019.0 1279.7,1015.0 1279.4,1011.0 1279.1,1007.0 1279.9,1003.0 1282.3,999.0 1284.7,995.0 1287.2,991.0 1289.5,987.0 1291.4,983.0 1293.3,979.0 1295.3,975.0 1294.7,971.0 1294.2,967.0 1293.7,963.0 1293.7,959.0 1293.8,955.0 1293.9,951.0 1294.0,947.0 1295.4,943.0 1298.2,939.0 1301.0,935.0 1303.2,931.0 1303.5,927.0 1303.8,923.0 1304.1,919.0 1304.4,915.0 1304.6,911.0 1304.8,907.0 1305.0,903.0 1305.9,899.0 1307.0,895.0 1308.1,891.0 1309.1,887.0 1311.5,883.0 1314.3,879.0 1317.2,875.0 1318.2,871.0 1318.7,867.0 1318.7,863.0 1318.4,859.0 1318.4,855.0 1318.4,851.0 1318.5,847.0 1319.0,843.0 1319.8,839.0 1320.5,835.0 1321.2,831.0 1322.0,827.0 1322.7,823.0 1322.1,819.0 1321.2,815.0 1320.3,811.0 1320.8,807.0 1321.3,803.0 1321.7,799.0 1323.2,795.0 1325.7,791.0 1328.1,787.0 1330.7,783.0 1333.6,779.0 1336.4,775.0 1339.3,771.0 1342.1,767.0" fill="#107dec"/><polygon points="1378.0,767.0 1403.8,779.1 1375.9,774.6 1394.4,784.5 1373.3,783.8 1388.5,792.8 1370.2,791.8 1405.2,806.8 1368.3,798.4 1398.1,811.1 1370.1,806.8 1388.4,816.0 1376.1,814.4 1414.4,828.1 1387.3,822.3 1388.3,826.9 1385.2,829.2 1385.4,833.6 1383.1,835.9 1383.9,840.5 1380.6,845.3 1383.8,849.9 1383.8,854.2 1387.2,858.7 1390.3,862.9 1394.9,867.3 1394.5,870.3 1397.4,874.9 1394.1,879.0 1394.9,883.5 1392.5,885.7 1393.4,890.1 1391.6,892.8 1392.6,897.2 1390.4,901.7 1391.0,906.2 1388.4,911.0 1390.0,915.7 1386.7,917.6 1386.9,922.1 1383.8,925.5 1383.4,929.9 1377.3,933.3 1367.1,938.0 1355.9,940.0 1389.1,957.8 1340.0,946.8 1384.8,964.4 1338.9,956.1 1370.7,969.8 1338.1,962.5 1365.3,975.0 1336.2,970.7 1361.2,982.4 1335.2,977.3 1377.6,994.1 1335.2,986.7 1375.0,1002.6 1335.2,994.3 1382.5,1012.5 1335.2,1001.0 1380.4,1018.6 1334.1,1008.0 1379.2,1025.9 1331.2,1017.5 1357.2,1029.6 1329.4,1025.6 1375.1,1043.5 1328.4,1032.5 1362.5,1046.9 1327.2,1042.1 1386.5,1064.0 1326.4,1048.9 1374.9,1067.8 1322.7,1058.3 1354.3,1072.4 1320.6,1066.7 1347.9,1078.7 1321.6,1074.3 1370.7,1092.8 1322.7,1082.5 1375.3,1102.2 1323.7,1089.2 1361.5,1104.4 1324.7,1098.4 1370.5,1116.0 1325.2,1104.0 1325.1,1104.0 1324.3,1103.0 1320.9,1099.0 1317.6,1095.0 1315.0,1091.0 1313.1,1087.0 1311.2,1083.0 1309.3,1079.0 1308.2,1075.0 1307.1,1071.0 1306.0,1067.0 1304.8,1063.0 1303.8,1059.0 1302.8,1055.0 1301.7,1051.0 1300.5,1047.0 1299.3,1043.0 1298.1,1039.0 1296.8,1035.0 1295.7,1031.0 1294.7,1027.0 1293.6,1023.0 1293.0,1019.0 1293.1,1015.0 1293.2,1011.0 1293.3,1007.0 1294.1,1003.0 1295.9,999.0 1297.7,995.0 1299.5,991.0 1301.2,987.0 1302.6,983.0 1304.1,979.0 1305.5,975.0 1305.4,971.0 1305.2,967.0 1305.1,963.0 1305.2,959.0 1305.4,955.0 1305.6,951.0 1305.8,947.0 1308.5,943.0 1313.9,939.0 1319.2,935.0 1323.3,931.0 1323.9,927.0 1324.6,923.0 1325.2,919.0 1325.7,915.0 1326.1,911.0 1326.5,907.0 1326.9,903.0 1327.6,899.0 1328.6,895.0 1329.5,891.0 1330.5,887.0 1332.5,883.0 1334.8,879.0 1337.2,875.0 1337.8,871.0 1337.9,867.0 1337.1,863.0 1335.9,859.0 1335.2,855.0 1334.8,851.0 1334.4,847.0 1335.0,843.0 1335.8,839.0 1336.6,835.0 1337.5,831.0 1338.4,827.0 1339.2,823.0 1337.7,819.0 1335.5,815.0 1333.3,811.0 1333.4,807.0 1333.6,803.0 1333.7,799.0 1334.9,795.0 1337.2,791.0 1339.4,787.0 1341.7,783.0 1344.1,779.0 1346.5,775.0 1348.9,771.0 1351.3,767.0" fill="#1999fd"/><polygon points="1373.4,767.0 1372.1,771.0 1370.7,775.0 1369.4,779.0 1368.1,783.0 1366.5,787.0 1364.8,791.0 1363.0,795.0 1362.4,799.0 1363.1,803.0 1363.8,807.0 1364.5,811.0 1369.8,815.0 1375.1,819.0 1378.8,823.0 1377.7,827.0 1376.5,831.0 1375.3,835.0 1374.3,839.0 1373.2,843.0 1372.8,847.0 1374.3,851.0 1375.7,855.0 1377.7,859.0 1381.2,863.0 1384.0,867.0 1384.9,871.0 1385.2,875.0 1383.9,879.0 1382.7,883.0 1381.6,887.0 1381.0,891.0 1380.5,895.0 1379.9,899.0 1379.3,903.0 1378.5,907.0 1377.7,911.0 1376.9,915.0 1375.6,919.0 1374.3,923.0 1373.0,927.0 1371.7,931.0 1362.8,935.0 1351.4,939.0 1340.0,943.0 1334.1,947.0 1333.6,951.0 1333.2,955.0 1332.8,959.0 1332.3,963.0 1331.6,967.0 1330.8,971.0 1330.1,975.0 1329.8,979.0 1329.6,983.0 1329.3,987.0 1329.0,991.0 1328.7,995.0 1328.4,999.0 1328.1,1003.0 1327.4,1007.0 1326.3,1011.0 1325.2,1015.0 1324.2,1019.0 1323.6,1023.0 1323.3,1027.0 1323.0,1031.0 1322.7,1035.0 1322.5,1039.0 1322.3,1043.0 1322.2,1047.0 1322.0,1051.0 1320.6,1055.0 1319.2,1059.0 1317.8,1063.0 1318.1,1067.0 1318.7,1071.0 1319.4,1075.0 1320.0,1079.0 1320.8,1083.0 1321.6,1087.0 1322.4,1091.0 1323.2,1095.0 1324.1,1099.0 1325.0,1103.0 1325.2,1104.0 1325.1,1104.0 1324.3,1103.0 1321.1,1099.0 1318.0,1095.0 1315.5,1091.0 1313.6,1087.0 1311.8,1083.0 1310.0,1079.0 1308.9,1075.0 1307.8,1071.0 1306.7,1067.0 1305.7,1063.0 1304.8,1059.0 1303.9,1055.0 1303.0,1051.0 1301.9,1047.0 1300.7,1043.0 1299.6,1039.0 1298.5,1035.0 1297.4,1031.0 1296.5,1027.0 1295.5,1023.0 1295.0,1019.0 1295.1,1015.0 1295.2,1011.0 1295.4,1007.0 1296.2,1003.0 1297.9,999.0 1299.6,995.0 1301.3,991.0 1303.0,987.0 1304.3,983.0 1305.7,979.0 1307.0,975.0 1306.9,971.0 1306.9,967.0 1306.8,963.0 1306.9,959.0 1307.1,955.0 1307.3,951.0 1307.5,947.0 1310.5,943.0 1316.2,939.0 1321.9,935.0 1326.3,931.0 1327.0,927.0 1327.7,923.0 1328.3,919.0 1328.9,915.0 1329.3,911.0 1329.7,907.0 1330.1,903.0 1330.9,899.0 1331.8,895.0 1332.7,891.0 1333.7,887.0 1335.6,883.0 1337.9,879.0 1340.2,875.0 1340.8,871.0 1340.8,867.0 1339.9,863.0 1338.5,859.0 1337.8,855.0 1337.3,851.0 1336.8,847.0 1337.4,843.0 1338.2,839.0 1339.0,835.0 1339.9,831.0 1340.8,827.0 1341.7,823.0 1340.1,819.0 1337.7,815.0 1335.2,811.0 1335.3,807.0 1335.4,803.0 1335.5,799.0 1336.7,795.0 1338.9,791.0 1341.1,787.0 1343.4,783.0 1345.7,779.0 1348.0,775.0 1350.4,771.0 1352.7,767.0" fill="#66baff" filter="url(#b4)"/><clipPath id="bc3"><polygon points="1378.0,767.0 1403.8,779.1 1375.9,774.6 1394.4,784.5 1373.3,783.8 1388.5,792.8 1370.2,791.8 1405.2,806.8 1368.3,798.4 1398.1,811.1 1370.1,806.8 1388.4,816.0 1376.1,814.4 1414.4,828.1 1387.3,822.3 1388.3,826.9 1385.2,829.2 1385.4,833.6 1383.1,835.9 1383.9,840.5 1380.6,845.3 1383.8,849.9 1383.8,854.2 1387.2,858.7 1390.3,862.9 1394.9,867.3 1394.5,870.3 1397.4,874.9 1394.1,879.0 1394.9,883.5 1392.5,885.7 1393.4,890.1 1391.6,892.8 1392.6,897.2 1390.4,901.7 1391.0,906.2 1388.4,911.0 1390.0,915.7 1386.7,917.6 1386.9,922.1 1383.8,925.5 1383.4,929.9 1377.3,933.3 1367.1,938.0 1355.9,940.0 1389.1,957.8 1340.0,946.8 1384.8,964.4 1338.9,956.1 1370.7,969.8 1338.1,962.5 1365.3,975.0 1336.2,970.7 1361.2,982.4 1335.2,977.3 1377.6,994.1 1335.2,986.7 1375.0,1002.6 1335.2,994.3 1382.5,1012.5 1335.2,1001.0 1380.4,1018.6 1334.1,1008.0 1379.2,1025.9 1331.2,1017.5 1357.2,1029.6 1329.4,1025.6 1375.1,1043.5 1328.4,1032.5 1362.5,1046.9 1327.2,1042.1 1386.5,1064.0 1326.4,1048.9 1374.9,1067.8 1322.7,1058.3 1354.3,1072.4 1320.6,1066.7 1347.9,1078.7 1321.6,1074.3 1370.7,1092.8 1322.7,1082.5 1375.3,1102.2 1323.7,1089.2 1361.5,1104.4 1324.7,1098.4 1370.5,1116.0 1325.2,1104.0 1322.0,1104.0 1320.1,1103.0 1312.5,1099.0 1304.8,1095.0 1299.6,1091.0 1296.7,1087.0 1293.9,1083.0 1291.0,1079.0 1289.2,1075.0 1287.4,1071.0 1285.5,1067.0 1283.5,1063.0 1280.2,1059.0 1276.9,1055.0 1273.6,1051.0 1271.1,1047.0 1268.6,1043.0 1266.1,1039.0 1263.6,1035.0 1260.8,1031.0 1257.8,1027.0 1254.8,1023.0 1252.3,1019.0 1250.5,1015.0 1248.8,1011.0 1247.0,1007.0 1245.7,1003.0 1245.0,999.0 1244.3,995.0 1243.5,991.0 1243.5,987.0 1245.7,983.0 1247.8,979.0 1250.0,975.0 1251.8,971.0 1253.7,967.0 1255.5,963.0 1256.9,959.0 1258.1,955.0 1259.2,951.0 1260.4,947.0 1261.8,943.0 1263.3,939.0 1264.8,935.0 1266.2,931.0 1266.8,927.0 1267.4,923.0 1268.0,919.0 1268.6,915.0 1269.3,911.0 1270.1,907.0 1270.8,903.0 1271.6,899.0 1272.3,895.0 1273.1,891.0 1273.8,887.0 1277.0,883.0 1281.0,879.0 1285.0,875.0 1286.7,871.0 1287.6,867.0 1288.5,863.0 1289.0,859.0 1289.0,855.0 1289.0,851.0 1289.0,847.0 1288.5,843.0 1287.9,839.0 1287.3,835.0 1286.6,831.0 1286.0,827.0 1286.8,823.0 1287.5,819.0 1288.2,815.0 1289.0,811.0 1290.4,807.0 1291.9,803.0 1293.3,799.0 1295.2,795.0 1297.5,791.0 1299.8,787.0 1303.3,783.0 1308.0,779.0 1312.7,775.0 1317.3,771.0 1322.0,767.0"/></clipPath><g clip-path="url(#bc3)"><path d="M1408.0 767.0Q1322.0 767.0 1322.0 657.0" stroke="#001a9a" stroke-opacity="0.20" stroke-width="5.3" fill="none"/><path d="M1405.5 776.2Q1322.0 776.2 1322.0 666.2" stroke="#ffffff" stroke-opacity="0.11" stroke-width="5.4" fill="none"/><path d="M1402.2 786.8Q1322.0 786.8 1322.0 676.8" stroke="#001a9a" stroke-opacity="0.24" stroke-width="5.5" fill="none"/><path d="M1398.1 796.9Q1322.0 796.9 1322.0 686.9" stroke="#ffffff" stroke-opacity="0.16" stroke-width="4.8" fill="none"/><path d="M1400.2 807.1Q1322.0 807.1 1322.0 697.1" stroke="#001a9a" stroke-opacity="0.18" stroke-width="6.5" fill="none"/><path d="M1410.6 817.5Q1322.0 817.5 1322.0 707.5" stroke="#ffffff" stroke-opacity="0.18" stroke-width="5.4" fill="none"/><path d="M1416.5 824.9Q1322.0 824.9 1322.0 714.9" stroke="#001a9a" stroke-opacity="0.18" stroke-width="6.1" fill="none"/><path d="M1413.5 834.7Q1322.0 834.7 1322.0 724.7" stroke="#ffffff" stroke-opacity="0.19" stroke-width="4.4" fill="none"/><path d="M1410.8 844.5Q1322.0 844.5 1322.0 734.5" stroke="#001a9a" stroke-opacity="0.30" stroke-width="6.4" fill="none"/><path d="M1413.8 854.1Q1322.0 854.1 1322.0 744.1" stroke="#ffffff" stroke-opacity="0.16" stroke-width="5.2" fill="none"/><path d="M1419.3 861.9Q1322.0 861.9 1322.0 751.9" stroke="#001a9a" stroke-opacity="0.17" stroke-width="6.7" fill="none"/><path d="M1424.5 870.5Q1322.0 870.5 1322.0 760.5" stroke="#ffffff" stroke-opacity="0.15" stroke-width="5.4" fill="none"/><path d="M1423.6 881.2Q1317.1 881.2 1317.1 771.2" stroke="#001a9a" stroke-opacity="0.29" stroke-width="5.9" fill="none"/><path d="M1421.7 891.3Q1305.4 891.3 1305.4 781.3" stroke="#ffffff" stroke-opacity="0.17" stroke-width="5.8" fill="none"/><path d="M1420.5 901.3Q1297.3 901.3 1297.3 791.3" stroke="#001a9a" stroke-opacity="0.25" stroke-width="4.2" fill="none"/><path d="M1418.6 910.2Q1292.9 910.2 1292.9 800.2" stroke="#ffffff" stroke-opacity="0.18" stroke-width="5.9" fill="none"/><path d="M1415.5 920.8Q1289.1 920.8 1289.1 810.8" stroke="#001a9a" stroke-opacity="0.27" stroke-width="5.2" fill="none"/><path d="M1412.2 929.7Q1287.4 929.7 1287.4 819.7" stroke="#ffffff" stroke-opacity="0.21" stroke-width="6.1" fill="none"/><path d="M1391.8 938.2Q1286.2 938.2 1286.2 828.2" stroke="#001a9a" stroke-opacity="0.22" stroke-width="5.7" fill="none"/><path d="M1369.9 947.2Q1287.6 947.2 1287.6 837.2" stroke="#ffffff" stroke-opacity="0.19" stroke-width="6.4" fill="none"/><path d="M1368.9 955.9Q1289.0 955.9 1289.0 845.9" stroke="#001a9a" stroke-opacity="0.24" stroke-width="4.6" fill="none"/><path d="M1367.3 966.0Q1289.0 966.0 1289.0 856.0" stroke="#ffffff" stroke-opacity="0.20" stroke-width="5.7" fill="none"/><path d="M1365.3 974.4Q1288.2 974.4 1288.2 864.4" stroke="#001a9a" stroke-opacity="0.17" stroke-width="4.7" fill="none"/><path d="M1365.2 982.6Q1286.3 982.6 1286.3 872.6" stroke="#ffffff" stroke-opacity="0.21" stroke-width="5.6" fill="none"/><path d="M1365.2 992.8Q1277.2 992.8 1277.2 882.8" stroke="#001a9a" stroke-opacity="0.29" stroke-width="4.8" fill="none"/><path d="M1365.2 1000.6Q1273.1 1000.6 1273.1 890.6" stroke="#ffffff" stroke-opacity="0.20" stroke-width="5.2" fill="none"/><path d="M1363.3 1010.8Q1271.2 1010.8 1271.2 900.8" stroke="#001a9a" stroke-opacity="0.22" stroke-width="4.7" fill="none"/><path d="M1360.1 1021.4Q1269.3 1021.4 1269.3 911.4" stroke="#ffffff" stroke-opacity="0.20" stroke-width="6.2" fill="none"/><path d="M1358.6 1031.1Q1267.7 1031.1 1267.7 921.1" stroke="#001a9a" stroke-opacity="0.29" stroke-width="6.4" fill="none"/><path d="M1357.7 1038.6Q1266.5 1038.6 1266.5 928.6" stroke="#ffffff" stroke-opacity="0.11" stroke-width="4.2" fill="none"/><path d="M1356.5 1048.4Q1263.5 1048.4 1263.5 938.4" stroke="#001a9a" stroke-opacity="0.23" stroke-width="6.0" fill="none"/><path d="M1353.8 1056.0Q1260.7 1056.0 1260.7 946.0" stroke="#ffffff" stroke-opacity="0.12" stroke-width="6.4" fill="none"/><path d="M1350.4 1065.4Q1257.9 1065.4 1257.9 955.4" stroke="#001a9a" stroke-opacity="0.18" stroke-width="4.4" fill="none"/><path d="M1351.7 1075.5Q1254.4 1075.5 1254.4 965.5" stroke="#ffffff" stroke-opacity="0.22" stroke-width="4.4" fill="none"/><path d="M1353.2 1086.2Q1249.3 1086.2 1249.3 976.2" stroke="#001a9a" stroke-opacity="0.18" stroke-width="5.1" fill="none"/><path d="M1354.4 1095.7Q1244.2 1095.7 1244.2 985.7" stroke="#ffffff" stroke-opacity="0.21" stroke-width="6.4" fill="none"/><path d="M1355.1 1103.0Q1243.9 1103.0 1243.9 993.0" stroke="#001a9a" stroke-opacity="0.20" stroke-width="4.4" fill="none"/><path d="M1355.2 1110.4Q1245.2 1110.4 1245.2 1000.4" stroke="#ffffff" stroke-opacity="0.19" stroke-width="4.4" fill="none"/><path d="M1355.2 1119.1Q1248.0 1119.1 1248.0 1009.1" stroke="#001a9a" stroke-opacity="0.26" stroke-width="6.1" fill="none"/><path d="M1355.2 1128.3Q1252.0 1128.3 1252.0 1018.3" stroke="#ffffff" stroke-opacity="0.20" stroke-width="5.8" fill="none"/><path d="M1355.2 1136.3Q1257.3 1136.3 1257.3 1026.3" stroke="#001a9a" stroke-opacity="0.19" stroke-width="6.6" fill="none"/><path d="M1355.2 1144.4Q1263.3 1144.4 1263.3 1034.4" stroke="#ffffff" stroke-opacity="0.23" stroke-width="4.2" fill="none"/><path d="M1355.2 1152.8Q1268.5 1152.8 1268.5 1042.8" stroke="#001a9a" stroke-opacity="0.25" stroke-width="4.7" fill="none"/><path d="M1355.2 1163.5Q1275.7 1163.5 1275.7 1053.5" stroke="#ffffff" stroke-opacity="0.19" stroke-width="6.4" fill="none"/><path d="M1355.2 1173.2Q1283.6 1173.2 1283.6 1063.2" stroke="#001a9a" stroke-opacity="0.28" stroke-width="4.4" fill="none"/><path d="M1355.2 1181.7Q1287.7 1181.7 1287.7 1071.7" stroke="#ffffff" stroke-opacity="0.13" stroke-width="5.1" fill="none"/><path d="M1355.2 1189.3Q1291.2 1189.3 1291.2 1079.3" stroke="#001a9a" stroke-opacity="0.18" stroke-width="5.4" fill="none"/><path d="M1355.2 1199.9Q1298.8 1199.9 1298.8 1089.9" stroke="#ffffff" stroke-opacity="0.19" stroke-width="5.8" fill="none"/><path d="M1355.2 1210.4Q1315.1 1210.4 1315.1 1100.4" stroke="#001a9a" stroke-opacity="0.24" stroke-width="5.6" fill="none"/></g>
<polygon points="1200.0,965.0 1215.0,962.0 1265.0,990.0 1262.0,1000.0 1230.0,988.0" fill="#002aa4" filter="url(#b2)"/>
<ellipse cx="1322" cy="924" rx="30" ry="20" fill="#ffffff" filter="url(#b8)" transform="rotate(35 1322 924)"/>
<ellipse cx="1335" cy="952" rx="24" ry="12" fill="#d3e9ff" filter="url(#b8)" transform="rotate(35 1335 952)"/>
<ellipse cx="1298" cy="1013" rx="24" ry="12" fill="#ffffff" filter="url(#b8)" transform="rotate(25 1298 1013)"/>
<ellipse cx="1345" cy="835" rx="18" ry="16" fill="#c2e1ff" filter="url(#b8)"/>
<circle cx="1397" cy="846" r="14.5" fill="#000"/>
</g>
<path d="M163.5 796.97H1836.5 M163.5 826.63H1836.5 M163.5 856.30H1836.5 M163.5 885.97H1836.5 M163.5 915.63H1836.5 M163.5 945.30H1836.5 M163.5 974.97H1836.5 M163.5 1004.63H1836.5 M163.5 1034.30H1836.5 M163.5 1063.97H1836.5 M163.5 1093.63H1836.5 M163.5 1123.30H1836.5 M163.5 1152.97H1836.5 M163.5 1182.63H1836.5 M163.5 1212.30H1836.5 M163.5 1241.97H1836.5 M163.5 1271.63H1836.5" class="gr"/>
<path d="M163.50 768.9V1301.3 M233.21 768.9V1301.3 M302.92 768.9V1301.3 M372.62 768.9V1301.3 M442.33 768.9V1301.3 M512.04 768.9V1301.3 M581.75 768.9V1301.3 M651.46 768.9V1301.3 M721.17 768.9V1301.3 M790.88 768.9V1301.3 M860.58 768.9V1301.3 M930.29 768.9V1301.3 M1000.00 768.9V1301.3 M1069.71 768.9V1301.3 M1139.42 768.9V1301.3 M1209.12 768.9V1301.3 M1278.83 768.9V1301.3 M1348.54 768.9V1301.3 M1418.25 768.9V1301.3 M1487.96 768.9V1301.3 M1557.67 768.9V1301.3 M1627.38 768.9V1301.3 M1697.08 768.9V1301.3 M1766.79 768.9V1301.3 M1836.50 768.9V1301.3" class="gr"/>
<path d="M163.8 1029.5H1836.5" stroke="#ec1418" stroke-width="4" stroke-dasharray="16 15.54" fill="none"/>
<path d="M1000 767.3V1301.8" stroke="#df4306" stroke-width="4" fill="none"/>
<path d="M138.5 767.30H163.5 M151.5 796.97H163.5 M151.5 826.63H163.5 M151.5 856.30H163.5 M138.5 885.97H163.5 M151.5 915.63H163.5 M151.5 945.30H163.5 M151.5 974.97H163.5 M138.5 1004.63H163.5 M151.5 1034.30H163.5 M151.5 1063.97H163.5 M151.5 1093.63H163.5 M138.5 1123.30H163.5 M151.5 1152.97H163.5 M151.5 1182.63H163.5 M151.5 1212.30H163.5 M138.5 1241.97H163.5 M151.5 1271.63H163.5 M151.5 1301.30H163.5 M163.50 1301.3v8 M233.21 1301.3v3.2 M302.92 1301.3v3.2 M372.62 1301.3v8 M442.33 1301.3v3.2 M512.04 1301.3v3.2 M581.75 1301.3v8 M651.46 1301.3v3.2 M721.17 1301.3v3.2 M790.88 1301.3v8 M860.58 1301.3v3.2 M930.29 1301.3v3.2 M1000.00 1301.3v8 M1069.71 1301.3v3.2 M1139.42 1301.3v3.2 M1209.12 1301.3v8 M1278.83 1301.3v3.2 M1348.54 1301.3v3.2 M1418.25 1301.3v8 M1487.96 1301.3v3.2 M1557.67 1301.3v3.2 M1627.38 1301.3v8 M1697.08 1301.3v3.2 M1766.79 1301.3v3.2 M1836.50 1301.3v8 M163.0 1301.3H1837.0" class="tk"/>
<text class="ti" x="804.5" y="50.4" textLength="391.5" lengthAdjust="spacingAndGlyphs">Northern hemisphere</text>
<text class="ti" x="800.5" y="750.6" textLength="398" lengthAdjust="spacingAndGlyphs">Southern hemisphere</text>
<text class="al" x="846" y="694.8" textLength="306.5" lengthAdjust="spacingAndGlyphs">Local Time (hours)</text>
<text class="al" x="846" y="1394.8" textLength="306.5" lengthAdjust="spacingAndGlyphs">Local Time (hours)</text>
<text class="tl" x="163.8" y="655.0" text-anchor="middle">0</text>
<text class="tl" x="372.9" y="655.0" text-anchor="middle">3</text>
<text class="tl" x="582.0" y="655.0" text-anchor="middle">6</text>
<text class="tl" x="791.2" y="655.0" text-anchor="middle">9</text>
<text class="tl" x="1000.3" y="655.0" text-anchor="middle">12</text>
<text class="tl" x="1209.4" y="655.0" text-anchor="middle">15</text>
<text class="tl" x="1418.5" y="655.0" text-anchor="middle">18</text>
<text class="tl" x="1627.7" y="655.0" text-anchor="middle">21</text>
<text class="tl" x="1836.8" y="655.0" text-anchor="middle">24</text>
<text class="tl" x="163.8" y="1355.0" text-anchor="middle">0</text>
<text class="tl" x="372.9" y="1355.0" text-anchor="middle">3</text>
<text class="tl" x="582.0" y="1355.0" text-anchor="middle">6</text>
<text class="tl" x="791.2" y="1355.0" text-anchor="middle">9</text>
<text class="tl" x="1000.3" y="1355.0" text-anchor="middle">12</text>
<text class="tl" x="1209.4" y="1355.0" text-anchor="middle">15</text>
<text class="tl" x="1418.5" y="1355.0" text-anchor="middle">18</text>
<text class="tl" x="1627.7" y="1355.0" text-anchor="middle">21</text>
<text class="tl" x="1836.8" y="1355.0" text-anchor="middle">24</text>
<text class="tl" x="129" y="495.3" text-anchor="end">20</text>
<text class="tl" x="129" y="376.7" text-anchor="end">40</text>
<text class="tl" x="129" y="258.0" text-anchor="end">60</text>
<text class="tl" x="129" y="139.3" text-anchor="end">80</text>
<text class="tl" x="129" y="601.1" text-anchor="end">0</text>
<text class="tl" x="129" y="898.7" text-anchor="end">-20</text>
<text class="tl" x="129" y="1017.3" text-anchor="end">-40</text>
<text class="tl" x="129" y="1136.0" text-anchor="end">-60</text>
<text class="tl" x="129" y="1254.7" text-anchor="end">-80</text>
<text class="tl" x="129" y="789.5" text-anchor="end">0</text>
<text class="al" transform="translate(60 333.6) rotate(-90)" text-anchor="middle" x="0" y="0">Latitude (<tspan font-size="25px" dy="-9">°</tspan><tspan dy="9">)</tspan></text>
<text class="al" transform="translate(60 1033.6) rotate(-90)" text-anchor="middle" x="0" y="0">Latitude (<tspan font-size="25px" dy="-9">°</tspan><tspan dy="9">)</tspan></text>
<rect x="1851" y="1090.2" width="38" height="209.6" fill="url(#cbg)" stroke="#000" stroke-width="2"/>
<text class="cb" x="1838" y="1078">kR H<tspan font-size="12px" dy="3.8">2</tspan></text>
<text class="cn" x="1898" y="1107.2">10</text>
<text class="cn" x="1895" y="1299.6">1</text>
</svg></body></html>
